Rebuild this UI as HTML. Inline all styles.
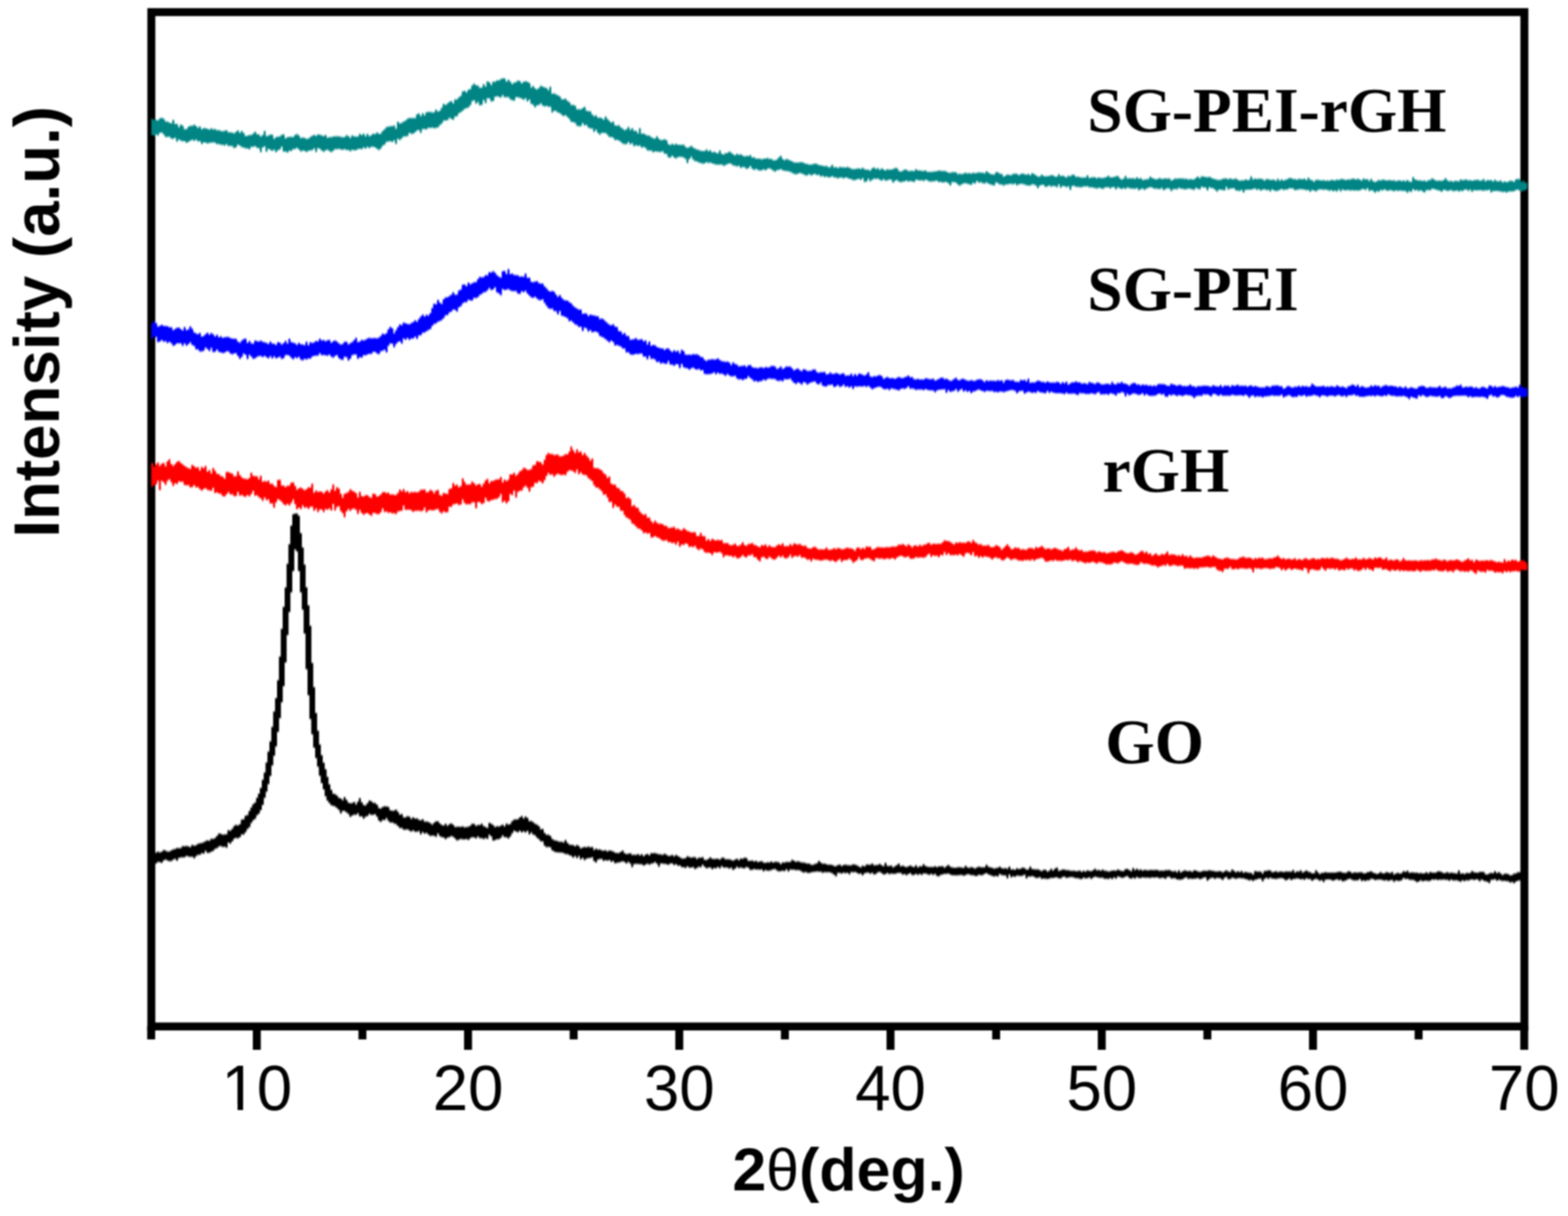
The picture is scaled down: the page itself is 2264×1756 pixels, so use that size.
<!DOCTYPE html>
<html><head><meta charset="utf-8"><style>
html,body{margin:0;padding:0;background:#fff;}
svg{display:block;filter:blur(0.8px);}
</style></head><body>
<svg width="2264" height="1756" viewBox="0 0 2264 1756">
<rect width="2264" height="1756" fill="#fff"/>
<rect x="218.5" y="17.5" width="1982.5" height="1464.8" fill="none" stroke="#000" stroke-width="11.5"/>
<g stroke="#000" stroke-width="11.5">
<line x1="218.3" y1="1482" x2="218.3" y2="1501"/>
<line x1="370.8" y1="1482" x2="370.8" y2="1516"/>
<line x1="523.3" y1="1482" x2="523.3" y2="1501"/>
<line x1="675.8" y1="1482" x2="675.8" y2="1516"/>
<line x1="828.3" y1="1482" x2="828.3" y2="1501"/>
<line x1="980.8" y1="1482" x2="980.8" y2="1516"/>
<line x1="1133.3" y1="1482" x2="1133.3" y2="1501"/>
<line x1="1285.8" y1="1482" x2="1285.8" y2="1516"/>
<line x1="1438.3" y1="1482" x2="1438.3" y2="1501"/>
<line x1="1590.8" y1="1482" x2="1590.8" y2="1516"/>
<line x1="1743.3" y1="1482" x2="1743.3" y2="1501"/>
<line x1="1895.8" y1="1482" x2="1895.8" y2="1516"/>
<line x1="2048.3" y1="1482" x2="2048.3" y2="1501"/>
<line x1="2200.8" y1="1482" x2="2200.8" y2="1516"/>
</g>
<g>
<path fill="#008484" fill-opacity="0.45" d="M218.5 170.4 221.2 170.4 221.2 172.0 224.0 172.0 224.0 172.1 226.8 172.1 226.8 172.7 229.5 172.7 229.5 170.0 232.2 170.0 232.2 168.9 235.0 168.9 235.0 170.4 237.8 170.4 237.8 174.3 240.5 174.3 240.5 174.4 243.2 174.4 243.2 176.1 246.0 176.1 246.0 177.1 248.8 177.1 248.8 172.0 251.5 172.0 251.5 177.8 254.2 177.8 254.2 178.0 257.0 178.0 257.0 182.4 259.8 182.4 259.8 178.8 262.5 178.8 262.5 180.4 265.2 180.4 265.2 185.6 268.0 185.6 268.0 185.2 270.8 185.2 270.8 181.9 273.5 181.9 273.5 180.5 276.2 180.5 276.2 180.8 279.0 180.8 279.0 178.9 281.8 178.9 281.8 181.1 284.5 181.1 284.5 183.4 287.2 183.4 287.2 181.6 290.0 181.6 290.0 185.4 292.8 185.4 292.8 184.0 295.5 184.0 295.5 183.9 298.2 183.9 298.2 184.9 301.0 184.9 301.0 186.1 303.8 186.1 303.8 184.3 306.5 184.3 306.5 185.8 309.2 185.8 309.2 185.2 312.0 185.2 312.0 187.0 314.8 187.0 314.8 186.8 317.5 186.8 317.5 187.9 320.2 187.9 320.2 188.4 323.0 188.4 323.0 187.7 325.8 187.7 325.8 186.9 328.5 186.9 328.5 189.9 331.2 189.9 331.2 190.0 334.0 190.0 334.0 190.5 336.8 190.5 336.8 191.6 339.5 191.6 339.5 189.2 342.2 189.2 342.2 187.2 345.0 187.2 345.0 190.8 347.8 190.8 347.8 188.0 350.5 188.0 350.5 191.0 353.2 191.0 353.2 195.2 356.0 195.2 356.0 194.9 358.8 194.9 358.8 193.7 361.5 193.7 361.5 193.9 364.2 193.9 364.2 191.8 367.0 191.8 367.0 189.3 369.8 189.3 369.8 192.4 372.5 192.4 372.5 193.3 375.2 193.3 375.2 195.9 378.0 195.9 378.0 193.8 380.8 193.8 380.8 187.9 383.5 187.9 383.5 195.4 386.2 195.4 386.2 194.7 389.0 194.7 389.0 193.3 391.8 193.3 391.8 193.6 394.5 193.6 394.5 199.3 397.2 199.3 397.2 197.1 400.0 197.1 400.0 196.2 402.8 196.2 402.8 196.1 405.5 196.1 405.5 193.4 408.2 193.4 408.2 193.0 411.0 193.0 411.0 198.8 413.8 198.8 413.8 197.0 416.5 197.0 416.5 196.4 419.2 196.4 419.2 196.6 422.0 196.6 422.0 196.7 424.8 196.7 424.8 193.8 427.5 193.8 427.5 192.6 430.2 192.6 430.2 194.6 433.0 194.6 433.0 198.2 435.8 198.2 435.8 197.5 438.5 197.5 438.5 198.0 441.2 198.0 441.2 199.5 444.0 199.5 444.0 199.1 446.8 199.1 446.8 196.7 449.5 196.7 449.5 195.1 452.2 195.1 452.2 193.8 455.0 193.8 455.0 195.3 457.8 195.3 457.8 193.1 460.5 193.1 460.5 193.5 463.2 193.5 463.2 194.5 466.0 194.5 466.0 195.5 468.8 195.5 468.8 193.7 471.5 193.7 471.5 197.9 474.2 197.9 474.2 197.0 477.0 197.0 477.0 197.1 479.8 197.1 479.8 196.1 482.5 196.1 482.5 195.7 485.2 195.7 485.2 195.7 488.0 195.7 488.0 195.7 490.8 195.7 490.8 196.5 493.5 196.5 493.5 197.3 496.2 197.3 496.2 196.7 499.0 196.7 499.0 194.3 501.8 194.3 501.8 195.5 504.5 195.5 504.5 198.1 507.2 198.1 507.2 194.5 510.0 194.5 510.0 195.8 512.8 195.8 512.8 196.3 515.5 196.3 515.5 195.9 518.2 195.9 518.2 192.3 521.0 192.3 521.0 194.1 523.8 194.1 523.8 192.0 526.5 192.0 526.5 195.7 529.2 195.7 529.2 192.2 532.0 192.2 532.0 195.6 534.8 195.6 534.8 193.9 537.5 193.9 537.5 192.0 540.2 192.0 540.2 192.4 543.0 192.4 543.0 190.2 545.8 190.2 545.8 192.3 548.5 192.3 548.5 191.8 551.2 191.8 551.2 188.0 554.0 188.0 554.0 185.4 556.8 185.4 556.8 182.6 559.5 182.6 559.5 181.7 562.2 181.7 562.2 181.2 565.0 181.2 565.0 181.0 567.8 181.0 567.8 180.3 570.5 180.3 570.5 184.8 573.2 184.8 573.2 174.8 576.0 174.8 576.0 177.3 578.8 177.3 578.8 176.2 581.5 176.2 581.5 174.5 584.2 174.5 584.2 172.9 587.0 172.9 587.0 170.6 589.8 170.6 589.8 169.2 592.5 169.2 592.5 169.4 595.2 169.4 595.2 169.2 598.0 169.2 598.0 169.4 600.8 169.4 600.8 164.1 603.5 164.1 603.5 162.8 606.2 162.8 606.2 166.4 609.0 166.4 609.0 162.6 611.8 162.6 611.8 165.4 614.5 165.4 614.5 161.0 617.2 161.0 617.2 160.6 620.0 160.6 620.0 160.5 622.8 160.5 622.8 161.5 625.5 161.5 625.5 161.1 628.2 161.1 628.2 157.2 631.0 157.2 631.0 160.0 633.8 160.0 633.8 158.8 636.5 158.8 636.5 154.6 639.2 154.6 639.2 149.1 642.0 149.1 642.0 150.4 644.8 150.4 644.8 148.6 647.5 148.6 647.5 146.0 650.2 146.0 650.2 144.9 653.0 144.9 653.0 148.0 655.8 148.0 655.8 142.5 658.5 142.5 658.5 142.4 661.2 142.4 661.2 139.6 664.0 139.6 664.0 137.2 666.8 137.2 666.8 131.1 669.5 131.1 669.5 129.9 672.2 129.9 672.2 132.3 675.0 132.3 675.0 128.4 677.8 128.4 677.8 127.6 680.5 127.6 680.5 122.3 683.2 122.3 683.2 119.8 686.0 119.8 686.0 122.0 688.8 122.0 688.8 122.5 691.5 122.5 691.5 125.7 694.2 125.7 694.2 125.3 697.0 125.3 697.0 120.5 699.8 120.5 699.8 123.7 702.5 123.7 702.5 116.4 705.2 116.4 705.2 117.7 708.0 117.7 708.0 121.4 710.8 121.4 710.8 116.7 713.5 116.7 713.5 117.0 716.2 117.0 716.2 115.1 719.0 115.1 719.0 115.0 721.8 115.0 721.8 113.3 724.5 113.3 724.5 112.1 727.2 112.1 727.2 112.3 730.0 112.3 730.0 116.7 732.8 116.7 732.8 114.1 735.5 114.1 735.5 116.7 738.2 116.7 738.2 120.3 741.0 120.3 741.0 118.2 743.8 118.2 743.8 117.4 746.5 117.4 746.5 115.2 749.2 115.2 749.2 116.0 752.0 116.0 752.0 119.3 754.8 119.3 754.8 117.0 757.5 117.0 757.5 116.2 760.2 116.2 760.2 117.1 763.0 117.1 763.0 118.7 765.8 118.7 765.8 125.2 768.5 125.2 768.5 123.1 771.2 123.1 771.2 126.4 774.0 126.4 774.0 128.1 776.8 128.1 776.8 125.9 779.5 125.9 779.5 122.7 782.2 122.7 782.2 124.0 785.0 124.0 785.0 125.3 787.8 125.3 787.8 126.1 790.5 126.1 790.5 129.3 793.2 129.3 793.2 124.3 796.0 124.3 796.0 134.2 798.8 134.2 798.8 133.7 801.5 133.7 801.5 135.2 804.2 135.2 804.2 136.6 807.0 136.6 807.0 138.3 809.8 138.3 809.8 142.3 812.5 142.3 812.5 142.3 815.2 142.3 815.2 141.4 818.0 141.4 818.0 144.4 820.8 144.4 820.8 146.4 823.5 146.4 823.5 150.5 826.2 150.5 826.2 150.4 829.0 150.4 829.0 151.5 831.8 151.5 831.8 156.7 834.5 156.7 834.5 156.4 837.2 156.4 837.2 157.1 840.0 157.1 840.0 154.9 842.8 154.9 842.8 153.3 845.5 153.3 845.5 158.7 848.2 158.7 848.2 159.6 851.0 159.6 851.0 159.8 853.8 159.8 853.8 164.3 856.5 164.3 856.5 166.7 859.2 166.7 859.2 165.5 862.0 165.5 862.0 169.0 864.8 169.0 864.8 168.7 867.5 168.7 867.5 169.6 870.2 169.6 870.2 171.8 873.0 171.8 873.0 167.2 875.8 167.2 875.8 170.7 878.5 170.7 878.5 173.6 881.2 173.6 881.2 176.1 884.0 176.1 884.0 174.4 886.8 174.4 886.8 180.0 889.5 180.0 889.5 180.4 892.2 180.4 892.2 179.7 895.0 179.7 895.0 182.8 897.8 182.8 897.8 184.7 900.5 184.7 900.5 187.1 903.2 187.1 903.2 185.5 906.0 185.5 906.0 182.2 908.8 182.2 908.8 186.4 911.5 186.4 911.5 184.1 914.2 184.1 914.2 187.7 917.0 187.7 917.0 188.1 919.8 188.1 919.8 191.5 922.5 191.5 922.5 183.9 925.2 183.9 925.2 192.0 928.0 192.0 928.0 191.8 930.8 191.8 930.8 193.2 933.5 193.2 933.5 194.8 936.2 194.8 936.2 194.7 939.0 194.7 939.0 197.1 941.8 197.1 941.8 198.6 944.5 198.6 944.5 199.1 947.2 199.1 947.2 195.8 950.0 195.8 950.0 199.3 952.8 199.3 952.8 201.3 955.5 201.3 955.5 201.1 958.2 201.1 958.2 200.0 961.0 200.0 961.0 201.4 963.8 201.4 963.8 207.1 966.5 207.1 966.5 208.4 969.2 208.4 969.2 206.4 972.0 206.4 972.0 208.0 974.8 208.0 974.8 206.4 977.5 206.4 977.5 207.9 980.2 207.9 980.2 208.1 983.0 208.1 983.0 208.2 985.8 208.2 985.8 207.7 988.5 207.7 988.5 210.9 991.2 210.9 991.2 212.6 994.0 212.6 994.0 211.3 996.8 211.3 996.8 209.6 999.5 209.6 999.5 212.0 1002.2 212.0 1002.2 213.4 1005.0 213.4 1005.0 214.7 1007.8 214.7 1007.8 215.4 1010.5 215.4 1010.5 216.7 1013.2 216.7 1013.2 216.9 1016.0 216.9 1016.0 217.0 1018.8 217.0 1018.8 214.7 1021.5 214.7 1021.5 217.2 1024.2 217.2 1024.2 216.0 1027.0 216.0 1027.0 218.9 1029.8 218.9 1029.8 218.0 1032.5 218.0 1032.5 219.6 1035.2 219.6 1035.2 220.3 1038.0 220.3 1038.0 216.2 1040.8 216.2 1040.8 220.9 1043.5 220.9 1043.5 222.0 1046.2 222.0 1046.2 220.2 1049.0 220.2 1049.0 219.8 1051.8 219.8 1051.8 217.8 1054.5 217.8 1054.5 219.5 1057.2 219.5 1057.2 221.7 1060.0 221.7 1060.0 223.3 1062.8 223.3 1062.8 221.1 1065.5 221.1 1065.5 222.5 1068.2 222.5 1068.2 221.7 1071.0 221.7 1071.0 223.6 1073.8 223.6 1073.8 225.0 1076.5 225.0 1076.5 224.1 1079.2 224.1 1079.2 224.3 1082.0 224.3 1082.0 223.0 1084.8 223.0 1084.8 226.5 1087.5 226.5 1087.5 226.0 1090.2 226.0 1090.2 228.1 1093.0 228.1 1093.0 228.1 1095.8 228.1 1095.8 227.9 1098.5 227.9 1098.5 229.3 1101.2 229.3 1101.2 228.1 1104.0 228.1 1104.0 227.9 1106.8 227.9 1106.8 227.1 1109.5 227.1 1109.5 228.6 1112.2 228.6 1112.2 228.3 1115.0 228.3 1115.0 230.2 1117.8 230.2 1117.8 230.5 1120.5 230.5 1120.5 229.3 1123.2 229.3 1123.2 226.3 1126.0 226.3 1126.0 224.0 1128.8 224.0 1128.8 228.6 1131.5 228.6 1131.5 230.3 1134.2 230.3 1134.2 228.6 1137.0 228.6 1137.0 229.6 1139.8 229.6 1139.8 230.7 1142.5 230.7 1142.5 232.0 1145.2 232.0 1145.2 233.6 1148.0 233.6 1148.0 233.6 1150.8 233.6 1150.8 233.8 1153.5 233.8 1153.5 233.3 1156.2 233.3 1156.2 233.0 1159.0 233.0 1159.0 233.9 1161.8 233.9 1161.8 235.3 1164.5 235.3 1164.5 235.7 1167.2 235.7 1167.2 236.8 1170.0 236.8 1170.0 236.4 1172.8 236.4 1172.8 236.1 1175.5 236.1 1175.5 234.9 1178.2 234.9 1178.2 235.7 1181.0 235.7 1181.0 237.3 1183.8 237.3 1183.8 237.8 1186.5 237.8 1186.5 238.2 1189.2 238.2 1189.2 238.9 1192.0 238.9 1192.0 238.4 1194.8 238.4 1194.8 240.4 1197.5 240.4 1197.5 240.3 1200.2 240.3 1200.2 237.0 1203.0 237.0 1203.0 240.7 1205.8 240.7 1205.8 240.1 1208.5 240.1 1208.5 241.8 1211.2 241.8 1211.2 240.0 1214.0 240.0 1214.0 240.6 1216.8 240.6 1216.8 240.6 1219.5 240.6 1219.5 241.0 1222.2 241.0 1222.2 239.9 1225.0 239.9 1225.0 241.1 1227.8 241.1 1227.8 242.5 1230.5 242.5 1230.5 243.3 1233.2 243.3 1233.2 242.9 1236.0 242.9 1236.0 242.5 1238.8 242.5 1238.8 242.0 1241.5 242.0 1241.5 243.1 1244.2 243.1 1244.2 241.2 1247.0 241.2 1247.0 243.3 1249.8 243.3 1249.8 243.9 1252.5 243.9 1252.5 243.9 1255.2 243.9 1255.2 245.3 1258.0 245.3 1258.0 242.1 1260.8 242.1 1260.8 240.8 1263.5 240.8 1263.5 242.9 1266.2 242.9 1266.2 241.8 1269.0 241.8 1269.0 244.2 1271.8 244.2 1271.8 242.0 1274.5 242.0 1274.5 243.7 1277.2 243.7 1277.2 244.9 1280.0 244.9 1280.0 243.2 1282.8 243.2 1282.8 244.1 1285.5 244.1 1285.5 243.7 1288.2 243.7 1288.2 243.1 1291.0 243.1 1291.0 241.6 1293.8 241.6 1293.8 241.7 1296.5 241.7 1296.5 245.4 1299.2 245.4 1299.2 246.8 1302.0 246.8 1302.0 245.5 1304.8 245.5 1304.8 243.8 1307.5 243.8 1307.5 243.9 1310.2 243.9 1310.2 246.0 1313.0 246.0 1313.0 245.7 1315.8 245.7 1315.8 245.4 1318.5 245.4 1318.5 246.0 1321.2 246.0 1321.2 243.3 1324.0 243.3 1324.0 245.0 1326.8 245.0 1326.8 244.9 1329.5 244.9 1329.5 245.8 1332.2 245.8 1332.2 245.7 1335.0 245.7 1335.0 244.9 1337.8 244.9 1337.8 247.3 1340.5 247.3 1340.5 247.1 1343.2 247.1 1343.2 247.3 1346.0 247.3 1346.0 246.7 1348.8 246.7 1348.8 246.4 1351.5 246.4 1351.5 245.9 1354.2 245.9 1354.2 245.2 1357.0 245.2 1357.0 245.5 1359.8 245.5 1359.8 245.9 1362.5 245.9 1362.5 245.7 1365.2 245.7 1365.2 246.7 1368.0 246.7 1368.0 248.2 1370.8 248.2 1370.8 248.5 1373.5 248.5 1373.5 247.4 1376.2 247.4 1376.2 247.5 1379.0 247.5 1379.0 247.8 1381.8 247.8 1381.8 250.4 1384.5 250.4 1384.5 249.4 1387.2 249.4 1387.2 250.5 1390.0 250.5 1390.0 249.5 1392.8 249.5 1392.8 248.2 1395.5 248.2 1395.5 249.5 1398.2 249.5 1398.2 248.7 1401.0 248.7 1401.0 249.7 1403.8 249.7 1403.8 248.2 1406.5 248.2 1406.5 249.2 1409.2 249.2 1409.2 248.6 1412.0 248.6 1412.0 247.8 1414.8 247.8 1414.8 248.3 1417.5 248.3 1417.5 248.2 1420.2 248.2 1420.2 249.3 1423.0 249.3 1423.0 246.3 1425.8 246.3 1425.8 248.1 1428.5 248.1 1428.5 249.9 1431.2 249.9 1431.2 250.8 1434.0 250.8 1434.0 251.1 1436.8 251.1 1436.8 247.7 1439.5 247.7 1439.5 247.6 1442.2 247.6 1442.2 249.8 1445.0 249.8 1445.0 250.2 1447.8 250.2 1447.8 253.9 1450.5 253.9 1450.5 252.4 1453.2 252.4 1453.2 251.1 1456.0 251.1 1456.0 251.6 1458.8 251.6 1458.8 251.9 1461.5 251.9 1461.5 250.1 1464.2 250.1 1464.2 249.8 1467.0 249.8 1467.0 249.9 1469.8 249.9 1469.8 252.0 1472.5 252.0 1472.5 250.3 1475.2 250.3 1475.2 249.4 1478.0 249.4 1478.0 250.6 1480.8 250.6 1480.8 251.2 1483.5 251.2 1483.5 250.0 1486.2 250.0 1486.2 252.1 1489.0 252.1 1489.0 249.0 1491.8 249.0 1491.8 250.3 1494.5 250.3 1494.5 252.0 1497.2 252.0 1497.2 254.0 1500.0 254.0 1500.0 253.7 1502.8 253.7 1502.8 251.0 1505.5 251.0 1505.5 253.0 1508.2 253.0 1508.2 253.8 1511.0 253.8 1511.0 253.3 1513.8 253.3 1513.8 252.9 1516.5 252.9 1516.5 251.8 1519.2 251.8 1519.2 252.2 1522.0 252.2 1522.0 254.1 1524.8 254.1 1524.8 253.9 1527.5 253.9 1527.5 250.6 1530.2 250.6 1530.2 253.3 1533.0 253.3 1533.0 252.6 1535.8 252.6 1535.8 253.7 1538.5 253.7 1538.5 255.2 1541.2 255.2 1541.2 252.7 1544.0 252.7 1544.0 253.4 1546.8 253.4 1546.8 251.3 1549.5 251.3 1549.5 251.5 1552.2 251.5 1552.2 254.3 1555.0 254.3 1555.0 254.0 1557.8 254.0 1557.8 254.8 1560.5 254.8 1560.5 255.6 1563.2 255.6 1563.2 255.3 1566.0 255.3 1566.0 255.3 1568.8 255.3 1568.8 251.9 1571.5 251.9 1571.5 256.0 1574.2 256.0 1574.2 255.3 1577.0 255.3 1577.0 254.8 1579.8 254.8 1579.8 255.0 1582.5 255.0 1582.5 256.4 1585.2 256.4 1585.2 255.0 1588.0 255.0 1588.0 256.0 1590.8 256.0 1590.8 255.9 1593.5 255.9 1593.5 255.4 1596.2 255.4 1596.2 254.4 1599.0 254.4 1599.0 252.7 1601.8 252.7 1601.8 255.1 1604.5 255.1 1604.5 254.9 1607.2 254.9 1607.2 254.6 1610.0 254.6 1610.0 253.5 1612.8 253.5 1612.8 253.1 1615.5 253.1 1615.5 256.2 1618.2 256.2 1618.2 258.3 1621.0 258.3 1621.0 256.7 1623.8 256.7 1623.8 253.1 1626.5 253.1 1626.5 256.7 1629.2 256.7 1629.2 256.2 1632.0 256.2 1632.0 256.4 1634.8 256.4 1634.8 256.2 1637.5 256.2 1637.5 257.2 1640.2 257.2 1640.2 255.1 1643.0 255.1 1643.0 257.1 1645.8 257.1 1645.8 256.1 1648.5 256.1 1648.5 258.7 1651.2 258.7 1651.2 258.2 1654.0 258.2 1654.0 257.8 1656.8 257.8 1656.8 257.6 1659.5 257.6 1659.5 254.1 1662.2 254.1 1662.2 256.0 1665.0 256.0 1665.0 256.9 1667.8 256.9 1667.8 258.1 1670.5 258.1 1670.5 257.3 1673.2 257.3 1673.2 256.1 1676.0 256.1 1676.0 257.4 1678.8 257.4 1678.8 256.9 1681.5 256.9 1681.5 256.4 1684.2 256.4 1684.2 256.9 1687.0 256.9 1687.0 256.5 1689.8 256.5 1689.8 259.6 1692.5 259.6 1692.5 258.5 1695.2 258.5 1695.2 256.7 1698.0 256.7 1698.0 257.0 1700.8 257.0 1700.8 256.5 1703.5 256.5 1703.5 256.7 1706.2 256.7 1706.2 256.5 1709.0 256.5 1709.0 257.2 1711.8 257.2 1711.8 257.1 1714.5 257.1 1714.5 258.2 1717.2 258.2 1717.2 257.6 1720.0 257.6 1720.0 258.0 1722.8 258.0 1722.8 258.1 1725.5 258.1 1725.5 255.7 1728.2 255.7 1728.2 254.1 1731.0 254.1 1731.0 256.2 1733.8 256.2 1733.8 253.6 1736.5 253.6 1736.5 254.0 1739.2 254.0 1739.2 254.6 1742.0 254.6 1742.0 255.0 1744.8 255.0 1744.8 254.3 1747.5 254.3 1747.5 255.6 1750.2 255.6 1750.2 257.0 1753.0 257.0 1753.0 257.4 1755.8 257.4 1755.8 258.5 1758.5 258.5 1758.5 258.7 1761.2 258.7 1761.2 258.6 1764.0 258.6 1764.0 257.3 1766.8 257.3 1766.8 256.5 1769.5 256.5 1769.5 256.7 1772.2 256.7 1772.2 257.8 1775.0 257.8 1775.0 256.6 1777.8 256.6 1777.8 257.7 1780.5 257.7 1780.5 257.4 1783.2 257.4 1783.2 256.7 1786.0 256.7 1786.0 258.6 1788.8 258.6 1788.8 260.0 1791.5 260.0 1791.5 259.2 1794.2 259.2 1794.2 259.6 1797.0 259.6 1797.0 257.9 1799.8 257.9 1799.8 259.0 1802.5 259.0 1802.5 258.5 1805.2 258.5 1805.2 253.8 1808.0 253.8 1808.0 258.0 1810.8 258.0 1810.8 256.8 1813.5 256.8 1813.5 257.5 1816.2 257.5 1816.2 257.1 1819.0 257.1 1819.0 257.1 1821.8 257.1 1821.8 257.7 1824.5 257.7 1824.5 259.7 1827.2 259.7 1827.2 257.5 1830.0 257.5 1830.0 257.8 1832.8 257.8 1832.8 258.8 1835.5 258.8 1835.5 258.5 1838.2 258.5 1838.2 258.6 1841.0 258.6 1841.0 259.9 1843.8 259.9 1843.8 256.9 1846.5 256.9 1846.5 260.1 1849.2 260.1 1849.2 257.9 1852.0 257.9 1852.0 259.8 1854.8 259.8 1854.8 258.4 1857.5 258.4 1857.5 257.8 1860.2 257.8 1860.2 256.1 1863.0 256.1 1863.0 256.2 1865.8 256.2 1865.8 257.6 1868.5 257.6 1868.5 257.5 1871.2 257.5 1871.2 258.5 1874.0 258.5 1874.0 257.2 1876.8 257.2 1876.8 257.5 1879.5 257.5 1879.5 257.7 1882.2 257.7 1882.2 256.9 1885.0 256.9 1885.0 259.1 1887.8 259.1 1887.8 255.6 1890.5 255.6 1890.5 258.3 1893.2 258.3 1893.2 259.2 1896.0 259.2 1896.0 261.3 1898.8 261.3 1898.8 258.8 1901.5 258.8 1901.5 258.5 1904.2 258.5 1904.2 259.2 1907.0 259.2 1907.0 259.4 1909.8 259.4 1909.8 258.9 1912.5 258.9 1912.5 260.0 1915.2 260.0 1915.2 259.6 1918.0 259.6 1918.0 260.0 1920.8 260.0 1920.8 258.8 1923.5 258.8 1923.5 258.9 1926.2 258.9 1926.2 259.6 1929.0 259.6 1929.0 258.2 1931.8 258.2 1931.8 259.1 1934.5 259.1 1934.5 257.5 1937.2 257.5 1937.2 257.4 1940.0 257.4 1940.0 258.4 1942.8 258.4 1942.8 258.7 1945.5 258.7 1945.5 258.0 1948.2 258.0 1948.2 258.3 1951.0 258.3 1951.0 256.9 1953.8 256.9 1953.8 257.1 1956.5 257.1 1956.5 258.2 1959.2 258.2 1959.2 257.1 1962.0 257.1 1962.0 258.3 1964.8 258.3 1964.8 259.8 1967.5 259.8 1967.5 256.7 1970.2 256.7 1970.2 258.1 1973.0 258.1 1973.0 257.7 1975.8 257.7 1975.8 260.2 1978.5 260.2 1978.5 257.2 1981.2 257.2 1981.2 260.5 1984.0 260.5 1984.0 261.7 1986.8 261.7 1986.8 260.6 1989.5 260.6 1989.5 258.8 1992.2 258.8 1992.2 259.4 1995.0 259.4 1995.0 258.3 1997.8 258.3 1997.8 258.7 2000.5 258.7 2000.5 259.6 2003.2 259.6 2003.2 259.2 2006.0 259.2 2006.0 258.9 2008.8 258.9 2008.8 259.7 2011.5 259.7 2011.5 259.2 2014.2 259.2 2014.2 260.4 2017.0 260.4 2017.0 259.8 2019.8 259.8 2019.8 259.2 2022.5 259.2 2022.5 260.6 2025.2 260.6 2025.2 259.4 2028.0 259.4 2028.0 260.7 2030.8 260.7 2030.8 258.7 2033.5 258.7 2033.5 261.1 2036.2 261.1 2036.2 261.4 2039.0 261.4 2039.0 254.8 2041.8 254.8 2041.8 258.1 2044.5 258.1 2044.5 258.9 2047.2 258.9 2047.2 259.5 2050.0 259.5 2050.0 259.4 2052.8 259.4 2052.8 260.2 2055.5 260.2 2055.5 259.5 2058.2 259.5 2058.2 261.0 2061.0 261.0 2061.0 259.2 2063.8 259.2 2063.8 258.7 2066.5 258.7 2066.5 256.5 2069.2 256.5 2069.2 258.0 2072.0 258.0 2072.0 259.7 2074.8 259.7 2074.8 260.1 2077.5 260.1 2077.5 259.4 2080.2 259.4 2080.2 260.3 2083.0 260.3 2083.0 259.0 2085.8 259.0 2085.8 256.2 2088.5 256.2 2088.5 259.3 2091.2 259.3 2091.2 260.8 2094.0 260.8 2094.0 259.9 2096.8 259.9 2096.8 261.4 2099.5 261.4 2099.5 260.0 2102.2 260.0 2102.2 260.2 2105.0 260.2 2105.0 260.8 2107.8 260.8 2107.8 257.9 2110.5 257.9 2110.5 259.3 2113.2 259.3 2113.2 258.4 2116.0 258.4 2116.0 258.2 2118.8 258.2 2118.8 259.6 2121.5 259.6 2121.5 258.9 2124.2 258.9 2124.2 259.9 2127.0 259.9 2127.0 259.3 2129.8 259.3 2129.8 258.8 2132.5 258.8 2132.5 258.5 2135.2 258.5 2135.2 259.7 2138.0 259.7 2138.0 259.4 2140.8 259.4 2140.8 257.4 2143.5 257.4 2143.5 260.7 2146.2 260.7 2146.2 259.1 2149.0 259.1 2149.0 259.3 2151.8 259.3 2151.8 259.1 2154.5 259.1 2154.5 261.1 2157.2 261.1 2157.2 258.5 2160.0 258.5 2160.0 260.6 2162.8 260.6 2162.8 260.8 2165.5 260.8 2165.5 259.5 2168.2 259.5 2168.2 262.2 2171.0 262.2 2171.0 261.1 2173.8 261.1 2173.8 262.0 2176.5 262.0 2176.5 261.2 2179.2 261.2 2179.2 259.8 2182.0 259.8 2182.0 260.2 2184.8 260.2 2184.8 261.4 2187.5 261.4 2187.5 257.9 2190.2 257.9 2190.2 257.3 2193.0 257.3 2193.0 257.8 2195.8 257.8 2195.8 261.7 2198.5 261.7 2198.5 259.8 2201.2 259.8 2201.2 262.7 2204.0 262.7 2204.0 262.6 2205.1 262.6 2205.1 274.1 2204.0 274.1 2204.0 275.8 2201.2 275.8 2201.2 276.2 2198.5 276.2 2198.5 277.7 2195.8 277.7 2195.8 276.4 2193.0 276.4 2193.0 275.1 2190.2 275.1 2190.2 275.5 2187.5 275.5 2187.5 277.3 2184.8 277.3 2184.8 277.6 2182.0 277.6 2182.0 277.4 2179.2 277.4 2179.2 277.7 2176.5 277.7 2176.5 279.2 2173.8 279.2 2173.8 277.8 2171.0 277.8 2171.0 278.6 2168.2 278.6 2168.2 277.5 2165.5 277.5 2165.5 277.3 2162.8 277.3 2162.8 276.7 2160.0 276.7 2160.0 276.9 2157.2 276.9 2157.2 276.9 2154.5 276.9 2154.5 279.0 2151.8 279.0 2151.8 275.0 2149.0 275.0 2149.0 276.0 2146.2 276.0 2146.2 275.8 2143.5 275.8 2143.5 276.8 2140.8 276.8 2140.8 276.1 2138.0 276.1 2138.0 275.7 2135.2 275.7 2135.2 276.1 2132.5 276.1 2132.5 276.0 2129.8 276.0 2129.8 275.8 2127.0 275.8 2127.0 278.1 2124.2 278.1 2124.2 275.1 2121.5 275.1 2121.5 276.8 2118.8 276.8 2118.8 274.7 2116.0 274.7 2116.0 275.1 2113.2 275.1 2113.2 276.9 2110.5 276.9 2110.5 276.5 2107.8 276.5 2107.8 277.4 2105.0 277.4 2105.0 276.3 2102.2 276.3 2102.2 276.8 2099.5 276.8 2099.5 277.3 2096.8 277.3 2096.8 275.5 2094.0 275.5 2094.0 276.2 2091.2 276.2 2091.2 277.0 2088.5 277.0 2088.5 275.4 2085.8 275.4 2085.8 275.3 2083.0 275.3 2083.0 278.1 2080.2 278.1 2080.2 276.5 2077.5 276.5 2077.5 275.8 2074.8 275.8 2074.8 275.1 2072.0 275.1 2072.0 274.1 2069.2 274.1 2069.2 273.4 2066.5 273.4 2066.5 275.9 2063.8 275.9 2063.8 275.5 2061.0 275.5 2061.0 275.7 2058.2 275.7 2058.2 279.1 2055.5 279.1 2055.5 277.6 2052.8 277.6 2052.8 275.7 2050.0 275.7 2050.0 277.0 2047.2 277.0 2047.2 275.4 2044.5 275.4 2044.5 276.3 2041.8 276.3 2041.8 274.3 2039.0 274.3 2039.0 278.3 2036.2 278.3 2036.2 276.9 2033.5 276.9 2033.5 279.5 2030.8 279.5 2030.8 277.1 2028.0 277.1 2028.0 276.8 2025.2 276.8 2025.2 276.4 2022.5 276.4 2022.5 276.3 2019.8 276.3 2019.8 276.8 2017.0 276.8 2017.0 276.1 2014.2 276.1 2014.2 277.2 2011.5 277.2 2011.5 276.2 2008.8 276.2 2008.8 275.5 2006.0 275.5 2006.0 276.4 2003.2 276.4 2003.2 276.2 2000.5 276.2 2000.5 274.5 1997.8 274.5 1997.8 276.1 1995.0 276.1 1995.0 275.5 1992.2 275.5 1992.2 277.9 1989.5 277.9 1989.5 276.9 1986.8 276.9 1986.8 279.2 1984.0 279.2 1984.0 276.8 1981.2 276.8 1981.2 275.8 1978.5 275.8 1978.5 276.9 1975.8 276.9 1975.8 272.9 1973.0 272.9 1973.0 275.5 1970.2 275.5 1970.2 274.0 1967.5 274.0 1967.5 274.6 1964.8 274.6 1964.8 275.9 1962.0 275.9 1962.0 276.2 1959.2 276.2 1959.2 276.0 1956.5 276.0 1956.5 276.3 1953.8 276.3 1953.8 275.8 1951.0 275.8 1951.0 276.2 1948.2 276.2 1948.2 275.5 1945.5 275.5 1945.5 275.7 1942.8 275.7 1942.8 275.9 1940.0 275.9 1940.0 274.8 1937.2 274.8 1937.2 277.4 1934.5 277.4 1934.5 274.6 1931.8 274.6 1931.8 277.4 1929.0 277.4 1929.0 276.3 1926.2 276.3 1926.2 277.2 1923.5 277.2 1923.5 275.4 1920.8 275.4 1920.8 276.5 1918.0 276.5 1918.0 275.5 1915.2 275.5 1915.2 274.7 1912.5 274.7 1912.5 275.2 1909.8 275.2 1909.8 274.7 1907.0 274.7 1907.0 274.6 1904.2 274.6 1904.2 275.5 1901.5 275.5 1901.5 277.6 1898.8 277.6 1898.8 276.2 1896.0 276.2 1896.0 275.4 1893.2 275.4 1893.2 278.0 1890.5 278.0 1890.5 275.4 1887.8 275.4 1887.8 275.8 1885.0 275.8 1885.0 274.9 1882.2 274.9 1882.2 274.4 1879.5 274.4 1879.5 274.3 1876.8 274.3 1876.8 274.4 1874.0 274.4 1874.0 275.2 1871.2 275.2 1871.2 275.8 1868.5 275.8 1868.5 273.5 1865.8 273.5 1865.8 273.1 1863.0 273.1 1863.0 273.0 1860.2 273.0 1860.2 274.8 1857.5 274.8 1857.5 274.8 1854.8 274.8 1854.8 275.5 1852.0 275.5 1852.0 274.1 1849.2 274.1 1849.2 275.2 1846.5 275.2 1846.5 276.6 1843.8 276.6 1843.8 277.0 1841.0 277.0 1841.0 275.9 1838.2 275.9 1838.2 274.6 1835.5 274.6 1835.5 277.5 1832.8 277.5 1832.8 275.2 1830.0 275.2 1830.0 275.8 1827.2 275.8 1827.2 274.3 1824.5 274.3 1824.5 274.9 1821.8 274.9 1821.8 276.2 1819.0 276.2 1819.0 274.2 1816.2 274.2 1816.2 275.2 1813.5 275.2 1813.5 273.3 1810.8 273.3 1810.8 273.9 1808.0 273.9 1808.0 275.1 1805.2 275.1 1805.2 275.1 1802.5 275.1 1802.5 275.1 1799.8 275.1 1799.8 275.3 1797.0 275.3 1797.0 279.0 1794.2 279.0 1794.2 275.2 1791.5 275.2 1791.5 276.8 1788.8 276.8 1788.8 276.4 1786.0 276.4 1786.0 276.1 1783.2 276.1 1783.2 273.0 1780.5 273.0 1780.5 273.1 1777.8 273.1 1777.8 273.5 1775.0 273.5 1775.0 274.8 1772.2 274.8 1772.2 271.1 1769.5 271.1 1769.5 276.0 1766.8 276.0 1766.8 275.4 1764.0 275.4 1764.0 275.0 1761.2 275.0 1761.2 274.9 1758.5 274.9 1758.5 277.8 1755.8 277.8 1755.8 274.9 1753.0 274.9 1753.0 273.0 1750.2 273.0 1750.2 272.4 1747.5 272.4 1747.5 271.5 1744.8 271.5 1744.8 275.9 1742.0 275.9 1742.0 272.0 1739.2 272.0 1739.2 271.7 1736.5 271.7 1736.5 270.7 1733.8 270.7 1733.8 274.4 1731.0 274.4 1731.0 273.7 1728.2 273.7 1728.2 272.2 1725.5 272.2 1725.5 275.3 1722.8 275.3 1722.8 274.5 1720.0 274.5 1720.0 273.8 1717.2 273.8 1717.2 273.3 1714.5 273.3 1714.5 274.3 1711.8 274.3 1711.8 274.4 1709.0 274.4 1709.0 273.7 1706.2 273.7 1706.2 273.4 1703.5 273.4 1703.5 272.2 1700.8 272.2 1700.8 274.4 1698.0 274.4 1698.0 274.1 1695.2 274.1 1695.2 274.6 1692.5 274.6 1692.5 277.0 1689.8 277.0 1689.8 273.4 1687.0 273.4 1687.0 272.7 1684.2 272.7 1684.2 274.2 1681.5 274.2 1681.5 275.7 1678.8 275.7 1678.8 272.6 1676.0 272.6 1676.0 274.3 1673.2 274.3 1673.2 273.7 1670.5 273.7 1670.5 273.5 1667.8 273.5 1667.8 273.5 1665.0 273.5 1665.0 272.0 1662.2 272.0 1662.2 271.2 1659.5 271.2 1659.5 272.3 1656.8 272.3 1656.8 273.5 1654.0 273.5 1654.0 275.3 1651.2 275.3 1651.2 273.2 1648.5 273.2 1648.5 274.2 1645.8 274.2 1645.8 275.8 1643.0 275.8 1643.0 272.8 1640.2 272.8 1640.2 273.8 1637.5 273.8 1637.5 273.4 1634.8 273.4 1634.8 273.5 1632.0 273.5 1632.0 272.7 1629.2 272.7 1629.2 271.8 1626.5 271.8 1626.5 273.9 1623.8 273.9 1623.8 272.8 1621.0 272.8 1621.0 274.0 1618.2 274.0 1618.2 273.0 1615.5 273.0 1615.5 271.5 1612.8 271.5 1612.8 274.6 1610.0 274.6 1610.0 271.6 1607.2 271.6 1607.2 271.2 1604.5 271.2 1604.5 273.3 1601.8 273.3 1601.8 271.5 1599.0 271.5 1599.0 271.5 1596.2 271.5 1596.2 272.2 1593.5 272.2 1593.5 274.1 1590.8 274.1 1590.8 272.7 1588.0 272.7 1588.0 272.2 1585.2 272.2 1585.2 273.3 1582.5 273.3 1582.5 272.7 1579.8 272.7 1579.8 272.1 1577.0 272.1 1577.0 271.4 1574.2 271.4 1574.2 271.8 1571.5 271.8 1571.5 270.1 1568.8 270.1 1568.8 270.4 1566.0 270.4 1566.0 270.3 1563.2 270.3 1563.2 271.6 1560.5 271.6 1560.5 271.5 1557.8 271.5 1557.8 271.0 1555.0 271.0 1555.0 270.9 1552.2 270.9 1552.2 269.2 1549.5 269.2 1549.5 269.8 1546.8 269.8 1546.8 275.2 1544.0 275.2 1544.0 270.2 1541.2 270.2 1541.2 271.4 1538.5 271.4 1538.5 270.0 1535.8 270.0 1535.8 269.8 1533.0 269.8 1533.0 271.9 1530.2 271.9 1530.2 267.5 1527.5 267.5 1527.5 271.4 1524.8 271.4 1524.8 270.0 1522.0 270.0 1522.0 269.6 1519.2 269.6 1519.2 270.8 1516.5 270.8 1516.5 268.8 1513.8 268.8 1513.8 270.3 1511.0 270.3 1511.0 271.0 1508.2 271.0 1508.2 268.1 1505.5 268.1 1505.5 267.9 1502.8 267.9 1502.8 269.2 1500.0 269.2 1500.0 272.8 1497.2 272.8 1497.2 269.3 1494.5 269.3 1494.5 267.4 1491.8 267.4 1491.8 267.2 1489.0 267.2 1489.0 269.0 1486.2 269.0 1486.2 268.9 1483.5 268.9 1483.5 268.8 1480.8 268.8 1480.8 267.6 1478.0 267.6 1478.0 266.7 1475.2 266.7 1475.2 266.6 1472.5 266.6 1472.5 267.2 1469.8 267.2 1469.8 268.7 1467.0 268.7 1467.0 265.9 1464.2 265.9 1464.2 267.5 1461.5 267.5 1461.5 266.5 1458.8 266.5 1458.8 266.8 1456.0 266.8 1456.0 267.5 1453.2 267.5 1453.2 267.5 1450.5 267.5 1450.5 269.3 1447.8 269.3 1447.8 267.5 1445.0 267.5 1445.0 267.4 1442.2 267.4 1442.2 265.5 1439.5 265.5 1439.5 264.6 1436.8 264.6 1436.8 268.9 1434.0 268.9 1434.0 268.2 1431.2 268.2 1431.2 267.2 1428.5 267.2 1428.5 266.3 1425.8 266.3 1425.8 264.6 1423.0 264.6 1423.0 266.3 1420.2 266.3 1420.2 265.4 1417.5 265.4 1417.5 264.2 1414.8 264.2 1414.8 264.8 1412.0 264.8 1412.0 262.6 1409.2 262.6 1409.2 266.3 1406.5 266.3 1406.5 265.0 1403.8 265.0 1403.8 268.1 1401.0 268.1 1401.0 267.3 1398.2 267.3 1398.2 266.6 1395.5 266.6 1395.5 265.6 1392.8 265.6 1392.8 266.0 1390.0 266.0 1390.0 267.2 1387.2 267.2 1387.2 269.2 1384.5 269.2 1384.5 267.4 1381.8 267.4 1381.8 265.1 1379.0 265.1 1379.0 264.0 1376.2 264.0 1376.2 264.3 1373.5 264.3 1373.5 269.0 1370.8 269.0 1370.8 265.7 1368.0 265.7 1368.0 264.1 1365.2 264.1 1365.2 264.1 1362.5 264.1 1362.5 264.7 1359.8 264.7 1359.8 263.7 1357.0 263.7 1357.0 264.0 1354.2 264.0 1354.2 262.0 1351.5 262.0 1351.5 262.5 1348.8 262.5 1348.8 262.9 1346.0 262.9 1346.0 263.3 1343.2 263.3 1343.2 263.3 1340.5 263.3 1340.5 261.5 1337.8 261.5 1337.8 260.8 1335.0 260.8 1335.0 262.4 1332.2 262.4 1332.2 261.3 1329.5 261.3 1329.5 262.0 1326.8 262.0 1326.8 261.1 1324.0 261.1 1324.0 260.7 1321.2 260.7 1321.2 264.1 1318.5 264.1 1318.5 262.9 1315.8 262.9 1315.8 262.6 1313.0 262.6 1313.0 263.3 1310.2 263.3 1310.2 261.8 1307.5 261.8 1307.5 263.1 1304.8 263.1 1304.8 263.6 1302.0 263.6 1302.0 264.2 1299.2 264.2 1299.2 263.2 1296.5 263.2 1296.5 260.9 1293.8 260.9 1293.8 262.3 1291.0 262.3 1291.0 264.7 1288.2 264.7 1288.2 260.7 1285.5 260.7 1285.5 260.3 1282.8 260.3 1282.8 261.6 1280.0 261.6 1280.0 261.9 1277.2 261.9 1277.2 259.8 1274.5 259.8 1274.5 262.0 1271.8 262.0 1271.8 260.7 1269.0 260.7 1269.0 259.1 1266.2 259.1 1266.2 259.5 1263.5 259.5 1263.5 259.0 1260.8 259.0 1260.8 260.8 1258.0 260.8 1258.0 262.7 1255.2 262.7 1255.2 259.3 1252.5 259.3 1252.5 263.2 1249.8 263.2 1249.8 263.8 1247.0 263.8 1247.0 258.4 1244.2 258.4 1244.2 260.9 1241.5 260.9 1241.5 259.3 1238.8 259.3 1238.8 260.1 1236.0 260.1 1236.0 261.2 1233.2 261.2 1233.2 261.3 1230.5 261.3 1230.5 259.8 1227.8 259.8 1227.8 259.2 1225.0 259.2 1225.0 257.9 1222.2 257.9 1222.2 257.3 1219.5 257.3 1219.5 258.7 1216.8 258.7 1216.8 257.5 1214.0 257.5 1214.0 257.6 1211.2 257.6 1211.2 258.8 1208.5 258.8 1208.5 257.5 1205.8 257.5 1205.8 257.2 1203.0 257.2 1203.0 255.6 1200.2 255.6 1200.2 256.9 1197.5 256.9 1197.5 257.3 1194.8 257.3 1194.8 255.9 1192.0 255.9 1192.0 256.7 1189.2 256.7 1189.2 255.0 1186.5 255.0 1186.5 256.0 1183.8 256.0 1183.8 253.4 1181.0 253.4 1181.0 253.9 1178.2 253.9 1178.2 252.2 1175.5 252.2 1175.5 253.0 1172.8 253.0 1172.8 254.4 1170.0 254.4 1170.0 252.6 1167.2 252.6 1167.2 254.3 1164.5 254.3 1164.5 254.5 1161.8 254.5 1161.8 252.8 1159.0 252.8 1159.0 251.8 1156.2 251.8 1156.2 250.8 1153.5 250.8 1153.5 252.1 1150.8 252.1 1150.8 252.8 1148.0 252.8 1148.0 252.3 1145.2 252.3 1145.2 250.7 1142.5 250.7 1142.5 249.3 1139.8 249.3 1139.8 248.6 1137.0 248.6 1137.0 247.9 1134.2 247.9 1134.2 247.8 1131.5 247.8 1131.5 247.0 1128.8 247.0 1128.8 245.3 1126.0 245.3 1126.0 246.5 1123.2 246.5 1123.2 246.7 1120.5 246.7 1120.5 248.9 1117.8 248.9 1117.8 247.4 1115.0 247.4 1115.0 245.5 1112.2 245.5 1112.2 244.1 1109.5 244.1 1109.5 245.0 1106.8 245.0 1106.8 246.9 1104.0 246.9 1104.0 245.8 1101.2 245.8 1101.2 246.9 1098.5 246.9 1098.5 247.6 1095.8 247.6 1095.8 246.5 1093.0 246.5 1093.0 245.1 1090.2 245.1 1090.2 246.4 1087.5 246.4 1087.5 244.8 1084.8 244.8 1084.8 241.1 1082.0 241.1 1082.0 244.1 1079.2 244.1 1079.2 245.1 1076.5 245.1 1076.5 242.4 1073.8 242.4 1073.8 242.2 1071.0 242.2 1071.0 243.6 1068.2 243.6 1068.2 240.6 1065.5 240.6 1065.5 241.4 1062.8 241.4 1062.8 240.6 1060.0 240.6 1060.0 240.0 1057.2 240.0 1057.2 237.7 1054.5 237.7 1054.5 237.0 1051.8 237.0 1051.8 238.0 1049.0 238.0 1049.0 239.5 1046.2 239.5 1046.2 240.4 1043.5 240.4 1043.5 238.8 1040.8 238.8 1040.8 238.7 1038.0 238.7 1038.0 239.1 1035.2 239.1 1035.2 238.8 1032.5 238.8 1032.5 238.0 1029.8 238.0 1029.8 237.0 1027.0 237.0 1027.0 235.8 1024.2 235.8 1024.2 236.6 1021.5 236.6 1021.5 235.3 1018.8 235.3 1018.8 237.0 1016.0 237.0 1016.0 237.5 1013.2 237.5 1013.2 236.4 1010.5 236.4 1010.5 235.8 1007.8 235.8 1007.8 234.3 1005.0 234.3 1005.0 233.7 1002.2 233.7 1002.2 231.4 999.5 231.4 999.5 227.6 996.8 227.6 996.8 230.9 994.0 230.9 994.0 236.5 991.2 236.5 991.2 230.7 988.5 230.7 988.5 228.4 985.8 228.4 985.8 227.8 983.0 227.8 983.0 227.5 980.2 227.5 980.2 228.1 977.5 228.1 977.5 230.0 974.8 230.0 974.8 228.6 972.0 228.6 972.0 226.0 969.2 226.0 969.2 228.7 966.5 228.7 966.5 228.2 963.8 228.2 963.8 223.6 961.0 223.6 961.0 223.0 958.2 223.0 958.2 219.6 955.5 219.6 955.5 220.4 952.8 220.4 952.8 220.6 950.0 220.6 950.0 219.9 947.2 219.9 947.2 219.8 944.5 219.8 944.5 220.9 941.8 220.9 941.8 218.6 939.0 218.6 939.0 218.5 936.2 218.5 936.2 218.3 933.5 218.3 933.5 214.7 930.8 214.7 930.8 213.2 928.0 213.2 928.0 214.3 925.2 214.3 925.2 211.3 922.5 211.3 922.5 212.1 919.8 212.1 919.8 210.8 917.0 210.8 917.0 212.2 914.2 212.2 914.2 208.1 911.5 208.1 911.5 209.5 908.8 209.5 908.8 206.3 906.0 206.3 906.0 209.3 903.2 209.3 903.2 209.3 900.5 209.3 900.5 208.5 897.8 208.5 897.8 206.0 895.0 206.0 895.0 204.1 892.2 204.1 892.2 203.1 889.5 203.1 889.5 203.4 886.8 203.4 886.8 199.9 884.0 199.9 884.0 199.0 881.2 199.0 881.2 199.0 878.5 199.0 878.5 195.8 875.8 195.8 875.8 193.2 873.0 193.2 873.0 193.0 870.2 193.0 870.2 193.0 867.5 193.0 867.5 195.4 864.8 195.4 864.8 192.9 862.0 192.9 862.0 188.6 859.2 188.6 859.2 191.4 856.5 191.4 856.5 186.8 853.8 186.8 853.8 186.4 851.0 186.4 851.0 185.2 848.2 185.2 848.2 181.5 845.5 181.5 845.5 182.3 842.8 182.3 842.8 179.0 840.0 179.0 840.0 183.2 837.2 183.2 837.2 183.4 834.5 183.4 834.5 182.4 831.8 182.4 831.8 178.6 829.0 178.6 829.0 177.4 826.2 177.4 826.2 176.9 823.5 176.9 823.5 173.1 820.8 173.1 820.8 170.0 818.0 170.0 818.0 167.4 815.2 167.4 815.2 168.8 812.5 168.8 812.5 167.0 809.8 167.0 809.8 164.6 807.0 164.6 807.0 163.5 804.2 163.5 804.2 161.4 801.5 161.4 801.5 160.9 798.8 160.9 798.8 163.4 796.0 163.4 796.0 155.4 793.2 155.4 793.2 155.2 790.5 155.2 790.5 154.1 787.8 154.1 787.8 154.8 785.0 154.8 785.0 153.5 782.2 153.5 782.2 150.3 779.5 150.3 779.5 152.8 776.8 152.8 776.8 153.3 774.0 153.3 774.0 155.9 771.2 155.9 771.2 152.5 768.5 152.5 768.5 151.0 765.8 151.0 765.8 144.9 763.0 144.9 763.0 147.6 760.2 147.6 760.2 143.1 757.5 143.1 757.5 145.2 754.8 145.2 754.8 143.5 752.0 143.5 752.0 142.4 749.2 142.4 749.2 141.5 746.5 141.5 746.5 141.4 743.8 141.4 743.8 146.6 741.0 146.6 741.0 145.7 738.2 145.7 738.2 144.6 735.5 144.6 735.5 141.2 732.8 141.2 732.8 141.5 730.0 141.5 730.0 141.4 727.2 141.4 727.2 138.5 724.5 138.5 724.5 141.9 721.8 141.9 721.8 141.0 719.0 141.0 719.0 140.0 716.2 140.0 716.2 140.9 713.5 140.9 713.5 147.1 710.8 147.1 710.8 147.4 708.0 147.4 708.0 143.3 705.2 143.3 705.2 143.1 702.5 143.1 702.5 149.9 699.8 149.9 699.8 145.5 697.0 145.5 697.0 152.5 694.2 152.5 694.2 153.3 691.5 153.3 691.5 148.4 688.8 148.4 688.8 150.7 686.0 150.7 686.0 146.1 683.2 146.1 683.2 147.2 680.5 147.2 680.5 152.9 677.8 152.9 677.8 156.3 675.0 156.3 675.0 157.2 672.2 157.2 672.2 158.2 669.5 158.2 669.5 161.0 666.8 161.0 666.8 162.9 664.0 162.9 664.0 164.7 661.2 164.7 661.2 169.1 658.5 169.1 658.5 169.6 655.8 169.6 655.8 174.0 653.0 174.0 653.0 172.8 650.2 172.8 650.2 171.2 647.5 171.2 647.5 174.8 644.8 174.8 644.8 174.9 642.0 174.9 642.0 175.4 639.2 175.4 639.2 179.4 636.5 179.4 636.5 181.8 633.8 181.8 633.8 184.9 631.0 184.9 631.0 185.8 628.2 185.8 628.2 186.2 625.5 186.2 625.5 185.3 622.8 185.3 622.8 185.9 620.0 185.9 620.0 185.4 617.2 185.4 617.2 188.0 614.5 188.0 614.5 187.6 611.8 187.6 611.8 187.4 609.0 187.4 609.0 193.0 606.2 193.0 606.2 189.1 603.5 189.1 603.5 189.5 600.8 189.5 600.8 192.0 598.0 192.0 598.0 194.3 595.2 194.3 595.2 194.3 592.5 194.3 592.5 193.1 589.8 193.1 589.8 197.4 587.0 197.4 587.0 198.2 584.2 198.2 584.2 198.0 581.5 198.0 581.5 200.8 578.8 200.8 578.8 203.3 576.0 203.3 576.0 201.4 573.2 201.4 573.2 208.9 570.5 208.9 570.5 203.8 567.8 203.8 567.8 206.0 565.0 206.0 565.0 205.1 562.2 205.1 562.2 205.6 559.5 205.6 559.5 205.9 556.8 205.9 556.8 209.8 554.0 209.8 554.0 211.6 551.2 211.6 551.2 215.5 548.5 215.5 548.5 217.8 545.8 217.8 545.8 216.1 543.0 216.1 543.0 213.9 540.2 213.9 540.2 213.1 537.5 213.1 537.5 213.1 534.8 213.1 534.8 215.0 532.0 215.0 532.0 213.2 529.2 213.2 529.2 215.7 526.5 215.7 526.5 213.9 523.8 213.9 523.8 216.4 521.0 216.4 521.0 216.1 518.2 216.1 518.2 216.2 515.5 216.2 515.5 218.0 512.8 218.0 512.8 218.1 510.0 218.1 510.0 217.4 507.2 217.4 507.2 219.5 504.5 219.5 504.5 217.8 501.8 217.8 501.8 217.7 499.0 217.7 499.0 216.4 496.2 216.4 496.2 217.6 493.5 217.6 493.5 217.1 490.8 217.1 490.8 216.1 488.0 216.1 488.0 216.4 485.2 216.4 485.2 216.4 482.5 216.4 482.5 218.8 479.8 218.8 479.8 220.7 477.0 220.7 477.0 219.3 474.2 219.3 474.2 217.3 471.5 217.3 471.5 218.3 468.8 218.3 468.8 220.3 466.0 220.3 466.0 218.6 463.2 218.6 463.2 216.1 460.5 216.1 460.5 215.1 457.8 215.1 457.8 220.5 455.0 220.5 455.0 215.6 452.2 215.6 452.2 218.0 449.5 218.0 449.5 218.2 446.8 218.2 446.8 219.1 444.0 219.1 444.0 220.4 441.2 220.4 441.2 219.1 438.5 219.1 438.5 218.5 435.8 218.5 435.8 219.8 433.0 219.8 433.0 217.1 430.2 217.1 430.2 214.6 427.5 214.6 427.5 216.2 424.8 216.2 424.8 216.6 422.0 216.6 422.0 218.9 419.2 218.9 419.2 218.8 416.5 218.8 416.5 221.6 413.8 221.6 413.8 220.1 411.0 220.1 411.0 219.9 408.2 219.9 408.2 213.1 405.5 213.1 405.5 216.8 402.8 216.8 402.8 218.2 400.0 218.2 400.0 220.8 397.2 220.8 397.2 217.2 394.5 217.2 394.5 219.1 391.8 219.1 391.8 217.6 389.0 217.6 389.0 216.0 386.2 216.0 386.2 220.2 383.5 220.2 383.5 212.6 380.8 212.6 380.8 213.9 378.0 213.9 378.0 220.8 375.2 220.8 375.2 215.3 372.5 215.3 372.5 214.6 369.8 214.6 369.8 212.3 367.0 212.3 367.0 212.9 364.2 212.9 364.2 213.2 361.5 213.2 361.5 216.8 358.8 216.8 358.8 215.5 356.0 215.5 356.0 215.2 353.2 215.2 353.2 214.2 350.5 214.2 350.5 213.5 347.8 213.5 347.8 211.6 345.0 211.6 345.0 209.9 342.2 209.9 342.2 213.7 339.5 213.7 339.5 214.9 336.8 214.9 336.8 212.2 334.0 212.2 334.0 211.8 331.2 211.8 331.2 211.9 328.5 211.9 328.5 209.3 325.8 209.3 325.8 211.2 323.0 211.2 323.0 210.3 320.2 210.3 320.2 210.3 317.5 210.3 317.5 208.9 314.8 208.9 314.8 209.3 312.0 209.3 312.0 207.2 309.2 207.2 309.2 206.7 306.5 206.7 306.5 206.9 303.8 206.9 303.8 207.4 301.0 207.4 301.0 208.3 298.2 208.3 298.2 206.9 295.5 206.9 295.5 206.7 292.8 206.7 292.8 209.0 290.0 209.0 290.0 205.0 287.2 205.0 287.2 205.2 284.5 205.2 284.5 202.7 281.8 202.7 281.8 204.5 279.0 204.5 279.0 203.0 276.2 203.0 276.2 204.3 273.5 204.3 273.5 206.1 270.8 206.1 270.8 207.2 268.0 207.2 268.0 205.1 265.2 205.1 265.2 204.9 262.5 204.9 262.5 204.3 259.8 204.3 259.8 202.5 257.0 202.5 257.0 205.4 254.2 205.4 254.2 200.1 251.5 200.1 251.5 201.6 248.8 201.6 248.8 201.3 246.0 201.3 246.0 198.5 243.2 198.5 243.2 198.8 240.5 198.8 240.5 199.0 237.8 199.0 237.8 195.3 235.0 195.3 235.0 192.5 232.2 192.5 232.2 192.9 229.5 192.9 229.5 196.7 226.8 196.7 226.8 195.3 224.0 195.3 224.0 197.0 221.2 197.0 221.2 196.4 218.5 196.4Z"/>
<path fill="#008484" d="M218.5 172.4 221.2 172.4 221.2 174.0 224.0 174.0 224.0 174.1 226.8 174.1 226.8 174.7 229.5 174.7 229.5 172.0 232.2 172.0 232.2 170.9 235.0 170.9 235.0 172.4 237.8 172.4 237.8 176.3 240.5 176.3 240.5 176.4 243.2 176.4 243.2 178.1 246.0 178.1 246.0 179.1 248.8 179.1 248.8 174.0 251.5 174.0 251.5 179.8 254.2 179.8 254.2 180.0 257.0 180.0 257.0 184.4 259.8 184.4 259.8 180.8 262.5 180.8 262.5 182.4 265.2 182.4 265.2 187.6 268.0 187.6 268.0 187.2 270.8 187.2 270.8 183.9 273.5 183.9 273.5 182.5 276.2 182.5 276.2 182.8 279.0 182.8 279.0 180.9 281.8 180.9 281.8 183.1 284.5 183.1 284.5 185.4 287.2 185.4 287.2 183.6 290.0 183.6 290.0 187.4 292.8 187.4 292.8 186.0 295.5 186.0 295.5 185.9 298.2 185.9 298.2 186.9 301.0 186.9 301.0 188.1 303.8 188.1 303.8 186.3 306.5 186.3 306.5 187.8 309.2 187.8 309.2 187.2 312.0 187.2 312.0 189.0 314.8 189.0 314.8 188.8 317.5 188.8 317.5 189.9 320.2 189.9 320.2 190.4 323.0 190.4 323.0 189.7 325.8 189.7 325.8 188.9 328.5 188.9 328.5 191.9 331.2 191.9 331.2 192.0 334.0 192.0 334.0 192.5 336.8 192.5 336.8 193.6 339.5 193.6 339.5 191.2 342.2 191.2 342.2 189.2 345.0 189.2 345.0 192.8 347.8 192.8 347.8 190.0 350.5 190.0 350.5 193.0 353.2 193.0 353.2 197.2 356.0 197.2 356.0 196.9 358.8 196.9 358.8 195.7 361.5 195.7 361.5 195.9 364.2 195.9 364.2 193.8 367.0 193.8 367.0 191.3 369.8 191.3 369.8 194.4 372.5 194.4 372.5 195.3 375.2 195.3 375.2 197.9 378.0 197.9 378.0 195.8 380.8 195.8 380.8 189.9 383.5 189.9 383.5 197.4 386.2 197.4 386.2 196.7 389.0 196.7 389.0 195.3 391.8 195.3 391.8 195.6 394.5 195.6 394.5 201.3 397.2 201.3 397.2 199.1 400.0 199.1 400.0 198.2 402.8 198.2 402.8 198.1 405.5 198.1 405.5 195.4 408.2 195.4 408.2 195.0 411.0 195.0 411.0 200.8 413.8 200.8 413.8 199.0 416.5 199.0 416.5 198.4 419.2 198.4 419.2 198.6 422.0 198.6 422.0 198.7 424.8 198.7 424.8 195.8 427.5 195.8 427.5 194.6 430.2 194.6 430.2 196.6 433.0 196.6 433.0 200.2 435.8 200.2 435.8 199.5 438.5 199.5 438.5 200.0 441.2 200.0 441.2 201.5 444.0 201.5 444.0 201.1 446.8 201.1 446.8 198.7 449.5 198.7 449.5 197.1 452.2 197.1 452.2 195.8 455.0 195.8 455.0 197.3 457.8 197.3 457.8 195.1 460.5 195.1 460.5 195.5 463.2 195.5 463.2 196.5 466.0 196.5 466.0 197.5 468.8 197.5 468.8 195.7 471.5 195.7 471.5 199.9 474.2 199.9 474.2 199.0 477.0 199.0 477.0 199.1 479.8 199.1 479.8 198.1 482.5 198.1 482.5 197.7 485.2 197.7 485.2 197.7 488.0 197.7 488.0 197.7 490.8 197.7 490.8 198.5 493.5 198.5 493.5 199.3 496.2 199.3 496.2 198.7 499.0 198.7 499.0 196.3 501.8 196.3 501.8 197.5 504.5 197.5 504.5 200.1 507.2 200.1 507.2 196.5 510.0 196.5 510.0 197.8 512.8 197.8 512.8 198.3 515.5 198.3 515.5 197.9 518.2 197.9 518.2 194.3 521.0 194.3 521.0 196.1 523.8 196.1 523.8 194.0 526.5 194.0 526.5 197.7 529.2 197.7 529.2 194.2 532.0 194.2 532.0 197.6 534.8 197.6 534.8 195.9 537.5 195.9 537.5 194.0 540.2 194.0 540.2 194.4 543.0 194.4 543.0 192.2 545.8 192.2 545.8 194.3 548.5 194.3 548.5 193.8 551.2 193.8 551.2 190.0 554.0 190.0 554.0 187.4 556.8 187.4 556.8 184.6 559.5 184.6 559.5 183.7 562.2 183.7 562.2 183.2 565.0 183.2 565.0 183.0 567.8 183.0 567.8 182.3 570.5 182.3 570.5 186.8 573.2 186.8 573.2 176.8 576.0 176.8 576.0 179.3 578.8 179.3 578.8 178.2 581.5 178.2 581.5 176.5 584.2 176.5 584.2 174.9 587.0 174.9 587.0 172.6 589.8 172.6 589.8 171.2 592.5 171.2 592.5 171.4 595.2 171.4 595.2 171.2 598.0 171.2 598.0 171.4 600.8 171.4 600.8 166.1 603.5 166.1 603.5 164.8 606.2 164.8 606.2 168.4 609.0 168.4 609.0 164.6 611.8 164.6 611.8 167.4 614.5 167.4 614.5 163.0 617.2 163.0 617.2 162.6 620.0 162.6 620.0 162.5 622.8 162.5 622.8 163.5 625.5 163.5 625.5 163.1 628.2 163.1 628.2 159.2 631.0 159.2 631.0 162.0 633.8 162.0 633.8 160.8 636.5 160.8 636.5 156.6 639.2 156.6 639.2 151.1 642.0 151.1 642.0 152.4 644.8 152.4 644.8 150.6 647.5 150.6 647.5 148.0 650.2 148.0 650.2 146.9 653.0 146.9 653.0 150.0 655.8 150.0 655.8 144.5 658.5 144.5 658.5 144.4 661.2 144.4 661.2 141.6 664.0 141.6 664.0 139.2 666.8 139.2 666.8 133.1 669.5 133.1 669.5 131.9 672.2 131.9 672.2 134.3 675.0 134.3 675.0 130.4 677.8 130.4 677.8 129.6 680.5 129.6 680.5 124.3 683.2 124.3 683.2 121.8 686.0 121.8 686.0 124.0 688.8 124.0 688.8 124.5 691.5 124.5 691.5 127.7 694.2 127.7 694.2 127.3 697.0 127.3 697.0 122.5 699.8 122.5 699.8 125.7 702.5 125.7 702.5 118.4 705.2 118.4 705.2 119.7 708.0 119.7 708.0 123.4 710.8 123.4 710.8 118.7 713.5 118.7 713.5 119.0 716.2 119.0 716.2 117.1 719.0 117.1 719.0 117.0 721.8 117.0 721.8 115.3 724.5 115.3 724.5 114.1 727.2 114.1 727.2 114.3 730.0 114.3 730.0 118.7 732.8 118.7 732.8 116.1 735.5 116.1 735.5 118.7 738.2 118.7 738.2 122.3 741.0 122.3 741.0 120.2 743.8 120.2 743.8 119.4 746.5 119.4 746.5 117.2 749.2 117.2 749.2 118.0 752.0 118.0 752.0 121.3 754.8 121.3 754.8 119.0 757.5 119.0 757.5 118.2 760.2 118.2 760.2 119.1 763.0 119.1 763.0 120.7 765.8 120.7 765.8 127.2 768.5 127.2 768.5 125.1 771.2 125.1 771.2 128.4 774.0 128.4 774.0 130.1 776.8 130.1 776.8 127.9 779.5 127.9 779.5 124.7 782.2 124.7 782.2 126.0 785.0 126.0 785.0 127.3 787.8 127.3 787.8 128.1 790.5 128.1 790.5 131.3 793.2 131.3 793.2 126.3 796.0 126.3 796.0 136.2 798.8 136.2 798.8 135.7 801.5 135.7 801.5 137.2 804.2 137.2 804.2 138.6 807.0 138.6 807.0 140.3 809.8 140.3 809.8 144.3 812.5 144.3 812.5 144.3 815.2 144.3 815.2 143.4 818.0 143.4 818.0 146.4 820.8 146.4 820.8 148.4 823.5 148.4 823.5 152.5 826.2 152.5 826.2 152.4 829.0 152.4 829.0 153.5 831.8 153.5 831.8 158.7 834.5 158.7 834.5 158.4 837.2 158.4 837.2 159.1 840.0 159.1 840.0 156.9 842.8 156.9 842.8 155.3 845.5 155.3 845.5 160.7 848.2 160.7 848.2 161.6 851.0 161.6 851.0 161.8 853.8 161.8 853.8 166.3 856.5 166.3 856.5 168.7 859.2 168.7 859.2 167.5 862.0 167.5 862.0 171.0 864.8 171.0 864.8 170.7 867.5 170.7 867.5 171.6 870.2 171.6 870.2 173.8 873.0 173.8 873.0 169.2 875.8 169.2 875.8 172.7 878.5 172.7 878.5 175.6 881.2 175.6 881.2 178.1 884.0 178.1 884.0 176.4 886.8 176.4 886.8 182.0 889.5 182.0 889.5 182.4 892.2 182.4 892.2 181.7 895.0 181.7 895.0 184.8 897.8 184.8 897.8 186.7 900.5 186.7 900.5 189.1 903.2 189.1 903.2 187.5 906.0 187.5 906.0 184.2 908.8 184.2 908.8 188.4 911.5 188.4 911.5 186.1 914.2 186.1 914.2 189.7 917.0 189.7 917.0 190.1 919.8 190.1 919.8 193.5 922.5 193.5 922.5 185.9 925.2 185.9 925.2 194.0 928.0 194.0 928.0 193.8 930.8 193.8 930.8 195.2 933.5 195.2 933.5 196.8 936.2 196.8 936.2 196.7 939.0 196.7 939.0 199.1 941.8 199.1 941.8 200.6 944.5 200.6 944.5 201.1 947.2 201.1 947.2 197.8 950.0 197.8 950.0 201.3 952.8 201.3 952.8 203.3 955.5 203.3 955.5 203.1 958.2 203.1 958.2 202.0 961.0 202.0 961.0 203.4 963.8 203.4 963.8 209.1 966.5 209.1 966.5 210.4 969.2 210.4 969.2 208.4 972.0 208.4 972.0 210.0 974.8 210.0 974.8 208.4 977.5 208.4 977.5 209.9 980.2 209.9 980.2 210.1 983.0 210.1 983.0 210.2 985.8 210.2 985.8 209.7 988.5 209.7 988.5 212.9 991.2 212.9 991.2 214.6 994.0 214.6 994.0 213.3 996.8 213.3 996.8 211.6 999.5 211.6 999.5 214.0 1002.2 214.0 1002.2 215.4 1005.0 215.4 1005.0 216.7 1007.8 216.7 1007.8 217.4 1010.5 217.4 1010.5 218.7 1013.2 218.7 1013.2 218.9 1016.0 218.9 1016.0 219.0 1018.8 219.0 1018.8 216.7 1021.5 216.7 1021.5 219.2 1024.2 219.2 1024.2 218.0 1027.0 218.0 1027.0 220.9 1029.8 220.9 1029.8 220.0 1032.5 220.0 1032.5 221.6 1035.2 221.6 1035.2 222.3 1038.0 222.3 1038.0 218.2 1040.8 218.2 1040.8 222.9 1043.5 222.9 1043.5 224.0 1046.2 224.0 1046.2 222.2 1049.0 222.2 1049.0 221.8 1051.8 221.8 1051.8 219.8 1054.5 219.8 1054.5 221.5 1057.2 221.5 1057.2 223.7 1060.0 223.7 1060.0 225.3 1062.8 225.3 1062.8 223.1 1065.5 223.1 1065.5 224.5 1068.2 224.5 1068.2 223.7 1071.0 223.7 1071.0 225.6 1073.8 225.6 1073.8 227.0 1076.5 227.0 1076.5 226.1 1079.2 226.1 1079.2 226.3 1082.0 226.3 1082.0 225.0 1084.8 225.0 1084.8 228.5 1087.5 228.5 1087.5 228.0 1090.2 228.0 1090.2 230.1 1093.0 230.1 1093.0 230.1 1095.8 230.1 1095.8 229.9 1098.5 229.9 1098.5 231.3 1101.2 231.3 1101.2 230.1 1104.0 230.1 1104.0 229.9 1106.8 229.9 1106.8 229.1 1109.5 229.1 1109.5 230.6 1112.2 230.6 1112.2 230.3 1115.0 230.3 1115.0 232.2 1117.8 232.2 1117.8 232.5 1120.5 232.5 1120.5 231.3 1123.2 231.3 1123.2 228.3 1126.0 228.3 1126.0 226.0 1128.8 226.0 1128.8 230.6 1131.5 230.6 1131.5 232.3 1134.2 232.3 1134.2 230.6 1137.0 230.6 1137.0 231.6 1139.8 231.6 1139.8 232.7 1142.5 232.7 1142.5 234.0 1145.2 234.0 1145.2 235.6 1148.0 235.6 1148.0 235.6 1150.8 235.6 1150.8 235.8 1153.5 235.8 1153.5 235.3 1156.2 235.3 1156.2 235.0 1159.0 235.0 1159.0 235.9 1161.8 235.9 1161.8 237.3 1164.5 237.3 1164.5 237.7 1167.2 237.7 1167.2 238.8 1170.0 238.8 1170.0 238.4 1172.8 238.4 1172.8 238.1 1175.5 238.1 1175.5 236.9 1178.2 236.9 1178.2 237.7 1181.0 237.7 1181.0 239.3 1183.8 239.3 1183.8 239.8 1186.5 239.8 1186.5 240.2 1189.2 240.2 1189.2 240.9 1192.0 240.9 1192.0 240.4 1194.8 240.4 1194.8 242.4 1197.5 242.4 1197.5 242.3 1200.2 242.3 1200.2 239.0 1203.0 239.0 1203.0 242.7 1205.8 242.7 1205.8 242.1 1208.5 242.1 1208.5 243.8 1211.2 243.8 1211.2 242.0 1214.0 242.0 1214.0 242.6 1216.8 242.6 1216.8 242.6 1219.5 242.6 1219.5 243.0 1222.2 243.0 1222.2 241.9 1225.0 241.9 1225.0 243.1 1227.8 243.1 1227.8 244.5 1230.5 244.5 1230.5 245.3 1233.2 245.3 1233.2 244.9 1236.0 244.9 1236.0 244.5 1238.8 244.5 1238.8 244.0 1241.5 244.0 1241.5 245.1 1244.2 245.1 1244.2 243.2 1247.0 243.2 1247.0 245.3 1249.8 245.3 1249.8 245.9 1252.5 245.9 1252.5 245.9 1255.2 245.9 1255.2 247.3 1258.0 247.3 1258.0 244.1 1260.8 244.1 1260.8 242.8 1263.5 242.8 1263.5 244.9 1266.2 244.9 1266.2 243.8 1269.0 243.8 1269.0 246.2 1271.8 246.2 1271.8 244.0 1274.5 244.0 1274.5 245.7 1277.2 245.7 1277.2 246.9 1280.0 246.9 1280.0 245.2 1282.8 245.2 1282.8 246.1 1285.5 246.1 1285.5 245.7 1288.2 245.7 1288.2 245.1 1291.0 245.1 1291.0 243.6 1293.8 243.6 1293.8 243.7 1296.5 243.7 1296.5 247.4 1299.2 247.4 1299.2 248.8 1302.0 248.8 1302.0 247.5 1304.8 247.5 1304.8 245.8 1307.5 245.8 1307.5 245.9 1310.2 245.9 1310.2 248.0 1313.0 248.0 1313.0 247.7 1315.8 247.7 1315.8 247.4 1318.5 247.4 1318.5 248.0 1321.2 248.0 1321.2 245.3 1324.0 245.3 1324.0 247.0 1326.8 247.0 1326.8 246.9 1329.5 246.9 1329.5 247.8 1332.2 247.8 1332.2 247.7 1335.0 247.7 1335.0 246.9 1337.8 246.9 1337.8 249.3 1340.5 249.3 1340.5 249.1 1343.2 249.1 1343.2 249.3 1346.0 249.3 1346.0 248.7 1348.8 248.7 1348.8 248.4 1351.5 248.4 1351.5 247.9 1354.2 247.9 1354.2 247.2 1357.0 247.2 1357.0 247.5 1359.8 247.5 1359.8 247.9 1362.5 247.9 1362.5 247.7 1365.2 247.7 1365.2 248.7 1368.0 248.7 1368.0 250.2 1370.8 250.2 1370.8 250.5 1373.5 250.5 1373.5 249.4 1376.2 249.4 1376.2 249.5 1379.0 249.5 1379.0 249.8 1381.8 249.8 1381.8 252.4 1384.5 252.4 1384.5 251.4 1387.2 251.4 1387.2 252.5 1390.0 252.5 1390.0 251.5 1392.8 251.5 1392.8 250.2 1395.5 250.2 1395.5 251.5 1398.2 251.5 1398.2 250.7 1401.0 250.7 1401.0 251.7 1403.8 251.7 1403.8 250.2 1406.5 250.2 1406.5 251.2 1409.2 251.2 1409.2 250.6 1412.0 250.6 1412.0 249.8 1414.8 249.8 1414.8 250.3 1417.5 250.3 1417.5 250.2 1420.2 250.2 1420.2 251.3 1423.0 251.3 1423.0 248.3 1425.8 248.3 1425.8 250.1 1428.5 250.1 1428.5 251.9 1431.2 251.9 1431.2 252.8 1434.0 252.8 1434.0 253.1 1436.8 253.1 1436.8 249.7 1439.5 249.7 1439.5 249.6 1442.2 249.6 1442.2 251.8 1445.0 251.8 1445.0 252.2 1447.8 252.2 1447.8 255.9 1450.5 255.9 1450.5 254.4 1453.2 254.4 1453.2 253.1 1456.0 253.1 1456.0 253.6 1458.8 253.6 1458.8 253.9 1461.5 253.9 1461.5 252.1 1464.2 252.1 1464.2 251.8 1467.0 251.8 1467.0 251.9 1469.8 251.9 1469.8 254.0 1472.5 254.0 1472.5 252.3 1475.2 252.3 1475.2 251.4 1478.0 251.4 1478.0 252.6 1480.8 252.6 1480.8 253.2 1483.5 253.2 1483.5 252.0 1486.2 252.0 1486.2 254.1 1489.0 254.1 1489.0 251.0 1491.8 251.0 1491.8 252.3 1494.5 252.3 1494.5 254.0 1497.2 254.0 1497.2 256.0 1500.0 256.0 1500.0 255.7 1502.8 255.7 1502.8 253.0 1505.5 253.0 1505.5 255.0 1508.2 255.0 1508.2 255.8 1511.0 255.8 1511.0 255.3 1513.8 255.3 1513.8 254.9 1516.5 254.9 1516.5 253.8 1519.2 253.8 1519.2 254.2 1522.0 254.2 1522.0 256.1 1524.8 256.1 1524.8 255.9 1527.5 255.9 1527.5 252.6 1530.2 252.6 1530.2 255.3 1533.0 255.3 1533.0 254.6 1535.8 254.6 1535.8 255.7 1538.5 255.7 1538.5 257.2 1541.2 257.2 1541.2 254.7 1544.0 254.7 1544.0 255.4 1546.8 255.4 1546.8 253.3 1549.5 253.3 1549.5 253.5 1552.2 253.5 1552.2 256.3 1555.0 256.3 1555.0 256.0 1557.8 256.0 1557.8 256.8 1560.5 256.8 1560.5 257.6 1563.2 257.6 1563.2 257.3 1566.0 257.3 1566.0 257.3 1568.8 257.3 1568.8 253.9 1571.5 253.9 1571.5 258.0 1574.2 258.0 1574.2 257.3 1577.0 257.3 1577.0 256.8 1579.8 256.8 1579.8 257.0 1582.5 257.0 1582.5 258.4 1585.2 258.4 1585.2 257.0 1588.0 257.0 1588.0 258.0 1590.8 258.0 1590.8 257.9 1593.5 257.9 1593.5 257.4 1596.2 257.4 1596.2 256.4 1599.0 256.4 1599.0 254.7 1601.8 254.7 1601.8 257.1 1604.5 257.1 1604.5 256.9 1607.2 256.9 1607.2 256.6 1610.0 256.6 1610.0 255.5 1612.8 255.5 1612.8 255.1 1615.5 255.1 1615.5 258.2 1618.2 258.2 1618.2 260.3 1621.0 260.3 1621.0 258.7 1623.8 258.7 1623.8 255.1 1626.5 255.1 1626.5 258.7 1629.2 258.7 1629.2 258.2 1632.0 258.2 1632.0 258.4 1634.8 258.4 1634.8 258.2 1637.5 258.2 1637.5 259.2 1640.2 259.2 1640.2 257.1 1643.0 257.1 1643.0 259.1 1645.8 259.1 1645.8 258.1 1648.5 258.1 1648.5 260.7 1651.2 260.7 1651.2 260.2 1654.0 260.2 1654.0 259.8 1656.8 259.8 1656.8 259.6 1659.5 259.6 1659.5 256.1 1662.2 256.1 1662.2 258.0 1665.0 258.0 1665.0 258.9 1667.8 258.9 1667.8 260.1 1670.5 260.1 1670.5 259.3 1673.2 259.3 1673.2 258.1 1676.0 258.1 1676.0 259.4 1678.8 259.4 1678.8 258.9 1681.5 258.9 1681.5 258.4 1684.2 258.4 1684.2 258.9 1687.0 258.9 1687.0 258.5 1689.8 258.5 1689.8 261.6 1692.5 261.6 1692.5 260.5 1695.2 260.5 1695.2 258.7 1698.0 258.7 1698.0 259.0 1700.8 259.0 1700.8 258.5 1703.5 258.5 1703.5 258.7 1706.2 258.7 1706.2 258.5 1709.0 258.5 1709.0 259.2 1711.8 259.2 1711.8 259.1 1714.5 259.1 1714.5 260.2 1717.2 260.2 1717.2 259.6 1720.0 259.6 1720.0 260.0 1722.8 260.0 1722.8 260.1 1725.5 260.1 1725.5 257.7 1728.2 257.7 1728.2 256.1 1731.0 256.1 1731.0 258.2 1733.8 258.2 1733.8 255.6 1736.5 255.6 1736.5 256.0 1739.2 256.0 1739.2 256.6 1742.0 256.6 1742.0 257.0 1744.8 257.0 1744.8 256.3 1747.5 256.3 1747.5 257.6 1750.2 257.6 1750.2 259.0 1753.0 259.0 1753.0 259.4 1755.8 259.4 1755.8 260.5 1758.5 260.5 1758.5 260.7 1761.2 260.7 1761.2 260.6 1764.0 260.6 1764.0 259.3 1766.8 259.3 1766.8 258.5 1769.5 258.5 1769.5 258.7 1772.2 258.7 1772.2 259.8 1775.0 259.8 1775.0 258.6 1777.8 258.6 1777.8 259.7 1780.5 259.7 1780.5 259.4 1783.2 259.4 1783.2 258.7 1786.0 258.7 1786.0 260.6 1788.8 260.6 1788.8 262.0 1791.5 262.0 1791.5 261.2 1794.2 261.2 1794.2 261.6 1797.0 261.6 1797.0 259.9 1799.8 259.9 1799.8 261.0 1802.5 261.0 1802.5 260.5 1805.2 260.5 1805.2 255.8 1808.0 255.8 1808.0 260.0 1810.8 260.0 1810.8 258.8 1813.5 258.8 1813.5 259.5 1816.2 259.5 1816.2 259.1 1819.0 259.1 1819.0 259.1 1821.8 259.1 1821.8 259.7 1824.5 259.7 1824.5 261.7 1827.2 261.7 1827.2 259.5 1830.0 259.5 1830.0 259.8 1832.8 259.8 1832.8 260.8 1835.5 260.8 1835.5 260.5 1838.2 260.5 1838.2 260.6 1841.0 260.6 1841.0 261.9 1843.8 261.9 1843.8 258.9 1846.5 258.9 1846.5 262.1 1849.2 262.1 1849.2 259.9 1852.0 259.9 1852.0 261.8 1854.8 261.8 1854.8 260.4 1857.5 260.4 1857.5 259.8 1860.2 259.8 1860.2 258.1 1863.0 258.1 1863.0 258.2 1865.8 258.2 1865.8 259.6 1868.5 259.6 1868.5 259.5 1871.2 259.5 1871.2 260.5 1874.0 260.5 1874.0 259.2 1876.8 259.2 1876.8 259.5 1879.5 259.5 1879.5 259.7 1882.2 259.7 1882.2 258.9 1885.0 258.9 1885.0 261.1 1887.8 261.1 1887.8 257.6 1890.5 257.6 1890.5 260.3 1893.2 260.3 1893.2 261.2 1896.0 261.2 1896.0 263.3 1898.8 263.3 1898.8 260.8 1901.5 260.8 1901.5 260.5 1904.2 260.5 1904.2 261.2 1907.0 261.2 1907.0 261.4 1909.8 261.4 1909.8 260.9 1912.5 260.9 1912.5 262.0 1915.2 262.0 1915.2 261.6 1918.0 261.6 1918.0 262.0 1920.8 262.0 1920.8 260.8 1923.5 260.8 1923.5 260.9 1926.2 260.9 1926.2 261.6 1929.0 261.6 1929.0 260.2 1931.8 260.2 1931.8 261.1 1934.5 261.1 1934.5 259.5 1937.2 259.5 1937.2 259.4 1940.0 259.4 1940.0 260.4 1942.8 260.4 1942.8 260.7 1945.5 260.7 1945.5 260.0 1948.2 260.0 1948.2 260.3 1951.0 260.3 1951.0 258.9 1953.8 258.9 1953.8 259.1 1956.5 259.1 1956.5 260.2 1959.2 260.2 1959.2 259.1 1962.0 259.1 1962.0 260.3 1964.8 260.3 1964.8 261.8 1967.5 261.8 1967.5 258.7 1970.2 258.7 1970.2 260.1 1973.0 260.1 1973.0 259.7 1975.8 259.7 1975.8 262.2 1978.5 262.2 1978.5 259.2 1981.2 259.2 1981.2 262.5 1984.0 262.5 1984.0 263.7 1986.8 263.7 1986.8 262.6 1989.5 262.6 1989.5 260.8 1992.2 260.8 1992.2 261.4 1995.0 261.4 1995.0 260.3 1997.8 260.3 1997.8 260.7 2000.5 260.7 2000.5 261.6 2003.2 261.6 2003.2 261.2 2006.0 261.2 2006.0 260.9 2008.8 260.9 2008.8 261.7 2011.5 261.7 2011.5 261.2 2014.2 261.2 2014.2 262.4 2017.0 262.4 2017.0 261.8 2019.8 261.8 2019.8 261.2 2022.5 261.2 2022.5 262.6 2025.2 262.6 2025.2 261.4 2028.0 261.4 2028.0 262.7 2030.8 262.7 2030.8 260.7 2033.5 260.7 2033.5 263.1 2036.2 263.1 2036.2 263.4 2039.0 263.4 2039.0 256.8 2041.8 256.8 2041.8 260.1 2044.5 260.1 2044.5 260.9 2047.2 260.9 2047.2 261.5 2050.0 261.5 2050.0 261.4 2052.8 261.4 2052.8 262.2 2055.5 262.2 2055.5 261.5 2058.2 261.5 2058.2 263.0 2061.0 263.0 2061.0 261.2 2063.8 261.2 2063.8 260.7 2066.5 260.7 2066.5 258.5 2069.2 258.5 2069.2 260.0 2072.0 260.0 2072.0 261.7 2074.8 261.7 2074.8 262.1 2077.5 262.1 2077.5 261.4 2080.2 261.4 2080.2 262.3 2083.0 262.3 2083.0 261.0 2085.8 261.0 2085.8 258.2 2088.5 258.2 2088.5 261.3 2091.2 261.3 2091.2 262.8 2094.0 262.8 2094.0 261.9 2096.8 261.9 2096.8 263.4 2099.5 263.4 2099.5 262.0 2102.2 262.0 2102.2 262.2 2105.0 262.2 2105.0 262.8 2107.8 262.8 2107.8 259.9 2110.5 259.9 2110.5 261.3 2113.2 261.3 2113.2 260.4 2116.0 260.4 2116.0 260.2 2118.8 260.2 2118.8 261.6 2121.5 261.6 2121.5 260.9 2124.2 260.9 2124.2 261.9 2127.0 261.9 2127.0 261.3 2129.8 261.3 2129.8 260.8 2132.5 260.8 2132.5 260.5 2135.2 260.5 2135.2 261.7 2138.0 261.7 2138.0 261.4 2140.8 261.4 2140.8 259.4 2143.5 259.4 2143.5 262.7 2146.2 262.7 2146.2 261.1 2149.0 261.1 2149.0 261.3 2151.8 261.3 2151.8 261.1 2154.5 261.1 2154.5 263.1 2157.2 263.1 2157.2 260.5 2160.0 260.5 2160.0 262.6 2162.8 262.6 2162.8 262.8 2165.5 262.8 2165.5 261.5 2168.2 261.5 2168.2 264.2 2171.0 264.2 2171.0 263.1 2173.8 263.1 2173.8 264.0 2176.5 264.0 2176.5 263.2 2179.2 263.2 2179.2 261.8 2182.0 261.8 2182.0 262.2 2184.8 262.2 2184.8 263.4 2187.5 263.4 2187.5 259.9 2190.2 259.9 2190.2 259.3 2193.0 259.3 2193.0 259.8 2195.8 259.8 2195.8 263.7 2198.5 263.7 2198.5 261.8 2201.2 261.8 2201.2 264.7 2204.0 264.7 2204.0 264.6 2205.1 264.6 2205.1 272.1 2204.0 272.1 2204.0 273.8 2201.2 273.8 2201.2 274.2 2198.5 274.2 2198.5 275.7 2195.8 275.7 2195.8 274.4 2193.0 274.4 2193.0 273.1 2190.2 273.1 2190.2 273.5 2187.5 273.5 2187.5 275.3 2184.8 275.3 2184.8 275.6 2182.0 275.6 2182.0 275.4 2179.2 275.4 2179.2 275.7 2176.5 275.7 2176.5 277.2 2173.8 277.2 2173.8 275.8 2171.0 275.8 2171.0 276.6 2168.2 276.6 2168.2 275.5 2165.5 275.5 2165.5 275.3 2162.8 275.3 2162.8 274.7 2160.0 274.7 2160.0 274.9 2157.2 274.9 2157.2 274.9 2154.5 274.9 2154.5 277.0 2151.8 277.0 2151.8 273.0 2149.0 273.0 2149.0 274.0 2146.2 274.0 2146.2 273.8 2143.5 273.8 2143.5 274.8 2140.8 274.8 2140.8 274.1 2138.0 274.1 2138.0 273.7 2135.2 273.7 2135.2 274.1 2132.5 274.1 2132.5 274.0 2129.8 274.0 2129.8 273.8 2127.0 273.8 2127.0 276.1 2124.2 276.1 2124.2 273.1 2121.5 273.1 2121.5 274.8 2118.8 274.8 2118.8 272.7 2116.0 272.7 2116.0 273.1 2113.2 273.1 2113.2 274.9 2110.5 274.9 2110.5 274.5 2107.8 274.5 2107.8 275.4 2105.0 275.4 2105.0 274.3 2102.2 274.3 2102.2 274.8 2099.5 274.8 2099.5 275.3 2096.8 275.3 2096.8 273.5 2094.0 273.5 2094.0 274.2 2091.2 274.2 2091.2 275.0 2088.5 275.0 2088.5 273.4 2085.8 273.4 2085.8 273.3 2083.0 273.3 2083.0 276.1 2080.2 276.1 2080.2 274.5 2077.5 274.5 2077.5 273.8 2074.8 273.8 2074.8 273.1 2072.0 273.1 2072.0 272.1 2069.2 272.1 2069.2 271.4 2066.5 271.4 2066.5 273.9 2063.8 273.9 2063.8 273.5 2061.0 273.5 2061.0 273.7 2058.2 273.7 2058.2 277.1 2055.5 277.1 2055.5 275.6 2052.8 275.6 2052.8 273.7 2050.0 273.7 2050.0 275.0 2047.2 275.0 2047.2 273.4 2044.5 273.4 2044.5 274.3 2041.8 274.3 2041.8 272.3 2039.0 272.3 2039.0 276.3 2036.2 276.3 2036.2 274.9 2033.5 274.9 2033.5 277.5 2030.8 277.5 2030.8 275.1 2028.0 275.1 2028.0 274.8 2025.2 274.8 2025.2 274.4 2022.5 274.4 2022.5 274.3 2019.8 274.3 2019.8 274.8 2017.0 274.8 2017.0 274.1 2014.2 274.1 2014.2 275.2 2011.5 275.2 2011.5 274.2 2008.8 274.2 2008.8 273.5 2006.0 273.5 2006.0 274.4 2003.2 274.4 2003.2 274.2 2000.5 274.2 2000.5 272.5 1997.8 272.5 1997.8 274.1 1995.0 274.1 1995.0 273.5 1992.2 273.5 1992.2 275.9 1989.5 275.9 1989.5 274.9 1986.8 274.9 1986.8 277.2 1984.0 277.2 1984.0 274.8 1981.2 274.8 1981.2 273.8 1978.5 273.8 1978.5 274.9 1975.8 274.9 1975.8 270.9 1973.0 270.9 1973.0 273.5 1970.2 273.5 1970.2 272.0 1967.5 272.0 1967.5 272.6 1964.8 272.6 1964.8 273.9 1962.0 273.9 1962.0 274.2 1959.2 274.2 1959.2 274.0 1956.5 274.0 1956.5 274.3 1953.8 274.3 1953.8 273.8 1951.0 273.8 1951.0 274.2 1948.2 274.2 1948.2 273.5 1945.5 273.5 1945.5 273.7 1942.8 273.7 1942.8 273.9 1940.0 273.9 1940.0 272.8 1937.2 272.8 1937.2 275.4 1934.5 275.4 1934.5 272.6 1931.8 272.6 1931.8 275.4 1929.0 275.4 1929.0 274.3 1926.2 274.3 1926.2 275.2 1923.5 275.2 1923.5 273.4 1920.8 273.4 1920.8 274.5 1918.0 274.5 1918.0 273.5 1915.2 273.5 1915.2 272.7 1912.5 272.7 1912.5 273.2 1909.8 273.2 1909.8 272.7 1907.0 272.7 1907.0 272.6 1904.2 272.6 1904.2 273.5 1901.5 273.5 1901.5 275.6 1898.8 275.6 1898.8 274.2 1896.0 274.2 1896.0 273.4 1893.2 273.4 1893.2 276.0 1890.5 276.0 1890.5 273.4 1887.8 273.4 1887.8 273.8 1885.0 273.8 1885.0 272.9 1882.2 272.9 1882.2 272.4 1879.5 272.4 1879.5 272.3 1876.8 272.3 1876.8 272.4 1874.0 272.4 1874.0 273.2 1871.2 273.2 1871.2 273.8 1868.5 273.8 1868.5 271.5 1865.8 271.5 1865.8 271.1 1863.0 271.1 1863.0 271.0 1860.2 271.0 1860.2 272.8 1857.5 272.8 1857.5 272.8 1854.8 272.8 1854.8 273.5 1852.0 273.5 1852.0 272.1 1849.2 272.1 1849.2 273.2 1846.5 273.2 1846.5 274.6 1843.8 274.6 1843.8 275.0 1841.0 275.0 1841.0 273.9 1838.2 273.9 1838.2 272.6 1835.5 272.6 1835.5 275.5 1832.8 275.5 1832.8 273.2 1830.0 273.2 1830.0 273.8 1827.2 273.8 1827.2 272.3 1824.5 272.3 1824.5 272.9 1821.8 272.9 1821.8 274.2 1819.0 274.2 1819.0 272.2 1816.2 272.2 1816.2 273.2 1813.5 273.2 1813.5 271.3 1810.8 271.3 1810.8 271.9 1808.0 271.9 1808.0 273.1 1805.2 273.1 1805.2 273.1 1802.5 273.1 1802.5 273.1 1799.8 273.1 1799.8 273.3 1797.0 273.3 1797.0 277.0 1794.2 277.0 1794.2 273.2 1791.5 273.2 1791.5 274.8 1788.8 274.8 1788.8 274.4 1786.0 274.4 1786.0 274.1 1783.2 274.1 1783.2 271.0 1780.5 271.0 1780.5 271.1 1777.8 271.1 1777.8 271.5 1775.0 271.5 1775.0 272.8 1772.2 272.8 1772.2 269.1 1769.5 269.1 1769.5 274.0 1766.8 274.0 1766.8 273.4 1764.0 273.4 1764.0 273.0 1761.2 273.0 1761.2 272.9 1758.5 272.9 1758.5 275.8 1755.8 275.8 1755.8 272.9 1753.0 272.9 1753.0 271.0 1750.2 271.0 1750.2 270.4 1747.5 270.4 1747.5 269.5 1744.8 269.5 1744.8 273.9 1742.0 273.9 1742.0 270.0 1739.2 270.0 1739.2 269.7 1736.5 269.7 1736.5 268.7 1733.8 268.7 1733.8 272.4 1731.0 272.4 1731.0 271.7 1728.2 271.7 1728.2 270.2 1725.5 270.2 1725.5 273.3 1722.8 273.3 1722.8 272.5 1720.0 272.5 1720.0 271.8 1717.2 271.8 1717.2 271.3 1714.5 271.3 1714.5 272.3 1711.8 272.3 1711.8 272.4 1709.0 272.4 1709.0 271.7 1706.2 271.7 1706.2 271.4 1703.5 271.4 1703.5 270.2 1700.8 270.2 1700.8 272.4 1698.0 272.4 1698.0 272.1 1695.2 272.1 1695.2 272.6 1692.5 272.6 1692.5 275.0 1689.8 275.0 1689.8 271.4 1687.0 271.4 1687.0 270.7 1684.2 270.7 1684.2 272.2 1681.5 272.2 1681.5 273.7 1678.8 273.7 1678.8 270.6 1676.0 270.6 1676.0 272.3 1673.2 272.3 1673.2 271.7 1670.5 271.7 1670.5 271.5 1667.8 271.5 1667.8 271.5 1665.0 271.5 1665.0 270.0 1662.2 270.0 1662.2 269.2 1659.5 269.2 1659.5 270.3 1656.8 270.3 1656.8 271.5 1654.0 271.5 1654.0 273.3 1651.2 273.3 1651.2 271.2 1648.5 271.2 1648.5 272.2 1645.8 272.2 1645.8 273.8 1643.0 273.8 1643.0 270.8 1640.2 270.8 1640.2 271.8 1637.5 271.8 1637.5 271.4 1634.8 271.4 1634.8 271.5 1632.0 271.5 1632.0 270.7 1629.2 270.7 1629.2 269.8 1626.5 269.8 1626.5 271.9 1623.8 271.9 1623.8 270.8 1621.0 270.8 1621.0 272.0 1618.2 272.0 1618.2 271.0 1615.5 271.0 1615.5 269.5 1612.8 269.5 1612.8 272.6 1610.0 272.6 1610.0 269.6 1607.2 269.6 1607.2 269.2 1604.5 269.2 1604.5 271.3 1601.8 271.3 1601.8 269.5 1599.0 269.5 1599.0 269.5 1596.2 269.5 1596.2 270.2 1593.5 270.2 1593.5 272.1 1590.8 272.1 1590.8 270.7 1588.0 270.7 1588.0 270.2 1585.2 270.2 1585.2 271.3 1582.5 271.3 1582.5 270.7 1579.8 270.7 1579.8 270.1 1577.0 270.1 1577.0 269.4 1574.2 269.4 1574.2 269.8 1571.5 269.8 1571.5 268.1 1568.8 268.1 1568.8 268.4 1566.0 268.4 1566.0 268.3 1563.2 268.3 1563.2 269.6 1560.5 269.6 1560.5 269.5 1557.8 269.5 1557.8 269.0 1555.0 269.0 1555.0 268.9 1552.2 268.9 1552.2 267.2 1549.5 267.2 1549.5 267.8 1546.8 267.8 1546.8 273.2 1544.0 273.2 1544.0 268.2 1541.2 268.2 1541.2 269.4 1538.5 269.4 1538.5 268.0 1535.8 268.0 1535.8 267.8 1533.0 267.8 1533.0 269.9 1530.2 269.9 1530.2 265.5 1527.5 265.5 1527.5 269.4 1524.8 269.4 1524.8 268.0 1522.0 268.0 1522.0 267.6 1519.2 267.6 1519.2 268.8 1516.5 268.8 1516.5 266.8 1513.8 266.8 1513.8 268.3 1511.0 268.3 1511.0 269.0 1508.2 269.0 1508.2 266.1 1505.5 266.1 1505.5 265.9 1502.8 265.9 1502.8 267.2 1500.0 267.2 1500.0 270.8 1497.2 270.8 1497.2 267.3 1494.5 267.3 1494.5 265.4 1491.8 265.4 1491.8 265.2 1489.0 265.2 1489.0 267.0 1486.2 267.0 1486.2 266.9 1483.5 266.9 1483.5 266.8 1480.8 266.8 1480.8 265.6 1478.0 265.6 1478.0 264.7 1475.2 264.7 1475.2 264.6 1472.5 264.6 1472.5 265.2 1469.8 265.2 1469.8 266.7 1467.0 266.7 1467.0 263.9 1464.2 263.9 1464.2 265.5 1461.5 265.5 1461.5 264.5 1458.8 264.5 1458.8 264.8 1456.0 264.8 1456.0 265.5 1453.2 265.5 1453.2 265.5 1450.5 265.5 1450.5 267.3 1447.8 267.3 1447.8 265.5 1445.0 265.5 1445.0 265.4 1442.2 265.4 1442.2 263.5 1439.5 263.5 1439.5 262.6 1436.8 262.6 1436.8 266.9 1434.0 266.9 1434.0 266.2 1431.2 266.2 1431.2 265.2 1428.5 265.2 1428.5 264.3 1425.8 264.3 1425.8 262.6 1423.0 262.6 1423.0 264.3 1420.2 264.3 1420.2 263.4 1417.5 263.4 1417.5 262.2 1414.8 262.2 1414.8 262.8 1412.0 262.8 1412.0 260.6 1409.2 260.6 1409.2 264.3 1406.5 264.3 1406.5 263.0 1403.8 263.0 1403.8 266.1 1401.0 266.1 1401.0 265.3 1398.2 265.3 1398.2 264.6 1395.5 264.6 1395.5 263.6 1392.8 263.6 1392.8 264.0 1390.0 264.0 1390.0 265.2 1387.2 265.2 1387.2 267.2 1384.5 267.2 1384.5 265.4 1381.8 265.4 1381.8 263.1 1379.0 263.1 1379.0 262.0 1376.2 262.0 1376.2 262.3 1373.5 262.3 1373.5 267.0 1370.8 267.0 1370.8 263.7 1368.0 263.7 1368.0 262.1 1365.2 262.1 1365.2 262.1 1362.5 262.1 1362.5 262.7 1359.8 262.7 1359.8 261.7 1357.0 261.7 1357.0 262.0 1354.2 262.0 1354.2 260.0 1351.5 260.0 1351.5 260.5 1348.8 260.5 1348.8 260.9 1346.0 260.9 1346.0 261.3 1343.2 261.3 1343.2 261.3 1340.5 261.3 1340.5 259.5 1337.8 259.5 1337.8 258.8 1335.0 258.8 1335.0 260.4 1332.2 260.4 1332.2 259.3 1329.5 259.3 1329.5 260.0 1326.8 260.0 1326.8 259.1 1324.0 259.1 1324.0 258.7 1321.2 258.7 1321.2 262.1 1318.5 262.1 1318.5 260.9 1315.8 260.9 1315.8 260.6 1313.0 260.6 1313.0 261.3 1310.2 261.3 1310.2 259.8 1307.5 259.8 1307.5 261.1 1304.8 261.1 1304.8 261.6 1302.0 261.6 1302.0 262.2 1299.2 262.2 1299.2 261.2 1296.5 261.2 1296.5 258.9 1293.8 258.9 1293.8 260.3 1291.0 260.3 1291.0 262.7 1288.2 262.7 1288.2 258.7 1285.5 258.7 1285.5 258.3 1282.8 258.3 1282.8 259.6 1280.0 259.6 1280.0 259.9 1277.2 259.9 1277.2 257.8 1274.5 257.8 1274.5 260.0 1271.8 260.0 1271.8 258.7 1269.0 258.7 1269.0 257.1 1266.2 257.1 1266.2 257.5 1263.5 257.5 1263.5 257.0 1260.8 257.0 1260.8 258.8 1258.0 258.8 1258.0 260.7 1255.2 260.7 1255.2 257.3 1252.5 257.3 1252.5 261.2 1249.8 261.2 1249.8 261.8 1247.0 261.8 1247.0 256.4 1244.2 256.4 1244.2 258.9 1241.5 258.9 1241.5 257.3 1238.8 257.3 1238.8 258.1 1236.0 258.1 1236.0 259.2 1233.2 259.2 1233.2 259.3 1230.5 259.3 1230.5 257.8 1227.8 257.8 1227.8 257.2 1225.0 257.2 1225.0 255.9 1222.2 255.9 1222.2 255.3 1219.5 255.3 1219.5 256.7 1216.8 256.7 1216.8 255.5 1214.0 255.5 1214.0 255.6 1211.2 255.6 1211.2 256.8 1208.5 256.8 1208.5 255.5 1205.8 255.5 1205.8 255.2 1203.0 255.2 1203.0 253.6 1200.2 253.6 1200.2 254.9 1197.5 254.9 1197.5 255.3 1194.8 255.3 1194.8 253.9 1192.0 253.9 1192.0 254.7 1189.2 254.7 1189.2 253.0 1186.5 253.0 1186.5 254.0 1183.8 254.0 1183.8 251.4 1181.0 251.4 1181.0 251.9 1178.2 251.9 1178.2 250.2 1175.5 250.2 1175.5 251.0 1172.8 251.0 1172.8 252.4 1170.0 252.4 1170.0 250.6 1167.2 250.6 1167.2 252.3 1164.5 252.3 1164.5 252.5 1161.8 252.5 1161.8 250.8 1159.0 250.8 1159.0 249.8 1156.2 249.8 1156.2 248.8 1153.5 248.8 1153.5 250.1 1150.8 250.1 1150.8 250.8 1148.0 250.8 1148.0 250.3 1145.2 250.3 1145.2 248.7 1142.5 248.7 1142.5 247.3 1139.8 247.3 1139.8 246.6 1137.0 246.6 1137.0 245.9 1134.2 245.9 1134.2 245.8 1131.5 245.8 1131.5 245.0 1128.8 245.0 1128.8 243.3 1126.0 243.3 1126.0 244.5 1123.2 244.5 1123.2 244.7 1120.5 244.7 1120.5 246.9 1117.8 246.9 1117.8 245.4 1115.0 245.4 1115.0 243.5 1112.2 243.5 1112.2 242.1 1109.5 242.1 1109.5 243.0 1106.8 243.0 1106.8 244.9 1104.0 244.9 1104.0 243.8 1101.2 243.8 1101.2 244.9 1098.5 244.9 1098.5 245.6 1095.8 245.6 1095.8 244.5 1093.0 244.5 1093.0 243.1 1090.2 243.1 1090.2 244.4 1087.5 244.4 1087.5 242.8 1084.8 242.8 1084.8 239.1 1082.0 239.1 1082.0 242.1 1079.2 242.1 1079.2 243.1 1076.5 243.1 1076.5 240.4 1073.8 240.4 1073.8 240.2 1071.0 240.2 1071.0 241.6 1068.2 241.6 1068.2 238.6 1065.5 238.6 1065.5 239.4 1062.8 239.4 1062.8 238.6 1060.0 238.6 1060.0 238.0 1057.2 238.0 1057.2 235.7 1054.5 235.7 1054.5 235.0 1051.8 235.0 1051.8 236.0 1049.0 236.0 1049.0 237.5 1046.2 237.5 1046.2 238.4 1043.5 238.4 1043.5 236.8 1040.8 236.8 1040.8 236.7 1038.0 236.7 1038.0 237.1 1035.2 237.1 1035.2 236.8 1032.5 236.8 1032.5 236.0 1029.8 236.0 1029.8 235.0 1027.0 235.0 1027.0 233.8 1024.2 233.8 1024.2 234.6 1021.5 234.6 1021.5 233.3 1018.8 233.3 1018.8 235.0 1016.0 235.0 1016.0 235.5 1013.2 235.5 1013.2 234.4 1010.5 234.4 1010.5 233.8 1007.8 233.8 1007.8 232.3 1005.0 232.3 1005.0 231.7 1002.2 231.7 1002.2 229.4 999.5 229.4 999.5 225.6 996.8 225.6 996.8 228.9 994.0 228.9 994.0 234.5 991.2 234.5 991.2 228.7 988.5 228.7 988.5 226.4 985.8 226.4 985.8 225.8 983.0 225.8 983.0 225.5 980.2 225.5 980.2 226.1 977.5 226.1 977.5 228.0 974.8 228.0 974.8 226.6 972.0 226.6 972.0 224.0 969.2 224.0 969.2 226.7 966.5 226.7 966.5 226.2 963.8 226.2 963.8 221.6 961.0 221.6 961.0 221.0 958.2 221.0 958.2 217.6 955.5 217.6 955.5 218.4 952.8 218.4 952.8 218.6 950.0 218.6 950.0 217.9 947.2 217.9 947.2 217.8 944.5 217.8 944.5 218.9 941.8 218.9 941.8 216.6 939.0 216.6 939.0 216.5 936.2 216.5 936.2 216.3 933.5 216.3 933.5 212.7 930.8 212.7 930.8 211.2 928.0 211.2 928.0 212.3 925.2 212.3 925.2 209.3 922.5 209.3 922.5 210.1 919.8 210.1 919.8 208.8 917.0 208.8 917.0 210.2 914.2 210.2 914.2 206.1 911.5 206.1 911.5 207.5 908.8 207.5 908.8 204.3 906.0 204.3 906.0 207.3 903.2 207.3 903.2 207.3 900.5 207.3 900.5 206.5 897.8 206.5 897.8 204.0 895.0 204.0 895.0 202.1 892.2 202.1 892.2 201.1 889.5 201.1 889.5 201.4 886.8 201.4 886.8 197.9 884.0 197.9 884.0 197.0 881.2 197.0 881.2 197.0 878.5 197.0 878.5 193.8 875.8 193.8 875.8 191.2 873.0 191.2 873.0 191.0 870.2 191.0 870.2 191.0 867.5 191.0 867.5 193.4 864.8 193.4 864.8 190.9 862.0 190.9 862.0 186.6 859.2 186.6 859.2 189.4 856.5 189.4 856.5 184.8 853.8 184.8 853.8 184.4 851.0 184.4 851.0 183.2 848.2 183.2 848.2 179.5 845.5 179.5 845.5 180.3 842.8 180.3 842.8 177.0 840.0 177.0 840.0 181.2 837.2 181.2 837.2 181.4 834.5 181.4 834.5 180.4 831.8 180.4 831.8 176.6 829.0 176.6 829.0 175.4 826.2 175.4 826.2 174.9 823.5 174.9 823.5 171.1 820.8 171.1 820.8 168.0 818.0 168.0 818.0 165.4 815.2 165.4 815.2 166.8 812.5 166.8 812.5 165.0 809.8 165.0 809.8 162.6 807.0 162.6 807.0 161.5 804.2 161.5 804.2 159.4 801.5 159.4 801.5 158.9 798.8 158.9 798.8 161.4 796.0 161.4 796.0 153.4 793.2 153.4 793.2 153.2 790.5 153.2 790.5 152.1 787.8 152.1 787.8 152.8 785.0 152.8 785.0 151.5 782.2 151.5 782.2 148.3 779.5 148.3 779.5 150.8 776.8 150.8 776.8 151.3 774.0 151.3 774.0 153.9 771.2 153.9 771.2 150.5 768.5 150.5 768.5 149.0 765.8 149.0 765.8 142.9 763.0 142.9 763.0 145.6 760.2 145.6 760.2 141.1 757.5 141.1 757.5 143.2 754.8 143.2 754.8 141.5 752.0 141.5 752.0 140.4 749.2 140.4 749.2 139.5 746.5 139.5 746.5 139.4 743.8 139.4 743.8 144.6 741.0 144.6 741.0 143.7 738.2 143.7 738.2 142.6 735.5 142.6 735.5 139.2 732.8 139.2 732.8 139.5 730.0 139.5 730.0 139.4 727.2 139.4 727.2 136.5 724.5 136.5 724.5 139.9 721.8 139.9 721.8 139.0 719.0 139.0 719.0 138.0 716.2 138.0 716.2 138.9 713.5 138.9 713.5 145.1 710.8 145.1 710.8 145.4 708.0 145.4 708.0 141.3 705.2 141.3 705.2 141.1 702.5 141.1 702.5 147.9 699.8 147.9 699.8 143.5 697.0 143.5 697.0 150.5 694.2 150.5 694.2 151.3 691.5 151.3 691.5 146.4 688.8 146.4 688.8 148.7 686.0 148.7 686.0 144.1 683.2 144.1 683.2 145.2 680.5 145.2 680.5 150.9 677.8 150.9 677.8 154.3 675.0 154.3 675.0 155.2 672.2 155.2 672.2 156.2 669.5 156.2 669.5 159.0 666.8 159.0 666.8 160.9 664.0 160.9 664.0 162.7 661.2 162.7 661.2 167.1 658.5 167.1 658.5 167.6 655.8 167.6 655.8 172.0 653.0 172.0 653.0 170.8 650.2 170.8 650.2 169.2 647.5 169.2 647.5 172.8 644.8 172.8 644.8 172.9 642.0 172.9 642.0 173.4 639.2 173.4 639.2 177.4 636.5 177.4 636.5 179.8 633.8 179.8 633.8 182.9 631.0 182.9 631.0 183.8 628.2 183.8 628.2 184.2 625.5 184.2 625.5 183.3 622.8 183.3 622.8 183.9 620.0 183.9 620.0 183.4 617.2 183.4 617.2 186.0 614.5 186.0 614.5 185.6 611.8 185.6 611.8 185.4 609.0 185.4 609.0 191.0 606.2 191.0 606.2 187.1 603.5 187.1 603.5 187.5 600.8 187.5 600.8 190.0 598.0 190.0 598.0 192.3 595.2 192.3 595.2 192.3 592.5 192.3 592.5 191.1 589.8 191.1 589.8 195.4 587.0 195.4 587.0 196.2 584.2 196.2 584.2 196.0 581.5 196.0 581.5 198.8 578.8 198.8 578.8 201.3 576.0 201.3 576.0 199.4 573.2 199.4 573.2 206.9 570.5 206.9 570.5 201.8 567.8 201.8 567.8 204.0 565.0 204.0 565.0 203.1 562.2 203.1 562.2 203.6 559.5 203.6 559.5 203.9 556.8 203.9 556.8 207.8 554.0 207.8 554.0 209.6 551.2 209.6 551.2 213.5 548.5 213.5 548.5 215.8 545.8 215.8 545.8 214.1 543.0 214.1 543.0 211.9 540.2 211.9 540.2 211.1 537.5 211.1 537.5 211.1 534.8 211.1 534.8 213.0 532.0 213.0 532.0 211.2 529.2 211.2 529.2 213.7 526.5 213.7 526.5 211.9 523.8 211.9 523.8 214.4 521.0 214.4 521.0 214.1 518.2 214.1 518.2 214.2 515.5 214.2 515.5 216.0 512.8 216.0 512.8 216.1 510.0 216.1 510.0 215.4 507.2 215.4 507.2 217.5 504.5 217.5 504.5 215.8 501.8 215.8 501.8 215.7 499.0 215.7 499.0 214.4 496.2 214.4 496.2 215.6 493.5 215.6 493.5 215.1 490.8 215.1 490.8 214.1 488.0 214.1 488.0 214.4 485.2 214.4 485.2 214.4 482.5 214.4 482.5 216.8 479.8 216.8 479.8 218.7 477.0 218.7 477.0 217.3 474.2 217.3 474.2 215.3 471.5 215.3 471.5 216.3 468.8 216.3 468.8 218.3 466.0 218.3 466.0 216.6 463.2 216.6 463.2 214.1 460.5 214.1 460.5 213.1 457.8 213.1 457.8 218.5 455.0 218.5 455.0 213.6 452.2 213.6 452.2 216.0 449.5 216.0 449.5 216.2 446.8 216.2 446.8 217.1 444.0 217.1 444.0 218.4 441.2 218.4 441.2 217.1 438.5 217.1 438.5 216.5 435.8 216.5 435.8 217.8 433.0 217.8 433.0 215.1 430.2 215.1 430.2 212.6 427.5 212.6 427.5 214.2 424.8 214.2 424.8 214.6 422.0 214.6 422.0 216.9 419.2 216.9 419.2 216.8 416.5 216.8 416.5 219.6 413.8 219.6 413.8 218.1 411.0 218.1 411.0 217.9 408.2 217.9 408.2 211.1 405.5 211.1 405.5 214.8 402.8 214.8 402.8 216.2 400.0 216.2 400.0 218.8 397.2 218.8 397.2 215.2 394.5 215.2 394.5 217.1 391.8 217.1 391.8 215.6 389.0 215.6 389.0 214.0 386.2 214.0 386.2 218.2 383.5 218.2 383.5 210.6 380.8 210.6 380.8 211.9 378.0 211.9 378.0 218.8 375.2 218.8 375.2 213.3 372.5 213.3 372.5 212.6 369.8 212.6 369.8 210.3 367.0 210.3 367.0 210.9 364.2 210.9 364.2 211.2 361.5 211.2 361.5 214.8 358.8 214.8 358.8 213.5 356.0 213.5 356.0 213.2 353.2 213.2 353.2 212.2 350.5 212.2 350.5 211.5 347.8 211.5 347.8 209.6 345.0 209.6 345.0 207.9 342.2 207.9 342.2 211.7 339.5 211.7 339.5 212.9 336.8 212.9 336.8 210.2 334.0 210.2 334.0 209.8 331.2 209.8 331.2 209.9 328.5 209.9 328.5 207.3 325.8 207.3 325.8 209.2 323.0 209.2 323.0 208.3 320.2 208.3 320.2 208.3 317.5 208.3 317.5 206.9 314.8 206.9 314.8 207.3 312.0 207.3 312.0 205.2 309.2 205.2 309.2 204.7 306.5 204.7 306.5 204.9 303.8 204.9 303.8 205.4 301.0 205.4 301.0 206.3 298.2 206.3 298.2 204.9 295.5 204.9 295.5 204.7 292.8 204.7 292.8 207.0 290.0 207.0 290.0 203.0 287.2 203.0 287.2 203.2 284.5 203.2 284.5 200.7 281.8 200.7 281.8 202.5 279.0 202.5 279.0 201.0 276.2 201.0 276.2 202.3 273.5 202.3 273.5 204.1 270.8 204.1 270.8 205.2 268.0 205.2 268.0 203.1 265.2 203.1 265.2 202.9 262.5 202.9 262.5 202.3 259.8 202.3 259.8 200.5 257.0 200.5 257.0 203.4 254.2 203.4 254.2 198.1 251.5 198.1 251.5 199.6 248.8 199.6 248.8 199.3 246.0 199.3 246.0 196.5 243.2 196.5 243.2 196.8 240.5 196.8 240.5 197.0 237.8 197.0 237.8 193.3 235.0 193.3 235.0 190.5 232.2 190.5 232.2 190.9 229.5 190.9 229.5 194.7 226.8 194.7 226.8 193.3 224.0 193.3 224.0 195.0 221.2 195.0 221.2 194.4 218.5 194.4Z"/>
<path fill="#0000ff" fill-opacity="0.45" d="M218.5 466.1 221.2 466.1 221.2 462.6 224.0 462.6 224.0 465.5 226.8 465.5 226.8 470.5 229.5 470.5 229.5 469.6 232.2 469.6 232.2 467.9 235.0 467.9 235.0 469.6 237.8 469.6 237.8 469.8 240.5 469.8 240.5 470.1 243.2 470.1 243.2 471.6 246.0 471.6 246.0 471.5 248.8 471.5 248.8 475.7 251.5 475.7 251.5 473.9 254.2 473.9 254.2 472.3 257.0 472.3 257.0 472.0 259.8 472.0 259.8 474.3 262.5 474.3 262.5 476.1 265.2 476.1 265.2 471.3 268.0 471.3 268.0 475.5 270.8 475.5 270.8 474.4 273.5 474.4 273.5 470.3 276.2 470.3 276.2 473.8 279.0 473.8 279.0 478.8 281.8 478.8 281.8 480.5 284.5 480.5 284.5 481.5 287.2 481.5 287.2 479.8 290.0 479.8 290.0 484.9 292.8 484.9 292.8 483.9 295.5 483.9 295.5 481.4 298.2 481.4 298.2 479.5 301.0 479.5 301.0 482.3 303.8 482.3 303.8 479.8 306.5 479.8 306.5 481.7 309.2 481.7 309.2 484.7 312.0 484.7 312.0 482.6 314.8 482.6 314.8 486.1 317.5 486.1 317.5 484.5 320.2 484.5 320.2 486.8 323.0 486.8 323.0 486.1 325.8 486.1 325.8 485.6 328.5 485.6 328.5 485.4 331.2 485.4 331.2 487.0 334.0 487.0 334.0 487.9 336.8 487.9 336.8 487.9 339.5 487.9 339.5 488.2 342.2 488.2 342.2 492.3 345.0 492.3 345.0 493.8 347.8 493.8 347.8 490.7 350.5 490.7 350.5 488.4 353.2 488.4 353.2 488.0 356.0 488.0 356.0 494.0 358.8 494.0 358.8 491.2 361.5 491.2 361.5 494.4 364.2 494.4 364.2 495.3 367.0 495.3 367.0 490.8 369.8 490.8 369.8 491.5 372.5 491.5 372.5 492.3 375.2 492.3 375.2 490.8 378.0 490.8 378.0 492.6 380.8 492.6 380.8 493.2 383.5 493.2 383.5 494.3 386.2 494.3 386.2 495.6 389.0 495.6 389.0 492.3 391.8 492.3 391.8 495.0 394.5 495.0 394.5 495.3 397.2 495.3 397.2 497.0 400.0 497.0 400.0 493.1 402.8 493.1 402.8 493.7 405.5 493.7 405.5 496.4 408.2 496.4 408.2 494.2 411.0 494.2 411.0 491.3 413.8 491.3 413.8 494.9 416.5 494.9 416.5 488.0 419.2 488.0 419.2 493.0 422.0 493.0 422.0 493.7 424.8 493.7 424.8 494.7 427.5 494.7 427.5 497.0 430.2 497.0 430.2 494.1 433.0 494.1 433.0 495.9 435.8 495.9 435.8 496.6 438.5 496.6 438.5 497.3 441.2 497.3 441.2 492.5 444.0 492.5 444.0 497.6 446.8 497.6 446.8 492.9 449.5 492.9 449.5 494.2 452.2 494.2 452.2 493.3 455.0 493.3 455.0 491.2 457.8 491.2 457.8 491.9 460.5 491.9 460.5 487.9 463.2 487.9 463.2 490.6 466.0 490.6 466.0 489.9 468.8 489.9 468.8 491.8 471.5 491.8 471.5 490.2 474.2 490.2 474.2 489.8 477.0 489.8 477.0 493.7 479.8 493.7 479.8 491.8 482.5 491.8 482.5 490.5 485.2 490.5 485.2 492.3 488.0 492.3 488.0 494.8 490.8 494.8 490.8 496.5 493.5 496.5 493.5 495.4 496.2 495.4 496.2 492.5 499.0 492.5 499.0 492.5 501.8 492.5 501.8 496.2 504.5 496.2 504.5 494.5 507.2 494.5 507.2 492.7 510.0 492.7 510.0 490.0 512.8 490.0 512.8 486.8 515.5 486.8 515.5 493.0 518.2 493.0 518.2 492.0 521.0 492.0 521.0 489.8 523.8 489.8 523.8 490.6 526.5 490.6 526.5 489.5 529.2 489.5 529.2 487.8 532.0 487.8 532.0 486.7 534.8 486.7 534.8 487.4 537.5 487.4 537.5 487.2 540.2 487.2 540.2 486.9 543.0 486.9 543.0 487.5 545.8 487.5 545.8 486.5 548.5 486.5 548.5 483.9 551.2 483.9 551.2 480.8 554.0 480.8 554.0 481.8 556.8 481.8 556.8 480.1 559.5 480.1 559.5 474.5 562.2 474.5 562.2 470.9 565.0 470.9 565.0 472.9 567.8 472.9 567.8 480.3 570.5 480.3 570.5 475.7 573.2 475.7 573.2 471.2 576.0 471.2 576.0 467.5 578.8 467.5 578.8 468.5 581.5 468.5 581.5 464.8 584.2 464.8 584.2 465.8 587.0 465.8 587.0 466.8 589.8 466.8 589.8 467.3 592.5 467.3 592.5 465.4 595.2 465.4 595.2 464.1 598.0 464.1 598.0 461.6 600.8 461.6 600.8 463.5 603.5 463.5 603.5 459.4 606.2 459.4 606.2 456.0 609.0 456.0 609.0 453.3 611.8 453.3 611.8 456.0 614.5 456.0 614.5 453.4 617.2 453.4 617.2 454.4 620.0 454.4 620.0 451.0 622.8 451.0 622.8 443.8 625.5 443.8 625.5 437.4 628.2 437.4 628.2 438.3 631.0 438.3 631.0 432.1 633.8 432.1 633.8 436.1 636.5 436.1 636.5 437.7 639.2 437.7 639.2 431.1 642.0 431.1 642.0 428.6 644.8 428.6 644.8 428.3 647.5 428.3 647.5 426.6 650.2 426.6 650.2 424.4 653.0 424.4 653.0 420.9 655.8 420.9 655.8 424.5 658.5 424.5 658.5 424.2 661.2 424.2 661.2 418.5 664.0 418.5 664.0 417.0 666.8 417.0 666.8 409.9 669.5 409.9 669.5 409.8 672.2 409.8 672.2 411.9 675.0 411.9 675.0 407.1 677.8 407.1 677.8 409.4 680.5 409.4 680.5 408.0 683.2 408.0 683.2 406.6 686.0 406.6 686.0 406.2 688.8 406.2 688.8 401.9 691.5 401.9 691.5 398.7 694.2 398.7 694.2 399.4 697.0 399.4 697.0 399.1 699.8 399.1 699.8 396.2 702.5 396.2 702.5 396.4 705.2 396.4 705.2 391.9 708.0 391.9 708.0 392.6 710.8 392.6 710.8 390.4 713.5 390.4 713.5 392.8 716.2 392.8 716.2 396.3 719.0 396.3 719.0 398.6 721.8 398.6 721.8 399.8 724.5 399.8 724.5 390.4 727.2 390.4 727.2 390.2 730.0 390.2 730.0 394.6 732.8 394.6 732.8 387.4 735.5 387.4 735.5 394.7 738.2 394.7 738.2 393.9 741.0 393.9 741.0 396.1 743.8 396.1 743.8 396.2 746.5 396.2 746.5 396.6 749.2 396.6 749.2 398.5 752.0 398.5 752.0 397.9 754.8 397.9 754.8 398.7 757.5 398.7 757.5 394.0 760.2 394.0 760.2 400.0 763.0 400.0 763.0 400.0 765.8 400.0 765.8 405.7 768.5 405.7 768.5 406.5 771.2 406.5 771.2 405.4 774.0 405.4 774.0 405.0 776.8 405.0 776.8 407.8 779.5 407.8 779.5 408.5 782.2 408.5 782.2 408.5 785.0 408.5 785.0 412.6 787.8 412.6 787.8 415.3 790.5 415.3 790.5 418.5 793.2 418.5 793.2 420.1 796.0 420.1 796.0 418.9 798.8 418.9 798.8 420.2 801.5 420.2 801.5 424.3 804.2 424.3 804.2 427.4 807.0 427.4 807.0 424.9 809.8 424.9 809.8 429.1 812.5 429.1 812.5 431.7 815.2 431.7 815.2 432.8 818.0 432.8 818.0 432.9 820.8 432.9 820.8 435.3 823.5 435.3 823.5 437.1 826.2 437.1 826.2 440.5 829.0 440.5 829.0 442.7 831.8 442.7 831.8 444.5 834.5 444.5 834.5 446.0 837.2 446.0 837.2 446.0 840.0 446.0 840.0 451.9 842.8 451.9 842.8 451.6 845.5 451.6 845.5 451.8 848.2 451.8 848.2 455.3 851.0 455.3 851.0 453.3 853.8 453.3 853.8 454.0 856.5 454.0 856.5 454.4 859.2 454.4 859.2 455.2 862.0 455.2 862.0 455.8 864.8 455.8 864.8 459.7 867.5 459.7 867.5 458.7 870.2 458.7 870.2 460.2 873.0 460.2 873.0 463.1 875.8 463.1 875.8 465.4 878.5 465.4 878.5 467.7 881.2 467.7 881.2 468.7 884.0 468.7 884.0 467.3 886.8 467.3 886.8 470.5 889.5 470.5 889.5 471.2 892.2 471.2 892.2 477.0 895.0 477.0 895.0 477.4 897.8 477.4 897.8 481.6 900.5 481.6 900.5 479.7 903.2 479.7 903.2 483.7 906.0 483.7 906.0 484.2 908.8 484.2 908.8 489.4 911.5 489.4 911.5 489.2 914.2 489.2 914.2 488.6 917.0 488.6 917.0 487.3 919.8 487.3 919.8 489.7 922.5 489.7 922.5 489.2 925.2 489.2 925.2 488.7 928.0 488.7 928.0 491.7 930.8 491.7 930.8 490.6 933.5 490.6 933.5 496.2 936.2 496.2 936.2 491.9 939.0 491.9 939.0 498.3 941.8 498.3 941.8 497.1 944.5 497.1 944.5 497.5 947.2 497.5 947.2 499.9 950.0 499.9 950.0 501.1 952.8 501.1 952.8 501.9 955.5 501.9 955.5 502.1 958.2 502.1 958.2 504.2 961.0 504.2 961.0 502.3 963.8 502.3 963.8 502.0 966.5 502.0 966.5 505.0 969.2 505.0 969.2 507.2 972.0 507.2 972.0 504.7 974.8 504.7 974.8 506.8 977.5 506.8 977.5 505.2 980.2 505.2 980.2 509.3 983.0 509.3 983.0 504.1 985.8 504.1 985.8 505.9 988.5 505.9 988.5 511.1 991.2 511.1 991.2 511.2 994.0 511.2 994.0 510.9 996.8 510.9 996.8 511.4 999.5 511.4 999.5 510.2 1002.2 510.2 1002.2 510.7 1005.0 510.7 1005.0 510.6 1007.8 510.6 1007.8 512.0 1010.5 512.0 1010.5 514.3 1013.2 514.3 1013.2 515.0 1016.0 515.0 1016.0 518.6 1018.8 518.6 1018.8 520.2 1021.5 520.2 1021.5 518.3 1024.2 518.3 1024.2 518.2 1027.0 518.2 1027.0 517.6 1029.8 517.6 1029.8 518.3 1032.5 518.3 1032.5 517.8 1035.2 517.8 1035.2 516.6 1038.0 516.6 1038.0 518.7 1040.8 518.7 1040.8 520.6 1043.5 520.6 1043.5 520.8 1046.2 520.8 1046.2 521.5 1049.0 521.5 1049.0 520.9 1051.8 520.9 1051.8 522.6 1054.5 522.6 1054.5 526.0 1057.2 526.0 1057.2 522.3 1060.0 522.3 1060.0 524.4 1062.8 524.4 1062.8 525.4 1065.5 525.4 1065.5 528.0 1068.2 528.0 1068.2 527.5 1071.0 527.5 1071.0 527.3 1073.8 527.3 1073.8 526.5 1076.5 526.5 1076.5 529.1 1079.2 529.1 1079.2 526.4 1082.0 526.4 1082.0 526.0 1084.8 526.0 1084.8 529.0 1087.5 529.0 1087.5 529.9 1090.2 529.9 1090.2 530.0 1093.0 530.0 1093.0 530.8 1095.8 530.8 1095.8 529.5 1098.5 529.5 1098.5 529.2 1101.2 529.2 1101.2 530.6 1104.0 530.6 1104.0 529.1 1106.8 529.1 1106.8 529.4 1109.5 529.4 1109.5 529.5 1112.2 529.5 1112.2 527.5 1115.0 527.5 1115.0 527.2 1117.8 527.2 1117.8 528.3 1120.5 528.3 1120.5 531.8 1123.2 531.8 1123.2 530.4 1126.0 530.4 1126.0 528.3 1128.8 528.3 1128.8 531.8 1131.5 531.8 1131.5 530.2 1134.2 530.2 1134.2 527.9 1137.0 527.9 1137.0 528.6 1139.8 528.6 1139.8 528.2 1142.5 528.2 1142.5 531.1 1145.2 531.1 1145.2 533.7 1148.0 533.7 1148.0 532.0 1150.8 532.0 1150.8 531.0 1153.5 531.0 1153.5 533.6 1156.2 533.6 1156.2 534.7 1159.0 534.7 1159.0 532.1 1161.8 532.1 1161.8 532.8 1164.5 532.8 1164.5 534.8 1167.2 534.8 1167.2 534.5 1170.0 534.5 1170.0 534.2 1172.8 534.2 1172.8 532.4 1175.5 532.4 1175.5 532.6 1178.2 532.6 1178.2 536.3 1181.0 536.3 1181.0 537.2 1183.8 537.2 1183.8 536.3 1186.5 536.3 1186.5 536.4 1189.2 536.4 1189.2 536.1 1192.0 536.1 1192.0 539.5 1194.8 539.5 1194.8 538.9 1197.5 538.9 1197.5 536.8 1200.2 536.8 1200.2 538.8 1203.0 538.8 1203.0 538.8 1205.8 538.8 1205.8 537.4 1208.5 537.4 1208.5 538.3 1211.2 538.3 1211.2 539.8 1214.0 539.8 1214.0 538.5 1216.8 538.5 1216.8 538.1 1219.5 538.1 1219.5 541.4 1222.2 541.4 1222.2 541.0 1225.0 541.0 1225.0 541.0 1227.8 541.0 1227.8 538.5 1230.5 538.5 1230.5 542.0 1233.2 542.0 1233.2 539.0 1236.0 539.0 1236.0 541.5 1238.8 541.5 1238.8 538.6 1241.5 538.6 1241.5 538.8 1244.2 538.8 1244.2 540.2 1247.0 540.2 1247.0 541.2 1249.8 541.2 1249.8 539.5 1252.5 539.5 1252.5 536.6 1255.2 536.6 1255.2 542.2 1258.0 542.2 1258.0 543.6 1260.8 543.6 1260.8 542.1 1263.5 542.1 1263.5 542.6 1266.2 542.6 1266.2 541.2 1269.0 541.2 1269.0 540.6 1271.8 540.6 1271.8 542.0 1274.5 542.0 1274.5 546.1 1277.2 546.1 1277.2 544.6 1280.0 544.6 1280.0 543.3 1282.8 543.3 1282.8 545.1 1285.5 545.1 1285.5 544.9 1288.2 544.9 1288.2 545.0 1291.0 545.0 1291.0 546.0 1293.8 546.0 1293.8 544.5 1296.5 544.5 1296.5 543.3 1299.2 543.3 1299.2 544.4 1302.0 544.4 1302.0 545.0 1304.8 545.0 1304.8 543.8 1307.5 543.8 1307.5 542.8 1310.2 542.8 1310.2 541.3 1313.0 541.3 1313.0 543.7 1315.8 543.7 1315.8 543.4 1318.5 543.4 1318.5 546.4 1321.2 546.4 1321.2 546.8 1324.0 546.8 1324.0 545.9 1326.8 545.9 1326.8 546.9 1329.5 546.9 1329.5 546.7 1332.2 546.7 1332.2 547.1 1335.0 547.1 1335.0 545.3 1337.8 545.3 1337.8 545.5 1340.5 545.5 1340.5 546.4 1343.2 546.4 1343.2 546.6 1346.0 546.6 1346.0 545.7 1348.8 545.7 1348.8 548.6 1351.5 548.6 1351.5 547.4 1354.2 547.4 1354.2 545.9 1357.0 545.9 1357.0 544.4 1359.8 544.4 1359.8 544.3 1362.5 544.3 1362.5 546.6 1365.2 546.6 1365.2 545.8 1368.0 545.8 1368.0 547.3 1370.8 547.3 1370.8 549.1 1373.5 549.1 1373.5 548.2 1376.2 548.2 1376.2 546.1 1379.0 546.1 1379.0 544.6 1381.8 544.6 1381.8 547.4 1384.5 547.4 1384.5 547.9 1387.2 547.9 1387.2 546.0 1390.0 546.0 1390.0 545.9 1392.8 545.9 1392.8 547.5 1395.5 547.5 1395.5 548.6 1398.2 548.6 1398.2 548.7 1401.0 548.7 1401.0 547.7 1403.8 547.7 1403.8 548.7 1406.5 548.7 1406.5 549.0 1409.2 549.0 1409.2 547.3 1412.0 547.3 1412.0 546.7 1414.8 546.7 1414.8 546.4 1417.5 546.4 1417.5 548.2 1420.2 548.2 1420.2 550.4 1423.0 550.4 1423.0 548.1 1425.8 548.1 1425.8 549.3 1428.5 549.3 1428.5 548.6 1431.2 548.6 1431.2 548.8 1434.0 548.8 1434.0 548.8 1436.8 548.8 1436.8 549.3 1439.5 549.3 1439.5 547.7 1442.2 547.7 1442.2 548.7 1445.0 548.7 1445.0 548.1 1447.8 548.1 1447.8 551.4 1450.5 551.4 1450.5 548.0 1453.2 548.0 1453.2 547.1 1456.0 547.1 1456.0 547.8 1458.8 547.8 1458.8 548.3 1461.5 548.3 1461.5 547.6 1464.2 547.6 1464.2 550.0 1467.0 550.0 1467.0 550.3 1469.8 550.3 1469.8 550.5 1472.5 550.5 1472.5 547.4 1475.2 547.4 1475.2 548.1 1478.0 548.1 1478.0 547.6 1480.8 547.6 1480.8 549.7 1483.5 549.7 1483.5 545.7 1486.2 545.7 1486.2 551.7 1489.0 551.7 1489.0 551.1 1491.8 551.1 1491.8 551.4 1494.5 551.4 1494.5 550.3 1497.2 550.3 1497.2 548.6 1500.0 548.6 1500.0 549.2 1502.8 549.2 1502.8 550.4 1505.5 550.4 1505.5 550.5 1508.2 550.5 1508.2 551.5 1511.0 551.5 1511.0 549.7 1513.8 549.7 1513.8 551.0 1516.5 551.0 1516.5 551.5 1519.2 551.5 1519.2 551.3 1522.0 551.3 1522.0 551.4 1524.8 551.4 1524.8 550.2 1527.5 550.2 1527.5 551.0 1530.2 551.0 1530.2 553.2 1533.0 553.2 1533.0 550.8 1535.8 550.8 1535.8 552.4 1538.5 552.4 1538.5 550.1 1541.2 550.1 1541.2 554.4 1544.0 554.4 1544.0 552.5 1546.8 552.5 1546.8 551.1 1549.5 551.1 1549.5 550.9 1552.2 550.9 1552.2 549.8 1555.0 549.8 1555.0 551.1 1557.8 551.1 1557.8 550.9 1560.5 550.9 1560.5 553.1 1563.2 553.1 1563.2 552.2 1566.0 552.2 1566.0 552.4 1568.8 552.4 1568.8 553.7 1571.5 553.7 1571.5 550.4 1574.2 550.4 1574.2 551.4 1577.0 551.4 1577.0 552.2 1579.8 552.2 1579.8 553.4 1582.5 553.4 1582.5 551.2 1585.2 551.2 1585.2 551.4 1588.0 551.4 1588.0 553.6 1590.8 553.6 1590.8 554.2 1593.5 554.2 1593.5 553.7 1596.2 553.7 1596.2 552.9 1599.0 552.9 1599.0 553.3 1601.8 553.3 1601.8 554.2 1604.5 554.2 1604.5 550.5 1607.2 550.5 1607.2 553.5 1610.0 553.5 1610.0 554.1 1612.8 554.1 1612.8 551.7 1615.5 551.7 1615.5 552.6 1618.2 552.6 1618.2 550.5 1621.0 550.5 1621.0 552.4 1623.8 552.4 1623.8 552.9 1626.5 552.9 1626.5 554.0 1629.2 554.0 1629.2 556.0 1632.0 556.0 1632.0 553.5 1634.8 553.5 1634.8 552.0 1637.5 552.0 1637.5 552.0 1640.2 552.0 1640.2 554.2 1643.0 554.2 1643.0 554.0 1645.8 554.0 1645.8 555.7 1648.5 555.7 1648.5 553.9 1651.2 553.9 1651.2 554.9 1654.0 554.9 1654.0 554.5 1656.8 554.5 1656.8 556.0 1659.5 556.0 1659.5 555.3 1662.2 555.3 1662.2 556.5 1665.0 556.5 1665.0 555.4 1667.8 555.4 1667.8 556.5 1670.5 556.5 1670.5 554.1 1673.2 554.1 1673.2 553.2 1676.0 553.2 1676.0 553.7 1678.8 553.7 1678.8 553.4 1681.5 553.4 1681.5 554.6 1684.2 554.6 1684.2 556.1 1687.0 556.1 1687.0 556.0 1689.8 556.0 1689.8 553.1 1692.5 553.1 1692.5 553.9 1695.2 553.9 1695.2 554.8 1698.0 554.8 1698.0 555.9 1700.8 555.9 1700.8 554.8 1703.5 554.8 1703.5 554.8 1706.2 554.8 1706.2 556.4 1709.0 556.4 1709.0 556.3 1711.8 556.3 1711.8 556.8 1714.5 556.8 1714.5 555.9 1717.2 555.9 1717.2 554.3 1720.0 554.3 1720.0 556.5 1722.8 556.5 1722.8 556.7 1725.5 556.7 1725.5 558.2 1728.2 558.2 1728.2 556.4 1731.0 556.4 1731.0 556.6 1733.8 556.6 1733.8 556.6 1736.5 556.6 1736.5 555.8 1739.2 555.8 1739.2 556.0 1742.0 556.0 1742.0 556.0 1744.8 556.0 1744.8 556.7 1747.5 556.7 1747.5 557.5 1750.2 557.5 1750.2 555.3 1753.0 555.3 1753.0 556.3 1755.8 556.3 1755.8 557.0 1758.5 557.0 1758.5 557.1 1761.2 557.1 1761.2 555.0 1764.0 555.0 1764.0 558.1 1766.8 558.1 1766.8 555.7 1769.5 555.7 1769.5 556.1 1772.2 556.1 1772.2 555.7 1775.0 555.7 1775.0 557.8 1777.8 557.8 1777.8 554.9 1780.5 554.9 1780.5 556.3 1783.2 556.3 1783.2 555.6 1786.0 555.6 1786.0 554.4 1788.8 554.4 1788.8 556.5 1791.5 556.5 1791.5 555.7 1794.2 555.7 1794.2 556.2 1797.0 556.2 1797.0 555.7 1799.8 555.7 1799.8 557.5 1802.5 557.5 1802.5 555.9 1805.2 555.9 1805.2 555.5 1808.0 555.5 1808.0 557.3 1810.8 557.3 1810.8 556.3 1813.5 556.3 1813.5 557.0 1816.2 557.0 1816.2 558.1 1819.0 558.1 1819.0 558.6 1821.8 558.6 1821.8 558.2 1824.5 558.2 1824.5 558.5 1827.2 558.5 1827.2 556.4 1830.0 556.4 1830.0 556.9 1832.8 556.9 1832.8 558.2 1835.5 558.2 1835.5 555.9 1838.2 555.9 1838.2 555.8 1841.0 555.8 1841.0 555.5 1843.8 555.5 1843.8 555.4 1846.5 555.4 1846.5 556.8 1849.2 556.8 1849.2 556.7 1852.0 556.7 1852.0 560.2 1854.8 560.2 1854.8 559.1 1857.5 559.1 1857.5 556.5 1860.2 556.5 1860.2 556.5 1863.0 556.5 1863.0 558.2 1865.8 558.2 1865.8 558.5 1868.5 558.5 1868.5 557.3 1871.2 557.3 1871.2 557.4 1874.0 557.4 1874.0 555.9 1876.8 555.9 1876.8 557.8 1879.5 557.8 1879.5 555.9 1882.2 555.9 1882.2 557.0 1885.0 557.0 1885.0 556.4 1887.8 556.4 1887.8 557.8 1890.5 557.8 1890.5 557.1 1893.2 557.1 1893.2 552.9 1896.0 552.9 1896.0 554.9 1898.8 554.9 1898.8 557.1 1901.5 557.1 1901.5 557.0 1904.2 557.0 1904.2 557.1 1907.0 557.1 1907.0 556.7 1909.8 556.7 1909.8 556.1 1912.5 556.1 1912.5 557.7 1915.2 557.7 1915.2 557.0 1918.0 557.0 1918.0 557.5 1920.8 557.5 1920.8 556.6 1923.5 556.6 1923.5 557.2 1926.2 557.2 1926.2 557.8 1929.0 557.8 1929.0 555.6 1931.8 555.6 1931.8 556.7 1934.5 556.7 1934.5 557.9 1937.2 557.9 1937.2 557.0 1940.0 557.0 1940.0 558.2 1942.8 558.2 1942.8 559.4 1945.5 559.4 1945.5 556.8 1948.2 556.8 1948.2 556.1 1951.0 556.1 1951.0 554.3 1953.8 554.3 1953.8 555.0 1956.5 555.0 1956.5 556.9 1959.2 556.9 1959.2 554.5 1962.0 554.5 1962.0 558.3 1964.8 558.3 1964.8 556.5 1967.5 556.5 1967.5 557.3 1970.2 557.3 1970.2 558.8 1973.0 558.8 1973.0 558.5 1975.8 558.5 1975.8 557.7 1978.5 557.7 1978.5 555.6 1981.2 555.6 1981.2 557.0 1984.0 557.0 1984.0 555.2 1986.8 555.2 1986.8 556.3 1989.5 556.3 1989.5 556.1 1992.2 556.1 1992.2 558.5 1995.0 558.5 1995.0 556.7 1997.8 556.7 1997.8 555.4 2000.5 555.4 2000.5 555.1 2003.2 555.1 2003.2 556.4 2006.0 556.4 2006.0 555.9 2008.8 555.9 2008.8 556.0 2011.5 556.0 2011.5 556.8 2014.2 556.8 2014.2 556.9 2017.0 556.9 2017.0 558.4 2019.8 558.4 2019.8 557.0 2022.5 557.0 2022.5 558.2 2025.2 558.2 2025.2 559.2 2028.0 559.2 2028.0 557.0 2030.8 557.0 2030.8 559.7 2033.5 559.7 2033.5 559.6 2036.2 559.6 2036.2 557.9 2039.0 557.9 2039.0 559.1 2041.8 559.1 2041.8 560.1 2044.5 560.1 2044.5 559.9 2047.2 559.9 2047.2 557.2 2050.0 557.2 2050.0 556.5 2052.8 556.5 2052.8 556.1 2055.5 556.1 2055.5 556.9 2058.2 556.9 2058.2 558.9 2061.0 558.9 2061.0 558.7 2063.8 558.7 2063.8 557.5 2066.5 557.5 2066.5 558.6 2069.2 558.6 2069.2 558.3 2072.0 558.3 2072.0 558.7 2074.8 558.7 2074.8 558.0 2077.5 558.0 2077.5 555.9 2080.2 555.9 2080.2 558.9 2083.0 558.9 2083.0 558.3 2085.8 558.3 2085.8 557.2 2088.5 557.2 2088.5 559.8 2091.2 559.8 2091.2 559.5 2094.0 559.5 2094.0 559.7 2096.8 559.7 2096.8 558.6 2099.5 558.6 2099.5 557.6 2102.2 557.6 2102.2 555.7 2105.0 555.7 2105.0 555.9 2107.8 555.9 2107.8 554.4 2110.5 554.4 2110.5 558.4 2113.2 558.4 2113.2 558.0 2116.0 558.0 2116.0 557.2 2118.8 557.2 2118.8 558.1 2121.5 558.1 2121.5 556.9 2124.2 556.9 2124.2 557.4 2127.0 557.4 2127.0 559.2 2129.8 559.2 2129.8 558.0 2132.5 558.0 2132.5 559.6 2135.2 559.6 2135.2 559.8 2138.0 559.8 2138.0 557.7 2140.8 557.7 2140.8 557.4 2143.5 557.4 2143.5 559.1 2146.2 559.1 2146.2 559.8 2149.0 559.8 2149.0 555.8 2151.8 555.8 2151.8 556.0 2154.5 556.0 2154.5 558.3 2157.2 558.3 2157.2 556.6 2160.0 556.6 2160.0 558.2 2162.8 558.2 2162.8 557.6 2165.5 557.6 2165.5 557.2 2168.2 557.2 2168.2 556.3 2171.0 556.3 2171.0 557.1 2173.8 557.1 2173.8 557.9 2176.5 557.9 2176.5 558.3 2179.2 558.3 2179.2 559.5 2182.0 559.5 2182.0 558.4 2184.8 558.4 2184.8 558.3 2187.5 558.3 2187.5 557.2 2190.2 557.2 2190.2 558.4 2193.0 558.4 2193.0 554.5 2195.8 554.5 2195.8 557.4 2198.5 557.4 2198.5 559.2 2201.2 559.2 2201.2 559.8 2204.0 559.8 2204.0 558.6 2205.1 558.6 2205.1 573.7 2204.0 573.7 2204.0 573.9 2201.2 573.9 2201.2 574.8 2198.5 574.8 2198.5 574.6 2195.8 574.6 2195.8 573.0 2193.0 573.0 2193.0 574.4 2190.2 574.4 2190.2 572.7 2187.5 572.7 2187.5 575.1 2184.8 575.1 2184.8 575.4 2182.0 575.4 2182.0 575.3 2179.2 575.3 2179.2 574.4 2176.5 574.4 2176.5 574.0 2173.8 574.0 2173.8 572.1 2171.0 572.1 2171.0 571.3 2168.2 571.3 2168.2 572.1 2165.5 572.1 2165.5 574.4 2162.8 574.4 2162.8 575.0 2160.0 575.0 2160.0 573.2 2157.2 573.2 2157.2 573.8 2154.5 573.8 2154.5 571.0 2151.8 571.0 2151.8 572.4 2149.0 572.4 2149.0 576.9 2146.2 576.9 2146.2 575.2 2143.5 575.2 2143.5 574.3 2140.8 574.3 2140.8 574.0 2138.0 574.0 2138.0 574.4 2135.2 574.4 2135.2 574.2 2132.5 574.2 2132.5 574.1 2129.8 574.1 2129.8 574.4 2127.0 574.4 2127.0 574.7 2124.2 574.7 2124.2 573.3 2121.5 573.3 2121.5 574.8 2118.8 574.8 2118.8 572.8 2116.0 572.8 2116.0 572.2 2113.2 572.2 2113.2 572.4 2110.5 572.4 2110.5 572.5 2107.8 572.5 2107.8 572.8 2105.0 572.8 2105.0 572.5 2102.2 572.5 2102.2 572.7 2099.5 572.7 2099.5 573.2 2096.8 573.2 2096.8 575.1 2094.0 575.1 2094.0 576.0 2091.2 576.0 2091.2 574.3 2088.5 574.3 2088.5 572.9 2085.8 572.9 2085.8 575.8 2083.0 575.8 2083.0 576.0 2080.2 576.0 2080.2 573.0 2077.5 573.0 2077.5 573.7 2074.8 573.7 2074.8 574.0 2072.0 574.0 2072.0 573.5 2069.2 573.5 2069.2 573.2 2066.5 573.2 2066.5 572.4 2063.8 572.4 2063.8 573.9 2061.0 573.9 2061.0 574.6 2058.2 574.6 2058.2 572.8 2055.5 572.8 2055.5 571.5 2052.8 571.5 2052.8 573.5 2050.0 573.5 2050.0 571.9 2047.2 571.9 2047.2 576.8 2044.5 576.8 2044.5 576.1 2041.8 576.1 2041.8 574.9 2039.0 574.9 2039.0 573.9 2036.2 573.9 2036.2 577.5 2033.5 577.5 2033.5 575.0 2030.8 575.0 2030.8 573.8 2028.0 573.8 2028.0 572.8 2025.2 572.8 2025.2 573.6 2022.5 573.6 2022.5 573.3 2019.8 573.3 2019.8 573.6 2017.0 573.6 2017.0 573.5 2014.2 573.5 2014.2 572.6 2011.5 572.6 2011.5 572.7 2008.8 572.7 2008.8 572.0 2006.0 572.0 2006.0 570.6 2003.2 570.6 2003.2 573.1 2000.5 573.1 2000.5 572.0 1997.8 572.0 1997.8 573.2 1995.0 573.2 1995.0 573.3 1992.2 573.3 1992.2 572.4 1989.5 572.4 1989.5 571.9 1986.8 571.9 1986.8 573.4 1984.0 573.4 1984.0 572.3 1981.2 572.3 1981.2 572.9 1978.5 572.9 1978.5 572.6 1975.8 572.6 1975.8 573.1 1973.0 573.1 1973.0 573.5 1970.2 573.5 1970.2 574.2 1967.5 574.2 1967.5 574.1 1964.8 574.1 1964.8 574.0 1962.0 574.0 1962.0 572.4 1959.2 572.4 1959.2 572.5 1956.5 572.5 1956.5 570.5 1953.8 570.5 1953.8 571.7 1951.0 571.7 1951.0 572.0 1948.2 572.0 1948.2 572.1 1945.5 572.1 1945.5 574.6 1942.8 574.6 1942.8 572.2 1940.0 572.2 1940.0 573.4 1937.2 573.4 1937.2 572.9 1934.5 572.9 1934.5 571.2 1931.8 571.2 1931.8 572.3 1929.0 572.3 1929.0 573.5 1926.2 573.5 1926.2 572.4 1923.5 572.4 1923.5 572.3 1920.8 572.3 1920.8 572.4 1918.0 572.4 1918.0 573.8 1915.2 573.8 1915.2 572.8 1912.5 572.8 1912.5 572.0 1909.8 572.0 1909.8 572.3 1907.0 572.3 1907.0 574.7 1904.2 574.7 1904.2 572.7 1901.5 572.7 1901.5 572.2 1898.8 572.2 1898.8 571.3 1896.0 571.3 1896.0 572.3 1893.2 572.3 1893.2 572.9 1890.5 572.9 1890.5 572.8 1887.8 572.8 1887.8 574.1 1885.0 574.1 1885.0 571.4 1882.2 571.4 1882.2 572.6 1879.5 572.6 1879.5 573.0 1876.8 573.0 1876.8 571.7 1874.0 571.7 1874.0 574.3 1871.2 574.3 1871.2 573.9 1868.5 573.9 1868.5 574.7 1865.8 574.7 1865.8 573.5 1863.0 573.5 1863.0 571.5 1860.2 571.5 1860.2 572.5 1857.5 572.5 1857.5 573.5 1854.8 573.5 1854.8 574.9 1852.0 574.9 1852.0 571.0 1849.2 571.0 1849.2 572.6 1846.5 572.6 1846.5 572.7 1843.8 572.7 1843.8 572.6 1841.0 572.6 1841.0 572.8 1838.2 572.8 1838.2 571.8 1835.5 571.8 1835.5 572.7 1832.8 572.7 1832.8 572.9 1830.0 572.9 1830.0 573.4 1827.2 573.4 1827.2 573.4 1824.5 573.4 1824.5 575.0 1821.8 575.0 1821.8 573.6 1819.0 573.6 1819.0 573.8 1816.2 573.8 1816.2 573.3 1813.5 573.3 1813.5 574.5 1810.8 574.5 1810.8 572.1 1808.0 572.1 1808.0 572.7 1805.2 572.7 1805.2 575.6 1802.5 575.6 1802.5 572.5 1799.8 572.5 1799.8 570.9 1797.0 570.9 1797.0 572.7 1794.2 572.7 1794.2 572.0 1791.5 572.0 1791.5 571.8 1788.8 571.8 1788.8 572.0 1786.0 572.0 1786.0 572.2 1783.2 572.2 1783.2 571.7 1780.5 571.7 1780.5 570.9 1777.8 570.9 1777.8 572.5 1775.0 572.5 1775.0 572.6 1772.2 572.6 1772.2 572.6 1769.5 572.6 1769.5 572.6 1766.8 572.6 1766.8 572.6 1764.0 572.6 1764.0 570.7 1761.2 570.7 1761.2 572.8 1758.5 572.8 1758.5 571.7 1755.8 571.7 1755.8 570.0 1753.0 570.0 1753.0 570.0 1750.2 570.0 1750.2 573.4 1747.5 573.4 1747.5 571.9 1744.8 571.9 1744.8 570.6 1742.0 570.6 1742.0 571.0 1739.2 571.0 1739.2 570.3 1736.5 570.3 1736.5 572.7 1733.8 572.7 1733.8 572.6 1731.0 572.6 1731.0 572.5 1728.2 572.5 1728.2 573.5 1725.5 573.5 1725.5 576.1 1722.8 576.1 1722.8 573.2 1720.0 573.2 1720.0 572.0 1717.2 572.0 1717.2 572.1 1714.5 572.1 1714.5 571.0 1711.8 571.0 1711.8 571.8 1709.0 571.8 1709.0 573.1 1706.2 573.1 1706.2 572.3 1703.5 572.3 1703.5 571.6 1700.8 571.6 1700.8 572.9 1698.0 572.9 1698.0 571.6 1695.2 571.6 1695.2 570.7 1692.5 570.7 1692.5 572.3 1689.8 572.3 1689.8 571.1 1687.0 571.1 1687.0 573.9 1684.2 573.9 1684.2 573.7 1681.5 573.7 1681.5 570.1 1678.8 570.1 1678.8 571.0 1676.0 571.0 1676.0 569.4 1673.2 569.4 1673.2 570.0 1670.5 570.0 1670.5 572.0 1667.8 572.0 1667.8 572.5 1665.0 572.5 1665.0 572.8 1662.2 572.8 1662.2 572.7 1659.5 572.7 1659.5 571.9 1656.8 571.9 1656.8 569.9 1654.0 569.9 1654.0 572.2 1651.2 572.2 1651.2 568.9 1648.5 568.9 1648.5 570.6 1645.8 570.6 1645.8 571.5 1643.0 571.5 1643.0 570.4 1640.2 570.4 1640.2 569.6 1637.5 569.6 1637.5 569.3 1634.8 569.3 1634.8 570.8 1632.0 570.8 1632.0 572.1 1629.2 572.1 1629.2 569.5 1626.5 569.5 1626.5 573.5 1623.8 573.5 1623.8 568.2 1621.0 568.2 1621.0 567.3 1618.2 567.3 1618.2 569.1 1615.5 569.1 1615.5 568.7 1612.8 568.7 1612.8 572.2 1610.0 572.2 1610.0 570.4 1607.2 570.4 1607.2 569.5 1604.5 569.5 1604.5 569.0 1601.8 569.0 1601.8 571.2 1599.0 571.2 1599.0 570.0 1596.2 570.0 1596.2 570.4 1593.5 570.4 1593.5 570.5 1590.8 570.5 1590.8 570.7 1588.0 570.7 1588.0 567.3 1585.2 567.3 1585.2 568.5 1582.5 568.5 1582.5 570.5 1579.8 570.5 1579.8 569.6 1577.0 569.6 1577.0 569.0 1574.2 569.0 1574.2 569.9 1571.5 569.9 1571.5 570.0 1568.8 570.0 1568.8 570.0 1566.0 570.0 1566.0 569.1 1563.2 569.1 1563.2 569.2 1560.5 569.2 1560.5 568.4 1557.8 568.4 1557.8 571.4 1555.0 571.4 1555.0 570.4 1552.2 570.4 1552.2 569.2 1549.5 569.2 1549.5 569.5 1546.8 569.5 1546.8 569.8 1544.0 569.8 1544.0 569.8 1541.2 569.8 1541.2 568.1 1538.5 568.1 1538.5 570.3 1535.8 570.3 1535.8 569.4 1533.0 569.4 1533.0 569.1 1530.2 569.1 1530.2 568.8 1527.5 568.8 1527.5 569.1 1524.8 569.1 1524.8 568.7 1522.0 568.7 1522.0 568.1 1519.2 568.1 1519.2 566.7 1516.5 566.7 1516.5 568.6 1513.8 568.6 1513.8 565.7 1511.0 565.7 1511.0 569.1 1508.2 569.1 1508.2 568.6 1505.5 568.6 1505.5 568.1 1502.8 568.1 1502.8 567.4 1500.0 567.4 1500.0 565.7 1497.2 565.7 1497.2 568.4 1494.5 568.4 1494.5 567.8 1491.8 567.8 1491.8 568.5 1489.0 568.5 1489.0 567.4 1486.2 567.4 1486.2 566.6 1483.5 566.6 1483.5 568.1 1480.8 568.1 1480.8 569.4 1478.0 569.4 1478.0 565.6 1475.2 565.6 1475.2 565.4 1472.5 565.4 1472.5 566.6 1469.8 566.6 1469.8 568.9 1467.0 568.9 1467.0 565.6 1464.2 565.6 1464.2 564.6 1461.5 564.6 1461.5 564.3 1458.8 564.3 1458.8 565.1 1456.0 565.1 1456.0 565.7 1453.2 565.7 1453.2 566.4 1450.5 566.4 1450.5 567.4 1447.8 567.4 1447.8 566.6 1445.0 566.6 1445.0 566.6 1442.2 566.6 1442.2 567.7 1439.5 567.7 1439.5 566.8 1436.8 566.8 1436.8 567.3 1434.0 567.3 1434.0 565.5 1431.2 565.5 1431.2 566.0 1428.5 566.0 1428.5 565.6 1425.8 565.6 1425.8 565.6 1423.0 565.6 1423.0 566.9 1420.2 566.9 1420.2 565.7 1417.5 565.7 1417.5 565.0 1414.8 565.0 1414.8 563.5 1412.0 563.5 1412.0 564.5 1409.2 564.5 1409.2 565.9 1406.5 565.9 1406.5 566.5 1403.8 566.5 1403.8 568.7 1401.0 568.7 1401.0 565.8 1398.2 565.8 1398.2 566.9 1395.5 566.9 1395.5 564.8 1392.8 564.8 1392.8 566.6 1390.0 566.6 1390.0 562.8 1387.2 562.8 1387.2 564.4 1384.5 564.4 1384.5 566.8 1381.8 566.8 1381.8 562.9 1379.0 562.9 1379.0 565.4 1376.2 565.4 1376.2 566.3 1373.5 566.3 1373.5 567.1 1370.8 567.1 1370.8 564.6 1368.0 564.6 1368.0 568.2 1365.2 568.2 1365.2 563.3 1362.5 563.3 1362.5 563.4 1359.8 563.4 1359.8 563.8 1357.0 563.8 1357.0 564.1 1354.2 564.1 1354.2 565.0 1351.5 565.0 1351.5 567.5 1348.8 567.5 1348.8 565.0 1346.0 565.0 1346.0 564.7 1343.2 564.7 1343.2 564.7 1340.5 564.7 1340.5 563.9 1337.8 563.9 1337.8 563.1 1335.0 563.1 1335.0 564.4 1332.2 564.4 1332.2 563.6 1329.5 563.6 1329.5 563.7 1326.8 563.7 1326.8 563.5 1324.0 563.5 1324.0 564.2 1321.2 564.2 1321.2 562.7 1318.5 562.7 1318.5 561.9 1315.8 561.9 1315.8 562.5 1313.0 562.5 1313.0 559.1 1310.2 559.1 1310.2 561.6 1307.5 561.6 1307.5 562.7 1304.8 562.7 1304.8 562.0 1302.0 562.0 1302.0 562.7 1299.2 562.7 1299.2 564.9 1296.5 564.9 1296.5 564.0 1293.8 564.0 1293.8 563.3 1291.0 563.3 1291.0 562.4 1288.2 562.4 1288.2 561.9 1285.5 561.9 1285.5 564.6 1282.8 564.6 1282.8 562.6 1280.0 562.6 1280.0 563.3 1277.2 563.3 1277.2 563.1 1274.5 563.1 1274.5 560.7 1271.8 560.7 1271.8 559.4 1269.0 559.4 1269.0 559.7 1266.2 559.7 1266.2 560.8 1263.5 560.8 1263.5 561.8 1260.8 561.8 1260.8 563.2 1258.0 563.2 1258.0 560.7 1255.2 560.7 1255.2 558.3 1252.5 558.3 1252.5 560.0 1249.8 560.0 1249.8 558.6 1247.0 558.6 1247.0 559.3 1244.2 559.3 1244.2 559.2 1241.5 559.2 1241.5 559.0 1238.8 559.0 1238.8 559.4 1236.0 559.4 1236.0 559.0 1233.2 559.0 1233.2 562.7 1230.5 562.7 1230.5 558.9 1227.8 558.9 1227.8 560.8 1225.0 560.8 1225.0 558.9 1222.2 558.9 1222.2 559.8 1219.5 559.8 1219.5 556.5 1216.8 556.5 1216.8 558.9 1214.0 558.9 1214.0 559.8 1211.2 559.8 1211.2 557.1 1208.5 557.1 1208.5 559.0 1205.8 559.0 1205.8 560.1 1203.0 560.1 1203.0 556.4 1200.2 556.4 1200.2 557.1 1197.5 557.1 1197.5 557.1 1194.8 557.1 1194.8 558.9 1192.0 558.9 1192.0 559.3 1189.2 559.3 1189.2 558.0 1186.5 558.0 1186.5 553.4 1183.8 553.4 1183.8 556.2 1181.0 556.2 1181.0 555.3 1178.2 555.3 1178.2 552.1 1175.5 552.1 1175.5 552.5 1172.8 552.5 1172.8 553.3 1170.0 553.3 1170.0 554.4 1167.2 554.4 1167.2 556.6 1164.5 556.6 1164.5 553.7 1161.8 553.7 1161.8 553.1 1159.0 553.1 1159.0 556.6 1156.2 556.6 1156.2 554.3 1153.5 554.3 1153.5 553.3 1150.8 553.3 1150.8 555.4 1148.0 555.4 1148.0 554.0 1145.2 554.0 1145.2 551.3 1142.5 551.3 1142.5 547.7 1139.8 547.7 1139.8 548.8 1137.0 548.8 1137.0 549.1 1134.2 549.1 1134.2 548.4 1131.5 548.4 1131.5 551.8 1128.8 551.8 1128.8 550.5 1126.0 550.5 1126.0 551.2 1123.2 551.2 1123.2 550.7 1120.5 550.7 1120.5 548.4 1117.8 548.4 1117.8 548.2 1115.0 548.2 1115.0 548.2 1112.2 548.2 1112.2 547.6 1109.5 547.6 1109.5 548.5 1106.8 548.5 1106.8 550.5 1104.0 550.5 1104.0 549.3 1101.2 549.3 1101.2 551.3 1098.5 551.3 1098.5 551.7 1095.8 551.7 1095.8 552.4 1093.0 552.4 1093.0 551.3 1090.2 551.3 1090.2 551.7 1087.5 551.7 1087.5 549.1 1084.8 549.1 1084.8 546.9 1082.0 546.9 1082.0 544.4 1079.2 544.4 1079.2 547.9 1076.5 547.9 1076.5 548.6 1073.8 548.6 1073.8 550.0 1071.0 550.0 1071.0 548.4 1068.2 548.4 1068.2 549.3 1065.5 549.3 1065.5 547.5 1062.8 547.5 1062.8 543.8 1060.0 543.8 1060.0 544.6 1057.2 544.6 1057.2 544.8 1054.5 544.8 1054.5 543.2 1051.8 543.2 1051.8 541.3 1049.0 541.3 1049.0 543.8 1046.2 543.8 1046.2 542.0 1043.5 542.0 1043.5 540.6 1040.8 540.6 1040.8 540.9 1038.0 540.9 1038.0 539.3 1035.2 539.3 1035.2 541.5 1032.5 541.5 1032.5 538.8 1029.8 538.8 1029.8 540.2 1027.0 540.2 1027.0 541.2 1024.2 541.2 1024.2 541.4 1021.5 541.4 1021.5 541.5 1018.8 541.5 1018.8 540.9 1016.0 540.9 1016.0 535.7 1013.2 535.7 1013.2 536.1 1010.5 536.1 1010.5 533.7 1007.8 533.7 1007.8 535.0 1005.0 535.0 1005.0 534.0 1002.2 534.0 1002.2 531.7 999.5 531.7 999.5 533.0 996.8 533.0 996.8 534.9 994.0 534.9 994.0 533.0 991.2 533.0 991.2 532.6 988.5 532.6 988.5 531.6 985.8 531.6 985.8 526.7 983.0 526.7 983.0 532.4 980.2 532.4 980.2 527.3 977.5 527.3 977.5 527.0 974.8 527.0 974.8 529.2 972.0 529.2 972.0 527.7 969.2 527.7 969.2 527.5 966.5 527.5 966.5 522.5 963.8 522.5 963.8 526.4 961.0 526.4 961.0 526.2 958.2 526.2 958.2 525.0 955.5 525.0 955.5 526.2 952.8 526.2 952.8 523.2 950.0 523.2 950.0 524.0 947.2 524.0 947.2 520.6 944.5 520.6 944.5 518.9 941.8 518.9 941.8 519.5 939.0 519.5 939.0 515.1 936.2 515.1 936.2 520.1 933.5 520.1 933.5 515.9 930.8 515.9 930.8 516.0 928.0 516.0 928.0 511.8 925.2 511.8 925.2 511.8 922.5 511.8 922.5 512.4 919.8 512.4 919.8 512.1 917.0 512.1 917.0 513.0 914.2 513.0 914.2 513.4 911.5 513.4 911.5 512.8 908.8 512.8 908.8 509.8 906.0 509.8 906.0 509.9 903.2 509.9 903.2 504.5 900.5 504.5 900.5 504.2 897.8 504.2 897.8 501.5 895.0 501.5 895.0 500.5 892.2 500.5 892.2 499.2 889.5 499.2 889.5 499.9 886.8 499.9 886.8 494.9 884.0 494.9 884.0 492.9 881.2 492.9 881.2 495.6 878.5 495.6 878.5 493.2 875.8 493.2 875.8 490.9 873.0 490.9 873.0 488.8 870.2 488.8 870.2 487.6 867.5 487.6 867.5 486.2 864.8 486.2 864.8 481.4 862.0 481.4 862.0 479.9 859.2 479.9 859.2 480.1 856.5 480.1 856.5 481.0 853.8 481.0 853.8 477.7 851.0 477.7 851.0 479.8 848.2 479.8 848.2 475.4 845.5 475.4 845.5 473.9 842.8 473.9 842.8 478.9 840.0 478.9 840.0 472.9 837.2 472.9 837.2 473.2 834.5 473.2 834.5 470.4 831.8 470.4 831.8 469.6 829.0 469.6 829.0 466.8 826.2 466.8 826.2 464.3 823.5 464.3 823.5 464.9 820.8 464.9 820.8 460.8 818.0 460.8 818.0 459.1 815.2 459.1 815.2 457.8 812.5 457.8 812.5 456.9 809.8 456.9 809.8 450.3 807.0 450.3 807.0 455.0 804.2 455.0 804.2 450.4 801.5 450.4 801.5 450.2 798.8 450.2 798.8 446.7 796.0 446.7 796.0 447.3 793.2 447.3 793.2 446.0 790.5 446.0 790.5 442.4 787.8 442.4 787.8 438.4 785.0 438.4 785.0 433.5 782.2 433.5 782.2 434.4 779.5 434.4 779.5 434.6 776.8 434.6 776.8 432.3 774.0 432.3 774.0 429.8 771.2 429.8 771.2 431.2 768.5 431.2 768.5 430.6 765.8 430.6 765.8 428.0 763.0 428.0 763.0 424.9 760.2 424.9 760.2 421.1 757.5 421.1 757.5 422.9 754.8 422.9 754.8 421.7 752.0 421.7 752.0 425.5 749.2 425.5 749.2 424.9 746.5 424.9 746.5 421.5 743.8 421.5 743.8 421.4 741.0 421.4 741.0 421.5 738.2 421.5 738.2 420.6 735.5 420.6 735.5 418.4 732.8 418.4 732.8 419.5 730.0 419.5 730.0 420.1 727.2 420.1 727.2 418.4 724.5 418.4 724.5 427.4 721.8 427.4 721.8 424.7 719.0 424.7 719.0 423.2 716.2 423.2 716.2 415.9 713.5 415.9 713.5 418.9 710.8 418.9 710.8 419.9 708.0 419.9 708.0 417.0 705.2 417.0 705.2 420.3 702.5 420.3 702.5 422.7 699.8 422.7 699.8 423.3 697.0 423.3 697.0 425.6 694.2 425.6 694.2 427.1 691.5 427.1 691.5 430.2 688.8 430.2 688.8 431.4 686.0 431.4 686.0 431.3 683.2 431.3 683.2 435.0 680.5 435.0 680.5 434.9 677.8 434.9 677.8 433.9 675.0 433.9 675.0 437.4 672.2 437.4 672.2 437.4 669.5 437.4 669.5 439.3 666.8 439.3 666.8 443.2 664.0 443.2 664.0 445.1 661.2 445.1 661.2 451.1 658.5 451.1 658.5 448.4 655.8 448.4 655.8 448.2 653.0 448.2 653.0 451.0 650.2 451.0 650.2 452.4 647.5 452.4 647.5 455.9 644.8 455.9 644.8 456.4 642.0 456.4 642.0 460.4 639.2 460.4 639.2 463.2 636.5 463.2 636.5 464.7 633.8 464.7 633.8 465.7 631.0 465.7 631.0 467.9 628.2 467.9 628.2 468.9 625.5 468.9 625.5 471.7 622.8 471.7 622.8 476.2 620.0 476.2 620.0 477.7 617.2 477.7 617.2 479.5 614.5 479.5 614.5 481.3 611.8 481.3 611.8 481.7 609.0 481.7 609.0 485.3 606.2 485.3 606.2 485.6 603.5 485.6 603.5 490.5 600.8 490.5 600.8 487.2 598.0 487.2 598.0 490.0 595.2 490.0 595.2 490.1 592.5 490.1 592.5 492.1 589.8 492.1 589.8 489.3 587.0 489.3 587.0 491.8 584.2 491.8 584.2 490.0 581.5 490.0 581.5 497.3 578.8 497.3 578.8 494.0 576.0 494.0 576.0 494.9 573.2 494.9 573.2 497.9 570.5 497.9 570.5 502.4 567.8 502.4 567.8 497.6 565.0 497.6 565.0 497.1 562.2 497.1 562.2 500.6 559.5 500.6 559.5 510.0 556.8 510.0 556.8 506.2 554.0 506.2 554.0 507.5 551.2 507.5 551.2 508.5 548.5 508.5 548.5 512.5 545.8 512.5 545.8 511.5 543.0 511.5 543.0 509.2 540.2 509.2 540.2 509.3 537.5 509.3 537.5 512.3 534.8 512.3 534.8 511.9 532.0 511.9 532.0 512.9 529.2 512.9 529.2 514.3 526.5 514.3 526.5 514.0 523.8 514.0 523.8 517.5 521.0 517.5 521.0 516.9 518.2 516.9 518.2 519.2 515.5 519.2 515.5 513.2 512.8 513.2 512.8 513.0 510.0 513.0 510.0 514.0 507.2 514.0 507.2 518.9 504.5 518.9 504.5 521.7 501.8 521.7 501.8 517.1 499.0 517.1 499.0 516.3 496.2 516.3 496.2 520.7 493.5 520.7 493.5 520.3 490.8 520.3 490.8 518.2 488.0 518.2 488.0 514.0 485.2 514.0 485.2 515.0 482.5 515.0 482.5 517.8 479.8 517.8 479.8 516.0 477.0 516.0 477.0 513.3 474.2 513.3 474.2 514.8 471.5 514.8 471.5 514.2 468.8 514.2 468.8 513.7 466.0 513.7 466.0 514.1 463.2 514.1 463.2 511.3 460.5 511.3 460.5 514.5 457.8 514.5 457.8 514.8 455.0 514.8 455.0 515.0 452.2 515.0 452.2 516.1 449.5 516.1 449.5 518.9 446.8 518.9 446.8 518.7 444.0 518.7 444.0 520.3 441.2 520.3 441.2 519.3 438.5 519.3 438.5 521.4 435.8 521.4 435.8 520.5 433.0 520.5 433.0 516.5 430.2 516.5 430.2 518.5 427.5 518.5 427.5 517.1 424.8 517.1 424.8 520.0 422.0 520.0 422.0 517.8 419.2 517.8 419.2 514.7 416.5 514.7 416.5 513.8 413.8 513.8 413.8 514.1 411.0 514.1 411.0 518.2 408.2 518.2 408.2 519.4 405.5 519.4 405.5 516.2 402.8 516.2 402.8 517.4 400.0 517.4 400.0 518.6 397.2 518.6 397.2 515.7 394.5 515.7 394.5 518.7 391.8 518.7 391.8 515.4 389.0 515.4 389.0 518.4 386.2 518.4 386.2 517.0 383.5 517.0 383.5 514.9 380.8 514.9 380.8 516.8 378.0 516.8 378.0 515.2 375.2 515.2 375.2 515.3 372.5 515.3 372.5 516.6 369.8 516.6 369.8 518.4 367.0 518.4 367.0 519.2 364.2 519.2 364.2 516.0 361.5 516.0 361.5 513.4 358.8 513.4 358.8 519.6 356.0 519.6 356.0 513.6 353.2 513.6 353.2 511.7 350.5 511.7 350.5 516.4 347.8 516.4 347.8 519.2 345.0 519.2 345.0 515.3 342.2 515.3 342.2 511.2 339.5 511.2 339.5 511.4 336.8 511.4 336.8 512.8 334.0 512.8 334.0 511.4 331.2 511.4 331.2 508.6 328.5 508.6 328.5 508.6 325.8 508.6 325.8 510.2 323.0 510.2 323.0 511.1 320.2 511.1 320.2 510.0 317.5 510.0 317.5 509.2 314.8 509.2 314.8 506.0 312.0 506.0 312.0 509.1 309.2 509.1 309.2 509.4 306.5 509.4 306.5 503.6 303.8 503.6 303.8 508.0 301.0 508.0 301.0 505.3 298.2 505.3 298.2 502.9 295.5 502.9 295.5 507.6 292.8 507.6 292.8 508.8 290.0 508.8 290.0 508.5 287.2 508.5 287.2 505.8 284.5 505.8 284.5 505.6 281.8 505.6 281.8 500.7 279.0 500.7 279.0 499.3 276.2 499.3 276.2 495.6 273.5 495.6 273.5 498.0 270.8 498.0 270.8 500.3 268.0 500.3 268.0 497.0 265.2 497.0 265.2 500.6 262.5 500.6 262.5 497.1 259.8 497.1 259.8 496.8 257.0 496.8 257.0 497.0 254.2 497.0 254.2 499.2 251.5 499.2 251.5 500.4 248.8 500.4 248.8 496.8 246.0 496.8 246.0 494.7 243.2 494.7 243.2 496.5 240.5 496.5 240.5 493.8 237.8 493.8 237.8 494.4 235.0 494.4 235.0 492.2 232.2 492.2 232.2 494.3 229.5 494.3 229.5 495.3 226.8 495.3 226.8 487.8 224.0 487.8 224.0 486.8 221.2 486.8 221.2 490.6 218.5 490.6Z"/>
<path fill="#0000ff" d="M218.5 468.1 221.2 468.1 221.2 464.6 224.0 464.6 224.0 467.5 226.8 467.5 226.8 472.5 229.5 472.5 229.5 471.6 232.2 471.6 232.2 469.9 235.0 469.9 235.0 471.6 237.8 471.6 237.8 471.8 240.5 471.8 240.5 472.1 243.2 472.1 243.2 473.6 246.0 473.6 246.0 473.5 248.8 473.5 248.8 477.7 251.5 477.7 251.5 475.9 254.2 475.9 254.2 474.3 257.0 474.3 257.0 474.0 259.8 474.0 259.8 476.3 262.5 476.3 262.5 478.1 265.2 478.1 265.2 473.3 268.0 473.3 268.0 477.5 270.8 477.5 270.8 476.4 273.5 476.4 273.5 472.3 276.2 472.3 276.2 475.8 279.0 475.8 279.0 480.8 281.8 480.8 281.8 482.5 284.5 482.5 284.5 483.5 287.2 483.5 287.2 481.8 290.0 481.8 290.0 486.9 292.8 486.9 292.8 485.9 295.5 485.9 295.5 483.4 298.2 483.4 298.2 481.5 301.0 481.5 301.0 484.3 303.8 484.3 303.8 481.8 306.5 481.8 306.5 483.7 309.2 483.7 309.2 486.7 312.0 486.7 312.0 484.6 314.8 484.6 314.8 488.1 317.5 488.1 317.5 486.5 320.2 486.5 320.2 488.8 323.0 488.8 323.0 488.1 325.8 488.1 325.8 487.6 328.5 487.6 328.5 487.4 331.2 487.4 331.2 489.0 334.0 489.0 334.0 489.9 336.8 489.9 336.8 489.9 339.5 489.9 339.5 490.2 342.2 490.2 342.2 494.3 345.0 494.3 345.0 495.8 347.8 495.8 347.8 492.7 350.5 492.7 350.5 490.4 353.2 490.4 353.2 490.0 356.0 490.0 356.0 496.0 358.8 496.0 358.8 493.2 361.5 493.2 361.5 496.4 364.2 496.4 364.2 497.3 367.0 497.3 367.0 492.8 369.8 492.8 369.8 493.5 372.5 493.5 372.5 494.3 375.2 494.3 375.2 492.8 378.0 492.8 378.0 494.6 380.8 494.6 380.8 495.2 383.5 495.2 383.5 496.3 386.2 496.3 386.2 497.6 389.0 497.6 389.0 494.3 391.8 494.3 391.8 497.0 394.5 497.0 394.5 497.3 397.2 497.3 397.2 499.0 400.0 499.0 400.0 495.1 402.8 495.1 402.8 495.7 405.5 495.7 405.5 498.4 408.2 498.4 408.2 496.2 411.0 496.2 411.0 493.3 413.8 493.3 413.8 496.9 416.5 496.9 416.5 490.0 419.2 490.0 419.2 495.0 422.0 495.0 422.0 495.7 424.8 495.7 424.8 496.7 427.5 496.7 427.5 499.0 430.2 499.0 430.2 496.1 433.0 496.1 433.0 497.9 435.8 497.9 435.8 498.6 438.5 498.6 438.5 499.3 441.2 499.3 441.2 494.5 444.0 494.5 444.0 499.6 446.8 499.6 446.8 494.9 449.5 494.9 449.5 496.2 452.2 496.2 452.2 495.3 455.0 495.3 455.0 493.2 457.8 493.2 457.8 493.9 460.5 493.9 460.5 489.9 463.2 489.9 463.2 492.6 466.0 492.6 466.0 491.9 468.8 491.9 468.8 493.8 471.5 493.8 471.5 492.2 474.2 492.2 474.2 491.8 477.0 491.8 477.0 495.7 479.8 495.7 479.8 493.8 482.5 493.8 482.5 492.5 485.2 492.5 485.2 494.3 488.0 494.3 488.0 496.8 490.8 496.8 490.8 498.5 493.5 498.5 493.5 497.4 496.2 497.4 496.2 494.5 499.0 494.5 499.0 494.5 501.8 494.5 501.8 498.2 504.5 498.2 504.5 496.5 507.2 496.5 507.2 494.7 510.0 494.7 510.0 492.0 512.8 492.0 512.8 488.8 515.5 488.8 515.5 495.0 518.2 495.0 518.2 494.0 521.0 494.0 521.0 491.8 523.8 491.8 523.8 492.6 526.5 492.6 526.5 491.5 529.2 491.5 529.2 489.8 532.0 489.8 532.0 488.7 534.8 488.7 534.8 489.4 537.5 489.4 537.5 489.2 540.2 489.2 540.2 488.9 543.0 488.9 543.0 489.5 545.8 489.5 545.8 488.5 548.5 488.5 548.5 485.9 551.2 485.9 551.2 482.8 554.0 482.8 554.0 483.8 556.8 483.8 556.8 482.1 559.5 482.1 559.5 476.5 562.2 476.5 562.2 472.9 565.0 472.9 565.0 474.9 567.8 474.9 567.8 482.3 570.5 482.3 570.5 477.7 573.2 477.7 573.2 473.2 576.0 473.2 576.0 469.5 578.8 469.5 578.8 470.5 581.5 470.5 581.5 466.8 584.2 466.8 584.2 467.8 587.0 467.8 587.0 468.8 589.8 468.8 589.8 469.3 592.5 469.3 592.5 467.4 595.2 467.4 595.2 466.1 598.0 466.1 598.0 463.6 600.8 463.6 600.8 465.5 603.5 465.5 603.5 461.4 606.2 461.4 606.2 458.0 609.0 458.0 609.0 455.3 611.8 455.3 611.8 458.0 614.5 458.0 614.5 455.4 617.2 455.4 617.2 456.4 620.0 456.4 620.0 453.0 622.8 453.0 622.8 445.8 625.5 445.8 625.5 439.4 628.2 439.4 628.2 440.3 631.0 440.3 631.0 434.1 633.8 434.1 633.8 438.1 636.5 438.1 636.5 439.7 639.2 439.7 639.2 433.1 642.0 433.1 642.0 430.6 644.8 430.6 644.8 430.3 647.5 430.3 647.5 428.6 650.2 428.6 650.2 426.4 653.0 426.4 653.0 422.9 655.8 422.9 655.8 426.5 658.5 426.5 658.5 426.2 661.2 426.2 661.2 420.5 664.0 420.5 664.0 419.0 666.8 419.0 666.8 411.9 669.5 411.9 669.5 411.8 672.2 411.8 672.2 413.9 675.0 413.9 675.0 409.1 677.8 409.1 677.8 411.4 680.5 411.4 680.5 410.0 683.2 410.0 683.2 408.6 686.0 408.6 686.0 408.2 688.8 408.2 688.8 403.9 691.5 403.9 691.5 400.7 694.2 400.7 694.2 401.4 697.0 401.4 697.0 401.1 699.8 401.1 699.8 398.2 702.5 398.2 702.5 398.4 705.2 398.4 705.2 393.9 708.0 393.9 708.0 394.6 710.8 394.6 710.8 392.4 713.5 392.4 713.5 394.8 716.2 394.8 716.2 398.3 719.0 398.3 719.0 400.6 721.8 400.6 721.8 401.8 724.5 401.8 724.5 392.4 727.2 392.4 727.2 392.2 730.0 392.2 730.0 396.6 732.8 396.6 732.8 389.4 735.5 389.4 735.5 396.7 738.2 396.7 738.2 395.9 741.0 395.9 741.0 398.1 743.8 398.1 743.8 398.2 746.5 398.2 746.5 398.6 749.2 398.6 749.2 400.5 752.0 400.5 752.0 399.9 754.8 399.9 754.8 400.7 757.5 400.7 757.5 396.0 760.2 396.0 760.2 402.0 763.0 402.0 763.0 402.0 765.8 402.0 765.8 407.7 768.5 407.7 768.5 408.5 771.2 408.5 771.2 407.4 774.0 407.4 774.0 407.0 776.8 407.0 776.8 409.8 779.5 409.8 779.5 410.5 782.2 410.5 782.2 410.5 785.0 410.5 785.0 414.6 787.8 414.6 787.8 417.3 790.5 417.3 790.5 420.5 793.2 420.5 793.2 422.1 796.0 422.1 796.0 420.9 798.8 420.9 798.8 422.2 801.5 422.2 801.5 426.3 804.2 426.3 804.2 429.4 807.0 429.4 807.0 426.9 809.8 426.9 809.8 431.1 812.5 431.1 812.5 433.7 815.2 433.7 815.2 434.8 818.0 434.8 818.0 434.9 820.8 434.9 820.8 437.3 823.5 437.3 823.5 439.1 826.2 439.1 826.2 442.5 829.0 442.5 829.0 444.7 831.8 444.7 831.8 446.5 834.5 446.5 834.5 448.0 837.2 448.0 837.2 448.0 840.0 448.0 840.0 453.9 842.8 453.9 842.8 453.6 845.5 453.6 845.5 453.8 848.2 453.8 848.2 457.3 851.0 457.3 851.0 455.3 853.8 455.3 853.8 456.0 856.5 456.0 856.5 456.4 859.2 456.4 859.2 457.2 862.0 457.2 862.0 457.8 864.8 457.8 864.8 461.7 867.5 461.7 867.5 460.7 870.2 460.7 870.2 462.2 873.0 462.2 873.0 465.1 875.8 465.1 875.8 467.4 878.5 467.4 878.5 469.7 881.2 469.7 881.2 470.7 884.0 470.7 884.0 469.3 886.8 469.3 886.8 472.5 889.5 472.5 889.5 473.2 892.2 473.2 892.2 479.0 895.0 479.0 895.0 479.4 897.8 479.4 897.8 483.6 900.5 483.6 900.5 481.7 903.2 481.7 903.2 485.7 906.0 485.7 906.0 486.2 908.8 486.2 908.8 491.4 911.5 491.4 911.5 491.2 914.2 491.2 914.2 490.6 917.0 490.6 917.0 489.3 919.8 489.3 919.8 491.7 922.5 491.7 922.5 491.2 925.2 491.2 925.2 490.7 928.0 490.7 928.0 493.7 930.8 493.7 930.8 492.6 933.5 492.6 933.5 498.2 936.2 498.2 936.2 493.9 939.0 493.9 939.0 500.3 941.8 500.3 941.8 499.1 944.5 499.1 944.5 499.5 947.2 499.5 947.2 501.9 950.0 501.9 950.0 503.1 952.8 503.1 952.8 503.9 955.5 503.9 955.5 504.1 958.2 504.1 958.2 506.2 961.0 506.2 961.0 504.3 963.8 504.3 963.8 504.0 966.5 504.0 966.5 507.0 969.2 507.0 969.2 509.2 972.0 509.2 972.0 506.7 974.8 506.7 974.8 508.8 977.5 508.8 977.5 507.2 980.2 507.2 980.2 511.3 983.0 511.3 983.0 506.1 985.8 506.1 985.8 507.9 988.5 507.9 988.5 513.1 991.2 513.1 991.2 513.2 994.0 513.2 994.0 512.9 996.8 512.9 996.8 513.4 999.5 513.4 999.5 512.2 1002.2 512.2 1002.2 512.7 1005.0 512.7 1005.0 512.6 1007.8 512.6 1007.8 514.0 1010.5 514.0 1010.5 516.3 1013.2 516.3 1013.2 517.0 1016.0 517.0 1016.0 520.6 1018.8 520.6 1018.8 522.2 1021.5 522.2 1021.5 520.3 1024.2 520.3 1024.2 520.2 1027.0 520.2 1027.0 519.6 1029.8 519.6 1029.8 520.3 1032.5 520.3 1032.5 519.8 1035.2 519.8 1035.2 518.6 1038.0 518.6 1038.0 520.7 1040.8 520.7 1040.8 522.6 1043.5 522.6 1043.5 522.8 1046.2 522.8 1046.2 523.5 1049.0 523.5 1049.0 522.9 1051.8 522.9 1051.8 524.6 1054.5 524.6 1054.5 528.0 1057.2 528.0 1057.2 524.3 1060.0 524.3 1060.0 526.4 1062.8 526.4 1062.8 527.4 1065.5 527.4 1065.5 530.0 1068.2 530.0 1068.2 529.5 1071.0 529.5 1071.0 529.3 1073.8 529.3 1073.8 528.5 1076.5 528.5 1076.5 531.1 1079.2 531.1 1079.2 528.4 1082.0 528.4 1082.0 528.0 1084.8 528.0 1084.8 531.0 1087.5 531.0 1087.5 531.9 1090.2 531.9 1090.2 532.0 1093.0 532.0 1093.0 532.8 1095.8 532.8 1095.8 531.5 1098.5 531.5 1098.5 531.2 1101.2 531.2 1101.2 532.6 1104.0 532.6 1104.0 531.1 1106.8 531.1 1106.8 531.4 1109.5 531.4 1109.5 531.5 1112.2 531.5 1112.2 529.5 1115.0 529.5 1115.0 529.2 1117.8 529.2 1117.8 530.3 1120.5 530.3 1120.5 533.8 1123.2 533.8 1123.2 532.4 1126.0 532.4 1126.0 530.3 1128.8 530.3 1128.8 533.8 1131.5 533.8 1131.5 532.2 1134.2 532.2 1134.2 529.9 1137.0 529.9 1137.0 530.6 1139.8 530.6 1139.8 530.2 1142.5 530.2 1142.5 533.1 1145.2 533.1 1145.2 535.7 1148.0 535.7 1148.0 534.0 1150.8 534.0 1150.8 533.0 1153.5 533.0 1153.5 535.6 1156.2 535.6 1156.2 536.7 1159.0 536.7 1159.0 534.1 1161.8 534.1 1161.8 534.8 1164.5 534.8 1164.5 536.8 1167.2 536.8 1167.2 536.5 1170.0 536.5 1170.0 536.2 1172.8 536.2 1172.8 534.4 1175.5 534.4 1175.5 534.6 1178.2 534.6 1178.2 538.3 1181.0 538.3 1181.0 539.2 1183.8 539.2 1183.8 538.3 1186.5 538.3 1186.5 538.4 1189.2 538.4 1189.2 538.1 1192.0 538.1 1192.0 541.5 1194.8 541.5 1194.8 540.9 1197.5 540.9 1197.5 538.8 1200.2 538.8 1200.2 540.8 1203.0 540.8 1203.0 540.8 1205.8 540.8 1205.8 539.4 1208.5 539.4 1208.5 540.3 1211.2 540.3 1211.2 541.8 1214.0 541.8 1214.0 540.5 1216.8 540.5 1216.8 540.1 1219.5 540.1 1219.5 543.4 1222.2 543.4 1222.2 543.0 1225.0 543.0 1225.0 543.0 1227.8 543.0 1227.8 540.5 1230.5 540.5 1230.5 544.0 1233.2 544.0 1233.2 541.0 1236.0 541.0 1236.0 543.5 1238.8 543.5 1238.8 540.6 1241.5 540.6 1241.5 540.8 1244.2 540.8 1244.2 542.2 1247.0 542.2 1247.0 543.2 1249.8 543.2 1249.8 541.5 1252.5 541.5 1252.5 538.6 1255.2 538.6 1255.2 544.2 1258.0 544.2 1258.0 545.6 1260.8 545.6 1260.8 544.1 1263.5 544.1 1263.5 544.6 1266.2 544.6 1266.2 543.2 1269.0 543.2 1269.0 542.6 1271.8 542.6 1271.8 544.0 1274.5 544.0 1274.5 548.1 1277.2 548.1 1277.2 546.6 1280.0 546.6 1280.0 545.3 1282.8 545.3 1282.8 547.1 1285.5 547.1 1285.5 546.9 1288.2 546.9 1288.2 547.0 1291.0 547.0 1291.0 548.0 1293.8 548.0 1293.8 546.5 1296.5 546.5 1296.5 545.3 1299.2 545.3 1299.2 546.4 1302.0 546.4 1302.0 547.0 1304.8 547.0 1304.8 545.8 1307.5 545.8 1307.5 544.8 1310.2 544.8 1310.2 543.3 1313.0 543.3 1313.0 545.7 1315.8 545.7 1315.8 545.4 1318.5 545.4 1318.5 548.4 1321.2 548.4 1321.2 548.8 1324.0 548.8 1324.0 547.9 1326.8 547.9 1326.8 548.9 1329.5 548.9 1329.5 548.7 1332.2 548.7 1332.2 549.1 1335.0 549.1 1335.0 547.3 1337.8 547.3 1337.8 547.5 1340.5 547.5 1340.5 548.4 1343.2 548.4 1343.2 548.6 1346.0 548.6 1346.0 547.7 1348.8 547.7 1348.8 550.6 1351.5 550.6 1351.5 549.4 1354.2 549.4 1354.2 547.9 1357.0 547.9 1357.0 546.4 1359.8 546.4 1359.8 546.3 1362.5 546.3 1362.5 548.6 1365.2 548.6 1365.2 547.8 1368.0 547.8 1368.0 549.3 1370.8 549.3 1370.8 551.1 1373.5 551.1 1373.5 550.2 1376.2 550.2 1376.2 548.1 1379.0 548.1 1379.0 546.6 1381.8 546.6 1381.8 549.4 1384.5 549.4 1384.5 549.9 1387.2 549.9 1387.2 548.0 1390.0 548.0 1390.0 547.9 1392.8 547.9 1392.8 549.5 1395.5 549.5 1395.5 550.6 1398.2 550.6 1398.2 550.7 1401.0 550.7 1401.0 549.7 1403.8 549.7 1403.8 550.7 1406.5 550.7 1406.5 551.0 1409.2 551.0 1409.2 549.3 1412.0 549.3 1412.0 548.7 1414.8 548.7 1414.8 548.4 1417.5 548.4 1417.5 550.2 1420.2 550.2 1420.2 552.4 1423.0 552.4 1423.0 550.1 1425.8 550.1 1425.8 551.3 1428.5 551.3 1428.5 550.6 1431.2 550.6 1431.2 550.8 1434.0 550.8 1434.0 550.8 1436.8 550.8 1436.8 551.3 1439.5 551.3 1439.5 549.7 1442.2 549.7 1442.2 550.7 1445.0 550.7 1445.0 550.1 1447.8 550.1 1447.8 553.4 1450.5 553.4 1450.5 550.0 1453.2 550.0 1453.2 549.1 1456.0 549.1 1456.0 549.8 1458.8 549.8 1458.8 550.3 1461.5 550.3 1461.5 549.6 1464.2 549.6 1464.2 552.0 1467.0 552.0 1467.0 552.3 1469.8 552.3 1469.8 552.5 1472.5 552.5 1472.5 549.4 1475.2 549.4 1475.2 550.1 1478.0 550.1 1478.0 549.6 1480.8 549.6 1480.8 551.7 1483.5 551.7 1483.5 547.7 1486.2 547.7 1486.2 553.7 1489.0 553.7 1489.0 553.1 1491.8 553.1 1491.8 553.4 1494.5 553.4 1494.5 552.3 1497.2 552.3 1497.2 550.6 1500.0 550.6 1500.0 551.2 1502.8 551.2 1502.8 552.4 1505.5 552.4 1505.5 552.5 1508.2 552.5 1508.2 553.5 1511.0 553.5 1511.0 551.7 1513.8 551.7 1513.8 553.0 1516.5 553.0 1516.5 553.5 1519.2 553.5 1519.2 553.3 1522.0 553.3 1522.0 553.4 1524.8 553.4 1524.8 552.2 1527.5 552.2 1527.5 553.0 1530.2 553.0 1530.2 555.2 1533.0 555.2 1533.0 552.8 1535.8 552.8 1535.8 554.4 1538.5 554.4 1538.5 552.1 1541.2 552.1 1541.2 556.4 1544.0 556.4 1544.0 554.5 1546.8 554.5 1546.8 553.1 1549.5 553.1 1549.5 552.9 1552.2 552.9 1552.2 551.8 1555.0 551.8 1555.0 553.1 1557.8 553.1 1557.8 552.9 1560.5 552.9 1560.5 555.1 1563.2 555.1 1563.2 554.2 1566.0 554.2 1566.0 554.4 1568.8 554.4 1568.8 555.7 1571.5 555.7 1571.5 552.4 1574.2 552.4 1574.2 553.4 1577.0 553.4 1577.0 554.2 1579.8 554.2 1579.8 555.4 1582.5 555.4 1582.5 553.2 1585.2 553.2 1585.2 553.4 1588.0 553.4 1588.0 555.6 1590.8 555.6 1590.8 556.2 1593.5 556.2 1593.5 555.7 1596.2 555.7 1596.2 554.9 1599.0 554.9 1599.0 555.3 1601.8 555.3 1601.8 556.2 1604.5 556.2 1604.5 552.5 1607.2 552.5 1607.2 555.5 1610.0 555.5 1610.0 556.1 1612.8 556.1 1612.8 553.7 1615.5 553.7 1615.5 554.6 1618.2 554.6 1618.2 552.5 1621.0 552.5 1621.0 554.4 1623.8 554.4 1623.8 554.9 1626.5 554.9 1626.5 556.0 1629.2 556.0 1629.2 558.0 1632.0 558.0 1632.0 555.5 1634.8 555.5 1634.8 554.0 1637.5 554.0 1637.5 554.0 1640.2 554.0 1640.2 556.2 1643.0 556.2 1643.0 556.0 1645.8 556.0 1645.8 557.7 1648.5 557.7 1648.5 555.9 1651.2 555.9 1651.2 556.9 1654.0 556.9 1654.0 556.5 1656.8 556.5 1656.8 558.0 1659.5 558.0 1659.5 557.3 1662.2 557.3 1662.2 558.5 1665.0 558.5 1665.0 557.4 1667.8 557.4 1667.8 558.5 1670.5 558.5 1670.5 556.1 1673.2 556.1 1673.2 555.2 1676.0 555.2 1676.0 555.7 1678.8 555.7 1678.8 555.4 1681.5 555.4 1681.5 556.6 1684.2 556.6 1684.2 558.1 1687.0 558.1 1687.0 558.0 1689.8 558.0 1689.8 555.1 1692.5 555.1 1692.5 555.9 1695.2 555.9 1695.2 556.8 1698.0 556.8 1698.0 557.9 1700.8 557.9 1700.8 556.8 1703.5 556.8 1703.5 556.8 1706.2 556.8 1706.2 558.4 1709.0 558.4 1709.0 558.3 1711.8 558.3 1711.8 558.8 1714.5 558.8 1714.5 557.9 1717.2 557.9 1717.2 556.3 1720.0 556.3 1720.0 558.5 1722.8 558.5 1722.8 558.7 1725.5 558.7 1725.5 560.2 1728.2 560.2 1728.2 558.4 1731.0 558.4 1731.0 558.6 1733.8 558.6 1733.8 558.6 1736.5 558.6 1736.5 557.8 1739.2 557.8 1739.2 558.0 1742.0 558.0 1742.0 558.0 1744.8 558.0 1744.8 558.7 1747.5 558.7 1747.5 559.5 1750.2 559.5 1750.2 557.3 1753.0 557.3 1753.0 558.3 1755.8 558.3 1755.8 559.0 1758.5 559.0 1758.5 559.1 1761.2 559.1 1761.2 557.0 1764.0 557.0 1764.0 560.1 1766.8 560.1 1766.8 557.7 1769.5 557.7 1769.5 558.1 1772.2 558.1 1772.2 557.7 1775.0 557.7 1775.0 559.8 1777.8 559.8 1777.8 556.9 1780.5 556.9 1780.5 558.3 1783.2 558.3 1783.2 557.6 1786.0 557.6 1786.0 556.4 1788.8 556.4 1788.8 558.5 1791.5 558.5 1791.5 557.7 1794.2 557.7 1794.2 558.2 1797.0 558.2 1797.0 557.7 1799.8 557.7 1799.8 559.5 1802.5 559.5 1802.5 557.9 1805.2 557.9 1805.2 557.5 1808.0 557.5 1808.0 559.3 1810.8 559.3 1810.8 558.3 1813.5 558.3 1813.5 559.0 1816.2 559.0 1816.2 560.1 1819.0 560.1 1819.0 560.6 1821.8 560.6 1821.8 560.2 1824.5 560.2 1824.5 560.5 1827.2 560.5 1827.2 558.4 1830.0 558.4 1830.0 558.9 1832.8 558.9 1832.8 560.2 1835.5 560.2 1835.5 557.9 1838.2 557.9 1838.2 557.8 1841.0 557.8 1841.0 557.5 1843.8 557.5 1843.8 557.4 1846.5 557.4 1846.5 558.8 1849.2 558.8 1849.2 558.7 1852.0 558.7 1852.0 562.2 1854.8 562.2 1854.8 561.1 1857.5 561.1 1857.5 558.5 1860.2 558.5 1860.2 558.5 1863.0 558.5 1863.0 560.2 1865.8 560.2 1865.8 560.5 1868.5 560.5 1868.5 559.3 1871.2 559.3 1871.2 559.4 1874.0 559.4 1874.0 557.9 1876.8 557.9 1876.8 559.8 1879.5 559.8 1879.5 557.9 1882.2 557.9 1882.2 559.0 1885.0 559.0 1885.0 558.4 1887.8 558.4 1887.8 559.8 1890.5 559.8 1890.5 559.1 1893.2 559.1 1893.2 554.9 1896.0 554.9 1896.0 556.9 1898.8 556.9 1898.8 559.1 1901.5 559.1 1901.5 559.0 1904.2 559.0 1904.2 559.1 1907.0 559.1 1907.0 558.7 1909.8 558.7 1909.8 558.1 1912.5 558.1 1912.5 559.7 1915.2 559.7 1915.2 559.0 1918.0 559.0 1918.0 559.5 1920.8 559.5 1920.8 558.6 1923.5 558.6 1923.5 559.2 1926.2 559.2 1926.2 559.8 1929.0 559.8 1929.0 557.6 1931.8 557.6 1931.8 558.7 1934.5 558.7 1934.5 559.9 1937.2 559.9 1937.2 559.0 1940.0 559.0 1940.0 560.2 1942.8 560.2 1942.8 561.4 1945.5 561.4 1945.5 558.8 1948.2 558.8 1948.2 558.1 1951.0 558.1 1951.0 556.3 1953.8 556.3 1953.8 557.0 1956.5 557.0 1956.5 558.9 1959.2 558.9 1959.2 556.5 1962.0 556.5 1962.0 560.3 1964.8 560.3 1964.8 558.5 1967.5 558.5 1967.5 559.3 1970.2 559.3 1970.2 560.8 1973.0 560.8 1973.0 560.5 1975.8 560.5 1975.8 559.7 1978.5 559.7 1978.5 557.6 1981.2 557.6 1981.2 559.0 1984.0 559.0 1984.0 557.2 1986.8 557.2 1986.8 558.3 1989.5 558.3 1989.5 558.1 1992.2 558.1 1992.2 560.5 1995.0 560.5 1995.0 558.7 1997.8 558.7 1997.8 557.4 2000.5 557.4 2000.5 557.1 2003.2 557.1 2003.2 558.4 2006.0 558.4 2006.0 557.9 2008.8 557.9 2008.8 558.0 2011.5 558.0 2011.5 558.8 2014.2 558.8 2014.2 558.9 2017.0 558.9 2017.0 560.4 2019.8 560.4 2019.8 559.0 2022.5 559.0 2022.5 560.2 2025.2 560.2 2025.2 561.2 2028.0 561.2 2028.0 559.0 2030.8 559.0 2030.8 561.7 2033.5 561.7 2033.5 561.6 2036.2 561.6 2036.2 559.9 2039.0 559.9 2039.0 561.1 2041.8 561.1 2041.8 562.1 2044.5 562.1 2044.5 561.9 2047.2 561.9 2047.2 559.2 2050.0 559.2 2050.0 558.5 2052.8 558.5 2052.8 558.1 2055.5 558.1 2055.5 558.9 2058.2 558.9 2058.2 560.9 2061.0 560.9 2061.0 560.7 2063.8 560.7 2063.8 559.5 2066.5 559.5 2066.5 560.6 2069.2 560.6 2069.2 560.3 2072.0 560.3 2072.0 560.7 2074.8 560.7 2074.8 560.0 2077.5 560.0 2077.5 557.9 2080.2 557.9 2080.2 560.9 2083.0 560.9 2083.0 560.3 2085.8 560.3 2085.8 559.2 2088.5 559.2 2088.5 561.8 2091.2 561.8 2091.2 561.5 2094.0 561.5 2094.0 561.7 2096.8 561.7 2096.8 560.6 2099.5 560.6 2099.5 559.6 2102.2 559.6 2102.2 557.7 2105.0 557.7 2105.0 557.9 2107.8 557.9 2107.8 556.4 2110.5 556.4 2110.5 560.4 2113.2 560.4 2113.2 560.0 2116.0 560.0 2116.0 559.2 2118.8 559.2 2118.8 560.1 2121.5 560.1 2121.5 558.9 2124.2 558.9 2124.2 559.4 2127.0 559.4 2127.0 561.2 2129.8 561.2 2129.8 560.0 2132.5 560.0 2132.5 561.6 2135.2 561.6 2135.2 561.8 2138.0 561.8 2138.0 559.7 2140.8 559.7 2140.8 559.4 2143.5 559.4 2143.5 561.1 2146.2 561.1 2146.2 561.8 2149.0 561.8 2149.0 557.8 2151.8 557.8 2151.8 558.0 2154.5 558.0 2154.5 560.3 2157.2 560.3 2157.2 558.6 2160.0 558.6 2160.0 560.2 2162.8 560.2 2162.8 559.6 2165.5 559.6 2165.5 559.2 2168.2 559.2 2168.2 558.3 2171.0 558.3 2171.0 559.1 2173.8 559.1 2173.8 559.9 2176.5 559.9 2176.5 560.3 2179.2 560.3 2179.2 561.5 2182.0 561.5 2182.0 560.4 2184.8 560.4 2184.8 560.3 2187.5 560.3 2187.5 559.2 2190.2 559.2 2190.2 560.4 2193.0 560.4 2193.0 556.5 2195.8 556.5 2195.8 559.4 2198.5 559.4 2198.5 561.2 2201.2 561.2 2201.2 561.8 2204.0 561.8 2204.0 560.6 2205.1 560.6 2205.1 571.7 2204.0 571.7 2204.0 571.9 2201.2 571.9 2201.2 572.8 2198.5 572.8 2198.5 572.6 2195.8 572.6 2195.8 571.0 2193.0 571.0 2193.0 572.4 2190.2 572.4 2190.2 570.7 2187.5 570.7 2187.5 573.1 2184.8 573.1 2184.8 573.4 2182.0 573.4 2182.0 573.3 2179.2 573.3 2179.2 572.4 2176.5 572.4 2176.5 572.0 2173.8 572.0 2173.8 570.1 2171.0 570.1 2171.0 569.3 2168.2 569.3 2168.2 570.1 2165.5 570.1 2165.5 572.4 2162.8 572.4 2162.8 573.0 2160.0 573.0 2160.0 571.2 2157.2 571.2 2157.2 571.8 2154.5 571.8 2154.5 569.0 2151.8 569.0 2151.8 570.4 2149.0 570.4 2149.0 574.9 2146.2 574.9 2146.2 573.2 2143.5 573.2 2143.5 572.3 2140.8 572.3 2140.8 572.0 2138.0 572.0 2138.0 572.4 2135.2 572.4 2135.2 572.2 2132.5 572.2 2132.5 572.1 2129.8 572.1 2129.8 572.4 2127.0 572.4 2127.0 572.7 2124.2 572.7 2124.2 571.3 2121.5 571.3 2121.5 572.8 2118.8 572.8 2118.8 570.8 2116.0 570.8 2116.0 570.2 2113.2 570.2 2113.2 570.4 2110.5 570.4 2110.5 570.5 2107.8 570.5 2107.8 570.8 2105.0 570.8 2105.0 570.5 2102.2 570.5 2102.2 570.7 2099.5 570.7 2099.5 571.2 2096.8 571.2 2096.8 573.1 2094.0 573.1 2094.0 574.0 2091.2 574.0 2091.2 572.3 2088.5 572.3 2088.5 570.9 2085.8 570.9 2085.8 573.8 2083.0 573.8 2083.0 574.0 2080.2 574.0 2080.2 571.0 2077.5 571.0 2077.5 571.7 2074.8 571.7 2074.8 572.0 2072.0 572.0 2072.0 571.5 2069.2 571.5 2069.2 571.2 2066.5 571.2 2066.5 570.4 2063.8 570.4 2063.8 571.9 2061.0 571.9 2061.0 572.6 2058.2 572.6 2058.2 570.8 2055.5 570.8 2055.5 569.5 2052.8 569.5 2052.8 571.5 2050.0 571.5 2050.0 569.9 2047.2 569.9 2047.2 574.8 2044.5 574.8 2044.5 574.1 2041.8 574.1 2041.8 572.9 2039.0 572.9 2039.0 571.9 2036.2 571.9 2036.2 575.5 2033.5 575.5 2033.5 573.0 2030.8 573.0 2030.8 571.8 2028.0 571.8 2028.0 570.8 2025.2 570.8 2025.2 571.6 2022.5 571.6 2022.5 571.3 2019.8 571.3 2019.8 571.6 2017.0 571.6 2017.0 571.5 2014.2 571.5 2014.2 570.6 2011.5 570.6 2011.5 570.7 2008.8 570.7 2008.8 570.0 2006.0 570.0 2006.0 568.6 2003.2 568.6 2003.2 571.1 2000.5 571.1 2000.5 570.0 1997.8 570.0 1997.8 571.2 1995.0 571.2 1995.0 571.3 1992.2 571.3 1992.2 570.4 1989.5 570.4 1989.5 569.9 1986.8 569.9 1986.8 571.4 1984.0 571.4 1984.0 570.3 1981.2 570.3 1981.2 570.9 1978.5 570.9 1978.5 570.6 1975.8 570.6 1975.8 571.1 1973.0 571.1 1973.0 571.5 1970.2 571.5 1970.2 572.2 1967.5 572.2 1967.5 572.1 1964.8 572.1 1964.8 572.0 1962.0 572.0 1962.0 570.4 1959.2 570.4 1959.2 570.5 1956.5 570.5 1956.5 568.5 1953.8 568.5 1953.8 569.7 1951.0 569.7 1951.0 570.0 1948.2 570.0 1948.2 570.1 1945.5 570.1 1945.5 572.6 1942.8 572.6 1942.8 570.2 1940.0 570.2 1940.0 571.4 1937.2 571.4 1937.2 570.9 1934.5 570.9 1934.5 569.2 1931.8 569.2 1931.8 570.3 1929.0 570.3 1929.0 571.5 1926.2 571.5 1926.2 570.4 1923.5 570.4 1923.5 570.3 1920.8 570.3 1920.8 570.4 1918.0 570.4 1918.0 571.8 1915.2 571.8 1915.2 570.8 1912.5 570.8 1912.5 570.0 1909.8 570.0 1909.8 570.3 1907.0 570.3 1907.0 572.7 1904.2 572.7 1904.2 570.7 1901.5 570.7 1901.5 570.2 1898.8 570.2 1898.8 569.3 1896.0 569.3 1896.0 570.3 1893.2 570.3 1893.2 570.9 1890.5 570.9 1890.5 570.8 1887.8 570.8 1887.8 572.1 1885.0 572.1 1885.0 569.4 1882.2 569.4 1882.2 570.6 1879.5 570.6 1879.5 571.0 1876.8 571.0 1876.8 569.7 1874.0 569.7 1874.0 572.3 1871.2 572.3 1871.2 571.9 1868.5 571.9 1868.5 572.7 1865.8 572.7 1865.8 571.5 1863.0 571.5 1863.0 569.5 1860.2 569.5 1860.2 570.5 1857.5 570.5 1857.5 571.5 1854.8 571.5 1854.8 572.9 1852.0 572.9 1852.0 569.0 1849.2 569.0 1849.2 570.6 1846.5 570.6 1846.5 570.7 1843.8 570.7 1843.8 570.6 1841.0 570.6 1841.0 570.8 1838.2 570.8 1838.2 569.8 1835.5 569.8 1835.5 570.7 1832.8 570.7 1832.8 570.9 1830.0 570.9 1830.0 571.4 1827.2 571.4 1827.2 571.4 1824.5 571.4 1824.5 573.0 1821.8 573.0 1821.8 571.6 1819.0 571.6 1819.0 571.8 1816.2 571.8 1816.2 571.3 1813.5 571.3 1813.5 572.5 1810.8 572.5 1810.8 570.1 1808.0 570.1 1808.0 570.7 1805.2 570.7 1805.2 573.6 1802.5 573.6 1802.5 570.5 1799.8 570.5 1799.8 568.9 1797.0 568.9 1797.0 570.7 1794.2 570.7 1794.2 570.0 1791.5 570.0 1791.5 569.8 1788.8 569.8 1788.8 570.0 1786.0 570.0 1786.0 570.2 1783.2 570.2 1783.2 569.7 1780.5 569.7 1780.5 568.9 1777.8 568.9 1777.8 570.5 1775.0 570.5 1775.0 570.6 1772.2 570.6 1772.2 570.6 1769.5 570.6 1769.5 570.6 1766.8 570.6 1766.8 570.6 1764.0 570.6 1764.0 568.7 1761.2 568.7 1761.2 570.8 1758.5 570.8 1758.5 569.7 1755.8 569.7 1755.8 568.0 1753.0 568.0 1753.0 568.0 1750.2 568.0 1750.2 571.4 1747.5 571.4 1747.5 569.9 1744.8 569.9 1744.8 568.6 1742.0 568.6 1742.0 569.0 1739.2 569.0 1739.2 568.3 1736.5 568.3 1736.5 570.7 1733.8 570.7 1733.8 570.6 1731.0 570.6 1731.0 570.5 1728.2 570.5 1728.2 571.5 1725.5 571.5 1725.5 574.1 1722.8 574.1 1722.8 571.2 1720.0 571.2 1720.0 570.0 1717.2 570.0 1717.2 570.1 1714.5 570.1 1714.5 569.0 1711.8 569.0 1711.8 569.8 1709.0 569.8 1709.0 571.1 1706.2 571.1 1706.2 570.3 1703.5 570.3 1703.5 569.6 1700.8 569.6 1700.8 570.9 1698.0 570.9 1698.0 569.6 1695.2 569.6 1695.2 568.7 1692.5 568.7 1692.5 570.3 1689.8 570.3 1689.8 569.1 1687.0 569.1 1687.0 571.9 1684.2 571.9 1684.2 571.7 1681.5 571.7 1681.5 568.1 1678.8 568.1 1678.8 569.0 1676.0 569.0 1676.0 567.4 1673.2 567.4 1673.2 568.0 1670.5 568.0 1670.5 570.0 1667.8 570.0 1667.8 570.5 1665.0 570.5 1665.0 570.8 1662.2 570.8 1662.2 570.7 1659.5 570.7 1659.5 569.9 1656.8 569.9 1656.8 567.9 1654.0 567.9 1654.0 570.2 1651.2 570.2 1651.2 566.9 1648.5 566.9 1648.5 568.6 1645.8 568.6 1645.8 569.5 1643.0 569.5 1643.0 568.4 1640.2 568.4 1640.2 567.6 1637.5 567.6 1637.5 567.3 1634.8 567.3 1634.8 568.8 1632.0 568.8 1632.0 570.1 1629.2 570.1 1629.2 567.5 1626.5 567.5 1626.5 571.5 1623.8 571.5 1623.8 566.2 1621.0 566.2 1621.0 565.3 1618.2 565.3 1618.2 567.1 1615.5 567.1 1615.5 566.7 1612.8 566.7 1612.8 570.2 1610.0 570.2 1610.0 568.4 1607.2 568.4 1607.2 567.5 1604.5 567.5 1604.5 567.0 1601.8 567.0 1601.8 569.2 1599.0 569.2 1599.0 568.0 1596.2 568.0 1596.2 568.4 1593.5 568.4 1593.5 568.5 1590.8 568.5 1590.8 568.7 1588.0 568.7 1588.0 565.3 1585.2 565.3 1585.2 566.5 1582.5 566.5 1582.5 568.5 1579.8 568.5 1579.8 567.6 1577.0 567.6 1577.0 567.0 1574.2 567.0 1574.2 567.9 1571.5 567.9 1571.5 568.0 1568.8 568.0 1568.8 568.0 1566.0 568.0 1566.0 567.1 1563.2 567.1 1563.2 567.2 1560.5 567.2 1560.5 566.4 1557.8 566.4 1557.8 569.4 1555.0 569.4 1555.0 568.4 1552.2 568.4 1552.2 567.2 1549.5 567.2 1549.5 567.5 1546.8 567.5 1546.8 567.8 1544.0 567.8 1544.0 567.8 1541.2 567.8 1541.2 566.1 1538.5 566.1 1538.5 568.3 1535.8 568.3 1535.8 567.4 1533.0 567.4 1533.0 567.1 1530.2 567.1 1530.2 566.8 1527.5 566.8 1527.5 567.1 1524.8 567.1 1524.8 566.7 1522.0 566.7 1522.0 566.1 1519.2 566.1 1519.2 564.7 1516.5 564.7 1516.5 566.6 1513.8 566.6 1513.8 563.7 1511.0 563.7 1511.0 567.1 1508.2 567.1 1508.2 566.6 1505.5 566.6 1505.5 566.1 1502.8 566.1 1502.8 565.4 1500.0 565.4 1500.0 563.7 1497.2 563.7 1497.2 566.4 1494.5 566.4 1494.5 565.8 1491.8 565.8 1491.8 566.5 1489.0 566.5 1489.0 565.4 1486.2 565.4 1486.2 564.6 1483.5 564.6 1483.5 566.1 1480.8 566.1 1480.8 567.4 1478.0 567.4 1478.0 563.6 1475.2 563.6 1475.2 563.4 1472.5 563.4 1472.5 564.6 1469.8 564.6 1469.8 566.9 1467.0 566.9 1467.0 563.6 1464.2 563.6 1464.2 562.6 1461.5 562.6 1461.5 562.3 1458.8 562.3 1458.8 563.1 1456.0 563.1 1456.0 563.7 1453.2 563.7 1453.2 564.4 1450.5 564.4 1450.5 565.4 1447.8 565.4 1447.8 564.6 1445.0 564.6 1445.0 564.6 1442.2 564.6 1442.2 565.7 1439.5 565.7 1439.5 564.8 1436.8 564.8 1436.8 565.3 1434.0 565.3 1434.0 563.5 1431.2 563.5 1431.2 564.0 1428.5 564.0 1428.5 563.6 1425.8 563.6 1425.8 563.6 1423.0 563.6 1423.0 564.9 1420.2 564.9 1420.2 563.7 1417.5 563.7 1417.5 563.0 1414.8 563.0 1414.8 561.5 1412.0 561.5 1412.0 562.5 1409.2 562.5 1409.2 563.9 1406.5 563.9 1406.5 564.5 1403.8 564.5 1403.8 566.7 1401.0 566.7 1401.0 563.8 1398.2 563.8 1398.2 564.9 1395.5 564.9 1395.5 562.8 1392.8 562.8 1392.8 564.6 1390.0 564.6 1390.0 560.8 1387.2 560.8 1387.2 562.4 1384.5 562.4 1384.5 564.8 1381.8 564.8 1381.8 560.9 1379.0 560.9 1379.0 563.4 1376.2 563.4 1376.2 564.3 1373.5 564.3 1373.5 565.1 1370.8 565.1 1370.8 562.6 1368.0 562.6 1368.0 566.2 1365.2 566.2 1365.2 561.3 1362.5 561.3 1362.5 561.4 1359.8 561.4 1359.8 561.8 1357.0 561.8 1357.0 562.1 1354.2 562.1 1354.2 563.0 1351.5 563.0 1351.5 565.5 1348.8 565.5 1348.8 563.0 1346.0 563.0 1346.0 562.7 1343.2 562.7 1343.2 562.7 1340.5 562.7 1340.5 561.9 1337.8 561.9 1337.8 561.1 1335.0 561.1 1335.0 562.4 1332.2 562.4 1332.2 561.6 1329.5 561.6 1329.5 561.7 1326.8 561.7 1326.8 561.5 1324.0 561.5 1324.0 562.2 1321.2 562.2 1321.2 560.7 1318.5 560.7 1318.5 559.9 1315.8 559.9 1315.8 560.5 1313.0 560.5 1313.0 557.1 1310.2 557.1 1310.2 559.6 1307.5 559.6 1307.5 560.7 1304.8 560.7 1304.8 560.0 1302.0 560.0 1302.0 560.7 1299.2 560.7 1299.2 562.9 1296.5 562.9 1296.5 562.0 1293.8 562.0 1293.8 561.3 1291.0 561.3 1291.0 560.4 1288.2 560.4 1288.2 559.9 1285.5 559.9 1285.5 562.6 1282.8 562.6 1282.8 560.6 1280.0 560.6 1280.0 561.3 1277.2 561.3 1277.2 561.1 1274.5 561.1 1274.5 558.7 1271.8 558.7 1271.8 557.4 1269.0 557.4 1269.0 557.7 1266.2 557.7 1266.2 558.8 1263.5 558.8 1263.5 559.8 1260.8 559.8 1260.8 561.2 1258.0 561.2 1258.0 558.7 1255.2 558.7 1255.2 556.3 1252.5 556.3 1252.5 558.0 1249.8 558.0 1249.8 556.6 1247.0 556.6 1247.0 557.3 1244.2 557.3 1244.2 557.2 1241.5 557.2 1241.5 557.0 1238.8 557.0 1238.8 557.4 1236.0 557.4 1236.0 557.0 1233.2 557.0 1233.2 560.7 1230.5 560.7 1230.5 556.9 1227.8 556.9 1227.8 558.8 1225.0 558.8 1225.0 556.9 1222.2 556.9 1222.2 557.8 1219.5 557.8 1219.5 554.5 1216.8 554.5 1216.8 556.9 1214.0 556.9 1214.0 557.8 1211.2 557.8 1211.2 555.1 1208.5 555.1 1208.5 557.0 1205.8 557.0 1205.8 558.1 1203.0 558.1 1203.0 554.4 1200.2 554.4 1200.2 555.1 1197.5 555.1 1197.5 555.1 1194.8 555.1 1194.8 556.9 1192.0 556.9 1192.0 557.3 1189.2 557.3 1189.2 556.0 1186.5 556.0 1186.5 551.4 1183.8 551.4 1183.8 554.2 1181.0 554.2 1181.0 553.3 1178.2 553.3 1178.2 550.1 1175.5 550.1 1175.5 550.5 1172.8 550.5 1172.8 551.3 1170.0 551.3 1170.0 552.4 1167.2 552.4 1167.2 554.6 1164.5 554.6 1164.5 551.7 1161.8 551.7 1161.8 551.1 1159.0 551.1 1159.0 554.6 1156.2 554.6 1156.2 552.3 1153.5 552.3 1153.5 551.3 1150.8 551.3 1150.8 553.4 1148.0 553.4 1148.0 552.0 1145.2 552.0 1145.2 549.3 1142.5 549.3 1142.5 545.7 1139.8 545.7 1139.8 546.8 1137.0 546.8 1137.0 547.1 1134.2 547.1 1134.2 546.4 1131.5 546.4 1131.5 549.8 1128.8 549.8 1128.8 548.5 1126.0 548.5 1126.0 549.2 1123.2 549.2 1123.2 548.7 1120.5 548.7 1120.5 546.4 1117.8 546.4 1117.8 546.2 1115.0 546.2 1115.0 546.2 1112.2 546.2 1112.2 545.6 1109.5 545.6 1109.5 546.5 1106.8 546.5 1106.8 548.5 1104.0 548.5 1104.0 547.3 1101.2 547.3 1101.2 549.3 1098.5 549.3 1098.5 549.7 1095.8 549.7 1095.8 550.4 1093.0 550.4 1093.0 549.3 1090.2 549.3 1090.2 549.7 1087.5 549.7 1087.5 547.1 1084.8 547.1 1084.8 544.9 1082.0 544.9 1082.0 542.4 1079.2 542.4 1079.2 545.9 1076.5 545.9 1076.5 546.6 1073.8 546.6 1073.8 548.0 1071.0 548.0 1071.0 546.4 1068.2 546.4 1068.2 547.3 1065.5 547.3 1065.5 545.5 1062.8 545.5 1062.8 541.8 1060.0 541.8 1060.0 542.6 1057.2 542.6 1057.2 542.8 1054.5 542.8 1054.5 541.2 1051.8 541.2 1051.8 539.3 1049.0 539.3 1049.0 541.8 1046.2 541.8 1046.2 540.0 1043.5 540.0 1043.5 538.6 1040.8 538.6 1040.8 538.9 1038.0 538.9 1038.0 537.3 1035.2 537.3 1035.2 539.5 1032.5 539.5 1032.5 536.8 1029.8 536.8 1029.8 538.2 1027.0 538.2 1027.0 539.2 1024.2 539.2 1024.2 539.4 1021.5 539.4 1021.5 539.5 1018.8 539.5 1018.8 538.9 1016.0 538.9 1016.0 533.7 1013.2 533.7 1013.2 534.1 1010.5 534.1 1010.5 531.7 1007.8 531.7 1007.8 533.0 1005.0 533.0 1005.0 532.0 1002.2 532.0 1002.2 529.7 999.5 529.7 999.5 531.0 996.8 531.0 996.8 532.9 994.0 532.9 994.0 531.0 991.2 531.0 991.2 530.6 988.5 530.6 988.5 529.6 985.8 529.6 985.8 524.7 983.0 524.7 983.0 530.4 980.2 530.4 980.2 525.3 977.5 525.3 977.5 525.0 974.8 525.0 974.8 527.2 972.0 527.2 972.0 525.7 969.2 525.7 969.2 525.5 966.5 525.5 966.5 520.5 963.8 520.5 963.8 524.4 961.0 524.4 961.0 524.2 958.2 524.2 958.2 523.0 955.5 523.0 955.5 524.2 952.8 524.2 952.8 521.2 950.0 521.2 950.0 522.0 947.2 522.0 947.2 518.6 944.5 518.6 944.5 516.9 941.8 516.9 941.8 517.5 939.0 517.5 939.0 513.1 936.2 513.1 936.2 518.1 933.5 518.1 933.5 513.9 930.8 513.9 930.8 514.0 928.0 514.0 928.0 509.8 925.2 509.8 925.2 509.8 922.5 509.8 922.5 510.4 919.8 510.4 919.8 510.1 917.0 510.1 917.0 511.0 914.2 511.0 914.2 511.4 911.5 511.4 911.5 510.8 908.8 510.8 908.8 507.8 906.0 507.8 906.0 507.9 903.2 507.9 903.2 502.5 900.5 502.5 900.5 502.2 897.8 502.2 897.8 499.5 895.0 499.5 895.0 498.5 892.2 498.5 892.2 497.2 889.5 497.2 889.5 497.9 886.8 497.9 886.8 492.9 884.0 492.9 884.0 490.9 881.2 490.9 881.2 493.6 878.5 493.6 878.5 491.2 875.8 491.2 875.8 488.9 873.0 488.9 873.0 486.8 870.2 486.8 870.2 485.6 867.5 485.6 867.5 484.2 864.8 484.2 864.8 479.4 862.0 479.4 862.0 477.9 859.2 477.9 859.2 478.1 856.5 478.1 856.5 479.0 853.8 479.0 853.8 475.7 851.0 475.7 851.0 477.8 848.2 477.8 848.2 473.4 845.5 473.4 845.5 471.9 842.8 471.9 842.8 476.9 840.0 476.9 840.0 470.9 837.2 470.9 837.2 471.2 834.5 471.2 834.5 468.4 831.8 468.4 831.8 467.6 829.0 467.6 829.0 464.8 826.2 464.8 826.2 462.3 823.5 462.3 823.5 462.9 820.8 462.9 820.8 458.8 818.0 458.8 818.0 457.1 815.2 457.1 815.2 455.8 812.5 455.8 812.5 454.9 809.8 454.9 809.8 448.3 807.0 448.3 807.0 453.0 804.2 453.0 804.2 448.4 801.5 448.4 801.5 448.2 798.8 448.2 798.8 444.7 796.0 444.7 796.0 445.3 793.2 445.3 793.2 444.0 790.5 444.0 790.5 440.4 787.8 440.4 787.8 436.4 785.0 436.4 785.0 431.5 782.2 431.5 782.2 432.4 779.5 432.4 779.5 432.6 776.8 432.6 776.8 430.3 774.0 430.3 774.0 427.8 771.2 427.8 771.2 429.2 768.5 429.2 768.5 428.6 765.8 428.6 765.8 426.0 763.0 426.0 763.0 422.9 760.2 422.9 760.2 419.1 757.5 419.1 757.5 420.9 754.8 420.9 754.8 419.7 752.0 419.7 752.0 423.5 749.2 423.5 749.2 422.9 746.5 422.9 746.5 419.5 743.8 419.5 743.8 419.4 741.0 419.4 741.0 419.5 738.2 419.5 738.2 418.6 735.5 418.6 735.5 416.4 732.8 416.4 732.8 417.5 730.0 417.5 730.0 418.1 727.2 418.1 727.2 416.4 724.5 416.4 724.5 425.4 721.8 425.4 721.8 422.7 719.0 422.7 719.0 421.2 716.2 421.2 716.2 413.9 713.5 413.9 713.5 416.9 710.8 416.9 710.8 417.9 708.0 417.9 708.0 415.0 705.2 415.0 705.2 418.3 702.5 418.3 702.5 420.7 699.8 420.7 699.8 421.3 697.0 421.3 697.0 423.6 694.2 423.6 694.2 425.1 691.5 425.1 691.5 428.2 688.8 428.2 688.8 429.4 686.0 429.4 686.0 429.3 683.2 429.3 683.2 433.0 680.5 433.0 680.5 432.9 677.8 432.9 677.8 431.9 675.0 431.9 675.0 435.4 672.2 435.4 672.2 435.4 669.5 435.4 669.5 437.3 666.8 437.3 666.8 441.2 664.0 441.2 664.0 443.1 661.2 443.1 661.2 449.1 658.5 449.1 658.5 446.4 655.8 446.4 655.8 446.2 653.0 446.2 653.0 449.0 650.2 449.0 650.2 450.4 647.5 450.4 647.5 453.9 644.8 453.9 644.8 454.4 642.0 454.4 642.0 458.4 639.2 458.4 639.2 461.2 636.5 461.2 636.5 462.7 633.8 462.7 633.8 463.7 631.0 463.7 631.0 465.9 628.2 465.9 628.2 466.9 625.5 466.9 625.5 469.7 622.8 469.7 622.8 474.2 620.0 474.2 620.0 475.7 617.2 475.7 617.2 477.5 614.5 477.5 614.5 479.3 611.8 479.3 611.8 479.7 609.0 479.7 609.0 483.3 606.2 483.3 606.2 483.6 603.5 483.6 603.5 488.5 600.8 488.5 600.8 485.2 598.0 485.2 598.0 488.0 595.2 488.0 595.2 488.1 592.5 488.1 592.5 490.1 589.8 490.1 589.8 487.3 587.0 487.3 587.0 489.8 584.2 489.8 584.2 488.0 581.5 488.0 581.5 495.3 578.8 495.3 578.8 492.0 576.0 492.0 576.0 492.9 573.2 492.9 573.2 495.9 570.5 495.9 570.5 500.4 567.8 500.4 567.8 495.6 565.0 495.6 565.0 495.1 562.2 495.1 562.2 498.6 559.5 498.6 559.5 508.0 556.8 508.0 556.8 504.2 554.0 504.2 554.0 505.5 551.2 505.5 551.2 506.5 548.5 506.5 548.5 510.5 545.8 510.5 545.8 509.5 543.0 509.5 543.0 507.2 540.2 507.2 540.2 507.3 537.5 507.3 537.5 510.3 534.8 510.3 534.8 509.9 532.0 509.9 532.0 510.9 529.2 510.9 529.2 512.3 526.5 512.3 526.5 512.0 523.8 512.0 523.8 515.5 521.0 515.5 521.0 514.9 518.2 514.9 518.2 517.2 515.5 517.2 515.5 511.2 512.8 511.2 512.8 511.0 510.0 511.0 510.0 512.0 507.2 512.0 507.2 516.9 504.5 516.9 504.5 519.7 501.8 519.7 501.8 515.1 499.0 515.1 499.0 514.3 496.2 514.3 496.2 518.7 493.5 518.7 493.5 518.3 490.8 518.3 490.8 516.2 488.0 516.2 488.0 512.0 485.2 512.0 485.2 513.0 482.5 513.0 482.5 515.8 479.8 515.8 479.8 514.0 477.0 514.0 477.0 511.3 474.2 511.3 474.2 512.8 471.5 512.8 471.5 512.2 468.8 512.2 468.8 511.7 466.0 511.7 466.0 512.1 463.2 512.1 463.2 509.3 460.5 509.3 460.5 512.5 457.8 512.5 457.8 512.8 455.0 512.8 455.0 513.0 452.2 513.0 452.2 514.1 449.5 514.1 449.5 516.9 446.8 516.9 446.8 516.7 444.0 516.7 444.0 518.3 441.2 518.3 441.2 517.3 438.5 517.3 438.5 519.4 435.8 519.4 435.8 518.5 433.0 518.5 433.0 514.5 430.2 514.5 430.2 516.5 427.5 516.5 427.5 515.1 424.8 515.1 424.8 518.0 422.0 518.0 422.0 515.8 419.2 515.8 419.2 512.7 416.5 512.7 416.5 511.8 413.8 511.8 413.8 512.1 411.0 512.1 411.0 516.2 408.2 516.2 408.2 517.4 405.5 517.4 405.5 514.2 402.8 514.2 402.8 515.4 400.0 515.4 400.0 516.6 397.2 516.6 397.2 513.7 394.5 513.7 394.5 516.7 391.8 516.7 391.8 513.4 389.0 513.4 389.0 516.4 386.2 516.4 386.2 515.0 383.5 515.0 383.5 512.9 380.8 512.9 380.8 514.8 378.0 514.8 378.0 513.2 375.2 513.2 375.2 513.3 372.5 513.3 372.5 514.6 369.8 514.6 369.8 516.4 367.0 516.4 367.0 517.2 364.2 517.2 364.2 514.0 361.5 514.0 361.5 511.4 358.8 511.4 358.8 517.6 356.0 517.6 356.0 511.6 353.2 511.6 353.2 509.7 350.5 509.7 350.5 514.4 347.8 514.4 347.8 517.2 345.0 517.2 345.0 513.3 342.2 513.3 342.2 509.2 339.5 509.2 339.5 509.4 336.8 509.4 336.8 510.8 334.0 510.8 334.0 509.4 331.2 509.4 331.2 506.6 328.5 506.6 328.5 506.6 325.8 506.6 325.8 508.2 323.0 508.2 323.0 509.1 320.2 509.1 320.2 508.0 317.5 508.0 317.5 507.2 314.8 507.2 314.8 504.0 312.0 504.0 312.0 507.1 309.2 507.1 309.2 507.4 306.5 507.4 306.5 501.6 303.8 501.6 303.8 506.0 301.0 506.0 301.0 503.3 298.2 503.3 298.2 500.9 295.5 500.9 295.5 505.6 292.8 505.6 292.8 506.8 290.0 506.8 290.0 506.5 287.2 506.5 287.2 503.8 284.5 503.8 284.5 503.6 281.8 503.6 281.8 498.7 279.0 498.7 279.0 497.3 276.2 497.3 276.2 493.6 273.5 493.6 273.5 496.0 270.8 496.0 270.8 498.3 268.0 498.3 268.0 495.0 265.2 495.0 265.2 498.6 262.5 498.6 262.5 495.1 259.8 495.1 259.8 494.8 257.0 494.8 257.0 495.0 254.2 495.0 254.2 497.2 251.5 497.2 251.5 498.4 248.8 498.4 248.8 494.8 246.0 494.8 246.0 492.7 243.2 492.7 243.2 494.5 240.5 494.5 240.5 491.8 237.8 491.8 237.8 492.4 235.0 492.4 235.0 490.2 232.2 490.2 232.2 492.3 229.5 492.3 229.5 493.3 226.8 493.3 226.8 485.8 224.0 485.8 224.0 484.8 221.2 484.8 221.2 488.6 218.5 488.6Z"/>
<path fill="#ff0000" fill-opacity="0.45" d="M218.5 667.3 221.2 667.3 221.2 672.8 224.0 672.8 224.0 669.4 226.8 669.4 226.8 666.7 229.5 666.7 229.5 671.6 232.2 671.6 232.2 668.5 235.0 668.5 235.0 667.5 237.8 667.5 237.8 672.2 240.5 672.2 240.5 665.1 243.2 665.1 243.2 662.3 246.0 662.3 246.0 668.9 248.8 668.9 248.8 671.8 251.5 671.8 251.5 668.9 254.2 668.9 254.2 665.7 257.0 665.7 257.0 664.7 259.8 664.7 259.8 667.5 262.5 667.5 262.5 669.5 265.2 669.5 265.2 671.8 268.0 671.8 268.0 673.6 270.8 673.6 270.8 674.9 273.5 674.9 273.5 675.9 276.2 675.9 276.2 670.2 279.0 670.2 279.0 672.2 281.8 672.2 281.8 674.6 284.5 674.6 284.5 673.5 287.2 673.5 287.2 678.2 290.0 678.2 290.0 673.2 292.8 673.2 292.8 675.0 295.5 675.0 295.5 671.7 298.2 671.7 298.2 679.9 301.0 679.9 301.0 677.8 303.8 677.8 303.8 682.4 306.5 682.4 306.5 674.7 309.2 674.7 309.2 678.7 312.0 678.7 312.0 682.9 314.8 682.9 314.8 683.8 317.5 683.8 317.5 686.3 320.2 686.3 320.2 687.3 323.0 687.3 323.0 690.0 325.8 690.0 325.8 680.5 328.5 680.5 328.5 680.5 331.2 680.5 331.2 681.9 334.0 681.9 334.0 683.1 336.8 683.1 336.8 686.8 339.5 686.8 339.5 686.5 342.2 686.5 342.2 679.7 345.0 679.7 345.0 685.0 347.8 685.0 347.8 688.3 350.5 688.3 350.5 690.0 353.2 690.0 353.2 690.2 356.0 690.2 356.0 690.9 358.8 690.9 358.8 689.0 361.5 689.0 361.5 681.5 364.2 681.5 364.2 686.1 367.0 686.1 367.0 686.6 369.8 686.6 369.8 686.8 372.5 686.8 372.5 691.0 375.2 691.0 375.2 685.9 378.0 685.9 378.0 694.6 380.8 694.6 380.8 693.4 383.5 693.4 383.5 694.6 386.2 694.6 386.2 692.9 389.0 692.9 389.0 697.5 391.8 697.5 391.8 697.5 394.5 697.5 394.5 700.6 397.2 700.6 397.2 702.2 400.0 702.2 400.0 692.1 402.8 692.1 402.8 691.8 405.5 691.8 405.5 699.7 408.2 699.7 408.2 700.3 411.0 700.3 411.0 702.2 413.8 702.2 413.8 700.3 416.5 700.3 416.5 700.3 419.2 700.3 419.2 696.1 422.0 696.1 422.0 695.4 424.8 695.4 424.8 700.6 427.5 700.6 427.5 705.9 430.2 705.9 430.2 704.1 433.0 704.1 433.0 703.0 435.8 703.0 435.8 704.8 438.5 704.8 438.5 706.8 441.2 706.8 441.2 705.2 444.0 705.2 444.0 702.8 446.8 702.8 446.8 702.9 449.5 702.9 449.5 697.3 452.2 697.3 452.2 710.2 455.0 710.2 455.0 707.2 457.8 707.2 457.8 709.2 460.5 709.2 460.5 708.4 463.2 708.4 463.2 709.1 466.0 709.1 466.0 711.4 468.8 711.4 468.8 708.4 471.5 708.4 471.5 706.8 474.2 706.8 474.2 710.1 477.0 710.1 477.0 705.6 479.8 705.6 479.8 698.6 482.5 698.6 482.5 707.5 485.2 707.5 485.2 702.6 488.0 702.6 488.0 704.4 490.8 704.4 490.8 712.1 493.5 712.1 493.5 717.4 496.2 717.4 496.2 712.0 499.0 712.0 499.0 710.7 501.8 710.7 501.8 709.2 504.5 709.2 504.5 705.4 507.2 705.4 507.2 707.5 510.0 707.5 510.0 709.1 512.8 709.1 512.8 710.9 515.5 710.9 515.5 717.2 518.2 717.2 518.2 709.3 521.0 709.3 521.0 715.2 523.8 715.2 523.8 716.1 526.5 716.1 526.5 714.0 529.2 714.0 529.2 713.9 532.0 713.9 532.0 716.5 534.8 716.5 534.8 717.7 537.5 717.7 537.5 711.7 540.2 711.7 540.2 712.4 543.0 712.4 543.0 716.1 545.8 716.1 545.8 715.1 548.5 715.1 548.5 713.0 551.2 713.0 551.2 709.7 554.0 709.7 554.0 709.6 556.8 709.6 556.8 710.9 559.5 710.9 559.5 710.3 562.2 710.3 562.2 713.3 565.0 713.3 565.0 712.8 567.8 712.8 567.8 713.4 570.5 713.4 570.5 713.7 573.2 713.7 573.2 710.8 576.0 710.8 576.0 706.0 578.8 706.0 578.8 708.5 581.5 708.5 581.5 705.3 584.2 705.3 584.2 709.4 587.0 709.4 587.0 708.3 589.8 708.3 589.8 711.2 592.5 711.2 592.5 709.3 595.2 709.3 595.2 709.8 598.0 709.8 598.0 709.2 600.8 709.2 600.8 710.1 603.5 710.1 603.5 709.1 606.2 709.1 606.2 706.3 609.0 706.3 609.0 706.1 611.8 706.1 611.8 705.8 614.5 705.8 614.5 710.1 617.2 710.1 617.2 709.2 620.0 709.2 620.0 706.2 622.8 706.2 622.8 707.7 625.5 707.7 625.5 711.3 628.2 711.3 628.2 707.5 631.0 707.5 631.0 706.4 633.8 706.4 633.8 713.6 636.5 713.6 636.5 714.8 639.2 714.8 639.2 710.8 642.0 710.8 642.0 711.6 644.8 711.6 644.8 712.3 647.5 712.3 647.5 705.2 650.2 705.2 650.2 704.0 653.0 704.0 653.0 696.4 655.8 696.4 655.8 700.2 658.5 700.2 658.5 698.7 661.2 698.7 661.2 702.4 664.0 702.4 664.0 700.8 666.8 700.8 666.8 689.7 669.5 689.7 669.5 694.7 672.2 694.7 672.2 698.8 675.0 698.8 675.0 698.4 677.8 698.4 677.8 698.5 680.5 698.5 680.5 694.3 683.2 694.3 683.2 696.7 686.0 696.7 686.0 699.7 688.8 699.7 688.8 698.3 691.5 698.3 691.5 697.7 694.2 697.7 694.2 701.6 697.0 701.6 697.0 697.3 699.8 697.3 699.8 692.7 702.5 692.7 702.5 690.5 705.2 690.5 705.2 696.7 708.0 696.7 708.0 693.5 710.8 693.5 710.8 693.5 713.5 693.5 713.5 692.1 716.2 692.1 716.2 691.3 719.0 691.3 719.0 691.2 721.8 691.2 721.8 687.7 724.5 687.7 724.5 695.4 727.2 695.4 727.2 691.5 730.0 691.5 730.0 693.5 732.8 693.5 732.8 691.5 735.5 691.5 735.5 684.1 738.2 684.1 738.2 684.0 741.0 684.0 741.0 681.7 743.8 681.7 743.8 686.1 746.5 686.1 746.5 683.2 749.2 683.2 749.2 679.5 752.0 679.5 752.0 678.1 754.8 678.1 754.8 674.4 757.5 674.4 757.5 675.3 760.2 675.3 760.2 677.6 763.0 677.6 763.0 677.5 765.8 677.5 765.8 675.9 768.5 675.9 768.5 671.1 771.2 671.1 771.2 670.3 774.0 670.3 774.0 665.1 776.8 665.1 776.8 665.7 779.5 665.7 779.5 666.6 782.2 666.6 782.2 669.8 785.0 669.8 785.0 662.7 787.8 662.7 787.8 656.0 790.5 656.0 790.5 653.0 793.2 653.0 793.2 654.5 796.0 654.5 796.0 654.4 798.8 654.4 798.8 656.2 801.5 656.2 801.5 655.6 804.2 655.6 804.2 655.5 807.0 655.5 807.0 657.9 809.8 657.9 809.8 657.8 812.5 657.8 812.5 656.7 815.2 656.7 815.2 654.7 818.0 654.7 818.0 655.1 820.8 655.1 820.8 650.9 823.5 650.9 823.5 643.7 826.2 643.7 826.2 649.1 829.0 649.1 829.0 653.0 831.8 653.0 831.8 647.7 834.5 647.7 834.5 652.1 837.2 652.1 837.2 651.0 840.0 651.0 840.0 656.1 842.8 656.1 842.8 653.0 845.5 653.0 845.5 656.7 848.2 656.7 848.2 659.7 851.0 659.7 851.0 664.3 853.8 664.3 853.8 661.1 856.5 661.1 856.5 674.5 859.2 674.5 859.2 674.9 862.0 674.9 862.0 675.0 864.8 675.0 864.8 676.7 867.5 676.7 867.5 678.2 870.2 678.2 870.2 682.0 873.0 682.0 873.0 684.2 875.8 684.2 875.8 689.0 878.5 689.0 878.5 687.0 881.2 687.0 881.2 697.3 884.0 697.3 884.0 698.8 886.8 698.8 886.8 698.8 889.5 698.8 889.5 703.1 892.2 703.1 892.2 704.3 895.0 704.3 895.0 707.4 897.8 707.4 897.8 708.6 900.5 708.6 900.5 711.7 903.2 711.7 903.2 717.9 906.0 717.9 906.0 716.9 908.8 716.9 908.8 719.4 911.5 719.4 911.5 729.8 914.2 729.8 914.2 728.3 917.0 728.3 917.0 731.4 919.8 731.4 919.8 732.4 922.5 732.4 922.5 737.6 925.2 737.6 925.2 740.5 928.0 740.5 928.0 742.4 930.8 742.4 930.8 741.3 933.5 741.3 933.5 746.2 936.2 746.2 936.2 746.6 939.0 746.6 939.0 751.5 941.8 751.5 941.8 754.2 944.5 754.2 944.5 750.8 947.2 750.8 947.2 753.8 950.0 753.8 950.0 755.4 952.8 755.4 952.8 755.0 955.5 755.0 955.5 755.9 958.2 755.9 958.2 757.9 961.0 757.9 961.0 758.5 963.8 758.5 963.8 761.4 966.5 761.4 966.5 761.0 969.2 761.0 969.2 760.8 972.0 760.8 972.0 759.8 974.8 759.8 974.8 763.2 977.5 763.2 977.5 761.9 980.2 761.9 980.2 764.1 983.0 764.1 983.0 764.7 985.8 764.7 985.8 761.7 988.5 761.7 988.5 763.6 991.2 763.6 991.2 765.7 994.0 765.7 994.0 766.4 996.8 766.4 996.8 767.7 999.5 767.7 999.5 767.4 1002.2 767.4 1002.2 767.5 1005.0 767.5 1005.0 772.8 1007.8 772.8 1007.8 773.1 1010.5 773.1 1010.5 768.6 1013.2 768.6 1013.2 773.0 1016.0 773.0 1016.0 773.2 1018.8 773.2 1018.8 779.6 1021.5 779.6 1021.5 777.3 1024.2 777.3 1024.2 779.9 1027.0 779.9 1027.0 777.1 1029.8 777.1 1029.8 778.5 1032.5 778.5 1032.5 779.6 1035.2 779.6 1035.2 778.5 1038.0 778.5 1038.0 779.3 1040.8 779.3 1040.8 778.7 1043.5 778.7 1043.5 783.3 1046.2 783.3 1046.2 783.3 1049.0 783.3 1049.0 783.0 1051.8 783.0 1051.8 785.5 1054.5 785.5 1054.5 786.6 1057.2 786.6 1057.2 785.4 1060.0 785.4 1060.0 784.1 1062.8 784.1 1062.8 787.1 1065.5 787.1 1065.5 787.3 1068.2 787.3 1068.2 785.6 1071.0 785.6 1071.0 781.9 1073.8 781.9 1073.8 786.0 1076.5 786.0 1076.5 786.9 1079.2 786.9 1079.2 784.6 1082.0 784.6 1082.0 784.3 1084.8 784.3 1084.8 782.9 1087.5 782.9 1087.5 785.7 1090.2 785.7 1090.2 786.3 1093.0 786.3 1093.0 788.1 1095.8 788.1 1095.8 789.2 1098.5 789.2 1098.5 786.1 1101.2 786.1 1101.2 786.7 1104.0 786.7 1104.0 785.3 1106.8 785.3 1106.8 788.8 1109.5 788.8 1109.5 786.2 1112.2 786.2 1112.2 788.3 1115.0 788.3 1115.0 789.1 1117.8 789.1 1117.8 789.0 1120.5 789.0 1120.5 786.6 1123.2 786.6 1123.2 785.0 1126.0 785.0 1126.0 786.2 1128.8 786.2 1128.8 783.4 1131.5 783.4 1131.5 787.8 1134.2 787.8 1134.2 787.5 1137.0 787.5 1137.0 787.4 1139.8 787.4 1139.8 784.4 1142.5 784.4 1142.5 787.1 1145.2 787.1 1145.2 783.5 1148.0 783.5 1148.0 784.4 1150.8 784.4 1150.8 785.6 1153.5 785.6 1153.5 784.2 1156.2 784.2 1156.2 786.4 1159.0 786.4 1159.0 787.3 1161.8 787.3 1161.8 786.7 1164.5 786.7 1164.5 790.1 1167.2 790.1 1167.2 791.1 1170.0 791.1 1170.0 791.1 1172.8 791.1 1172.8 789.0 1175.5 789.0 1175.5 788.6 1178.2 788.6 1178.2 790.8 1181.0 790.8 1181.0 792.6 1183.8 792.6 1183.8 792.0 1186.5 792.0 1186.5 792.4 1189.2 792.4 1189.2 791.9 1192.0 791.9 1192.0 789.8 1194.8 789.8 1194.8 792.8 1197.5 792.8 1197.5 792.7 1200.2 792.7 1200.2 792.1 1203.0 792.1 1203.0 790.6 1205.8 790.6 1205.8 791.9 1208.5 791.9 1208.5 790.3 1211.2 790.3 1211.2 790.7 1214.0 790.7 1214.0 792.2 1216.8 792.2 1216.8 792.1 1219.5 792.1 1219.5 790.8 1222.2 790.8 1222.2 789.7 1225.0 789.7 1225.0 790.8 1227.8 790.8 1227.8 790.7 1230.5 790.7 1230.5 792.1 1233.2 792.1 1233.2 794.2 1236.0 794.2 1236.0 789.9 1238.8 789.9 1238.8 789.6 1241.5 789.6 1241.5 792.1 1244.2 792.1 1244.2 790.0 1247.0 790.0 1247.0 791.5 1249.8 791.5 1249.8 788.0 1252.5 788.0 1252.5 788.8 1255.2 788.8 1255.2 788.4 1258.0 788.4 1258.0 792.5 1260.8 792.5 1260.8 792.1 1263.5 792.1 1263.5 790.2 1266.2 790.2 1266.2 788.8 1269.0 788.8 1269.0 789.6 1271.8 789.6 1271.8 789.3 1274.5 789.3 1274.5 789.8 1277.2 789.8 1277.2 789.3 1280.0 789.3 1280.0 788.9 1282.8 788.9 1282.8 789.3 1285.5 789.3 1285.5 788.4 1288.2 788.4 1288.2 788.0 1291.0 788.0 1291.0 788.5 1293.8 788.5 1293.8 787.5 1296.5 787.5 1296.5 785.3 1299.2 785.3 1299.2 785.8 1302.0 785.8 1302.0 784.6 1304.8 784.6 1304.8 786.0 1307.5 786.0 1307.5 787.7 1310.2 787.7 1310.2 785.0 1313.0 785.0 1313.0 786.8 1315.8 786.8 1315.8 789.5 1318.5 789.5 1318.5 786.8 1321.2 786.8 1321.2 786.4 1324.0 786.4 1324.0 788.0 1326.8 788.0 1326.8 785.6 1329.5 785.6 1329.5 787.4 1332.2 787.4 1332.2 785.8 1335.0 785.8 1335.0 785.3 1337.8 785.3 1337.8 783.6 1340.5 783.6 1340.5 782.8 1343.2 782.8 1343.2 785.8 1346.0 785.8 1346.0 784.1 1348.8 784.1 1348.8 784.2 1351.5 784.2 1351.5 784.4 1354.2 784.4 1354.2 783.9 1357.0 783.9 1357.0 784.2 1359.8 784.2 1359.8 782.0 1362.5 782.0 1362.5 779.2 1365.2 779.2 1365.2 780.0 1368.0 780.0 1368.0 780.3 1370.8 780.3 1370.8 781.6 1373.5 781.6 1373.5 783.4 1376.2 783.4 1376.2 785.2 1379.0 785.2 1379.0 782.2 1381.8 782.2 1381.8 783.0 1384.5 783.0 1384.5 781.8 1387.2 781.8 1387.2 782.7 1390.0 782.7 1390.0 782.6 1392.8 782.6 1392.8 782.9 1395.5 782.9 1395.5 781.1 1398.2 781.1 1398.2 780.8 1401.0 780.8 1401.0 782.7 1403.8 782.7 1403.8 778.8 1406.5 778.8 1406.5 781.8 1409.2 781.8 1409.2 783.6 1412.0 783.6 1412.0 785.4 1414.8 785.4 1414.8 784.5 1417.5 784.5 1417.5 786.8 1420.2 786.8 1420.2 786.8 1423.0 786.8 1423.0 786.7 1425.8 786.7 1425.8 785.7 1428.5 785.7 1428.5 788.5 1431.2 788.5 1431.2 789.3 1434.0 789.3 1434.0 788.4 1436.8 788.4 1436.8 786.3 1439.5 786.3 1439.5 787.1 1442.2 787.1 1442.2 789.0 1445.0 789.0 1445.0 792.8 1447.8 792.8 1447.8 790.2 1450.5 790.2 1450.5 787.4 1453.2 787.4 1453.2 785.0 1456.0 785.0 1456.0 788.2 1458.8 788.2 1458.8 792.0 1461.5 792.0 1461.5 791.7 1464.2 791.7 1464.2 789.5 1467.0 789.5 1467.0 790.2 1469.8 790.2 1469.8 790.3 1472.5 790.3 1472.5 792.7 1475.2 792.7 1475.2 792.0 1478.0 792.0 1478.0 792.6 1480.8 792.6 1480.8 792.9 1483.5 792.9 1483.5 790.6 1486.2 790.6 1486.2 790.3 1489.0 790.3 1489.0 790.5 1491.8 790.5 1491.8 792.0 1494.5 792.0 1494.5 788.7 1497.2 788.7 1497.2 790.2 1500.0 790.2 1500.0 788.9 1502.8 788.9 1502.8 787.2 1505.5 787.2 1505.5 789.5 1508.2 789.5 1508.2 791.9 1511.0 791.9 1511.0 791.1 1513.8 791.1 1513.8 790.7 1516.5 790.7 1516.5 792.4 1519.2 792.4 1519.2 790.9 1522.0 790.9 1522.0 789.9 1524.8 789.9 1524.8 791.2 1527.5 791.2 1527.5 792.4 1530.2 792.4 1530.2 793.2 1533.0 793.2 1533.0 794.5 1535.8 794.5 1535.8 792.0 1538.5 792.0 1538.5 791.1 1541.2 791.1 1541.2 788.7 1544.0 788.7 1544.0 793.4 1546.8 793.4 1546.8 792.6 1549.5 792.6 1549.5 792.2 1552.2 792.2 1552.2 789.4 1555.0 789.4 1555.0 792.6 1557.8 792.6 1557.8 793.7 1560.5 793.7 1560.5 793.1 1563.2 793.1 1563.2 795.7 1566.0 795.7 1566.0 795.4 1568.8 795.4 1568.8 795.4 1571.5 795.4 1571.5 794.6 1574.2 794.6 1574.2 793.9 1577.0 793.9 1577.0 793.7 1579.8 793.7 1579.8 794.6 1582.5 794.6 1582.5 796.9 1585.2 796.9 1585.2 794.9 1588.0 794.9 1588.0 795.9 1590.8 795.9 1590.8 796.8 1593.5 796.8 1593.5 796.1 1596.2 796.1 1596.2 798.0 1599.0 798.0 1599.0 797.3 1601.8 797.3 1601.8 796.5 1604.5 796.5 1604.5 795.7 1607.2 795.7 1607.2 795.8 1610.0 795.8 1610.0 796.9 1612.8 796.9 1612.8 795.2 1615.5 795.2 1615.5 794.2 1618.2 794.2 1618.2 793.5 1621.0 793.5 1621.0 795.1 1623.8 795.1 1623.8 796.9 1626.5 796.9 1626.5 797.7 1629.2 797.7 1629.2 797.4 1632.0 797.4 1632.0 796.2 1634.8 796.2 1634.8 797.5 1637.5 797.5 1637.5 799.7 1640.2 799.7 1640.2 799.2 1643.0 799.2 1643.0 797.5 1645.8 797.5 1645.8 794.9 1648.5 794.9 1648.5 794.4 1651.2 794.4 1651.2 797.4 1654.0 797.4 1654.0 795.4 1656.8 795.4 1656.8 799.1 1659.5 799.1 1659.5 798.1 1662.2 798.1 1662.2 801.4 1665.0 801.4 1665.0 799.7 1667.8 799.7 1667.8 797.9 1670.5 797.9 1670.5 800.7 1673.2 800.7 1673.2 800.9 1676.0 800.9 1676.0 798.8 1678.8 798.8 1678.8 799.7 1681.5 799.7 1681.5 798.6 1684.2 798.6 1684.2 795.5 1687.0 795.5 1687.0 800.3 1689.8 800.3 1689.8 799.6 1692.5 799.6 1692.5 799.4 1695.2 799.4 1695.2 800.0 1698.0 800.0 1698.0 801.5 1700.8 801.5 1700.8 800.5 1703.5 800.5 1703.5 802.0 1706.2 802.0 1706.2 799.3 1709.0 799.3 1709.0 802.0 1711.8 802.0 1711.8 801.5 1714.5 801.5 1714.5 803.7 1717.2 803.7 1717.2 801.1 1720.0 801.1 1720.0 803.5 1722.8 803.5 1722.8 804.9 1725.5 804.9 1725.5 804.1 1728.2 804.1 1728.2 803.9 1731.0 803.9 1731.0 804.1 1733.8 804.1 1733.8 804.3 1736.5 804.3 1736.5 802.9 1739.2 802.9 1739.2 802.2 1742.0 802.2 1742.0 801.3 1744.8 801.3 1744.8 801.8 1747.5 801.8 1747.5 803.8 1750.2 803.8 1750.2 800.9 1753.0 800.9 1753.0 802.8 1755.8 802.8 1755.8 804.4 1758.5 804.4 1758.5 805.5 1761.2 805.5 1761.2 805.9 1764.0 805.9 1764.0 806.7 1766.8 806.7 1766.8 805.1 1769.5 805.1 1769.5 804.2 1772.2 804.2 1772.2 804.6 1775.0 804.6 1775.0 806.1 1777.8 806.1 1777.8 806.2 1780.5 806.2 1780.5 806.3 1783.2 806.3 1783.2 807.0 1786.0 807.0 1786.0 806.3 1788.8 806.3 1788.8 804.2 1791.5 804.2 1791.5 803.4 1794.2 803.4 1794.2 802.8 1797.0 802.8 1797.0 804.6 1799.8 804.6 1799.8 804.5 1802.5 804.5 1802.5 804.0 1805.2 804.0 1805.2 804.9 1808.0 804.9 1808.0 807.1 1810.8 807.1 1810.8 804.8 1813.5 804.8 1813.5 805.7 1816.2 805.7 1816.2 804.6 1819.0 804.6 1819.0 804.7 1821.8 804.7 1821.8 804.2 1824.5 804.2 1824.5 806.6 1827.2 806.6 1827.2 806.2 1830.0 806.2 1830.0 805.6 1832.8 805.6 1832.8 805.1 1835.5 805.1 1835.5 805.4 1838.2 805.4 1838.2 803.9 1841.0 803.9 1841.0 803.3 1843.8 803.3 1843.8 801.3 1846.5 801.3 1846.5 804.3 1849.2 804.3 1849.2 805.9 1852.0 805.9 1852.0 804.8 1854.8 804.8 1854.8 806.8 1857.5 806.8 1857.5 806.1 1860.2 806.1 1860.2 805.4 1863.0 805.4 1863.0 807.0 1865.8 807.0 1865.8 806.5 1868.5 806.5 1868.5 805.0 1871.2 805.0 1871.2 807.8 1874.0 807.8 1874.0 806.0 1876.8 806.0 1876.8 806.9 1879.5 806.9 1879.5 807.6 1882.2 807.6 1882.2 805.3 1885.0 805.3 1885.0 805.3 1887.8 805.3 1887.8 807.3 1890.5 807.3 1890.5 806.5 1893.2 806.5 1893.2 805.2 1896.0 805.2 1896.0 805.1 1898.8 805.1 1898.8 806.9 1901.5 806.9 1901.5 806.0 1904.2 806.0 1904.2 806.6 1907.0 806.6 1907.0 804.7 1909.8 804.7 1909.8 804.9 1912.5 804.9 1912.5 805.4 1915.2 805.4 1915.2 804.5 1918.0 804.5 1918.0 805.7 1920.8 805.7 1920.8 804.2 1923.5 804.2 1923.5 804.8 1926.2 804.8 1926.2 805.8 1929.0 805.8 1929.0 805.7 1931.8 805.7 1931.8 806.4 1934.5 806.4 1934.5 808.2 1937.2 808.2 1937.2 807.3 1940.0 807.3 1940.0 806.1 1942.8 806.1 1942.8 804.2 1945.5 804.2 1945.5 805.9 1948.2 805.9 1948.2 807.0 1951.0 807.0 1951.0 806.0 1953.8 806.0 1953.8 806.0 1956.5 806.0 1956.5 804.0 1959.2 804.0 1959.2 806.7 1962.0 806.7 1962.0 806.4 1964.8 806.4 1964.8 806.7 1967.5 806.7 1967.5 804.5 1970.2 804.5 1970.2 806.6 1973.0 806.6 1973.0 806.2 1975.8 806.2 1975.8 804.6 1978.5 804.6 1978.5 805.7 1981.2 805.7 1981.2 806.8 1984.0 806.8 1984.0 804.0 1986.8 804.0 1986.8 805.2 1989.5 805.2 1989.5 804.0 1992.2 804.0 1992.2 804.0 1995.0 804.0 1995.0 806.4 1997.8 806.4 1997.8 806.4 2000.5 806.4 2000.5 804.0 2003.2 804.0 2003.2 808.2 2006.0 808.2 2006.0 807.1 2008.8 807.1 2008.8 807.4 2011.5 807.4 2011.5 808.5 2014.2 808.5 2014.2 806.8 2017.0 806.8 2017.0 807.0 2019.8 807.0 2019.8 809.5 2022.5 809.5 2022.5 808.3 2025.2 808.3 2025.2 804.8 2028.0 804.8 2028.0 808.0 2030.8 808.0 2030.8 808.6 2033.5 808.6 2033.5 808.0 2036.2 808.0 2036.2 808.5 2039.0 808.5 2039.0 808.4 2041.8 808.4 2041.8 808.1 2044.5 808.1 2044.5 808.6 2047.2 808.6 2047.2 809.3 2050.0 809.3 2050.0 807.8 2052.8 807.8 2052.8 808.5 2055.5 808.5 2055.5 808.0 2058.2 808.0 2058.2 808.1 2061.0 808.1 2061.0 807.7 2063.8 807.7 2063.8 808.2 2066.5 808.2 2066.5 806.7 2069.2 806.7 2069.2 806.7 2072.0 806.7 2072.0 805.6 2074.8 805.6 2074.8 807.2 2077.5 807.2 2077.5 807.6 2080.2 807.6 2080.2 808.8 2083.0 808.8 2083.0 807.3 2085.8 807.3 2085.8 807.5 2088.5 807.5 2088.5 809.7 2091.2 809.7 2091.2 808.0 2094.0 808.0 2094.0 807.8 2096.8 807.8 2096.8 808.2 2099.5 808.2 2099.5 807.7 2102.2 807.7 2102.2 806.8 2105.0 806.8 2105.0 807.7 2107.8 807.7 2107.8 809.2 2110.5 809.2 2110.5 810.2 2113.2 810.2 2113.2 808.4 2116.0 808.4 2116.0 807.0 2118.8 807.0 2118.8 805.2 2121.5 805.2 2121.5 808.3 2124.2 808.3 2124.2 807.5 2127.0 807.5 2127.0 810.8 2129.8 810.8 2129.8 807.0 2132.5 807.0 2132.5 808.0 2135.2 808.0 2135.2 809.3 2138.0 809.3 2138.0 808.3 2140.8 808.3 2140.8 808.8 2143.5 808.8 2143.5 808.2 2146.2 808.2 2146.2 808.0 2149.0 808.0 2149.0 808.7 2151.8 808.7 2151.8 807.4 2154.5 807.4 2154.5 808.8 2157.2 808.8 2157.2 809.8 2160.0 809.8 2160.0 810.8 2162.8 810.8 2162.8 810.1 2165.5 810.1 2165.5 810.7 2168.2 810.7 2168.2 811.3 2171.0 811.3 2171.0 806.6 2173.8 806.6 2173.8 810.5 2176.5 810.5 2176.5 808.5 2179.2 808.5 2179.2 809.3 2182.0 809.3 2182.0 807.1 2184.8 807.1 2184.8 808.1 2187.5 808.1 2187.5 807.6 2190.2 807.6 2190.2 809.9 2193.0 809.9 2193.0 809.0 2195.8 809.0 2195.8 808.1 2198.5 808.1 2198.5 808.3 2201.2 808.3 2201.2 810.0 2204.0 810.0 2204.0 813.2 2205.1 813.2 2205.1 824.4 2204.0 824.4 2204.0 824.4 2201.2 824.4 2201.2 824.4 2198.5 824.4 2198.5 823.5 2195.8 823.5 2195.8 826.6 2193.0 826.6 2193.0 826.5 2190.2 826.5 2190.2 825.6 2187.5 825.6 2187.5 825.9 2184.8 825.9 2184.8 826.2 2182.0 826.2 2182.0 827.3 2179.2 827.3 2179.2 825.8 2176.5 825.8 2176.5 827.6 2173.8 827.6 2173.8 825.7 2171.0 825.7 2171.0 829.0 2168.2 829.0 2168.2 827.3 2165.5 827.3 2165.5 827.4 2162.8 827.4 2162.8 827.2 2160.0 827.2 2160.0 827.9 2157.2 827.9 2157.2 825.8 2154.5 825.8 2154.5 824.9 2151.8 824.9 2151.8 825.5 2149.0 825.5 2149.0 824.2 2146.2 824.2 2146.2 828.1 2143.5 828.1 2143.5 826.4 2140.8 826.4 2140.8 827.0 2138.0 827.0 2138.0 826.3 2135.2 826.3 2135.2 825.0 2132.5 825.0 2132.5 829.7 2129.8 829.7 2129.8 828.1 2127.0 828.1 2127.0 825.3 2124.2 825.3 2124.2 824.8 2121.5 824.8 2121.5 827.1 2118.8 827.1 2118.8 826.2 2116.0 826.2 2116.0 826.7 2113.2 826.7 2113.2 825.5 2110.5 825.5 2110.5 826.5 2107.8 826.5 2107.8 825.1 2105.0 825.1 2105.0 823.6 2102.2 823.6 2102.2 824.5 2099.5 824.5 2099.5 827.4 2096.8 827.4 2096.8 825.6 2094.0 825.6 2094.0 825.9 2091.2 825.9 2091.2 826.7 2088.5 826.7 2088.5 824.0 2085.8 824.0 2085.8 825.9 2083.0 825.9 2083.0 826.0 2080.2 826.0 2080.2 826.1 2077.5 826.1 2077.5 825.0 2074.8 825.0 2074.8 823.3 2072.0 823.3 2072.0 824.8 2069.2 824.8 2069.2 824.5 2066.5 824.5 2066.5 825.4 2063.8 825.4 2063.8 825.2 2061.0 825.2 2061.0 825.7 2058.2 825.7 2058.2 825.3 2055.5 825.3 2055.5 824.7 2052.8 824.7 2052.8 826.7 2050.0 826.7 2050.0 825.6 2047.2 825.6 2047.2 823.8 2044.5 823.8 2044.5 825.9 2041.8 825.9 2041.8 825.9 2039.0 825.9 2039.0 825.6 2036.2 825.6 2036.2 825.8 2033.5 825.8 2033.5 825.8 2030.8 825.8 2030.8 824.9 2028.0 824.9 2028.0 825.8 2025.2 825.8 2025.2 824.5 2022.5 824.5 2022.5 826.0 2019.8 826.0 2019.8 823.5 2017.0 823.5 2017.0 824.9 2014.2 824.9 2014.2 824.9 2011.5 824.9 2011.5 823.6 2008.8 823.6 2008.8 826.0 2006.0 826.0 2006.0 825.1 2003.2 825.1 2003.2 823.0 2000.5 823.0 2000.5 823.2 1997.8 823.2 1997.8 823.8 1995.0 823.8 1995.0 820.7 1992.2 820.7 1992.2 821.6 1989.5 821.6 1989.5 820.9 1986.8 820.9 1986.8 821.0 1984.0 821.0 1984.0 825.4 1981.2 825.4 1981.2 823.7 1978.5 823.7 1978.5 823.3 1975.8 823.3 1975.8 821.3 1973.0 821.3 1973.0 824.0 1970.2 824.0 1970.2 821.2 1967.5 821.2 1967.5 823.8 1964.8 823.8 1964.8 825.3 1962.0 825.3 1962.0 825.4 1959.2 825.4 1959.2 823.4 1956.5 823.4 1956.5 824.7 1953.8 824.7 1953.8 822.0 1951.0 822.0 1951.0 821.9 1948.2 821.9 1948.2 823.7 1945.5 823.7 1945.5 822.1 1942.8 822.1 1942.8 824.7 1940.0 824.7 1940.0 823.7 1937.2 823.7 1937.2 823.9 1934.5 823.9 1934.5 824.9 1931.8 824.9 1931.8 821.8 1929.0 821.8 1929.0 823.5 1926.2 823.5 1926.2 822.1 1923.5 822.1 1923.5 822.6 1920.8 822.6 1920.8 822.3 1918.0 822.3 1918.0 821.9 1915.2 821.9 1915.2 825.3 1912.5 825.3 1912.5 823.0 1909.8 823.0 1909.8 820.0 1907.0 820.0 1907.0 824.0 1904.2 824.0 1904.2 824.7 1901.5 824.7 1901.5 824.4 1898.8 824.4 1898.8 823.7 1896.0 823.7 1896.0 823.0 1893.2 823.0 1893.2 823.9 1890.5 823.9 1890.5 828.7 1887.8 828.7 1887.8 822.6 1885.0 822.6 1885.0 821.1 1882.2 821.1 1882.2 825.0 1879.5 825.0 1879.5 823.9 1876.8 823.9 1876.8 823.6 1874.0 823.6 1874.0 823.0 1871.2 823.0 1871.2 821.9 1868.5 821.9 1868.5 822.9 1865.8 822.9 1865.8 823.9 1863.0 823.9 1863.0 821.5 1860.2 821.5 1860.2 823.1 1857.5 823.1 1857.5 824.9 1854.8 824.9 1854.8 822.2 1852.0 822.2 1852.0 824.4 1849.2 824.4 1849.2 821.4 1846.5 821.4 1846.5 820.3 1843.8 820.3 1843.8 820.0 1841.0 820.0 1841.0 822.3 1838.2 822.3 1838.2 822.0 1835.5 822.0 1835.5 823.0 1832.8 823.0 1832.8 822.1 1830.0 822.1 1830.0 821.4 1827.2 821.4 1827.2 821.5 1824.5 821.5 1824.5 822.3 1821.8 822.3 1821.8 823.1 1819.0 823.1 1819.0 821.8 1816.2 821.8 1816.2 822.2 1813.5 822.2 1813.5 821.3 1810.8 821.3 1810.8 827.5 1808.0 827.5 1808.0 822.8 1805.2 822.8 1805.2 821.6 1802.5 821.6 1802.5 822.5 1799.8 822.5 1799.8 822.4 1797.0 822.4 1797.0 822.1 1794.2 822.1 1794.2 821.6 1791.5 821.6 1791.5 822.0 1788.8 822.0 1788.8 823.2 1786.0 823.2 1786.0 822.0 1783.2 822.0 1783.2 823.2 1780.5 823.2 1780.5 823.1 1777.8 823.1 1777.8 819.7 1775.0 819.7 1775.0 822.5 1772.2 822.5 1772.2 822.6 1769.5 822.6 1769.5 822.5 1766.8 822.5 1766.8 826.9 1764.0 826.9 1764.0 825.6 1761.2 825.6 1761.2 825.2 1758.5 825.2 1758.5 823.4 1755.8 823.4 1755.8 819.8 1753.0 819.8 1753.0 819.8 1750.2 819.8 1750.2 820.4 1747.5 820.4 1747.5 820.8 1744.8 820.8 1744.8 819.7 1742.0 819.7 1742.0 819.9 1739.2 819.9 1739.2 820.6 1736.5 820.6 1736.5 820.4 1733.8 820.4 1733.8 820.6 1731.0 820.6 1731.0 822.6 1728.2 822.6 1728.2 821.7 1725.5 821.7 1725.5 822.6 1722.8 822.6 1722.8 821.6 1720.0 821.6 1720.0 821.9 1717.2 821.9 1717.2 821.6 1714.5 821.6 1714.5 821.4 1711.8 821.4 1711.8 822.2 1709.0 822.2 1709.0 817.9 1706.2 817.9 1706.2 817.7 1703.5 817.7 1703.5 818.5 1700.8 818.5 1700.8 818.3 1698.0 818.3 1698.0 817.3 1695.2 817.3 1695.2 816.7 1692.5 816.7 1692.5 818.2 1689.8 818.2 1689.8 818.2 1687.0 818.2 1687.0 815.6 1684.2 815.6 1684.2 818.2 1681.5 818.2 1681.5 817.0 1678.8 817.0 1678.8 818.2 1676.0 818.2 1676.0 819.1 1673.2 819.1 1673.2 820.5 1670.5 820.5 1670.5 818.2 1667.8 818.2 1667.8 817.6 1665.0 817.6 1665.0 817.9 1662.2 817.9 1662.2 816.4 1659.5 816.4 1659.5 815.8 1656.8 815.8 1656.8 815.0 1654.0 815.0 1654.0 815.5 1651.2 815.5 1651.2 814.6 1648.5 814.6 1648.5 813.1 1645.8 813.1 1645.8 816.4 1643.0 816.4 1643.0 817.1 1640.2 817.1 1640.2 816.6 1637.5 816.6 1637.5 815.4 1634.8 815.4 1634.8 815.0 1632.0 815.0 1632.0 815.3 1629.2 815.3 1629.2 815.4 1626.5 815.4 1626.5 814.6 1623.8 814.6 1623.8 812.9 1621.0 812.9 1621.0 811.5 1618.2 811.5 1618.2 813.1 1615.5 813.1 1615.5 814.7 1612.8 814.7 1612.8 813.9 1610.0 813.9 1610.0 813.4 1607.2 813.4 1607.2 815.6 1604.5 815.6 1604.5 816.2 1601.8 816.2 1601.8 815.9 1599.0 815.9 1599.0 816.3 1596.2 816.3 1596.2 814.9 1593.5 814.9 1593.5 813.8 1590.8 813.8 1590.8 813.2 1588.0 813.2 1588.0 812.8 1585.2 812.8 1585.2 815.0 1582.5 815.0 1582.5 813.7 1579.8 813.7 1579.8 812.3 1577.0 812.3 1577.0 812.9 1574.2 812.9 1574.2 813.9 1571.5 813.9 1571.5 813.2 1568.8 813.2 1568.8 814.4 1566.0 814.4 1566.0 813.6 1563.2 813.6 1563.2 812.3 1560.5 812.3 1560.5 811.2 1557.8 811.2 1557.8 813.1 1555.0 813.1 1555.0 810.7 1552.2 810.7 1552.2 810.2 1549.5 810.2 1549.5 811.5 1546.8 811.5 1546.8 809.0 1544.0 809.0 1544.0 810.2 1541.2 810.2 1541.2 809.7 1538.5 809.7 1538.5 810.0 1535.8 810.0 1535.8 810.9 1533.0 810.9 1533.0 811.3 1530.2 811.3 1530.2 810.7 1527.5 810.7 1527.5 810.9 1524.8 810.9 1524.8 809.5 1522.0 809.5 1522.0 811.2 1519.2 811.2 1519.2 810.3 1516.5 810.3 1516.5 811.2 1513.8 811.2 1513.8 812.3 1511.0 812.3 1511.0 812.1 1508.2 812.1 1508.2 808.2 1505.5 808.2 1505.5 806.5 1502.8 806.5 1502.8 807.5 1500.0 807.5 1500.0 808.1 1497.2 808.1 1497.2 809.1 1494.5 809.1 1494.5 811.0 1491.8 811.0 1491.8 808.4 1489.0 808.4 1489.0 810.8 1486.2 810.8 1486.2 809.5 1483.5 809.5 1483.5 810.3 1480.8 810.3 1480.8 809.8 1478.0 809.8 1478.0 811.2 1475.2 811.2 1475.2 810.5 1472.5 810.5 1472.5 810.7 1469.8 810.7 1469.8 809.2 1467.0 809.2 1467.0 808.0 1464.2 808.0 1464.2 808.5 1461.5 808.5 1461.5 810.0 1458.8 810.0 1458.8 807.8 1456.0 807.8 1456.0 806.0 1453.2 806.0 1453.2 808.1 1450.5 808.1 1450.5 810.2 1447.8 810.2 1447.8 810.0 1445.0 810.0 1445.0 807.2 1442.2 807.2 1442.2 807.4 1439.5 807.4 1439.5 805.8 1436.8 805.8 1436.8 806.8 1434.0 806.8 1434.0 809.0 1431.2 809.0 1431.2 806.7 1428.5 806.7 1428.5 805.5 1425.8 805.5 1425.8 805.1 1423.0 805.1 1423.0 804.4 1420.2 804.4 1420.2 806.3 1417.5 806.3 1417.5 804.2 1414.8 804.2 1414.8 806.5 1412.0 806.5 1412.0 803.5 1409.2 803.5 1409.2 804.4 1406.5 804.4 1406.5 798.4 1403.8 798.4 1403.8 803.1 1401.0 803.1 1401.0 800.5 1398.2 800.5 1398.2 799.2 1395.5 799.2 1395.5 800.4 1392.8 800.4 1392.8 805.0 1390.0 805.0 1390.0 803.0 1387.2 803.0 1387.2 801.1 1384.5 801.1 1384.5 802.9 1381.8 802.9 1381.8 802.3 1379.0 802.3 1379.0 802.8 1376.2 802.8 1376.2 802.8 1373.5 802.8 1373.5 802.7 1370.8 802.7 1370.8 800.1 1368.0 800.1 1368.0 802.4 1365.2 802.4 1365.2 798.3 1362.5 798.3 1362.5 802.9 1359.8 802.9 1359.8 802.4 1357.0 802.4 1357.0 805.7 1354.2 805.7 1354.2 803.6 1351.5 803.6 1351.5 804.0 1348.8 804.0 1348.8 803.1 1346.0 803.1 1346.0 805.2 1343.2 805.2 1343.2 800.7 1340.5 800.7 1340.5 802.4 1337.8 802.4 1337.8 805.5 1335.0 805.5 1335.0 806.4 1332.2 806.4 1332.2 806.1 1329.5 806.1 1329.5 806.1 1326.8 806.1 1326.8 806.5 1324.0 806.5 1324.0 805.6 1321.2 805.6 1321.2 807.6 1318.5 807.6 1318.5 808.1 1315.8 808.1 1315.8 807.8 1313.0 807.8 1313.0 804.6 1310.2 804.6 1310.2 805.6 1307.5 805.6 1307.5 806.0 1304.8 806.0 1304.8 804.4 1302.0 804.4 1302.0 803.5 1299.2 803.5 1299.2 804.7 1296.5 804.7 1296.5 806.1 1293.8 806.1 1293.8 808.9 1291.0 808.9 1291.0 807.0 1288.2 807.0 1288.2 807.6 1285.5 807.6 1285.5 808.5 1282.8 808.5 1282.8 807.3 1280.0 807.3 1280.0 808.3 1277.2 808.3 1277.2 808.7 1274.5 808.7 1274.5 807.2 1271.8 807.2 1271.8 808.3 1269.0 808.3 1269.0 807.3 1266.2 807.3 1266.2 807.1 1263.5 807.1 1263.5 811.4 1260.8 811.4 1260.8 810.2 1258.0 810.2 1258.0 808.6 1255.2 808.6 1255.2 806.9 1252.5 806.9 1252.5 807.6 1249.8 807.6 1249.8 807.9 1247.0 807.9 1247.0 810.0 1244.2 810.0 1244.2 809.6 1241.5 809.6 1241.5 805.4 1238.8 805.4 1238.8 810.0 1236.0 810.0 1236.0 811.9 1233.2 811.9 1233.2 813.7 1230.5 813.7 1230.5 809.7 1227.8 809.7 1227.8 807.8 1225.0 807.8 1225.0 809.4 1222.2 809.4 1222.2 810.1 1219.5 810.1 1219.5 810.0 1216.8 810.0 1216.8 812.4 1214.0 812.4 1214.0 808.3 1211.2 808.3 1211.2 810.0 1208.5 810.0 1208.5 812.7 1205.8 812.7 1205.8 811.6 1203.0 811.6 1203.0 809.9 1200.2 809.9 1200.2 811.5 1197.5 811.5 1197.5 810.1 1194.8 810.1 1194.8 809.3 1192.0 809.3 1192.0 809.3 1189.2 809.3 1189.2 810.3 1186.5 810.3 1186.5 810.7 1183.8 810.7 1183.8 810.1 1181.0 810.1 1181.0 809.6 1178.2 809.6 1178.2 809.3 1175.5 809.3 1175.5 808.1 1172.8 808.1 1172.8 811.8 1170.0 811.8 1170.0 808.8 1167.2 808.8 1167.2 809.6 1164.5 809.6 1164.5 807.2 1161.8 807.2 1161.8 806.1 1159.0 806.1 1159.0 806.4 1156.2 806.4 1156.2 802.8 1153.5 802.8 1153.5 805.1 1150.8 805.1 1150.8 804.0 1148.0 804.0 1148.0 804.2 1145.2 804.2 1145.2 806.7 1142.5 806.7 1142.5 802.2 1139.8 802.2 1139.8 805.8 1137.0 805.8 1137.0 807.4 1134.2 807.4 1134.2 807.1 1131.5 807.1 1131.5 803.8 1128.8 803.8 1128.8 806.0 1126.0 806.0 1126.0 803.7 1123.2 803.7 1123.2 806.4 1120.5 806.4 1120.5 808.9 1117.8 808.9 1117.8 809.1 1115.0 809.1 1115.0 807.0 1112.2 807.0 1112.2 804.9 1109.5 804.9 1109.5 808.5 1106.8 808.5 1106.8 807.4 1104.0 807.4 1104.0 805.1 1101.2 805.1 1101.2 806.1 1098.5 806.1 1098.5 811.8 1095.8 811.8 1095.8 809.6 1093.0 809.6 1093.0 805.9 1090.2 805.9 1090.2 805.4 1087.5 805.4 1087.5 801.4 1084.8 801.4 1084.8 803.2 1082.0 803.2 1082.0 802.9 1079.2 802.9 1079.2 806.1 1076.5 806.1 1076.5 805.3 1073.8 805.3 1073.8 802.7 1071.0 802.7 1071.0 805.6 1068.2 805.6 1068.2 807.2 1065.5 807.2 1065.5 807.3 1062.8 807.3 1062.8 804.3 1060.0 804.3 1060.0 805.8 1057.2 805.8 1057.2 803.8 1054.5 803.8 1054.5 803.9 1051.8 803.9 1051.8 802.9 1049.0 802.9 1049.0 803.0 1046.2 803.0 1046.2 805.8 1043.5 805.8 1043.5 800.3 1040.8 800.3 1040.8 798.0 1038.0 798.0 1038.0 799.0 1035.2 799.0 1035.2 799.1 1032.5 799.1 1032.5 798.4 1029.8 798.4 1029.8 802.5 1027.0 802.5 1027.0 799.9 1024.2 799.9 1024.2 798.9 1021.5 798.9 1021.5 799.5 1018.8 799.5 1018.8 798.3 1016.0 798.3 1016.0 794.6 1013.2 794.6 1013.2 793.2 1010.5 793.2 1010.5 795.5 1007.8 795.5 1007.8 793.4 1005.0 793.4 1005.0 789.6 1002.2 789.6 1002.2 791.2 999.5 791.2 999.5 790.3 996.8 790.3 996.8 791.1 994.0 791.1 994.0 786.7 991.2 786.7 991.2 785.7 988.5 785.7 988.5 788.0 985.8 788.0 985.8 787.6 983.0 787.6 983.0 790.5 980.2 790.5 980.2 783.5 977.5 783.5 977.5 787.8 974.8 787.8 974.8 784.7 972.0 784.7 972.0 785.5 969.2 785.5 969.2 783.9 966.5 783.9 966.5 784.0 963.8 784.0 963.8 781.0 961.0 781.0 961.0 781.7 958.2 781.7 958.2 782.0 955.5 782.0 955.5 780.0 952.8 780.0 952.8 778.0 950.0 778.0 950.0 776.9 947.2 776.9 947.2 775.1 944.5 775.1 944.5 777.1 941.8 777.1 941.8 777.3 939.0 777.3 939.0 771.0 936.2 771.0 936.2 771.8 933.5 771.8 933.5 770.1 930.8 770.1 930.8 771.0 928.0 771.0 928.0 767.1 925.2 767.1 925.2 764.7 922.5 764.7 922.5 764.2 919.8 764.2 919.8 761.4 917.0 761.4 917.0 758.4 914.2 758.4 914.2 757.1 911.5 757.1 911.5 752.0 908.8 752.0 908.8 749.8 906.0 749.8 906.0 748.4 903.2 748.4 903.2 744.9 900.5 744.9 900.5 739.1 897.8 739.1 897.8 738.6 895.0 738.6 895.0 733.2 892.2 733.2 892.2 732.8 889.5 732.8 889.5 729.7 886.8 729.7 886.8 734.6 884.0 734.6 884.0 725.8 881.2 725.8 881.2 725.9 878.5 725.9 878.5 719.7 875.8 719.7 875.8 714.9 873.0 714.9 873.0 715.6 870.2 715.6 870.2 710.5 867.5 710.5 867.5 707.8 864.8 707.8 864.8 705.4 862.0 705.4 862.0 705.1 859.2 705.1 859.2 701.7 856.5 701.7 856.5 696.1 853.8 696.1 853.8 693.7 851.0 693.7 851.0 691.6 848.2 691.6 848.2 687.8 845.5 687.8 845.5 686.9 842.8 686.9 842.8 686.3 840.0 686.3 840.0 683.2 837.2 683.2 837.2 685.9 834.5 685.9 834.5 679.2 831.8 679.2 831.8 683.9 829.0 683.9 829.0 681.8 826.2 681.8 826.2 680.5 823.5 680.5 823.5 680.3 820.8 680.3 820.8 682.6 818.0 682.6 818.0 687.3 815.2 687.3 815.2 686.6 812.5 686.6 812.5 687.2 809.8 687.2 809.8 686.5 807.0 686.5 807.0 685.2 804.2 685.2 804.2 686.7 801.5 686.7 801.5 689.5 798.8 689.5 798.8 686.3 796.0 686.3 796.0 686.8 793.2 686.8 793.2 684.3 790.5 684.3 790.5 688.6 787.8 688.6 787.8 694.4 785.0 694.4 785.0 699.1 782.2 699.1 782.2 696.6 779.5 696.6 779.5 695.4 776.8 695.4 776.8 698.7 774.0 698.7 774.0 698.6 771.2 698.6 771.2 703.9 768.5 703.9 768.5 704.7 765.8 704.7 765.8 711.1 763.0 711.1 763.0 705.6 760.2 705.6 760.2 702.6 757.5 702.6 757.5 704.9 754.8 704.9 754.8 709.4 752.0 709.4 752.0 709.9 749.2 709.9 749.2 711.4 746.5 711.4 746.5 719.6 743.8 719.6 743.8 709.7 741.0 709.7 741.0 716.1 738.2 716.1 738.2 714.5 735.5 714.5 735.5 724.9 732.8 724.9 732.8 728.1 730.0 728.1 730.0 724.5 727.2 724.5 727.2 726.5 724.5 726.5 724.5 714.4 721.8 714.4 721.8 719.2 719.0 719.2 719.0 721.6 716.2 721.6 716.2 721.8 713.5 721.8 713.5 722.8 710.8 722.8 710.8 723.2 708.0 723.2 708.0 725.3 705.2 725.3 705.2 724.5 702.5 724.5 702.5 720.0 699.8 720.0 699.8 727.7 697.0 727.7 697.0 729.0 694.2 729.0 694.2 726.1 691.5 726.1 691.5 726.3 688.8 726.3 688.8 734.9 686.0 734.9 686.0 726.4 683.2 726.4 683.2 726.3 680.5 726.3 680.5 729.2 677.8 729.2 677.8 729.1 675.0 729.1 675.0 729.6 672.2 729.6 672.2 727.6 669.5 727.6 669.5 722.4 666.8 722.4 666.8 729.4 664.0 729.4 664.0 730.5 661.2 730.5 661.2 728.1 658.5 728.1 658.5 728.9 655.8 728.9 655.8 729.6 653.0 729.6 653.0 732.9 650.2 732.9 650.2 732.9 647.5 732.9 647.5 740.8 644.8 740.8 644.8 740.9 642.0 740.9 642.0 739.5 639.2 739.5 639.2 742.4 636.5 742.4 636.5 740.4 633.8 740.4 633.8 736.3 631.0 736.3 631.0 736.4 628.2 736.4 628.2 738.0 625.5 738.0 625.5 738.1 622.8 738.1 622.8 737.5 620.0 737.5 620.0 738.2 617.2 738.2 617.2 740.9 614.5 740.9 614.5 734.3 611.8 734.3 611.8 738.5 609.0 738.5 609.0 739.4 606.2 739.4 606.2 738.6 603.5 738.6 603.5 738.8 600.8 738.8 600.8 738.8 598.0 738.8 598.0 740.2 595.2 740.2 595.2 737.9 592.5 737.9 592.5 737.1 589.8 737.1 589.8 737.2 587.0 737.2 587.0 737.2 584.2 737.2 584.2 731.2 581.5 731.2 581.5 738.6 578.8 738.6 578.8 738.9 576.0 738.9 576.0 739.7 573.2 739.7 573.2 743.4 570.5 743.4 570.5 742.2 567.8 742.2 567.8 742.5 565.0 742.5 565.0 740.9 562.2 740.9 562.2 741.8 559.5 741.8 559.5 739.8 556.8 739.8 556.8 740.4 554.0 740.4 554.0 735.6 551.2 735.6 551.2 740.7 548.5 740.7 548.5 743.4 545.8 743.4 545.8 743.6 543.0 743.6 543.0 742.1 540.2 742.1 540.2 741.7 537.5 741.7 537.5 745.9 534.8 745.9 534.8 743.9 532.0 743.9 532.0 742.1 529.2 742.1 529.2 742.5 526.5 742.5 526.5 744.6 523.8 744.6 523.8 742.0 521.0 742.0 521.0 737.8 518.2 737.8 518.2 743.2 515.5 743.2 515.5 737.4 512.8 737.4 512.8 735.5 510.0 735.5 510.0 736.0 507.2 736.0 507.2 739.0 504.5 739.0 504.5 736.2 501.8 736.2 501.8 739.4 499.0 739.4 499.0 748.0 496.2 748.0 496.2 742.3 493.5 742.3 493.5 739.1 490.8 739.1 490.8 732.2 488.0 732.2 488.0 733.2 485.2 733.2 485.2 738.2 482.5 738.2 482.5 728.9 479.8 728.9 479.8 738.2 477.0 738.2 477.0 735.3 474.2 735.3 474.2 737.3 471.5 737.3 471.5 736.2 468.8 736.2 468.8 740.6 466.0 740.6 466.0 736.9 463.2 736.9 463.2 736.8 460.5 736.8 460.5 740.4 457.8 740.4 457.8 735.5 455.0 735.5 455.0 738.5 452.2 738.5 452.2 732.7 449.5 732.7 449.5 732.9 446.8 732.9 446.8 736.1 444.0 736.1 444.0 733.4 441.2 733.4 441.2 734.6 438.5 734.6 438.5 730.9 435.8 730.9 435.8 736.2 433.0 736.2 433.0 734.1 430.2 734.1 430.2 736.5 427.5 736.5 427.5 729.3 424.8 729.3 424.8 722.4 422.0 722.4 422.0 727.3 419.2 727.3 419.2 731.1 416.5 731.1 416.5 728.8 413.8 728.8 413.8 730.7 411.0 730.7 411.0 729.3 408.2 729.3 408.2 725.8 405.5 725.8 405.5 723.6 402.8 723.6 402.8 722.0 400.0 722.0 400.0 726.6 397.2 726.6 397.2 734.3 394.5 734.3 394.5 728.3 391.8 728.3 391.8 728.0 389.0 728.0 389.0 722.6 386.2 722.6 386.2 723.3 383.5 723.3 383.5 719.5 380.8 719.5 380.8 724.2 378.0 724.2 378.0 720.9 375.2 720.9 375.2 718.9 372.5 718.9 372.5 716.3 369.8 716.3 369.8 717.0 367.0 717.0 367.0 710.0 364.2 710.0 364.2 714.4 361.5 714.4 361.5 718.1 358.8 718.1 358.8 715.9 356.0 715.9 356.0 718.4 353.2 718.4 353.2 717.8 350.5 717.8 350.5 715.8 347.8 715.8 347.8 716.9 345.0 716.9 345.0 711.8 342.2 711.8 342.2 717.6 339.5 717.6 339.5 717.5 336.8 717.5 336.8 715.0 334.0 715.0 334.0 714.9 331.2 714.9 331.2 711.7 328.5 711.7 328.5 715.0 325.8 715.0 325.8 717.9 323.0 717.9 323.0 717.5 320.2 717.5 320.2 714.3 317.5 714.3 317.5 713.7 314.8 713.7 314.8 712.3 312.0 712.3 312.0 713.0 309.2 713.0 309.2 705.4 306.5 705.4 306.5 709.7 303.8 709.7 303.8 709.3 301.0 709.3 301.0 708.6 298.2 708.6 298.2 705.9 295.5 705.9 295.5 707.3 292.8 707.3 292.8 709.6 290.0 709.6 290.0 707.6 287.2 707.6 287.2 704.4 284.5 704.4 284.5 705.0 281.8 705.0 281.8 701.7 279.0 701.7 279.0 704.4 276.2 704.4 276.2 705.0 273.5 705.0 273.5 701.5 270.8 701.5 270.8 701.9 268.0 701.9 268.0 701.5 265.2 701.5 265.2 696.7 262.5 696.7 262.5 697.1 259.8 697.1 259.8 696.3 257.0 696.3 257.0 700.1 254.2 700.1 254.2 699.1 251.5 699.1 251.5 702.7 248.8 702.7 248.8 697.5 246.0 697.5 246.0 693.2 243.2 693.2 243.2 695.5 240.5 695.5 240.5 701.3 237.8 701.3 237.8 697.6 235.0 697.6 235.0 695.5 232.2 695.5 232.2 708.9 229.5 708.9 229.5 695.5 226.8 695.5 226.8 700.4 224.0 700.4 224.0 701.2 221.2 701.2 221.2 703.9 218.5 703.9Z"/>
<path fill="#ff0000" d="M218.5 669.3 221.2 669.3 221.2 674.8 224.0 674.8 224.0 671.4 226.8 671.4 226.8 668.7 229.5 668.7 229.5 673.6 232.2 673.6 232.2 670.5 235.0 670.5 235.0 669.5 237.8 669.5 237.8 674.2 240.5 674.2 240.5 667.1 243.2 667.1 243.2 664.3 246.0 664.3 246.0 670.9 248.8 670.9 248.8 673.8 251.5 673.8 251.5 670.9 254.2 670.9 254.2 667.7 257.0 667.7 257.0 666.7 259.8 666.7 259.8 669.5 262.5 669.5 262.5 671.5 265.2 671.5 265.2 673.8 268.0 673.8 268.0 675.6 270.8 675.6 270.8 676.9 273.5 676.9 273.5 677.9 276.2 677.9 276.2 672.2 279.0 672.2 279.0 674.2 281.8 674.2 281.8 676.6 284.5 676.6 284.5 675.5 287.2 675.5 287.2 680.2 290.0 680.2 290.0 675.2 292.8 675.2 292.8 677.0 295.5 677.0 295.5 673.7 298.2 673.7 298.2 681.9 301.0 681.9 301.0 679.8 303.8 679.8 303.8 684.4 306.5 684.4 306.5 676.7 309.2 676.7 309.2 680.7 312.0 680.7 312.0 684.9 314.8 684.9 314.8 685.8 317.5 685.8 317.5 688.3 320.2 688.3 320.2 689.3 323.0 689.3 323.0 692.0 325.8 692.0 325.8 682.5 328.5 682.5 328.5 682.5 331.2 682.5 331.2 683.9 334.0 683.9 334.0 685.1 336.8 685.1 336.8 688.8 339.5 688.8 339.5 688.5 342.2 688.5 342.2 681.7 345.0 681.7 345.0 687.0 347.8 687.0 347.8 690.3 350.5 690.3 350.5 692.0 353.2 692.0 353.2 692.2 356.0 692.2 356.0 692.9 358.8 692.9 358.8 691.0 361.5 691.0 361.5 683.5 364.2 683.5 364.2 688.1 367.0 688.1 367.0 688.6 369.8 688.6 369.8 688.8 372.5 688.8 372.5 693.0 375.2 693.0 375.2 687.9 378.0 687.9 378.0 696.6 380.8 696.6 380.8 695.4 383.5 695.4 383.5 696.6 386.2 696.6 386.2 694.9 389.0 694.9 389.0 699.5 391.8 699.5 391.8 699.5 394.5 699.5 394.5 702.6 397.2 702.6 397.2 704.2 400.0 704.2 400.0 694.1 402.8 694.1 402.8 693.8 405.5 693.8 405.5 701.7 408.2 701.7 408.2 702.3 411.0 702.3 411.0 704.2 413.8 704.2 413.8 702.3 416.5 702.3 416.5 702.3 419.2 702.3 419.2 698.1 422.0 698.1 422.0 697.4 424.8 697.4 424.8 702.6 427.5 702.6 427.5 707.9 430.2 707.9 430.2 706.1 433.0 706.1 433.0 705.0 435.8 705.0 435.8 706.8 438.5 706.8 438.5 708.8 441.2 708.8 441.2 707.2 444.0 707.2 444.0 704.8 446.8 704.8 446.8 704.9 449.5 704.9 449.5 699.3 452.2 699.3 452.2 712.2 455.0 712.2 455.0 709.2 457.8 709.2 457.8 711.2 460.5 711.2 460.5 710.4 463.2 710.4 463.2 711.1 466.0 711.1 466.0 713.4 468.8 713.4 468.8 710.4 471.5 710.4 471.5 708.8 474.2 708.8 474.2 712.1 477.0 712.1 477.0 707.6 479.8 707.6 479.8 700.6 482.5 700.6 482.5 709.5 485.2 709.5 485.2 704.6 488.0 704.6 488.0 706.4 490.8 706.4 490.8 714.1 493.5 714.1 493.5 719.4 496.2 719.4 496.2 714.0 499.0 714.0 499.0 712.7 501.8 712.7 501.8 711.2 504.5 711.2 504.5 707.4 507.2 707.4 507.2 709.5 510.0 709.5 510.0 711.1 512.8 711.1 512.8 712.9 515.5 712.9 515.5 719.2 518.2 719.2 518.2 711.3 521.0 711.3 521.0 717.2 523.8 717.2 523.8 718.1 526.5 718.1 526.5 716.0 529.2 716.0 529.2 715.9 532.0 715.9 532.0 718.5 534.8 718.5 534.8 719.7 537.5 719.7 537.5 713.7 540.2 713.7 540.2 714.4 543.0 714.4 543.0 718.1 545.8 718.1 545.8 717.1 548.5 717.1 548.5 715.0 551.2 715.0 551.2 711.7 554.0 711.7 554.0 711.6 556.8 711.6 556.8 712.9 559.5 712.9 559.5 712.3 562.2 712.3 562.2 715.3 565.0 715.3 565.0 714.8 567.8 714.8 567.8 715.4 570.5 715.4 570.5 715.7 573.2 715.7 573.2 712.8 576.0 712.8 576.0 708.0 578.8 708.0 578.8 710.5 581.5 710.5 581.5 707.3 584.2 707.3 584.2 711.4 587.0 711.4 587.0 710.3 589.8 710.3 589.8 713.2 592.5 713.2 592.5 711.3 595.2 711.3 595.2 711.8 598.0 711.8 598.0 711.2 600.8 711.2 600.8 712.1 603.5 712.1 603.5 711.1 606.2 711.1 606.2 708.3 609.0 708.3 609.0 708.1 611.8 708.1 611.8 707.8 614.5 707.8 614.5 712.1 617.2 712.1 617.2 711.2 620.0 711.2 620.0 708.2 622.8 708.2 622.8 709.7 625.5 709.7 625.5 713.3 628.2 713.3 628.2 709.5 631.0 709.5 631.0 708.4 633.8 708.4 633.8 715.6 636.5 715.6 636.5 716.8 639.2 716.8 639.2 712.8 642.0 712.8 642.0 713.6 644.8 713.6 644.8 714.3 647.5 714.3 647.5 707.2 650.2 707.2 650.2 706.0 653.0 706.0 653.0 698.4 655.8 698.4 655.8 702.2 658.5 702.2 658.5 700.7 661.2 700.7 661.2 704.4 664.0 704.4 664.0 702.8 666.8 702.8 666.8 691.7 669.5 691.7 669.5 696.7 672.2 696.7 672.2 700.8 675.0 700.8 675.0 700.4 677.8 700.4 677.8 700.5 680.5 700.5 680.5 696.3 683.2 696.3 683.2 698.7 686.0 698.7 686.0 701.7 688.8 701.7 688.8 700.3 691.5 700.3 691.5 699.7 694.2 699.7 694.2 703.6 697.0 703.6 697.0 699.3 699.8 699.3 699.8 694.7 702.5 694.7 702.5 692.5 705.2 692.5 705.2 698.7 708.0 698.7 708.0 695.5 710.8 695.5 710.8 695.5 713.5 695.5 713.5 694.1 716.2 694.1 716.2 693.3 719.0 693.3 719.0 693.2 721.8 693.2 721.8 689.7 724.5 689.7 724.5 697.4 727.2 697.4 727.2 693.5 730.0 693.5 730.0 695.5 732.8 695.5 732.8 693.5 735.5 693.5 735.5 686.1 738.2 686.1 738.2 686.0 741.0 686.0 741.0 683.7 743.8 683.7 743.8 688.1 746.5 688.1 746.5 685.2 749.2 685.2 749.2 681.5 752.0 681.5 752.0 680.1 754.8 680.1 754.8 676.4 757.5 676.4 757.5 677.3 760.2 677.3 760.2 679.6 763.0 679.6 763.0 679.5 765.8 679.5 765.8 677.9 768.5 677.9 768.5 673.1 771.2 673.1 771.2 672.3 774.0 672.3 774.0 667.1 776.8 667.1 776.8 667.7 779.5 667.7 779.5 668.6 782.2 668.6 782.2 671.8 785.0 671.8 785.0 664.7 787.8 664.7 787.8 658.0 790.5 658.0 790.5 655.0 793.2 655.0 793.2 656.5 796.0 656.5 796.0 656.4 798.8 656.4 798.8 658.2 801.5 658.2 801.5 657.6 804.2 657.6 804.2 657.5 807.0 657.5 807.0 659.9 809.8 659.9 809.8 659.8 812.5 659.8 812.5 658.7 815.2 658.7 815.2 656.7 818.0 656.7 818.0 657.1 820.8 657.1 820.8 652.9 823.5 652.9 823.5 645.7 826.2 645.7 826.2 651.1 829.0 651.1 829.0 655.0 831.8 655.0 831.8 649.7 834.5 649.7 834.5 654.1 837.2 654.1 837.2 653.0 840.0 653.0 840.0 658.1 842.8 658.1 842.8 655.0 845.5 655.0 845.5 658.7 848.2 658.7 848.2 661.7 851.0 661.7 851.0 666.3 853.8 666.3 853.8 663.1 856.5 663.1 856.5 676.5 859.2 676.5 859.2 676.9 862.0 676.9 862.0 677.0 864.8 677.0 864.8 678.7 867.5 678.7 867.5 680.2 870.2 680.2 870.2 684.0 873.0 684.0 873.0 686.2 875.8 686.2 875.8 691.0 878.5 691.0 878.5 689.0 881.2 689.0 881.2 699.3 884.0 699.3 884.0 700.8 886.8 700.8 886.8 700.8 889.5 700.8 889.5 705.1 892.2 705.1 892.2 706.3 895.0 706.3 895.0 709.4 897.8 709.4 897.8 710.6 900.5 710.6 900.5 713.7 903.2 713.7 903.2 719.9 906.0 719.9 906.0 718.9 908.8 718.9 908.8 721.4 911.5 721.4 911.5 731.8 914.2 731.8 914.2 730.3 917.0 730.3 917.0 733.4 919.8 733.4 919.8 734.4 922.5 734.4 922.5 739.6 925.2 739.6 925.2 742.5 928.0 742.5 928.0 744.4 930.8 744.4 930.8 743.3 933.5 743.3 933.5 748.2 936.2 748.2 936.2 748.6 939.0 748.6 939.0 753.5 941.8 753.5 941.8 756.2 944.5 756.2 944.5 752.8 947.2 752.8 947.2 755.8 950.0 755.8 950.0 757.4 952.8 757.4 952.8 757.0 955.5 757.0 955.5 757.9 958.2 757.9 958.2 759.9 961.0 759.9 961.0 760.5 963.8 760.5 963.8 763.4 966.5 763.4 966.5 763.0 969.2 763.0 969.2 762.8 972.0 762.8 972.0 761.8 974.8 761.8 974.8 765.2 977.5 765.2 977.5 763.9 980.2 763.9 980.2 766.1 983.0 766.1 983.0 766.7 985.8 766.7 985.8 763.7 988.5 763.7 988.5 765.6 991.2 765.6 991.2 767.7 994.0 767.7 994.0 768.4 996.8 768.4 996.8 769.7 999.5 769.7 999.5 769.4 1002.2 769.4 1002.2 769.5 1005.0 769.5 1005.0 774.8 1007.8 774.8 1007.8 775.1 1010.5 775.1 1010.5 770.6 1013.2 770.6 1013.2 775.0 1016.0 775.0 1016.0 775.2 1018.8 775.2 1018.8 781.6 1021.5 781.6 1021.5 779.3 1024.2 779.3 1024.2 781.9 1027.0 781.9 1027.0 779.1 1029.8 779.1 1029.8 780.5 1032.5 780.5 1032.5 781.6 1035.2 781.6 1035.2 780.5 1038.0 780.5 1038.0 781.3 1040.8 781.3 1040.8 780.7 1043.5 780.7 1043.5 785.3 1046.2 785.3 1046.2 785.3 1049.0 785.3 1049.0 785.0 1051.8 785.0 1051.8 787.5 1054.5 787.5 1054.5 788.6 1057.2 788.6 1057.2 787.4 1060.0 787.4 1060.0 786.1 1062.8 786.1 1062.8 789.1 1065.5 789.1 1065.5 789.3 1068.2 789.3 1068.2 787.6 1071.0 787.6 1071.0 783.9 1073.8 783.9 1073.8 788.0 1076.5 788.0 1076.5 788.9 1079.2 788.9 1079.2 786.6 1082.0 786.6 1082.0 786.3 1084.8 786.3 1084.8 784.9 1087.5 784.9 1087.5 787.7 1090.2 787.7 1090.2 788.3 1093.0 788.3 1093.0 790.1 1095.8 790.1 1095.8 791.2 1098.5 791.2 1098.5 788.1 1101.2 788.1 1101.2 788.7 1104.0 788.7 1104.0 787.3 1106.8 787.3 1106.8 790.8 1109.5 790.8 1109.5 788.2 1112.2 788.2 1112.2 790.3 1115.0 790.3 1115.0 791.1 1117.8 791.1 1117.8 791.0 1120.5 791.0 1120.5 788.6 1123.2 788.6 1123.2 787.0 1126.0 787.0 1126.0 788.2 1128.8 788.2 1128.8 785.4 1131.5 785.4 1131.5 789.8 1134.2 789.8 1134.2 789.5 1137.0 789.5 1137.0 789.4 1139.8 789.4 1139.8 786.4 1142.5 786.4 1142.5 789.1 1145.2 789.1 1145.2 785.5 1148.0 785.5 1148.0 786.4 1150.8 786.4 1150.8 787.6 1153.5 787.6 1153.5 786.2 1156.2 786.2 1156.2 788.4 1159.0 788.4 1159.0 789.3 1161.8 789.3 1161.8 788.7 1164.5 788.7 1164.5 792.1 1167.2 792.1 1167.2 793.1 1170.0 793.1 1170.0 793.1 1172.8 793.1 1172.8 791.0 1175.5 791.0 1175.5 790.6 1178.2 790.6 1178.2 792.8 1181.0 792.8 1181.0 794.6 1183.8 794.6 1183.8 794.0 1186.5 794.0 1186.5 794.4 1189.2 794.4 1189.2 793.9 1192.0 793.9 1192.0 791.8 1194.8 791.8 1194.8 794.8 1197.5 794.8 1197.5 794.7 1200.2 794.7 1200.2 794.1 1203.0 794.1 1203.0 792.6 1205.8 792.6 1205.8 793.9 1208.5 793.9 1208.5 792.3 1211.2 792.3 1211.2 792.7 1214.0 792.7 1214.0 794.2 1216.8 794.2 1216.8 794.1 1219.5 794.1 1219.5 792.8 1222.2 792.8 1222.2 791.7 1225.0 791.7 1225.0 792.8 1227.8 792.8 1227.8 792.7 1230.5 792.7 1230.5 794.1 1233.2 794.1 1233.2 796.2 1236.0 796.2 1236.0 791.9 1238.8 791.9 1238.8 791.6 1241.5 791.6 1241.5 794.1 1244.2 794.1 1244.2 792.0 1247.0 792.0 1247.0 793.5 1249.8 793.5 1249.8 790.0 1252.5 790.0 1252.5 790.8 1255.2 790.8 1255.2 790.4 1258.0 790.4 1258.0 794.5 1260.8 794.5 1260.8 794.1 1263.5 794.1 1263.5 792.2 1266.2 792.2 1266.2 790.8 1269.0 790.8 1269.0 791.6 1271.8 791.6 1271.8 791.3 1274.5 791.3 1274.5 791.8 1277.2 791.8 1277.2 791.3 1280.0 791.3 1280.0 790.9 1282.8 790.9 1282.8 791.3 1285.5 791.3 1285.5 790.4 1288.2 790.4 1288.2 790.0 1291.0 790.0 1291.0 790.5 1293.8 790.5 1293.8 789.5 1296.5 789.5 1296.5 787.3 1299.2 787.3 1299.2 787.8 1302.0 787.8 1302.0 786.6 1304.8 786.6 1304.8 788.0 1307.5 788.0 1307.5 789.7 1310.2 789.7 1310.2 787.0 1313.0 787.0 1313.0 788.8 1315.8 788.8 1315.8 791.5 1318.5 791.5 1318.5 788.8 1321.2 788.8 1321.2 788.4 1324.0 788.4 1324.0 790.0 1326.8 790.0 1326.8 787.6 1329.5 787.6 1329.5 789.4 1332.2 789.4 1332.2 787.8 1335.0 787.8 1335.0 787.3 1337.8 787.3 1337.8 785.6 1340.5 785.6 1340.5 784.8 1343.2 784.8 1343.2 787.8 1346.0 787.8 1346.0 786.1 1348.8 786.1 1348.8 786.2 1351.5 786.2 1351.5 786.4 1354.2 786.4 1354.2 785.9 1357.0 785.9 1357.0 786.2 1359.8 786.2 1359.8 784.0 1362.5 784.0 1362.5 781.2 1365.2 781.2 1365.2 782.0 1368.0 782.0 1368.0 782.3 1370.8 782.3 1370.8 783.6 1373.5 783.6 1373.5 785.4 1376.2 785.4 1376.2 787.2 1379.0 787.2 1379.0 784.2 1381.8 784.2 1381.8 785.0 1384.5 785.0 1384.5 783.8 1387.2 783.8 1387.2 784.7 1390.0 784.7 1390.0 784.6 1392.8 784.6 1392.8 784.9 1395.5 784.9 1395.5 783.1 1398.2 783.1 1398.2 782.8 1401.0 782.8 1401.0 784.7 1403.8 784.7 1403.8 780.8 1406.5 780.8 1406.5 783.8 1409.2 783.8 1409.2 785.6 1412.0 785.6 1412.0 787.4 1414.8 787.4 1414.8 786.5 1417.5 786.5 1417.5 788.8 1420.2 788.8 1420.2 788.8 1423.0 788.8 1423.0 788.7 1425.8 788.7 1425.8 787.7 1428.5 787.7 1428.5 790.5 1431.2 790.5 1431.2 791.3 1434.0 791.3 1434.0 790.4 1436.8 790.4 1436.8 788.3 1439.5 788.3 1439.5 789.1 1442.2 789.1 1442.2 791.0 1445.0 791.0 1445.0 794.8 1447.8 794.8 1447.8 792.2 1450.5 792.2 1450.5 789.4 1453.2 789.4 1453.2 787.0 1456.0 787.0 1456.0 790.2 1458.8 790.2 1458.8 794.0 1461.5 794.0 1461.5 793.7 1464.2 793.7 1464.2 791.5 1467.0 791.5 1467.0 792.2 1469.8 792.2 1469.8 792.3 1472.5 792.3 1472.5 794.7 1475.2 794.7 1475.2 794.0 1478.0 794.0 1478.0 794.6 1480.8 794.6 1480.8 794.9 1483.5 794.9 1483.5 792.6 1486.2 792.6 1486.2 792.3 1489.0 792.3 1489.0 792.5 1491.8 792.5 1491.8 794.0 1494.5 794.0 1494.5 790.7 1497.2 790.7 1497.2 792.2 1500.0 792.2 1500.0 790.9 1502.8 790.9 1502.8 789.2 1505.5 789.2 1505.5 791.5 1508.2 791.5 1508.2 793.9 1511.0 793.9 1511.0 793.1 1513.8 793.1 1513.8 792.7 1516.5 792.7 1516.5 794.4 1519.2 794.4 1519.2 792.9 1522.0 792.9 1522.0 791.9 1524.8 791.9 1524.8 793.2 1527.5 793.2 1527.5 794.4 1530.2 794.4 1530.2 795.2 1533.0 795.2 1533.0 796.5 1535.8 796.5 1535.8 794.0 1538.5 794.0 1538.5 793.1 1541.2 793.1 1541.2 790.7 1544.0 790.7 1544.0 795.4 1546.8 795.4 1546.8 794.6 1549.5 794.6 1549.5 794.2 1552.2 794.2 1552.2 791.4 1555.0 791.4 1555.0 794.6 1557.8 794.6 1557.8 795.7 1560.5 795.7 1560.5 795.1 1563.2 795.1 1563.2 797.7 1566.0 797.7 1566.0 797.4 1568.8 797.4 1568.8 797.4 1571.5 797.4 1571.5 796.6 1574.2 796.6 1574.2 795.9 1577.0 795.9 1577.0 795.7 1579.8 795.7 1579.8 796.6 1582.5 796.6 1582.5 798.9 1585.2 798.9 1585.2 796.9 1588.0 796.9 1588.0 797.9 1590.8 797.9 1590.8 798.8 1593.5 798.8 1593.5 798.1 1596.2 798.1 1596.2 800.0 1599.0 800.0 1599.0 799.3 1601.8 799.3 1601.8 798.5 1604.5 798.5 1604.5 797.7 1607.2 797.7 1607.2 797.8 1610.0 797.8 1610.0 798.9 1612.8 798.9 1612.8 797.2 1615.5 797.2 1615.5 796.2 1618.2 796.2 1618.2 795.5 1621.0 795.5 1621.0 797.1 1623.8 797.1 1623.8 798.9 1626.5 798.9 1626.5 799.7 1629.2 799.7 1629.2 799.4 1632.0 799.4 1632.0 798.2 1634.8 798.2 1634.8 799.5 1637.5 799.5 1637.5 801.7 1640.2 801.7 1640.2 801.2 1643.0 801.2 1643.0 799.5 1645.8 799.5 1645.8 796.9 1648.5 796.9 1648.5 796.4 1651.2 796.4 1651.2 799.4 1654.0 799.4 1654.0 797.4 1656.8 797.4 1656.8 801.1 1659.5 801.1 1659.5 800.1 1662.2 800.1 1662.2 803.4 1665.0 803.4 1665.0 801.7 1667.8 801.7 1667.8 799.9 1670.5 799.9 1670.5 802.7 1673.2 802.7 1673.2 802.9 1676.0 802.9 1676.0 800.8 1678.8 800.8 1678.8 801.7 1681.5 801.7 1681.5 800.6 1684.2 800.6 1684.2 797.5 1687.0 797.5 1687.0 802.3 1689.8 802.3 1689.8 801.6 1692.5 801.6 1692.5 801.4 1695.2 801.4 1695.2 802.0 1698.0 802.0 1698.0 803.5 1700.8 803.5 1700.8 802.5 1703.5 802.5 1703.5 804.0 1706.2 804.0 1706.2 801.3 1709.0 801.3 1709.0 804.0 1711.8 804.0 1711.8 803.5 1714.5 803.5 1714.5 805.7 1717.2 805.7 1717.2 803.1 1720.0 803.1 1720.0 805.5 1722.8 805.5 1722.8 806.9 1725.5 806.9 1725.5 806.1 1728.2 806.1 1728.2 805.9 1731.0 805.9 1731.0 806.1 1733.8 806.1 1733.8 806.3 1736.5 806.3 1736.5 804.9 1739.2 804.9 1739.2 804.2 1742.0 804.2 1742.0 803.3 1744.8 803.3 1744.8 803.8 1747.5 803.8 1747.5 805.8 1750.2 805.8 1750.2 802.9 1753.0 802.9 1753.0 804.8 1755.8 804.8 1755.8 806.4 1758.5 806.4 1758.5 807.5 1761.2 807.5 1761.2 807.9 1764.0 807.9 1764.0 808.7 1766.8 808.7 1766.8 807.1 1769.5 807.1 1769.5 806.2 1772.2 806.2 1772.2 806.6 1775.0 806.6 1775.0 808.1 1777.8 808.1 1777.8 808.2 1780.5 808.2 1780.5 808.3 1783.2 808.3 1783.2 809.0 1786.0 809.0 1786.0 808.3 1788.8 808.3 1788.8 806.2 1791.5 806.2 1791.5 805.4 1794.2 805.4 1794.2 804.8 1797.0 804.8 1797.0 806.6 1799.8 806.6 1799.8 806.5 1802.5 806.5 1802.5 806.0 1805.2 806.0 1805.2 806.9 1808.0 806.9 1808.0 809.1 1810.8 809.1 1810.8 806.8 1813.5 806.8 1813.5 807.7 1816.2 807.7 1816.2 806.6 1819.0 806.6 1819.0 806.7 1821.8 806.7 1821.8 806.2 1824.5 806.2 1824.5 808.6 1827.2 808.6 1827.2 808.2 1830.0 808.2 1830.0 807.6 1832.8 807.6 1832.8 807.1 1835.5 807.1 1835.5 807.4 1838.2 807.4 1838.2 805.9 1841.0 805.9 1841.0 805.3 1843.8 805.3 1843.8 803.3 1846.5 803.3 1846.5 806.3 1849.2 806.3 1849.2 807.9 1852.0 807.9 1852.0 806.8 1854.8 806.8 1854.8 808.8 1857.5 808.8 1857.5 808.1 1860.2 808.1 1860.2 807.4 1863.0 807.4 1863.0 809.0 1865.8 809.0 1865.8 808.5 1868.5 808.5 1868.5 807.0 1871.2 807.0 1871.2 809.8 1874.0 809.8 1874.0 808.0 1876.8 808.0 1876.8 808.9 1879.5 808.9 1879.5 809.6 1882.2 809.6 1882.2 807.3 1885.0 807.3 1885.0 807.3 1887.8 807.3 1887.8 809.3 1890.5 809.3 1890.5 808.5 1893.2 808.5 1893.2 807.2 1896.0 807.2 1896.0 807.1 1898.8 807.1 1898.8 808.9 1901.5 808.9 1901.5 808.0 1904.2 808.0 1904.2 808.6 1907.0 808.6 1907.0 806.7 1909.8 806.7 1909.8 806.9 1912.5 806.9 1912.5 807.4 1915.2 807.4 1915.2 806.5 1918.0 806.5 1918.0 807.7 1920.8 807.7 1920.8 806.2 1923.5 806.2 1923.5 806.8 1926.2 806.8 1926.2 807.8 1929.0 807.8 1929.0 807.7 1931.8 807.7 1931.8 808.4 1934.5 808.4 1934.5 810.2 1937.2 810.2 1937.2 809.3 1940.0 809.3 1940.0 808.1 1942.8 808.1 1942.8 806.2 1945.5 806.2 1945.5 807.9 1948.2 807.9 1948.2 809.0 1951.0 809.0 1951.0 808.0 1953.8 808.0 1953.8 808.0 1956.5 808.0 1956.5 806.0 1959.2 806.0 1959.2 808.7 1962.0 808.7 1962.0 808.4 1964.8 808.4 1964.8 808.7 1967.5 808.7 1967.5 806.5 1970.2 806.5 1970.2 808.6 1973.0 808.6 1973.0 808.2 1975.8 808.2 1975.8 806.6 1978.5 806.6 1978.5 807.7 1981.2 807.7 1981.2 808.8 1984.0 808.8 1984.0 806.0 1986.8 806.0 1986.8 807.2 1989.5 807.2 1989.5 806.0 1992.2 806.0 1992.2 806.0 1995.0 806.0 1995.0 808.4 1997.8 808.4 1997.8 808.4 2000.5 808.4 2000.5 806.0 2003.2 806.0 2003.2 810.2 2006.0 810.2 2006.0 809.1 2008.8 809.1 2008.8 809.4 2011.5 809.4 2011.5 810.5 2014.2 810.5 2014.2 808.8 2017.0 808.8 2017.0 809.0 2019.8 809.0 2019.8 811.5 2022.5 811.5 2022.5 810.3 2025.2 810.3 2025.2 806.8 2028.0 806.8 2028.0 810.0 2030.8 810.0 2030.8 810.6 2033.5 810.6 2033.5 810.0 2036.2 810.0 2036.2 810.5 2039.0 810.5 2039.0 810.4 2041.8 810.4 2041.8 810.1 2044.5 810.1 2044.5 810.6 2047.2 810.6 2047.2 811.3 2050.0 811.3 2050.0 809.8 2052.8 809.8 2052.8 810.5 2055.5 810.5 2055.5 810.0 2058.2 810.0 2058.2 810.1 2061.0 810.1 2061.0 809.7 2063.8 809.7 2063.8 810.2 2066.5 810.2 2066.5 808.7 2069.2 808.7 2069.2 808.7 2072.0 808.7 2072.0 807.6 2074.8 807.6 2074.8 809.2 2077.5 809.2 2077.5 809.6 2080.2 809.6 2080.2 810.8 2083.0 810.8 2083.0 809.3 2085.8 809.3 2085.8 809.5 2088.5 809.5 2088.5 811.7 2091.2 811.7 2091.2 810.0 2094.0 810.0 2094.0 809.8 2096.8 809.8 2096.8 810.2 2099.5 810.2 2099.5 809.7 2102.2 809.7 2102.2 808.8 2105.0 808.8 2105.0 809.7 2107.8 809.7 2107.8 811.2 2110.5 811.2 2110.5 812.2 2113.2 812.2 2113.2 810.4 2116.0 810.4 2116.0 809.0 2118.8 809.0 2118.8 807.2 2121.5 807.2 2121.5 810.3 2124.2 810.3 2124.2 809.5 2127.0 809.5 2127.0 812.8 2129.8 812.8 2129.8 809.0 2132.5 809.0 2132.5 810.0 2135.2 810.0 2135.2 811.3 2138.0 811.3 2138.0 810.3 2140.8 810.3 2140.8 810.8 2143.5 810.8 2143.5 810.2 2146.2 810.2 2146.2 810.0 2149.0 810.0 2149.0 810.7 2151.8 810.7 2151.8 809.4 2154.5 809.4 2154.5 810.8 2157.2 810.8 2157.2 811.8 2160.0 811.8 2160.0 812.8 2162.8 812.8 2162.8 812.1 2165.5 812.1 2165.5 812.7 2168.2 812.7 2168.2 813.3 2171.0 813.3 2171.0 808.6 2173.8 808.6 2173.8 812.5 2176.5 812.5 2176.5 810.5 2179.2 810.5 2179.2 811.3 2182.0 811.3 2182.0 809.1 2184.8 809.1 2184.8 810.1 2187.5 810.1 2187.5 809.6 2190.2 809.6 2190.2 811.9 2193.0 811.9 2193.0 811.0 2195.8 811.0 2195.8 810.1 2198.5 810.1 2198.5 810.3 2201.2 810.3 2201.2 812.0 2204.0 812.0 2204.0 815.2 2205.1 815.2 2205.1 822.4 2204.0 822.4 2204.0 822.4 2201.2 822.4 2201.2 822.4 2198.5 822.4 2198.5 821.5 2195.8 821.5 2195.8 824.6 2193.0 824.6 2193.0 824.5 2190.2 824.5 2190.2 823.6 2187.5 823.6 2187.5 823.9 2184.8 823.9 2184.8 824.2 2182.0 824.2 2182.0 825.3 2179.2 825.3 2179.2 823.8 2176.5 823.8 2176.5 825.6 2173.8 825.6 2173.8 823.7 2171.0 823.7 2171.0 827.0 2168.2 827.0 2168.2 825.3 2165.5 825.3 2165.5 825.4 2162.8 825.4 2162.8 825.2 2160.0 825.2 2160.0 825.9 2157.2 825.9 2157.2 823.8 2154.5 823.8 2154.5 822.9 2151.8 822.9 2151.8 823.5 2149.0 823.5 2149.0 822.2 2146.2 822.2 2146.2 826.1 2143.5 826.1 2143.5 824.4 2140.8 824.4 2140.8 825.0 2138.0 825.0 2138.0 824.3 2135.2 824.3 2135.2 823.0 2132.5 823.0 2132.5 827.7 2129.8 827.7 2129.8 826.1 2127.0 826.1 2127.0 823.3 2124.2 823.3 2124.2 822.8 2121.5 822.8 2121.5 825.1 2118.8 825.1 2118.8 824.2 2116.0 824.2 2116.0 824.7 2113.2 824.7 2113.2 823.5 2110.5 823.5 2110.5 824.5 2107.8 824.5 2107.8 823.1 2105.0 823.1 2105.0 821.6 2102.2 821.6 2102.2 822.5 2099.5 822.5 2099.5 825.4 2096.8 825.4 2096.8 823.6 2094.0 823.6 2094.0 823.9 2091.2 823.9 2091.2 824.7 2088.5 824.7 2088.5 822.0 2085.8 822.0 2085.8 823.9 2083.0 823.9 2083.0 824.0 2080.2 824.0 2080.2 824.1 2077.5 824.1 2077.5 823.0 2074.8 823.0 2074.8 821.3 2072.0 821.3 2072.0 822.8 2069.2 822.8 2069.2 822.5 2066.5 822.5 2066.5 823.4 2063.8 823.4 2063.8 823.2 2061.0 823.2 2061.0 823.7 2058.2 823.7 2058.2 823.3 2055.5 823.3 2055.5 822.7 2052.8 822.7 2052.8 824.7 2050.0 824.7 2050.0 823.6 2047.2 823.6 2047.2 821.8 2044.5 821.8 2044.5 823.9 2041.8 823.9 2041.8 823.9 2039.0 823.9 2039.0 823.6 2036.2 823.6 2036.2 823.8 2033.5 823.8 2033.5 823.8 2030.8 823.8 2030.8 822.9 2028.0 822.9 2028.0 823.8 2025.2 823.8 2025.2 822.5 2022.5 822.5 2022.5 824.0 2019.8 824.0 2019.8 821.5 2017.0 821.5 2017.0 822.9 2014.2 822.9 2014.2 822.9 2011.5 822.9 2011.5 821.6 2008.8 821.6 2008.8 824.0 2006.0 824.0 2006.0 823.1 2003.2 823.1 2003.2 821.0 2000.5 821.0 2000.5 821.2 1997.8 821.2 1997.8 821.8 1995.0 821.8 1995.0 818.7 1992.2 818.7 1992.2 819.6 1989.5 819.6 1989.5 818.9 1986.8 818.9 1986.8 819.0 1984.0 819.0 1984.0 823.4 1981.2 823.4 1981.2 821.7 1978.5 821.7 1978.5 821.3 1975.8 821.3 1975.8 819.3 1973.0 819.3 1973.0 822.0 1970.2 822.0 1970.2 819.2 1967.5 819.2 1967.5 821.8 1964.8 821.8 1964.8 823.3 1962.0 823.3 1962.0 823.4 1959.2 823.4 1959.2 821.4 1956.5 821.4 1956.5 822.7 1953.8 822.7 1953.8 820.0 1951.0 820.0 1951.0 819.9 1948.2 819.9 1948.2 821.7 1945.5 821.7 1945.5 820.1 1942.8 820.1 1942.8 822.7 1940.0 822.7 1940.0 821.7 1937.2 821.7 1937.2 821.9 1934.5 821.9 1934.5 822.9 1931.8 822.9 1931.8 819.8 1929.0 819.8 1929.0 821.5 1926.2 821.5 1926.2 820.1 1923.5 820.1 1923.5 820.6 1920.8 820.6 1920.8 820.3 1918.0 820.3 1918.0 819.9 1915.2 819.9 1915.2 823.3 1912.5 823.3 1912.5 821.0 1909.8 821.0 1909.8 818.0 1907.0 818.0 1907.0 822.0 1904.2 822.0 1904.2 822.7 1901.5 822.7 1901.5 822.4 1898.8 822.4 1898.8 821.7 1896.0 821.7 1896.0 821.0 1893.2 821.0 1893.2 821.9 1890.5 821.9 1890.5 826.7 1887.8 826.7 1887.8 820.6 1885.0 820.6 1885.0 819.1 1882.2 819.1 1882.2 823.0 1879.5 823.0 1879.5 821.9 1876.8 821.9 1876.8 821.6 1874.0 821.6 1874.0 821.0 1871.2 821.0 1871.2 819.9 1868.5 819.9 1868.5 820.9 1865.8 820.9 1865.8 821.9 1863.0 821.9 1863.0 819.5 1860.2 819.5 1860.2 821.1 1857.5 821.1 1857.5 822.9 1854.8 822.9 1854.8 820.2 1852.0 820.2 1852.0 822.4 1849.2 822.4 1849.2 819.4 1846.5 819.4 1846.5 818.3 1843.8 818.3 1843.8 818.0 1841.0 818.0 1841.0 820.3 1838.2 820.3 1838.2 820.0 1835.5 820.0 1835.5 821.0 1832.8 821.0 1832.8 820.1 1830.0 820.1 1830.0 819.4 1827.2 819.4 1827.2 819.5 1824.5 819.5 1824.5 820.3 1821.8 820.3 1821.8 821.1 1819.0 821.1 1819.0 819.8 1816.2 819.8 1816.2 820.2 1813.5 820.2 1813.5 819.3 1810.8 819.3 1810.8 825.5 1808.0 825.5 1808.0 820.8 1805.2 820.8 1805.2 819.6 1802.5 819.6 1802.5 820.5 1799.8 820.5 1799.8 820.4 1797.0 820.4 1797.0 820.1 1794.2 820.1 1794.2 819.6 1791.5 819.6 1791.5 820.0 1788.8 820.0 1788.8 821.2 1786.0 821.2 1786.0 820.0 1783.2 820.0 1783.2 821.2 1780.5 821.2 1780.5 821.1 1777.8 821.1 1777.8 817.7 1775.0 817.7 1775.0 820.5 1772.2 820.5 1772.2 820.6 1769.5 820.6 1769.5 820.5 1766.8 820.5 1766.8 824.9 1764.0 824.9 1764.0 823.6 1761.2 823.6 1761.2 823.2 1758.5 823.2 1758.5 821.4 1755.8 821.4 1755.8 817.8 1753.0 817.8 1753.0 817.8 1750.2 817.8 1750.2 818.4 1747.5 818.4 1747.5 818.8 1744.8 818.8 1744.8 817.7 1742.0 817.7 1742.0 817.9 1739.2 817.9 1739.2 818.6 1736.5 818.6 1736.5 818.4 1733.8 818.4 1733.8 818.6 1731.0 818.6 1731.0 820.6 1728.2 820.6 1728.2 819.7 1725.5 819.7 1725.5 820.6 1722.8 820.6 1722.8 819.6 1720.0 819.6 1720.0 819.9 1717.2 819.9 1717.2 819.6 1714.5 819.6 1714.5 819.4 1711.8 819.4 1711.8 820.2 1709.0 820.2 1709.0 815.9 1706.2 815.9 1706.2 815.7 1703.5 815.7 1703.5 816.5 1700.8 816.5 1700.8 816.3 1698.0 816.3 1698.0 815.3 1695.2 815.3 1695.2 814.7 1692.5 814.7 1692.5 816.2 1689.8 816.2 1689.8 816.2 1687.0 816.2 1687.0 813.6 1684.2 813.6 1684.2 816.2 1681.5 816.2 1681.5 815.0 1678.8 815.0 1678.8 816.2 1676.0 816.2 1676.0 817.1 1673.2 817.1 1673.2 818.5 1670.5 818.5 1670.5 816.2 1667.8 816.2 1667.8 815.6 1665.0 815.6 1665.0 815.9 1662.2 815.9 1662.2 814.4 1659.5 814.4 1659.5 813.8 1656.8 813.8 1656.8 813.0 1654.0 813.0 1654.0 813.5 1651.2 813.5 1651.2 812.6 1648.5 812.6 1648.5 811.1 1645.8 811.1 1645.8 814.4 1643.0 814.4 1643.0 815.1 1640.2 815.1 1640.2 814.6 1637.5 814.6 1637.5 813.4 1634.8 813.4 1634.8 813.0 1632.0 813.0 1632.0 813.3 1629.2 813.3 1629.2 813.4 1626.5 813.4 1626.5 812.6 1623.8 812.6 1623.8 810.9 1621.0 810.9 1621.0 809.5 1618.2 809.5 1618.2 811.1 1615.5 811.1 1615.5 812.7 1612.8 812.7 1612.8 811.9 1610.0 811.9 1610.0 811.4 1607.2 811.4 1607.2 813.6 1604.5 813.6 1604.5 814.2 1601.8 814.2 1601.8 813.9 1599.0 813.9 1599.0 814.3 1596.2 814.3 1596.2 812.9 1593.5 812.9 1593.5 811.8 1590.8 811.8 1590.8 811.2 1588.0 811.2 1588.0 810.8 1585.2 810.8 1585.2 813.0 1582.5 813.0 1582.5 811.7 1579.8 811.7 1579.8 810.3 1577.0 810.3 1577.0 810.9 1574.2 810.9 1574.2 811.9 1571.5 811.9 1571.5 811.2 1568.8 811.2 1568.8 812.4 1566.0 812.4 1566.0 811.6 1563.2 811.6 1563.2 810.3 1560.5 810.3 1560.5 809.2 1557.8 809.2 1557.8 811.1 1555.0 811.1 1555.0 808.7 1552.2 808.7 1552.2 808.2 1549.5 808.2 1549.5 809.5 1546.8 809.5 1546.8 807.0 1544.0 807.0 1544.0 808.2 1541.2 808.2 1541.2 807.7 1538.5 807.7 1538.5 808.0 1535.8 808.0 1535.8 808.9 1533.0 808.9 1533.0 809.3 1530.2 809.3 1530.2 808.7 1527.5 808.7 1527.5 808.9 1524.8 808.9 1524.8 807.5 1522.0 807.5 1522.0 809.2 1519.2 809.2 1519.2 808.3 1516.5 808.3 1516.5 809.2 1513.8 809.2 1513.8 810.3 1511.0 810.3 1511.0 810.1 1508.2 810.1 1508.2 806.2 1505.5 806.2 1505.5 804.5 1502.8 804.5 1502.8 805.5 1500.0 805.5 1500.0 806.1 1497.2 806.1 1497.2 807.1 1494.5 807.1 1494.5 809.0 1491.8 809.0 1491.8 806.4 1489.0 806.4 1489.0 808.8 1486.2 808.8 1486.2 807.5 1483.5 807.5 1483.5 808.3 1480.8 808.3 1480.8 807.8 1478.0 807.8 1478.0 809.2 1475.2 809.2 1475.2 808.5 1472.5 808.5 1472.5 808.7 1469.8 808.7 1469.8 807.2 1467.0 807.2 1467.0 806.0 1464.2 806.0 1464.2 806.5 1461.5 806.5 1461.5 808.0 1458.8 808.0 1458.8 805.8 1456.0 805.8 1456.0 804.0 1453.2 804.0 1453.2 806.1 1450.5 806.1 1450.5 808.2 1447.8 808.2 1447.8 808.0 1445.0 808.0 1445.0 805.2 1442.2 805.2 1442.2 805.4 1439.5 805.4 1439.5 803.8 1436.8 803.8 1436.8 804.8 1434.0 804.8 1434.0 807.0 1431.2 807.0 1431.2 804.7 1428.5 804.7 1428.5 803.5 1425.8 803.5 1425.8 803.1 1423.0 803.1 1423.0 802.4 1420.2 802.4 1420.2 804.3 1417.5 804.3 1417.5 802.2 1414.8 802.2 1414.8 804.5 1412.0 804.5 1412.0 801.5 1409.2 801.5 1409.2 802.4 1406.5 802.4 1406.5 796.4 1403.8 796.4 1403.8 801.1 1401.0 801.1 1401.0 798.5 1398.2 798.5 1398.2 797.2 1395.5 797.2 1395.5 798.4 1392.8 798.4 1392.8 803.0 1390.0 803.0 1390.0 801.0 1387.2 801.0 1387.2 799.1 1384.5 799.1 1384.5 800.9 1381.8 800.9 1381.8 800.3 1379.0 800.3 1379.0 800.8 1376.2 800.8 1376.2 800.8 1373.5 800.8 1373.5 800.7 1370.8 800.7 1370.8 798.1 1368.0 798.1 1368.0 800.4 1365.2 800.4 1365.2 796.3 1362.5 796.3 1362.5 800.9 1359.8 800.9 1359.8 800.4 1357.0 800.4 1357.0 803.7 1354.2 803.7 1354.2 801.6 1351.5 801.6 1351.5 802.0 1348.8 802.0 1348.8 801.1 1346.0 801.1 1346.0 803.2 1343.2 803.2 1343.2 798.7 1340.5 798.7 1340.5 800.4 1337.8 800.4 1337.8 803.5 1335.0 803.5 1335.0 804.4 1332.2 804.4 1332.2 804.1 1329.5 804.1 1329.5 804.1 1326.8 804.1 1326.8 804.5 1324.0 804.5 1324.0 803.6 1321.2 803.6 1321.2 805.6 1318.5 805.6 1318.5 806.1 1315.8 806.1 1315.8 805.8 1313.0 805.8 1313.0 802.6 1310.2 802.6 1310.2 803.6 1307.5 803.6 1307.5 804.0 1304.8 804.0 1304.8 802.4 1302.0 802.4 1302.0 801.5 1299.2 801.5 1299.2 802.7 1296.5 802.7 1296.5 804.1 1293.8 804.1 1293.8 806.9 1291.0 806.9 1291.0 805.0 1288.2 805.0 1288.2 805.6 1285.5 805.6 1285.5 806.5 1282.8 806.5 1282.8 805.3 1280.0 805.3 1280.0 806.3 1277.2 806.3 1277.2 806.7 1274.5 806.7 1274.5 805.2 1271.8 805.2 1271.8 806.3 1269.0 806.3 1269.0 805.3 1266.2 805.3 1266.2 805.1 1263.5 805.1 1263.5 809.4 1260.8 809.4 1260.8 808.2 1258.0 808.2 1258.0 806.6 1255.2 806.6 1255.2 804.9 1252.5 804.9 1252.5 805.6 1249.8 805.6 1249.8 805.9 1247.0 805.9 1247.0 808.0 1244.2 808.0 1244.2 807.6 1241.5 807.6 1241.5 803.4 1238.8 803.4 1238.8 808.0 1236.0 808.0 1236.0 809.9 1233.2 809.9 1233.2 811.7 1230.5 811.7 1230.5 807.7 1227.8 807.7 1227.8 805.8 1225.0 805.8 1225.0 807.4 1222.2 807.4 1222.2 808.1 1219.5 808.1 1219.5 808.0 1216.8 808.0 1216.8 810.4 1214.0 810.4 1214.0 806.3 1211.2 806.3 1211.2 808.0 1208.5 808.0 1208.5 810.7 1205.8 810.7 1205.8 809.6 1203.0 809.6 1203.0 807.9 1200.2 807.9 1200.2 809.5 1197.5 809.5 1197.5 808.1 1194.8 808.1 1194.8 807.3 1192.0 807.3 1192.0 807.3 1189.2 807.3 1189.2 808.3 1186.5 808.3 1186.5 808.7 1183.8 808.7 1183.8 808.1 1181.0 808.1 1181.0 807.6 1178.2 807.6 1178.2 807.3 1175.5 807.3 1175.5 806.1 1172.8 806.1 1172.8 809.8 1170.0 809.8 1170.0 806.8 1167.2 806.8 1167.2 807.6 1164.5 807.6 1164.5 805.2 1161.8 805.2 1161.8 804.1 1159.0 804.1 1159.0 804.4 1156.2 804.4 1156.2 800.8 1153.5 800.8 1153.5 803.1 1150.8 803.1 1150.8 802.0 1148.0 802.0 1148.0 802.2 1145.2 802.2 1145.2 804.7 1142.5 804.7 1142.5 800.2 1139.8 800.2 1139.8 803.8 1137.0 803.8 1137.0 805.4 1134.2 805.4 1134.2 805.1 1131.5 805.1 1131.5 801.8 1128.8 801.8 1128.8 804.0 1126.0 804.0 1126.0 801.7 1123.2 801.7 1123.2 804.4 1120.5 804.4 1120.5 806.9 1117.8 806.9 1117.8 807.1 1115.0 807.1 1115.0 805.0 1112.2 805.0 1112.2 802.9 1109.5 802.9 1109.5 806.5 1106.8 806.5 1106.8 805.4 1104.0 805.4 1104.0 803.1 1101.2 803.1 1101.2 804.1 1098.5 804.1 1098.5 809.8 1095.8 809.8 1095.8 807.6 1093.0 807.6 1093.0 803.9 1090.2 803.9 1090.2 803.4 1087.5 803.4 1087.5 799.4 1084.8 799.4 1084.8 801.2 1082.0 801.2 1082.0 800.9 1079.2 800.9 1079.2 804.1 1076.5 804.1 1076.5 803.3 1073.8 803.3 1073.8 800.7 1071.0 800.7 1071.0 803.6 1068.2 803.6 1068.2 805.2 1065.5 805.2 1065.5 805.3 1062.8 805.3 1062.8 802.3 1060.0 802.3 1060.0 803.8 1057.2 803.8 1057.2 801.8 1054.5 801.8 1054.5 801.9 1051.8 801.9 1051.8 800.9 1049.0 800.9 1049.0 801.0 1046.2 801.0 1046.2 803.8 1043.5 803.8 1043.5 798.3 1040.8 798.3 1040.8 796.0 1038.0 796.0 1038.0 797.0 1035.2 797.0 1035.2 797.1 1032.5 797.1 1032.5 796.4 1029.8 796.4 1029.8 800.5 1027.0 800.5 1027.0 797.9 1024.2 797.9 1024.2 796.9 1021.5 796.9 1021.5 797.5 1018.8 797.5 1018.8 796.3 1016.0 796.3 1016.0 792.6 1013.2 792.6 1013.2 791.2 1010.5 791.2 1010.5 793.5 1007.8 793.5 1007.8 791.4 1005.0 791.4 1005.0 787.6 1002.2 787.6 1002.2 789.2 999.5 789.2 999.5 788.3 996.8 788.3 996.8 789.1 994.0 789.1 994.0 784.7 991.2 784.7 991.2 783.7 988.5 783.7 988.5 786.0 985.8 786.0 985.8 785.6 983.0 785.6 983.0 788.5 980.2 788.5 980.2 781.5 977.5 781.5 977.5 785.8 974.8 785.8 974.8 782.7 972.0 782.7 972.0 783.5 969.2 783.5 969.2 781.9 966.5 781.9 966.5 782.0 963.8 782.0 963.8 779.0 961.0 779.0 961.0 779.7 958.2 779.7 958.2 780.0 955.5 780.0 955.5 778.0 952.8 778.0 952.8 776.0 950.0 776.0 950.0 774.9 947.2 774.9 947.2 773.1 944.5 773.1 944.5 775.1 941.8 775.1 941.8 775.3 939.0 775.3 939.0 769.0 936.2 769.0 936.2 769.8 933.5 769.8 933.5 768.1 930.8 768.1 930.8 769.0 928.0 769.0 928.0 765.1 925.2 765.1 925.2 762.7 922.5 762.7 922.5 762.2 919.8 762.2 919.8 759.4 917.0 759.4 917.0 756.4 914.2 756.4 914.2 755.1 911.5 755.1 911.5 750.0 908.8 750.0 908.8 747.8 906.0 747.8 906.0 746.4 903.2 746.4 903.2 742.9 900.5 742.9 900.5 737.1 897.8 737.1 897.8 736.6 895.0 736.6 895.0 731.2 892.2 731.2 892.2 730.8 889.5 730.8 889.5 727.7 886.8 727.7 886.8 732.6 884.0 732.6 884.0 723.8 881.2 723.8 881.2 723.9 878.5 723.9 878.5 717.7 875.8 717.7 875.8 712.9 873.0 712.9 873.0 713.6 870.2 713.6 870.2 708.5 867.5 708.5 867.5 705.8 864.8 705.8 864.8 703.4 862.0 703.4 862.0 703.1 859.2 703.1 859.2 699.7 856.5 699.7 856.5 694.1 853.8 694.1 853.8 691.7 851.0 691.7 851.0 689.6 848.2 689.6 848.2 685.8 845.5 685.8 845.5 684.9 842.8 684.9 842.8 684.3 840.0 684.3 840.0 681.2 837.2 681.2 837.2 683.9 834.5 683.9 834.5 677.2 831.8 677.2 831.8 681.9 829.0 681.9 829.0 679.8 826.2 679.8 826.2 678.5 823.5 678.5 823.5 678.3 820.8 678.3 820.8 680.6 818.0 680.6 818.0 685.3 815.2 685.3 815.2 684.6 812.5 684.6 812.5 685.2 809.8 685.2 809.8 684.5 807.0 684.5 807.0 683.2 804.2 683.2 804.2 684.7 801.5 684.7 801.5 687.5 798.8 687.5 798.8 684.3 796.0 684.3 796.0 684.8 793.2 684.8 793.2 682.3 790.5 682.3 790.5 686.6 787.8 686.6 787.8 692.4 785.0 692.4 785.0 697.1 782.2 697.1 782.2 694.6 779.5 694.6 779.5 693.4 776.8 693.4 776.8 696.7 774.0 696.7 774.0 696.6 771.2 696.6 771.2 701.9 768.5 701.9 768.5 702.7 765.8 702.7 765.8 709.1 763.0 709.1 763.0 703.6 760.2 703.6 760.2 700.6 757.5 700.6 757.5 702.9 754.8 702.9 754.8 707.4 752.0 707.4 752.0 707.9 749.2 707.9 749.2 709.4 746.5 709.4 746.5 717.6 743.8 717.6 743.8 707.7 741.0 707.7 741.0 714.1 738.2 714.1 738.2 712.5 735.5 712.5 735.5 722.9 732.8 722.9 732.8 726.1 730.0 726.1 730.0 722.5 727.2 722.5 727.2 724.5 724.5 724.5 724.5 712.4 721.8 712.4 721.8 717.2 719.0 717.2 719.0 719.6 716.2 719.6 716.2 719.8 713.5 719.8 713.5 720.8 710.8 720.8 710.8 721.2 708.0 721.2 708.0 723.3 705.2 723.3 705.2 722.5 702.5 722.5 702.5 718.0 699.8 718.0 699.8 725.7 697.0 725.7 697.0 727.0 694.2 727.0 694.2 724.1 691.5 724.1 691.5 724.3 688.8 724.3 688.8 732.9 686.0 732.9 686.0 724.4 683.2 724.4 683.2 724.3 680.5 724.3 680.5 727.2 677.8 727.2 677.8 727.1 675.0 727.1 675.0 727.6 672.2 727.6 672.2 725.6 669.5 725.6 669.5 720.4 666.8 720.4 666.8 727.4 664.0 727.4 664.0 728.5 661.2 728.5 661.2 726.1 658.5 726.1 658.5 726.9 655.8 726.9 655.8 727.6 653.0 727.6 653.0 730.9 650.2 730.9 650.2 730.9 647.5 730.9 647.5 738.8 644.8 738.8 644.8 738.9 642.0 738.9 642.0 737.5 639.2 737.5 639.2 740.4 636.5 740.4 636.5 738.4 633.8 738.4 633.8 734.3 631.0 734.3 631.0 734.4 628.2 734.4 628.2 736.0 625.5 736.0 625.5 736.1 622.8 736.1 622.8 735.5 620.0 735.5 620.0 736.2 617.2 736.2 617.2 738.9 614.5 738.9 614.5 732.3 611.8 732.3 611.8 736.5 609.0 736.5 609.0 737.4 606.2 737.4 606.2 736.6 603.5 736.6 603.5 736.8 600.8 736.8 600.8 736.8 598.0 736.8 598.0 738.2 595.2 738.2 595.2 735.9 592.5 735.9 592.5 735.1 589.8 735.1 589.8 735.2 587.0 735.2 587.0 735.2 584.2 735.2 584.2 729.2 581.5 729.2 581.5 736.6 578.8 736.6 578.8 736.9 576.0 736.9 576.0 737.7 573.2 737.7 573.2 741.4 570.5 741.4 570.5 740.2 567.8 740.2 567.8 740.5 565.0 740.5 565.0 738.9 562.2 738.9 562.2 739.8 559.5 739.8 559.5 737.8 556.8 737.8 556.8 738.4 554.0 738.4 554.0 733.6 551.2 733.6 551.2 738.7 548.5 738.7 548.5 741.4 545.8 741.4 545.8 741.6 543.0 741.6 543.0 740.1 540.2 740.1 540.2 739.7 537.5 739.7 537.5 743.9 534.8 743.9 534.8 741.9 532.0 741.9 532.0 740.1 529.2 740.1 529.2 740.5 526.5 740.5 526.5 742.6 523.8 742.6 523.8 740.0 521.0 740.0 521.0 735.8 518.2 735.8 518.2 741.2 515.5 741.2 515.5 735.4 512.8 735.4 512.8 733.5 510.0 733.5 510.0 734.0 507.2 734.0 507.2 737.0 504.5 737.0 504.5 734.2 501.8 734.2 501.8 737.4 499.0 737.4 499.0 746.0 496.2 746.0 496.2 740.3 493.5 740.3 493.5 737.1 490.8 737.1 490.8 730.2 488.0 730.2 488.0 731.2 485.2 731.2 485.2 736.2 482.5 736.2 482.5 726.9 479.8 726.9 479.8 736.2 477.0 736.2 477.0 733.3 474.2 733.3 474.2 735.3 471.5 735.3 471.5 734.2 468.8 734.2 468.8 738.6 466.0 738.6 466.0 734.9 463.2 734.9 463.2 734.8 460.5 734.8 460.5 738.4 457.8 738.4 457.8 733.5 455.0 733.5 455.0 736.5 452.2 736.5 452.2 730.7 449.5 730.7 449.5 730.9 446.8 730.9 446.8 734.1 444.0 734.1 444.0 731.4 441.2 731.4 441.2 732.6 438.5 732.6 438.5 728.9 435.8 728.9 435.8 734.2 433.0 734.2 433.0 732.1 430.2 732.1 430.2 734.5 427.5 734.5 427.5 727.3 424.8 727.3 424.8 720.4 422.0 720.4 422.0 725.3 419.2 725.3 419.2 729.1 416.5 729.1 416.5 726.8 413.8 726.8 413.8 728.7 411.0 728.7 411.0 727.3 408.2 727.3 408.2 723.8 405.5 723.8 405.5 721.6 402.8 721.6 402.8 720.0 400.0 720.0 400.0 724.6 397.2 724.6 397.2 732.3 394.5 732.3 394.5 726.3 391.8 726.3 391.8 726.0 389.0 726.0 389.0 720.6 386.2 720.6 386.2 721.3 383.5 721.3 383.5 717.5 380.8 717.5 380.8 722.2 378.0 722.2 378.0 718.9 375.2 718.9 375.2 716.9 372.5 716.9 372.5 714.3 369.8 714.3 369.8 715.0 367.0 715.0 367.0 708.0 364.2 708.0 364.2 712.4 361.5 712.4 361.5 716.1 358.8 716.1 358.8 713.9 356.0 713.9 356.0 716.4 353.2 716.4 353.2 715.8 350.5 715.8 350.5 713.8 347.8 713.8 347.8 714.9 345.0 714.9 345.0 709.8 342.2 709.8 342.2 715.6 339.5 715.6 339.5 715.5 336.8 715.5 336.8 713.0 334.0 713.0 334.0 712.9 331.2 712.9 331.2 709.7 328.5 709.7 328.5 713.0 325.8 713.0 325.8 715.9 323.0 715.9 323.0 715.5 320.2 715.5 320.2 712.3 317.5 712.3 317.5 711.7 314.8 711.7 314.8 710.3 312.0 710.3 312.0 711.0 309.2 711.0 309.2 703.4 306.5 703.4 306.5 707.7 303.8 707.7 303.8 707.3 301.0 707.3 301.0 706.6 298.2 706.6 298.2 703.9 295.5 703.9 295.5 705.3 292.8 705.3 292.8 707.6 290.0 707.6 290.0 705.6 287.2 705.6 287.2 702.4 284.5 702.4 284.5 703.0 281.8 703.0 281.8 699.7 279.0 699.7 279.0 702.4 276.2 702.4 276.2 703.0 273.5 703.0 273.5 699.5 270.8 699.5 270.8 699.9 268.0 699.9 268.0 699.5 265.2 699.5 265.2 694.7 262.5 694.7 262.5 695.1 259.8 695.1 259.8 694.3 257.0 694.3 257.0 698.1 254.2 698.1 254.2 697.1 251.5 697.1 251.5 700.7 248.8 700.7 248.8 695.5 246.0 695.5 246.0 691.2 243.2 691.2 243.2 693.5 240.5 693.5 240.5 699.3 237.8 699.3 237.8 695.6 235.0 695.6 235.0 693.5 232.2 693.5 232.2 706.9 229.5 706.9 229.5 693.5 226.8 693.5 226.8 698.4 224.0 698.4 224.0 699.2 221.2 699.2 221.2 701.9 218.5 701.9Z"/>
<path fill="#000000" fill-opacity="0.45" d="M218.5 1226.8 221.2 1226.8 221.2 1228.8 224.0 1228.8 224.0 1230.3 226.8 1230.3 226.8 1228.5 229.5 1228.5 229.5 1230.0 232.2 1230.0 232.2 1228.8 235.0 1228.8 235.0 1226.4 237.8 1226.4 237.8 1227.3 240.5 1227.3 240.5 1228.7 243.2 1228.7 243.2 1228.6 246.0 1228.6 246.0 1227.1 248.8 1227.1 248.8 1225.4 251.5 1225.4 251.5 1225.1 254.2 1225.1 254.2 1223.6 257.0 1223.6 257.0 1223.8 259.8 1223.8 259.8 1223.4 262.5 1223.4 262.5 1220.8 265.2 1220.8 265.2 1221.0 268.0 1221.0 268.0 1220.6 270.8 1220.6 270.8 1221.2 273.5 1221.2 273.5 1222.3 276.2 1222.3 276.2 1218.9 279.0 1218.9 279.0 1220.2 281.8 1220.2 281.8 1219.5 284.5 1219.5 284.5 1217.4 287.2 1217.4 287.2 1216.7 290.0 1216.7 290.0 1216.3 292.8 1216.3 292.8 1215.3 295.5 1215.3 295.5 1213.6 298.2 1213.6 298.2 1212.4 301.0 1212.4 301.0 1213.1 303.8 1213.1 303.8 1209.9 306.5 1209.9 306.5 1210.6 309.2 1210.6 309.2 1208.9 312.0 1208.9 312.0 1205.9 314.8 1205.9 314.8 1202.6 317.5 1202.6 317.5 1203.1 320.2 1203.1 320.2 1204.3 323.0 1204.3 323.0 1204.0 325.8 1204.0 325.8 1203.4 328.5 1203.4 328.5 1197.7 331.2 1197.7 331.2 1198.5 334.0 1198.5 334.0 1195.8 336.8 1195.8 336.8 1191.8 339.5 1191.8 339.5 1190.0 342.2 1190.0 342.2 1191.1 345.0 1191.1 345.0 1189.1 347.8 1189.1 347.8 1182.6 350.5 1182.6 350.5 1182.1 353.2 1182.1 353.2 1177.0 356.0 1177.0 356.0 1175.8 358.8 1175.8 358.8 1170.1 361.5 1170.1 361.5 1165.0 364.2 1165.0 364.2 1160.3 367.0 1160.3 367.0 1157.8 369.8 1157.8 369.8 1151.1 372.5 1151.1 372.5 1145.0 375.2 1145.0 375.2 1136.8 378.0 1136.8 378.0 1125.0 380.8 1125.0 380.8 1114.5 383.5 1114.5 383.5 1100.0 386.2 1100.0 386.2 1084.2 389.0 1084.2 389.0 1069.6 391.8 1069.6 391.8 1048.5 394.5 1048.5 394.5 1026.2 397.2 1026.2 397.2 1007.0 400.0 1007.0 400.0 981.3 402.8 981.3 402.8 947.1 405.5 947.1 405.5 907.1 408.2 907.1 408.2 875.3 411.0 875.3 411.0 847.2 413.8 847.2 413.8 812.9 416.5 812.9 416.5 784.8 419.2 784.8 419.2 757.9 422.0 757.9 422.0 741.6 424.8 741.6 424.8 740.6 427.5 740.6 427.5 740.6 430.2 740.6 430.2 743.7 433.0 743.7 433.0 768.7 435.8 768.7 435.8 789.4 438.5 789.4 438.5 814.3 441.2 814.3 441.2 847.1 444.0 847.1 444.0 873.0 446.8 873.0 446.8 902.6 449.5 902.6 449.5 956.3 452.2 956.3 452.2 991.2 455.0 991.2 455.0 1028.6 457.8 1028.6 457.8 1053.9 460.5 1053.9 460.5 1074.0 463.2 1074.0 463.2 1089.6 466.0 1089.6 466.0 1100.2 468.8 1100.2 468.8 1109.7 471.5 1109.7 471.5 1120.8 474.2 1120.8 474.2 1131.4 477.0 1131.4 477.0 1139.6 479.8 1139.6 479.8 1145.0 482.5 1145.0 482.5 1145.7 485.2 1145.7 485.2 1147.7 488.0 1147.7 488.0 1151.1 490.8 1151.1 490.8 1152.1 493.5 1152.1 493.5 1154.5 496.2 1154.5 496.2 1149.9 499.0 1149.9 499.0 1153.9 501.8 1153.9 501.8 1157.9 504.5 1157.9 504.5 1159.1 507.2 1159.1 507.2 1158.4 510.0 1158.4 510.0 1157.0 512.8 1157.0 512.8 1160.5 515.5 1160.5 515.5 1156.5 518.2 1156.5 518.2 1151.5 521.0 1151.5 521.0 1157.5 523.8 1157.5 523.8 1161.4 526.5 1161.4 526.5 1162.0 529.2 1162.0 529.2 1158.7 532.0 1158.7 532.0 1155.1 534.8 1155.1 534.8 1156.0 537.5 1156.0 537.5 1158.2 540.2 1158.2 540.2 1158.6 543.0 1158.6 543.0 1161.1 545.8 1161.1 545.8 1165.8 548.5 1165.8 548.5 1166.4 551.2 1166.4 551.2 1164.3 554.0 1164.3 554.0 1163.2 556.8 1163.2 556.8 1163.4 559.5 1163.4 559.5 1164.3 562.2 1164.3 562.2 1168.9 565.0 1168.9 565.0 1169.8 567.8 1169.8 567.8 1169.5 570.5 1169.5 570.5 1168.0 573.2 1168.0 573.2 1171.2 576.0 1171.2 576.0 1175.3 578.8 1175.3 578.8 1174.6 581.5 1174.6 581.5 1179.2 584.2 1179.2 584.2 1179.3 587.0 1179.3 587.0 1177.6 589.8 1177.6 589.8 1178.2 592.5 1178.2 592.5 1181.6 595.2 1181.6 595.2 1179.2 598.0 1179.2 598.0 1181.0 600.8 1181.0 600.8 1180.8 603.5 1180.8 603.5 1182.8 606.2 1182.8 606.2 1183.4 609.0 1183.4 609.0 1182.1 611.8 1182.1 611.8 1185.4 614.5 1185.4 614.5 1185.3 617.2 1185.3 617.2 1186.1 620.0 1186.1 620.0 1187.6 622.8 1187.6 622.8 1189.7 625.5 1189.7 625.5 1187.0 628.2 1187.0 628.2 1185.0 631.0 1185.0 631.0 1185.1 633.8 1185.1 633.8 1187.9 636.5 1187.9 636.5 1190.3 639.2 1190.3 639.2 1190.9 642.0 1190.9 642.0 1188.5 644.8 1188.5 644.8 1191.6 647.5 1191.6 647.5 1189.2 650.2 1189.2 650.2 1187.9 653.0 1187.9 653.0 1190.0 655.8 1190.0 655.8 1193.3 658.5 1193.3 658.5 1192.7 661.2 1192.7 661.2 1192.7 664.0 1192.7 664.0 1192.9 666.8 1192.9 666.8 1192.3 669.5 1192.3 669.5 1193.7 672.2 1193.7 672.2 1193.2 675.0 1193.2 675.0 1192.8 677.8 1192.8 677.8 1191.3 680.5 1191.3 680.5 1188.5 683.2 1188.5 683.2 1188.8 686.0 1188.8 686.0 1191.6 688.8 1191.6 688.8 1190.2 691.5 1190.2 691.5 1190.3 694.2 1190.3 694.2 1188.5 697.0 1188.5 697.0 1191.8 699.8 1191.8 699.8 1193.2 702.5 1193.2 702.5 1194.4 705.2 1194.4 705.2 1187.3 708.0 1187.3 708.0 1188.4 710.8 1188.4 710.8 1190.5 713.5 1190.5 713.5 1193.3 716.2 1193.3 716.2 1191.9 719.0 1191.9 719.0 1192.5 721.8 1192.5 721.8 1191.2 724.5 1191.2 724.5 1189.8 727.2 1189.8 727.2 1192.2 730.0 1192.2 730.0 1188.2 732.8 1188.2 732.8 1189.7 735.5 1189.7 735.5 1188.8 738.2 1188.8 738.2 1184.8 741.0 1184.8 741.0 1182.4 743.8 1182.4 743.8 1182.3 746.5 1182.3 746.5 1182.0 749.2 1182.0 749.2 1179.2 752.0 1179.2 752.0 1177.4 754.8 1177.4 754.8 1181.1 757.5 1181.1 757.5 1177.9 760.2 1177.9 760.2 1179.9 763.0 1179.9 763.0 1184.8 765.8 1184.8 765.8 1184.6 768.5 1184.6 768.5 1186.2 771.2 1186.2 771.2 1188.6 774.0 1188.6 774.0 1189.7 776.8 1189.7 776.8 1191.9 779.5 1191.9 779.5 1196.6 782.2 1196.6 782.2 1195.9 785.0 1195.9 785.0 1201.8 787.8 1201.8 787.8 1204.5 790.5 1204.5 790.5 1204.3 793.2 1204.3 793.2 1205.9 796.0 1205.9 796.0 1210.3 798.8 1210.3 798.8 1212.2 801.5 1212.2 801.5 1212.7 804.2 1212.7 804.2 1213.8 807.0 1213.8 807.0 1214.5 809.8 1214.5 809.8 1214.5 812.5 1214.5 812.5 1215.4 815.2 1215.4 815.2 1212.0 818.0 1212.0 818.0 1215.9 820.8 1215.9 820.8 1218.7 823.5 1218.7 823.5 1219.1 826.2 1219.1 826.2 1219.3 829.0 1219.3 829.0 1221.0 831.8 1221.0 831.8 1218.9 834.5 1218.9 834.5 1220.7 837.2 1220.7 837.2 1224.1 840.0 1224.1 840.0 1222.7 842.8 1222.7 842.8 1222.1 845.5 1222.1 845.5 1222.4 848.2 1222.4 848.2 1221.6 851.0 1221.6 851.0 1222.5 853.8 1222.5 853.8 1221.9 856.5 1221.9 856.5 1226.3 859.2 1226.3 859.2 1224.5 862.0 1224.5 862.0 1225.8 864.8 1225.8 864.8 1225.4 867.5 1225.4 867.5 1227.0 870.2 1227.0 870.2 1227.2 873.0 1227.2 873.0 1226.7 875.8 1226.7 875.8 1228.6 878.5 1228.6 878.5 1227.0 881.2 1227.0 881.2 1227.4 884.0 1227.4 884.0 1228.5 886.8 1228.5 886.8 1230.3 889.5 1230.3 889.5 1230.7 892.2 1230.7 892.2 1230.7 895.0 1230.7 895.0 1229.1 897.8 1229.1 897.8 1227.3 900.5 1227.3 900.5 1230.9 903.2 1230.9 903.2 1232.2 906.0 1232.2 906.0 1231.7 908.8 1231.7 908.8 1231.1 911.5 1231.1 911.5 1233.6 914.2 1233.6 914.2 1233.3 917.0 1233.3 917.0 1233.6 919.8 1233.6 919.8 1232.3 922.5 1232.3 922.5 1234.2 925.2 1234.2 925.2 1232.6 928.0 1232.6 928.0 1235.2 930.8 1235.2 930.8 1232.9 933.5 1232.9 933.5 1232.0 936.2 1232.0 936.2 1234.1 939.0 1234.1 939.0 1230.9 941.8 1230.9 941.8 1230.9 944.5 1230.9 944.5 1230.8 947.2 1230.8 947.2 1231.8 950.0 1231.8 950.0 1232.5 952.8 1232.5 952.8 1232.7 955.5 1232.7 955.5 1233.6 958.2 1233.6 958.2 1231.7 961.0 1231.7 961.0 1233.2 963.8 1233.2 963.8 1235.1 966.5 1235.1 966.5 1234.7 969.2 1234.7 969.2 1233.6 972.0 1233.6 972.0 1235.6 974.8 1235.6 974.8 1233.5 977.5 1233.5 977.5 1235.1 980.2 1235.1 980.2 1236.7 983.0 1236.7 983.0 1238.4 985.8 1238.4 985.8 1238.7 988.5 1238.7 988.5 1237.9 991.2 1237.9 991.2 1235.5 994.0 1235.5 994.0 1236.5 996.8 1236.5 996.8 1237.4 999.5 1237.4 999.5 1236.8 1002.2 1236.8 1002.2 1236.7 1005.0 1236.7 1005.0 1239.2 1007.8 1239.2 1007.8 1237.6 1010.5 1237.6 1010.5 1237.6 1013.2 1237.6 1013.2 1236.7 1016.0 1236.7 1016.0 1240.5 1018.8 1240.5 1018.8 1240.8 1021.5 1240.8 1021.5 1239.3 1024.2 1239.3 1024.2 1236.9 1027.0 1236.9 1027.0 1238.9 1029.8 1238.9 1029.8 1239.5 1032.5 1239.5 1032.5 1238.9 1035.2 1238.9 1035.2 1239.0 1038.0 1239.0 1038.0 1240.2 1040.8 1240.2 1040.8 1237.7 1043.5 1237.7 1043.5 1237.5 1046.2 1237.5 1046.2 1239.8 1049.0 1239.8 1049.0 1239.7 1051.8 1239.7 1051.8 1239.7 1054.5 1239.7 1054.5 1240.8 1057.2 1240.8 1057.2 1241.8 1060.0 1241.8 1060.0 1240.3 1062.8 1240.3 1062.8 1239.1 1065.5 1239.1 1065.5 1241.2 1068.2 1241.2 1068.2 1238.8 1071.0 1238.8 1071.0 1239.1 1073.8 1239.1 1073.8 1237.5 1076.5 1237.5 1076.5 1238.0 1079.2 1238.0 1079.2 1241.9 1082.0 1241.9 1082.0 1242.1 1084.8 1242.1 1084.8 1241.5 1087.5 1241.5 1087.5 1243.1 1090.2 1243.1 1090.2 1242.1 1093.0 1242.1 1093.0 1243.8 1095.8 1243.8 1095.8 1243.1 1098.5 1243.1 1098.5 1242.6 1101.2 1242.6 1101.2 1244.5 1104.0 1244.5 1104.0 1245.0 1106.8 1245.0 1106.8 1243.9 1109.5 1243.9 1109.5 1244.4 1112.2 1244.4 1112.2 1243.0 1115.0 1243.0 1115.0 1244.4 1117.8 1244.4 1117.8 1243.5 1120.5 1243.5 1120.5 1243.6 1123.2 1243.6 1123.2 1244.3 1126.0 1244.3 1126.0 1246.7 1128.8 1246.7 1128.8 1244.2 1131.5 1244.2 1131.5 1244.5 1134.2 1244.5 1134.2 1243.4 1137.0 1243.4 1137.0 1243.7 1139.8 1243.7 1139.8 1243.5 1142.5 1243.5 1142.5 1240.4 1145.2 1240.4 1145.2 1242.0 1148.0 1242.0 1148.0 1243.4 1150.8 1243.4 1150.8 1242.6 1153.5 1242.6 1153.5 1243.4 1156.2 1243.4 1156.2 1244.4 1159.0 1244.4 1159.0 1244.6 1161.8 1244.6 1161.8 1245.2 1164.5 1245.2 1164.5 1246.1 1167.2 1246.1 1167.2 1246.0 1170.0 1246.0 1170.0 1247.7 1172.8 1247.7 1172.8 1247.8 1175.5 1247.8 1175.5 1246.4 1178.2 1246.4 1178.2 1245.6 1181.0 1245.6 1181.0 1242.2 1183.8 1242.2 1183.8 1244.6 1186.5 1244.6 1186.5 1246.2 1189.2 1246.2 1189.2 1246.0 1192.0 1246.0 1192.0 1246.9 1194.8 1246.9 1194.8 1247.7 1197.5 1247.7 1197.5 1247.4 1200.2 1247.4 1200.2 1247.9 1203.0 1247.9 1203.0 1249.5 1205.8 1249.5 1205.8 1249.8 1208.5 1249.8 1208.5 1247.9 1211.2 1247.9 1211.2 1247.4 1214.0 1247.4 1214.0 1249.4 1216.8 1249.4 1216.8 1248.1 1219.5 1248.1 1219.5 1247.4 1222.2 1247.4 1222.2 1248.3 1225.0 1248.3 1225.0 1248.5 1227.8 1248.5 1227.8 1248.5 1230.5 1248.5 1230.5 1247.1 1233.2 1247.1 1233.2 1247.6 1236.0 1247.6 1236.0 1248.6 1238.8 1248.6 1238.8 1250.2 1241.5 1250.2 1241.5 1251.4 1244.2 1251.4 1244.2 1248.9 1247.0 1248.9 1247.0 1250.0 1249.8 1250.0 1249.8 1247.5 1252.5 1247.5 1252.5 1247.4 1255.2 1247.4 1255.2 1247.8 1258.0 1247.8 1258.0 1246.0 1260.8 1246.0 1260.8 1248.4 1263.5 1248.4 1263.5 1248.2 1266.2 1248.2 1266.2 1247.8 1269.0 1247.8 1269.0 1246.5 1271.8 1246.5 1271.8 1248.4 1274.5 1248.4 1274.5 1249.7 1277.2 1249.7 1277.2 1245.0 1280.0 1245.0 1280.0 1249.2 1282.8 1249.2 1282.8 1249.4 1285.5 1249.4 1285.5 1248.8 1288.2 1248.8 1288.2 1251.5 1291.0 1251.5 1291.0 1249.8 1293.8 1249.8 1293.8 1248.1 1296.5 1248.1 1296.5 1246.0 1299.2 1246.0 1299.2 1250.1 1302.0 1250.1 1302.0 1248.9 1304.8 1248.9 1304.8 1250.3 1307.5 1250.3 1307.5 1251.3 1310.2 1251.3 1310.2 1250.0 1313.0 1250.0 1313.0 1248.8 1315.8 1248.8 1315.8 1250.2 1318.5 1250.2 1318.5 1251.1 1321.2 1251.1 1321.2 1248.6 1324.0 1248.6 1324.0 1251.4 1326.8 1251.4 1326.8 1249.7 1329.5 1249.7 1329.5 1250.1 1332.2 1250.1 1332.2 1247.0 1335.0 1247.0 1335.0 1249.4 1337.8 1249.4 1337.8 1250.5 1340.5 1250.5 1340.5 1251.0 1343.2 1251.0 1343.2 1250.7 1346.0 1250.7 1346.0 1250.9 1348.8 1250.9 1348.8 1249.8 1351.5 1249.8 1351.5 1251.2 1354.2 1251.2 1354.2 1250.1 1357.0 1250.1 1357.0 1249.9 1359.8 1249.9 1359.8 1249.8 1362.5 1249.8 1362.5 1252.0 1365.2 1252.0 1365.2 1249.7 1368.0 1249.7 1368.0 1248.1 1370.8 1248.1 1370.8 1250.4 1373.5 1250.4 1373.5 1251.4 1376.2 1251.4 1376.2 1252.0 1379.0 1252.0 1379.0 1252.0 1381.8 1252.0 1381.8 1251.2 1384.5 1251.2 1384.5 1251.2 1387.2 1251.2 1387.2 1251.7 1390.0 1251.7 1390.0 1252.2 1392.8 1252.2 1392.8 1249.2 1395.5 1249.2 1395.5 1251.4 1398.2 1251.4 1398.2 1252.3 1401.0 1252.3 1401.0 1250.9 1403.8 1250.9 1403.8 1251.8 1406.5 1251.8 1406.5 1253.2 1409.2 1253.2 1409.2 1251.6 1412.0 1251.6 1412.0 1250.4 1414.8 1250.4 1414.8 1251.3 1417.5 1251.3 1417.5 1251.4 1420.2 1251.4 1420.2 1251.3 1423.0 1251.3 1423.0 1247.7 1425.8 1247.7 1425.8 1250.5 1428.5 1250.5 1428.5 1251.5 1431.2 1251.5 1431.2 1252.0 1434.0 1252.0 1434.0 1253.2 1436.8 1253.2 1436.8 1252.5 1439.5 1252.5 1439.5 1251.9 1442.2 1251.9 1442.2 1250.4 1445.0 1250.4 1445.0 1252.6 1447.8 1252.6 1447.8 1253.3 1450.5 1253.3 1450.5 1252.4 1453.2 1252.4 1453.2 1253.6 1456.0 1253.6 1456.0 1250.6 1458.8 1250.6 1458.8 1254.6 1461.5 1254.6 1461.5 1254.3 1464.2 1254.3 1464.2 1255.1 1467.0 1255.1 1467.0 1252.8 1469.8 1252.8 1469.8 1254.1 1472.5 1254.1 1472.5 1253.3 1475.2 1253.3 1475.2 1251.8 1478.0 1251.8 1478.0 1252.4 1480.8 1252.4 1480.8 1254.8 1483.5 1254.8 1483.5 1254.2 1486.2 1254.2 1486.2 1250.6 1489.0 1250.6 1489.0 1253.7 1491.8 1253.7 1491.8 1254.2 1494.5 1254.2 1494.5 1254.5 1497.2 1254.5 1497.2 1254.2 1500.0 1254.2 1500.0 1255.5 1502.8 1255.5 1502.8 1257.0 1505.5 1257.0 1505.5 1254.9 1508.2 1254.9 1508.2 1255.1 1511.0 1255.1 1511.0 1257.4 1513.8 1257.4 1513.8 1256.3 1516.5 1256.3 1516.5 1253.6 1519.2 1253.6 1519.2 1256.0 1522.0 1256.0 1522.0 1253.3 1524.8 1253.3 1524.8 1251.8 1527.5 1251.8 1527.5 1256.5 1530.2 1256.5 1530.2 1255.7 1533.0 1255.7 1533.0 1254.4 1535.8 1254.4 1535.8 1254.7 1538.5 1254.7 1538.5 1255.6 1541.2 1255.6 1541.2 1255.4 1544.0 1255.4 1544.0 1256.3 1546.8 1256.3 1546.8 1256.6 1549.5 1256.6 1549.5 1256.3 1552.2 1256.3 1552.2 1256.9 1555.0 1256.9 1555.0 1256.8 1557.8 1256.8 1557.8 1256.0 1560.5 1256.0 1560.5 1257.9 1563.2 1257.9 1563.2 1256.5 1566.0 1256.5 1566.0 1257.4 1568.8 1257.4 1568.8 1255.7 1571.5 1255.7 1571.5 1256.4 1574.2 1256.4 1574.2 1257.0 1577.0 1257.0 1577.0 1255.6 1579.8 1255.6 1579.8 1253.5 1582.5 1253.5 1582.5 1255.8 1585.2 1255.8 1585.2 1255.2 1588.0 1255.2 1588.0 1256.3 1590.8 1256.3 1590.8 1254.8 1593.5 1254.8 1593.5 1256.3 1596.2 1256.3 1596.2 1256.5 1599.0 1256.5 1599.0 1257.4 1601.8 1257.4 1601.8 1256.9 1604.5 1256.9 1604.5 1256.1 1607.2 1256.1 1607.2 1256.0 1610.0 1256.0 1610.0 1256.3 1612.8 1256.3 1612.8 1254.5 1615.5 1254.5 1615.5 1255.8 1618.2 1255.8 1618.2 1256.8 1621.0 1256.8 1621.0 1256.8 1623.8 1256.8 1623.8 1254.1 1626.5 1254.1 1626.5 1253.8 1629.2 1253.8 1629.2 1255.6 1632.0 1255.6 1632.0 1257.1 1634.8 1257.1 1634.8 1252.6 1637.5 1252.6 1637.5 1255.6 1640.2 1255.6 1640.2 1253.5 1643.0 1253.5 1643.0 1255.4 1645.8 1255.4 1645.8 1254.4 1648.5 1254.4 1648.5 1256.2 1651.2 1256.2 1651.2 1254.9 1654.0 1254.9 1654.0 1255.5 1656.8 1255.5 1656.8 1255.7 1659.5 1255.7 1659.5 1255.3 1662.2 1255.3 1662.2 1255.2 1665.0 1255.2 1665.0 1255.5 1667.8 1255.5 1667.8 1255.1 1670.5 1255.1 1670.5 1255.6 1673.2 1255.6 1673.2 1256.5 1676.0 1256.5 1676.0 1256.1 1678.8 1256.1 1678.8 1256.5 1681.5 1256.5 1681.5 1255.5 1684.2 1255.5 1684.2 1255.4 1687.0 1255.4 1687.0 1255.2 1689.8 1255.2 1689.8 1256.5 1692.5 1256.5 1692.5 1257.6 1695.2 1257.6 1695.2 1256.5 1698.0 1256.5 1698.0 1258.5 1700.8 1258.5 1700.8 1255.8 1703.5 1255.8 1703.5 1258.7 1706.2 1258.7 1706.2 1257.2 1709.0 1257.2 1709.0 1255.8 1711.8 1255.8 1711.8 1256.4 1714.5 1256.4 1714.5 1257.1 1717.2 1257.1 1717.2 1256.6 1720.0 1256.6 1720.0 1257.9 1722.8 1257.9 1722.8 1255.7 1725.5 1255.7 1725.5 1256.0 1728.2 1256.0 1728.2 1257.2 1731.0 1257.2 1731.0 1257.9 1733.8 1257.9 1733.8 1257.2 1736.5 1257.2 1736.5 1256.2 1739.2 1256.2 1739.2 1256.5 1742.0 1256.5 1742.0 1256.5 1744.8 1256.5 1744.8 1255.4 1747.5 1255.4 1747.5 1256.2 1750.2 1256.2 1750.2 1256.4 1753.0 1256.4 1753.0 1257.2 1755.8 1257.2 1755.8 1257.6 1758.5 1257.6 1758.5 1256.9 1761.2 1256.9 1761.2 1257.0 1764.0 1257.0 1764.0 1258.7 1766.8 1258.7 1766.8 1257.2 1769.5 1257.2 1769.5 1255.8 1772.2 1255.8 1772.2 1257.4 1775.0 1257.4 1775.0 1258.0 1777.8 1258.0 1777.8 1254.5 1780.5 1254.5 1780.5 1256.6 1783.2 1256.6 1783.2 1258.5 1786.0 1258.5 1786.0 1256.9 1788.8 1256.9 1788.8 1258.2 1791.5 1258.2 1791.5 1256.7 1794.2 1256.7 1794.2 1259.2 1797.0 1259.2 1797.0 1258.0 1799.8 1258.0 1799.8 1258.8 1802.5 1258.8 1802.5 1259.2 1805.2 1259.2 1805.2 1259.4 1808.0 1259.4 1808.0 1261.7 1810.8 1261.7 1810.8 1256.8 1813.5 1256.8 1813.5 1257.5 1816.2 1257.5 1816.2 1257.6 1819.0 1257.6 1819.0 1257.8 1821.8 1257.8 1821.8 1260.6 1824.5 1260.6 1824.5 1256.8 1827.2 1256.8 1827.2 1256.6 1830.0 1256.6 1830.0 1255.8 1832.8 1255.8 1832.8 1256.1 1835.5 1256.1 1835.5 1258.4 1838.2 1258.4 1838.2 1258.1 1841.0 1258.1 1841.0 1257.1 1843.8 1257.1 1843.8 1258.6 1846.5 1258.6 1846.5 1257.6 1849.2 1257.6 1849.2 1257.4 1852.0 1257.4 1852.0 1258.2 1854.8 1258.2 1854.8 1257.6 1857.5 1257.6 1857.5 1257.6 1860.2 1257.6 1860.2 1257.4 1863.0 1257.4 1863.0 1257.8 1865.8 1257.8 1865.8 1255.3 1868.5 1255.3 1868.5 1259.0 1871.2 1259.0 1871.2 1257.2 1874.0 1257.2 1874.0 1257.6 1876.8 1257.6 1876.8 1255.8 1879.5 1255.8 1879.5 1259.1 1882.2 1259.1 1882.2 1257.5 1885.0 1257.5 1885.0 1256.0 1887.8 1256.0 1887.8 1257.8 1890.5 1257.8 1890.5 1258.6 1893.2 1258.6 1893.2 1260.0 1896.0 1260.0 1896.0 1259.9 1898.8 1259.9 1898.8 1255.8 1901.5 1255.8 1901.5 1258.6 1904.2 1258.6 1904.2 1261.0 1907.0 1261.0 1907.0 1259.4 1909.8 1259.4 1909.8 1259.2 1912.5 1259.2 1912.5 1258.3 1915.2 1258.3 1915.2 1259.0 1918.0 1259.0 1918.0 1259.1 1920.8 1259.1 1920.8 1258.9 1923.5 1258.9 1923.5 1258.9 1926.2 1258.9 1926.2 1259.0 1929.0 1259.0 1929.0 1258.5 1931.8 1258.5 1931.8 1257.7 1934.5 1257.7 1934.5 1257.8 1937.2 1257.8 1937.2 1259.1 1940.0 1259.1 1940.0 1259.6 1942.8 1259.6 1942.8 1259.3 1945.5 1259.3 1945.5 1257.1 1948.2 1257.1 1948.2 1257.7 1951.0 1257.7 1951.0 1259.7 1953.8 1259.7 1953.8 1258.7 1956.5 1258.7 1956.5 1258.8 1959.2 1258.8 1959.2 1258.9 1962.0 1258.9 1962.0 1258.4 1964.8 1258.4 1964.8 1258.4 1967.5 1258.4 1967.5 1259.9 1970.2 1259.9 1970.2 1260.1 1973.0 1260.1 1973.0 1258.6 1975.8 1258.6 1975.8 1258.1 1978.5 1258.1 1978.5 1257.0 1981.2 1257.0 1981.2 1259.0 1984.0 1259.0 1984.0 1260.0 1986.8 1260.0 1986.8 1260.9 1989.5 1260.9 1989.5 1260.0 1992.2 1260.0 1992.2 1258.3 1995.0 1258.3 1995.0 1260.0 1997.8 1260.0 1997.8 1259.9 2000.5 1259.9 2000.5 1258.2 2003.2 1258.2 2003.2 1258.9 2006.0 1258.9 2006.0 1259.8 2008.8 1259.8 2008.8 1257.9 2011.5 1257.9 2011.5 1261.7 2014.2 1261.7 2014.2 1260.2 2017.0 1260.2 2017.0 1259.2 2019.8 1259.2 2019.8 1260.5 2022.5 1260.5 2022.5 1259.8 2025.2 1259.8 2025.2 1257.1 2028.0 1257.1 2028.0 1258.1 2030.8 1258.1 2030.8 1256.2 2033.5 1256.2 2033.5 1259.2 2036.2 1259.2 2036.2 1258.8 2039.0 1258.8 2039.0 1258.8 2041.8 1258.8 2041.8 1259.3 2044.5 1259.3 2044.5 1259.1 2047.2 1259.1 2047.2 1259.9 2050.0 1259.9 2050.0 1259.4 2052.8 1259.4 2052.8 1260.3 2055.5 1260.3 2055.5 1260.1 2058.2 1260.1 2058.2 1258.4 2061.0 1258.4 2061.0 1260.3 2063.8 1260.3 2063.8 1258.0 2066.5 1258.0 2066.5 1258.9 2069.2 1258.9 2069.2 1259.3 2072.0 1259.3 2072.0 1259.0 2074.8 1259.0 2074.8 1257.2 2077.5 1257.2 2077.5 1257.2 2080.2 1257.2 2080.2 1258.3 2083.0 1258.3 2083.0 1259.8 2085.8 1259.8 2085.8 1259.5 2088.5 1259.5 2088.5 1258.2 2091.2 1258.2 2091.2 1259.7 2094.0 1259.7 2094.0 1259.1 2096.8 1259.1 2096.8 1259.4 2099.5 1259.4 2099.5 1260.0 2102.2 1260.0 2102.2 1260.3 2105.0 1260.3 2105.0 1255.9 2107.8 1255.9 2107.8 1260.5 2110.5 1260.5 2110.5 1259.9 2113.2 1259.9 2113.2 1260.9 2116.0 1260.9 2116.0 1259.4 2118.8 1259.4 2118.8 1259.7 2121.5 1259.7 2121.5 1259.4 2124.2 1259.4 2124.2 1256.7 2127.0 1256.7 2127.0 1258.6 2129.8 1258.6 2129.8 1259.1 2132.5 1259.1 2132.5 1259.3 2135.2 1259.3 2135.2 1258.1 2138.0 1258.1 2138.0 1258.1 2140.8 1258.1 2140.8 1258.1 2143.5 1258.1 2143.5 1261.2 2146.2 1261.2 2146.2 1261.7 2149.0 1261.7 2149.0 1260.2 2151.8 1260.2 2151.8 1259.3 2154.5 1259.3 2154.5 1259.9 2157.2 1259.9 2157.2 1257.0 2160.0 1257.0 2160.0 1259.7 2162.8 1259.7 2162.8 1258.2 2165.5 1258.2 2165.5 1260.2 2168.2 1260.2 2168.2 1262.4 2171.0 1262.4 2171.0 1260.8 2173.8 1260.8 2173.8 1260.5 2176.5 1260.5 2176.5 1261.3 2179.2 1261.3 2179.2 1262.9 2182.0 1262.9 2182.0 1262.5 2184.8 1262.5 2184.8 1260.6 2187.5 1260.6 2187.5 1260.3 2190.2 1260.3 2190.2 1258.6 2193.0 1258.6 2193.0 1258.6 2195.8 1258.6 2195.8 1258.7 2198.5 1258.7 2198.5 1259.0 2201.2 1259.0 2201.2 1260.6 2203.7 1260.6 2203.7 1271.7 2201.2 1271.7 2201.2 1271.6 2198.5 1271.6 2198.5 1272.0 2195.8 1272.0 2195.8 1272.5 2193.0 1272.5 2193.0 1273.0 2190.2 1273.0 2190.2 1274.2 2187.5 1274.2 2187.5 1276.4 2184.8 1276.4 2184.8 1274.7 2182.0 1274.7 2182.0 1275.6 2179.2 1275.6 2179.2 1273.7 2176.5 1273.7 2176.5 1273.5 2173.8 1273.5 2173.8 1273.1 2171.0 1273.1 2171.0 1273.3 2168.2 1273.3 2168.2 1272.4 2165.5 1272.4 2165.5 1271.5 2162.8 1271.5 2162.8 1272.9 2160.0 1272.9 2160.0 1270.8 2157.2 1270.8 2157.2 1271.4 2154.5 1271.4 2154.5 1271.7 2151.8 1271.7 2151.8 1276.3 2149.0 1276.3 2149.0 1274.5 2146.2 1274.5 2146.2 1273.7 2143.5 1273.7 2143.5 1272.7 2140.8 1272.7 2140.8 1271.3 2138.0 1271.3 2138.0 1273.8 2135.2 1273.8 2135.2 1271.3 2132.5 1271.3 2132.5 1271.1 2129.8 1271.1 2129.8 1272.0 2127.0 1272.0 2127.0 1271.0 2124.2 1271.0 2124.2 1271.6 2121.5 1271.6 2121.5 1272.8 2118.8 1272.8 2118.8 1272.3 2116.0 1272.3 2116.0 1273.4 2113.2 1273.4 2113.2 1272.2 2110.5 1272.2 2110.5 1274.3 2107.8 1274.3 2107.8 1273.6 2105.0 1273.6 2105.0 1272.2 2102.2 1272.2 2102.2 1272.5 2099.5 1272.5 2099.5 1272.5 2096.8 1272.5 2096.8 1271.3 2094.0 1271.3 2094.0 1273.1 2091.2 1273.1 2091.2 1271.4 2088.5 1271.4 2088.5 1271.8 2085.8 1271.8 2085.8 1271.1 2083.0 1271.1 2083.0 1271.7 2080.2 1271.7 2080.2 1271.3 2077.5 1271.3 2077.5 1272.0 2074.8 1272.0 2074.8 1271.1 2072.0 1271.1 2072.0 1271.6 2069.2 1271.6 2069.2 1271.1 2066.5 1271.1 2066.5 1272.9 2063.8 1272.9 2063.8 1273.5 2061.0 1273.5 2061.0 1272.7 2058.2 1272.7 2058.2 1273.0 2055.5 1273.0 2055.5 1273.7 2052.8 1273.7 2052.8 1272.2 2050.0 1272.2 2050.0 1274.1 2047.2 1274.1 2047.2 1275.1 2044.5 1275.1 2044.5 1272.9 2041.8 1272.9 2041.8 1271.7 2039.0 1271.7 2039.0 1271.7 2036.2 1271.7 2036.2 1271.6 2033.5 1271.6 2033.5 1270.1 2030.8 1270.1 2030.8 1270.6 2028.0 1270.6 2028.0 1269.1 2025.2 1269.1 2025.2 1272.1 2022.5 1272.1 2022.5 1273.3 2019.8 1273.3 2019.8 1273.1 2017.0 1273.1 2017.0 1272.4 2014.2 1272.4 2014.2 1274.6 2011.5 1274.6 2011.5 1271.8 2008.8 1271.8 2008.8 1272.3 2006.0 1272.3 2006.0 1273.2 2003.2 1273.2 2003.2 1272.1 2000.5 1272.1 2000.5 1272.8 1997.8 1272.8 1997.8 1272.1 1995.0 1272.1 1995.0 1271.3 1992.2 1271.3 1992.2 1271.3 1989.5 1271.3 1989.5 1271.4 1986.8 1271.4 1986.8 1272.0 1984.0 1272.0 1984.0 1270.4 1981.2 1270.4 1981.2 1270.1 1978.5 1270.1 1978.5 1272.2 1975.8 1272.2 1975.8 1272.2 1973.0 1272.2 1973.0 1273.2 1970.2 1273.2 1970.2 1272.4 1967.5 1272.4 1967.5 1273.3 1964.8 1273.3 1964.8 1270.3 1962.0 1270.3 1962.0 1272.3 1959.2 1272.3 1959.2 1272.6 1956.5 1272.6 1956.5 1272.6 1953.8 1272.6 1953.8 1271.8 1951.0 1271.8 1951.0 1270.0 1948.2 1270.0 1948.2 1270.6 1945.5 1270.6 1945.5 1272.1 1942.8 1272.1 1942.8 1273.2 1940.0 1273.2 1940.0 1273.8 1937.2 1273.8 1937.2 1271.6 1934.5 1271.6 1934.5 1272.3 1931.8 1272.3 1931.8 1270.7 1929.0 1270.7 1929.0 1271.7 1926.2 1271.7 1926.2 1272.9 1923.5 1272.9 1923.5 1271.8 1920.8 1271.8 1920.8 1270.9 1918.0 1270.9 1918.0 1270.9 1915.2 1270.9 1915.2 1271.4 1912.5 1271.4 1912.5 1274.8 1909.8 1274.8 1909.8 1272.1 1907.0 1272.1 1907.0 1273.0 1904.2 1273.0 1904.2 1271.3 1901.5 1271.3 1901.5 1270.0 1898.8 1270.0 1898.8 1271.3 1896.0 1271.3 1896.0 1273.1 1893.2 1273.1 1893.2 1270.5 1890.5 1270.5 1890.5 1270.5 1887.8 1270.5 1887.8 1269.5 1885.0 1269.5 1885.0 1271.5 1882.2 1271.5 1882.2 1270.4 1879.5 1270.4 1879.5 1271.0 1876.8 1271.0 1876.8 1269.9 1874.0 1269.9 1874.0 1269.6 1871.2 1269.6 1871.2 1270.2 1868.5 1270.2 1868.5 1270.5 1865.8 1270.5 1865.8 1272.1 1863.0 1272.1 1863.0 1269.7 1860.2 1269.7 1860.2 1271.4 1857.5 1271.4 1857.5 1272.3 1854.8 1272.3 1854.8 1270.1 1852.0 1270.1 1852.0 1269.1 1849.2 1269.1 1849.2 1269.2 1846.5 1269.2 1846.5 1269.8 1843.8 1269.8 1843.8 1270.6 1841.0 1270.6 1841.0 1270.0 1838.2 1270.0 1838.2 1269.8 1835.5 1269.8 1835.5 1268.5 1832.8 1268.5 1832.8 1270.2 1830.0 1270.2 1830.0 1268.8 1827.2 1268.8 1827.2 1270.2 1824.5 1270.2 1824.5 1273.7 1821.8 1273.7 1821.8 1270.1 1819.0 1270.1 1819.0 1269.7 1816.2 1269.7 1816.2 1271.1 1813.5 1271.1 1813.5 1271.6 1810.8 1271.6 1810.8 1273.3 1808.0 1273.3 1808.0 1271.8 1805.2 1271.8 1805.2 1272.4 1802.5 1272.4 1802.5 1271.3 1799.8 1271.3 1799.8 1270.4 1797.0 1270.4 1797.0 1269.4 1794.2 1269.4 1794.2 1269.5 1791.5 1269.5 1791.5 1269.0 1788.8 1269.0 1788.8 1269.2 1786.0 1269.2 1786.0 1270.2 1783.2 1270.2 1783.2 1269.2 1780.5 1269.2 1780.5 1268.6 1777.8 1268.6 1777.8 1270.4 1775.0 1270.4 1775.0 1270.7 1772.2 1270.7 1772.2 1267.6 1769.5 1267.6 1769.5 1268.7 1766.8 1268.7 1766.8 1271.8 1764.0 1271.8 1764.0 1269.8 1761.2 1269.8 1761.2 1269.1 1758.5 1269.1 1758.5 1268.7 1755.8 1268.7 1755.8 1270.3 1753.0 1270.3 1753.0 1268.7 1750.2 1268.7 1750.2 1268.8 1747.5 1268.8 1747.5 1270.5 1744.8 1270.5 1744.8 1272.8 1742.0 1272.8 1742.0 1268.0 1739.2 1268.0 1739.2 1268.6 1736.5 1268.6 1736.5 1269.9 1733.8 1269.9 1733.8 1270.7 1731.0 1270.7 1731.0 1268.9 1728.2 1268.9 1728.2 1269.7 1725.5 1269.7 1725.5 1270.0 1722.8 1270.0 1722.8 1270.2 1720.0 1270.2 1720.0 1269.8 1717.2 1269.8 1717.2 1270.4 1714.5 1270.4 1714.5 1268.0 1711.8 1268.0 1711.8 1268.9 1709.0 1268.9 1709.0 1270.7 1706.2 1270.7 1706.2 1271.4 1703.5 1271.4 1703.5 1271.2 1700.8 1271.2 1700.8 1271.0 1698.0 1271.0 1698.0 1269.2 1695.2 1269.2 1695.2 1269.4 1692.5 1269.4 1692.5 1269.8 1689.8 1269.8 1689.8 1267.3 1687.0 1267.3 1687.0 1267.4 1684.2 1267.4 1684.2 1270.3 1681.5 1270.3 1681.5 1268.7 1678.8 1268.7 1678.8 1268.7 1676.0 1268.7 1676.0 1269.4 1673.2 1269.4 1673.2 1268.3 1670.5 1268.3 1670.5 1268.0 1667.8 1268.0 1667.8 1268.5 1665.0 1268.5 1665.0 1267.9 1662.2 1267.9 1662.2 1269.0 1659.5 1269.0 1659.5 1268.6 1656.8 1268.6 1656.8 1268.4 1654.0 1268.4 1654.0 1268.6 1651.2 1268.6 1651.2 1268.0 1648.5 1268.0 1648.5 1269.0 1645.8 1269.0 1645.8 1268.9 1643.0 1268.9 1643.0 1267.5 1640.2 1267.5 1640.2 1269.7 1637.5 1269.7 1637.5 1268.4 1634.8 1268.4 1634.8 1269.9 1632.0 1269.9 1632.0 1269.1 1629.2 1269.1 1629.2 1266.3 1626.5 1266.3 1626.5 1266.9 1623.8 1266.9 1623.8 1268.4 1621.0 1268.4 1621.0 1268.7 1618.2 1268.7 1618.2 1267.5 1615.5 1267.5 1615.5 1266.7 1612.8 1266.7 1612.8 1269.7 1610.0 1269.7 1610.0 1268.3 1607.2 1268.3 1607.2 1270.4 1604.5 1270.4 1604.5 1268.9 1601.8 1268.9 1601.8 1270.4 1599.0 1270.4 1599.0 1269.9 1596.2 1269.9 1596.2 1270.2 1593.5 1270.2 1593.5 1268.6 1590.8 1268.6 1590.8 1268.8 1588.0 1268.8 1588.0 1268.5 1585.2 1268.5 1585.2 1267.8 1582.5 1267.8 1582.5 1266.9 1579.8 1266.9 1579.8 1268.4 1577.0 1268.4 1577.0 1270.2 1574.2 1270.2 1574.2 1268.1 1571.5 1268.1 1571.5 1269.2 1568.8 1269.2 1568.8 1269.5 1566.0 1269.5 1566.0 1268.6 1563.2 1268.6 1563.2 1270.4 1560.5 1270.4 1560.5 1270.3 1557.8 1270.3 1557.8 1269.2 1555.0 1269.2 1555.0 1269.2 1552.2 1269.2 1552.2 1268.6 1549.5 1268.6 1549.5 1267.6 1546.8 1267.6 1546.8 1267.8 1544.0 1267.8 1544.0 1268.2 1541.2 1268.2 1541.2 1269.0 1538.5 1269.0 1538.5 1267.0 1535.8 1267.0 1535.8 1267.6 1533.0 1267.6 1533.0 1269.4 1530.2 1269.4 1530.2 1269.4 1527.5 1269.4 1527.5 1267.9 1524.8 1267.9 1524.8 1268.3 1522.0 1268.3 1522.0 1269.0 1519.2 1269.0 1519.2 1268.7 1516.5 1268.7 1516.5 1269.8 1513.8 1269.8 1513.8 1270.4 1511.0 1270.4 1511.0 1269.9 1508.2 1269.9 1508.2 1269.8 1505.5 1269.8 1505.5 1270.2 1502.8 1270.2 1502.8 1267.8 1500.0 1267.8 1500.0 1268.7 1497.2 1268.7 1497.2 1268.9 1494.5 1268.9 1494.5 1267.2 1491.8 1267.2 1491.8 1266.3 1489.0 1266.3 1489.0 1267.0 1486.2 1267.0 1486.2 1266.8 1483.5 1266.8 1483.5 1269.4 1480.8 1269.4 1480.8 1264.2 1478.0 1264.2 1478.0 1265.4 1475.2 1265.4 1475.2 1266.3 1472.5 1266.3 1472.5 1265.8 1469.8 1265.8 1469.8 1265.6 1467.0 1265.6 1467.0 1267.3 1464.2 1267.3 1464.2 1266.5 1461.5 1266.5 1461.5 1267.9 1458.8 1267.9 1458.8 1263.9 1456.0 1263.9 1456.0 1269.3 1453.2 1269.3 1453.2 1265.3 1450.5 1265.3 1450.5 1265.2 1447.8 1265.2 1447.8 1264.7 1445.0 1264.7 1445.0 1263.2 1442.2 1263.2 1442.2 1266.8 1439.5 1266.8 1439.5 1265.9 1436.8 1265.9 1436.8 1266.8 1434.0 1266.8 1434.0 1266.0 1431.2 1266.0 1431.2 1264.7 1428.5 1264.7 1428.5 1263.8 1425.8 1263.8 1425.8 1261.9 1423.0 1261.9 1423.0 1263.1 1420.2 1263.1 1420.2 1264.7 1417.5 1264.7 1417.5 1265.0 1414.8 1265.0 1414.8 1264.2 1412.0 1264.2 1412.0 1266.0 1409.2 1266.0 1409.2 1266.1 1406.5 1266.1 1406.5 1264.8 1403.8 1264.8 1403.8 1264.9 1401.0 1264.9 1401.0 1263.7 1398.2 1263.7 1398.2 1263.4 1395.5 1263.4 1395.5 1264.8 1392.8 1264.8 1392.8 1265.8 1390.0 1265.8 1390.0 1264.6 1387.2 1264.6 1387.2 1264.8 1384.5 1264.8 1384.5 1264.9 1381.8 1264.9 1381.8 1265.3 1379.0 1265.3 1379.0 1265.0 1376.2 1265.0 1376.2 1265.0 1373.5 1265.0 1373.5 1264.0 1370.8 1264.0 1370.8 1262.5 1368.0 1262.5 1368.0 1263.1 1365.2 1263.1 1365.2 1263.1 1362.5 1263.1 1362.5 1263.7 1359.8 1263.7 1359.8 1264.5 1357.0 1264.5 1357.0 1266.6 1354.2 1266.6 1354.2 1266.1 1351.5 1266.1 1351.5 1263.1 1348.8 1263.1 1348.8 1264.5 1346.0 1264.5 1346.0 1263.1 1343.2 1263.1 1343.2 1264.5 1340.5 1264.5 1340.5 1263.6 1337.8 1263.6 1337.8 1262.6 1335.0 1262.6 1335.0 1262.4 1332.2 1262.4 1332.2 1264.6 1329.5 1264.6 1329.5 1263.0 1326.8 1263.0 1326.8 1264.6 1324.0 1264.6 1324.0 1263.0 1321.2 1263.0 1321.2 1264.4 1318.5 1264.4 1318.5 1264.7 1315.8 1264.7 1315.8 1261.9 1313.0 1261.9 1313.0 1263.2 1310.2 1263.2 1310.2 1264.9 1307.5 1264.9 1307.5 1263.2 1304.8 1263.2 1304.8 1264.0 1302.0 1264.0 1302.0 1261.8 1299.2 1261.8 1299.2 1261.5 1296.5 1261.5 1296.5 1262.0 1293.8 1262.0 1293.8 1263.0 1291.0 1263.0 1291.0 1263.1 1288.2 1263.1 1288.2 1262.6 1285.5 1262.6 1285.5 1263.6 1282.8 1263.6 1282.8 1261.7 1280.0 1261.7 1280.0 1263.3 1277.2 1263.3 1277.2 1263.9 1274.5 1263.9 1274.5 1262.1 1271.8 1262.1 1271.8 1260.3 1269.0 1260.3 1269.0 1260.7 1266.2 1260.7 1266.2 1262.9 1263.5 1262.9 1263.5 1264.1 1260.8 1264.1 1260.8 1261.6 1258.0 1261.6 1258.0 1262.7 1255.2 1262.7 1255.2 1261.3 1252.5 1261.3 1252.5 1261.3 1249.8 1261.3 1249.8 1262.2 1247.0 1262.2 1247.0 1264.9 1244.2 1264.9 1244.2 1262.5 1241.5 1262.5 1241.5 1262.9 1238.8 1262.9 1238.8 1261.4 1236.0 1261.4 1236.0 1260.2 1233.2 1260.2 1233.2 1260.8 1230.5 1260.8 1230.5 1260.2 1227.8 1260.2 1227.8 1263.5 1225.0 1263.5 1225.0 1261.4 1222.2 1261.4 1222.2 1261.9 1219.5 1261.9 1219.5 1261.3 1216.8 1261.3 1216.8 1262.6 1214.0 1262.6 1214.0 1261.7 1211.2 1261.7 1211.2 1261.4 1208.5 1261.4 1208.5 1266.4 1205.8 1266.4 1205.8 1264.2 1203.0 1264.2 1203.0 1262.3 1200.2 1262.3 1200.2 1261.0 1197.5 1261.0 1197.5 1260.6 1194.8 1260.6 1194.8 1260.7 1192.0 1260.7 1192.0 1260.4 1189.2 1260.4 1189.2 1261.5 1186.5 1261.5 1186.5 1259.8 1183.8 1259.8 1183.8 1260.1 1181.0 1260.1 1181.0 1259.6 1178.2 1259.6 1178.2 1260.0 1175.5 1260.0 1175.5 1260.2 1172.8 1260.2 1172.8 1260.7 1170.0 1260.7 1170.0 1261.7 1167.2 1261.7 1167.2 1261.6 1164.5 1261.6 1164.5 1260.3 1161.8 1260.3 1161.8 1261.2 1159.0 1261.2 1159.0 1259.7 1156.2 1259.7 1156.2 1258.0 1153.5 1258.0 1153.5 1257.6 1150.8 1257.6 1150.8 1257.8 1148.0 1257.8 1148.0 1257.0 1145.2 1257.0 1145.2 1256.9 1142.5 1256.9 1142.5 1256.8 1139.8 1256.8 1139.8 1259.6 1137.0 1259.6 1137.0 1256.4 1134.2 1256.4 1134.2 1259.0 1131.5 1259.0 1131.5 1258.5 1128.8 1258.5 1128.8 1259.1 1126.0 1259.1 1126.0 1259.4 1123.2 1259.4 1123.2 1258.2 1120.5 1258.2 1120.5 1256.0 1117.8 1256.0 1117.8 1256.6 1115.0 1256.6 1115.0 1257.6 1112.2 1257.6 1112.2 1258.6 1109.5 1258.6 1109.5 1258.6 1106.8 1258.6 1106.8 1257.4 1104.0 1257.4 1104.0 1259.2 1101.2 1259.2 1101.2 1256.4 1098.5 1256.4 1098.5 1257.0 1095.8 1257.0 1095.8 1256.7 1093.0 1256.7 1093.0 1256.8 1090.2 1256.8 1090.2 1255.9 1087.5 1255.9 1087.5 1257.2 1084.8 1257.2 1084.8 1257.3 1082.0 1257.3 1082.0 1254.3 1079.2 1254.3 1079.2 1253.0 1076.5 1253.0 1076.5 1255.0 1073.8 1255.0 1073.8 1254.8 1071.0 1254.8 1071.0 1253.7 1068.2 1253.7 1068.2 1254.8 1065.5 1254.8 1065.5 1252.8 1062.8 1252.8 1062.8 1255.4 1060.0 1255.4 1060.0 1257.3 1057.2 1257.3 1057.2 1254.0 1054.5 1254.0 1054.5 1255.5 1051.8 1255.5 1051.8 1254.1 1049.0 1254.1 1049.0 1253.8 1046.2 1253.8 1046.2 1254.0 1043.5 1254.0 1043.5 1251.8 1040.8 1251.8 1040.8 1254.9 1038.0 1254.9 1038.0 1253.0 1035.2 1253.0 1035.2 1255.0 1032.5 1255.0 1032.5 1254.6 1029.8 1254.6 1029.8 1256.2 1027.0 1256.2 1027.0 1253.8 1024.2 1253.8 1024.2 1254.1 1021.5 1254.1 1021.5 1255.0 1018.8 1255.0 1018.8 1252.8 1016.0 1252.8 1016.0 1250.0 1013.2 1250.0 1013.2 1253.6 1010.5 1253.6 1010.5 1252.7 1007.8 1252.7 1007.8 1254.4 1005.0 1254.4 1005.0 1256.1 1002.2 1256.1 1002.2 1253.2 999.5 1253.2 999.5 1254.1 996.8 1254.1 996.8 1254.1 994.0 1254.1 994.0 1252.3 991.2 1252.3 991.2 1254.5 988.5 1254.5 988.5 1253.6 985.8 1253.6 985.8 1253.2 983.0 1253.2 983.0 1251.1 980.2 1251.1 980.2 1251.2 977.5 1251.2 977.5 1249.0 974.8 1249.0 974.8 1250.3 972.0 1250.3 972.0 1248.0 969.2 1248.0 969.2 1247.9 966.5 1247.9 966.5 1250.1 963.8 1250.1 963.8 1249.0 961.0 1249.0 961.0 1248.4 958.2 1248.4 958.2 1248.2 955.5 1248.2 955.5 1248.1 952.8 1248.1 952.8 1252.5 950.0 1252.5 950.0 1248.6 947.2 1248.6 947.2 1246.0 944.5 1246.0 944.5 1247.7 941.8 1247.7 941.8 1248.2 939.0 1248.2 939.0 1249.7 936.2 1249.7 936.2 1248.3 933.5 1248.3 933.5 1249.8 930.8 1249.8 930.8 1251.0 928.0 1251.0 928.0 1249.2 925.2 1249.2 925.2 1249.0 922.5 1249.0 922.5 1248.7 919.8 1248.7 919.8 1248.6 917.0 1248.6 917.0 1249.0 914.2 1249.0 914.2 1253.2 911.5 1253.2 911.5 1248.3 908.8 1248.3 908.8 1245.8 906.0 1245.8 906.0 1248.0 903.2 1248.0 903.2 1245.9 900.5 1245.9 900.5 1244.8 897.8 1244.8 897.8 1245.8 895.0 1245.8 895.0 1246.4 892.2 1246.4 892.2 1246.9 889.5 1246.9 889.5 1247.8 886.8 1247.8 886.8 1244.6 884.0 1244.6 884.0 1245.6 881.2 1245.6 881.2 1243.0 878.5 1243.0 878.5 1243.9 875.8 1243.9 875.8 1243.2 873.0 1243.2 873.0 1244.3 870.2 1244.3 870.2 1241.6 867.5 1241.6 867.5 1241.6 864.8 1241.6 864.8 1242.5 862.0 1242.5 862.0 1246.4 859.2 1246.4 859.2 1244.4 856.5 1244.4 856.5 1238.9 853.8 1238.9 853.8 1239.9 851.0 1239.9 851.0 1240.2 848.2 1240.2 848.2 1240.9 845.5 1240.9 845.5 1243.3 842.8 1243.3 842.8 1239.9 840.0 1239.9 840.0 1242.1 837.2 1242.1 837.2 1237.3 834.5 1237.3 834.5 1240.3 831.8 1240.3 831.8 1237.2 829.0 1237.2 829.0 1239.5 826.2 1239.5 826.2 1237.1 823.5 1237.1 823.5 1236.0 820.8 1236.0 820.8 1234.4 818.0 1234.4 818.0 1234.4 815.2 1234.4 815.2 1232.9 812.5 1232.9 812.5 1232.3 809.8 1232.3 809.8 1232.3 807.0 1232.3 807.0 1231.9 804.2 1231.9 804.2 1231.7 801.5 1231.7 801.5 1230.8 798.8 1230.8 798.8 1229.1 796.0 1229.1 796.0 1224.8 793.2 1224.8 793.2 1224.0 790.5 1224.0 790.5 1224.6 787.8 1224.6 787.8 1222.3 785.0 1222.3 785.0 1216.3 782.2 1216.3 782.2 1216.0 779.5 1216.0 779.5 1212.9 776.8 1212.9 776.8 1210.7 774.0 1210.7 774.0 1207.6 771.2 1207.6 771.2 1206.3 768.5 1206.3 768.5 1203.3 765.8 1203.3 765.8 1205.9 763.0 1205.9 763.0 1201.0 760.2 1201.0 760.2 1203.2 757.5 1203.2 757.5 1201.4 754.8 1201.4 754.8 1202.9 752.0 1202.9 752.0 1200.7 749.2 1200.7 749.2 1203.0 746.5 1203.0 746.5 1202.1 743.8 1202.1 743.8 1200.8 741.0 1200.8 741.0 1204.5 738.2 1204.5 738.2 1209.0 735.5 1209.0 735.5 1211.9 732.8 1211.9 732.8 1210.3 730.0 1210.3 730.0 1210.1 727.2 1210.1 727.2 1207.4 724.5 1207.4 724.5 1211.0 721.8 1211.0 721.8 1213.1 719.0 1213.1 719.0 1213.0 716.2 1213.0 716.2 1214.3 713.5 1214.3 713.5 1214.9 710.8 1214.9 710.8 1209.0 708.0 1209.0 708.0 1206.6 705.2 1206.6 705.2 1212.5 702.5 1212.5 702.5 1211.2 699.8 1211.2 699.8 1212.7 697.0 1212.7 697.0 1211.5 694.2 1211.5 694.2 1211.5 691.5 1211.5 691.5 1208.9 688.8 1208.9 688.8 1211.8 686.0 1211.8 686.0 1210.6 683.2 1210.6 683.2 1209.9 680.5 1209.9 680.5 1211.5 677.8 1211.5 677.8 1214.1 675.0 1214.1 675.0 1212.8 672.2 1212.8 672.2 1213.3 669.5 1213.3 669.5 1213.2 666.8 1213.2 666.8 1212.5 664.0 1212.5 664.0 1213.8 661.2 1213.8 661.2 1214.7 658.5 1214.7 658.5 1212.1 655.8 1212.1 655.8 1209.4 653.0 1209.4 653.0 1208.4 650.2 1208.4 650.2 1209.9 647.5 1209.9 647.5 1210.7 644.8 1210.7 644.8 1212.7 642.0 1212.7 642.0 1210.5 639.2 1210.5 639.2 1209.9 636.5 1209.9 636.5 1208.6 633.8 1208.6 633.8 1204.7 631.0 1204.7 631.0 1209.5 628.2 1209.5 628.2 1208.0 625.5 1208.0 625.5 1207.8 622.8 1207.8 622.8 1208.3 620.0 1208.3 620.0 1206.2 617.2 1206.2 617.2 1203.8 614.5 1203.8 614.5 1205.0 611.8 1205.0 611.8 1202.7 609.0 1202.7 609.0 1205.7 606.2 1205.7 606.2 1201.3 603.5 1201.3 603.5 1202.3 600.8 1202.3 600.8 1202.3 598.0 1202.3 598.0 1200.3 595.2 1200.3 595.2 1202.0 592.5 1202.0 592.5 1200.6 589.8 1200.6 589.8 1198.7 587.0 1198.7 587.0 1199.3 584.2 1199.3 584.2 1199.3 581.5 1199.3 581.5 1196.7 578.8 1196.7 578.8 1196.8 576.0 1196.8 576.0 1194.1 573.2 1194.1 573.2 1191.3 570.5 1191.3 570.5 1190.2 567.8 1190.2 567.8 1188.7 565.0 1188.7 565.0 1188.9 562.2 1188.9 562.2 1186.6 559.5 1186.6 559.5 1182.4 556.8 1182.4 556.8 1185.2 554.0 1185.2 554.0 1185.3 551.2 1185.3 551.2 1188.0 548.5 1188.0 548.5 1186.0 545.8 1186.0 545.8 1180.5 543.0 1180.5 543.0 1176.9 540.2 1176.9 540.2 1177.8 537.5 1177.8 537.5 1177.9 534.8 1177.9 534.8 1176.5 532.0 1176.5 532.0 1179.6 529.2 1179.6 529.2 1180.4 526.5 1180.4 526.5 1183.3 523.8 1183.3 523.8 1180.1 521.0 1180.1 521.0 1180.0 518.2 1180.0 518.2 1175.6 515.5 1175.6 515.5 1177.8 512.8 1177.8 512.8 1177.6 510.0 1177.6 510.0 1178.7 507.2 1178.7 507.2 1180.8 504.5 1180.8 504.5 1176.4 501.8 1176.4 501.8 1174.2 499.0 1174.2 499.0 1172.2 496.2 1172.2 496.2 1172.1 493.5 1172.1 493.5 1175.7 490.8 1175.7 490.8 1170.8 488.0 1170.8 488.0 1167.9 485.2 1167.9 485.2 1165.7 482.5 1165.7 482.5 1164.8 479.8 1164.8 479.8 1163.9 477.0 1163.9 477.0 1160.7 474.2 1160.7 474.2 1157.3 471.5 1157.3 471.5 1151.1 468.8 1151.1 468.8 1140.9 466.0 1140.9 466.0 1131.9 463.2 1131.9 463.2 1121.5 460.5 1121.5 460.5 1108.2 457.8 1108.2 457.8 1095.7 455.0 1095.7 455.0 1080.7 452.2 1080.7 452.2 1061.6 449.5 1061.6 449.5 1039.4 446.8 1039.4 446.8 1005.1 444.0 1005.1 444.0 967.6 441.2 967.6 441.2 915.9 438.5 915.9 438.5 881.4 435.8 881.4 435.8 856.6 433.0 856.6 433.0 825.8 430.2 825.8 430.2 797.5 427.5 797.5 427.5 794.5 424.8 794.5 424.8 825.7 422.0 825.7 422.0 856.4 419.2 856.4 419.2 885.0 416.5 885.0 416.5 918.3 413.8 918.3 413.8 957.7 411.0 957.7 411.0 992.0 408.2 992.0 408.2 1015.3 405.5 1015.3 405.5 1038.3 402.8 1038.3 402.8 1057.9 400.0 1057.9 400.0 1079.0 397.2 1079.0 397.2 1092.6 394.5 1092.6 394.5 1106.6 391.8 1106.6 391.8 1121.8 389.0 1121.8 389.0 1133.5 386.2 1133.5 386.2 1144.4 383.5 1144.4 383.5 1153.3 380.8 1153.3 380.8 1163.6 378.0 1163.6 378.0 1171.0 375.2 1171.0 375.2 1175.9 372.5 1175.9 372.5 1178.5 369.8 1178.5 369.8 1183.6 367.0 1183.6 367.0 1185.7 364.2 1185.7 364.2 1189.4 361.5 1189.4 361.5 1195.6 358.8 1195.6 358.8 1198.2 356.0 1198.2 356.0 1202.7 353.2 1202.7 353.2 1206.3 350.5 1206.3 350.5 1206.1 347.8 1206.1 347.8 1210.1 345.0 1210.1 345.0 1211.8 342.2 1211.8 342.2 1211.0 339.5 1211.0 339.5 1212.2 336.8 1212.2 336.8 1216.1 334.0 1216.1 334.0 1219.2 331.2 1219.2 331.2 1217.8 328.5 1217.8 328.5 1225.3 325.8 1225.3 325.8 1223.8 323.0 1223.8 323.0 1224.2 320.2 1224.2 320.2 1222.8 317.5 1222.8 317.5 1223.4 314.8 1223.4 314.8 1225.8 312.0 1225.8 312.0 1226.9 309.2 1226.9 309.2 1229.7 306.5 1229.7 306.5 1231.0 303.8 1231.0 303.8 1232.6 301.0 1232.6 301.0 1232.7 298.2 1232.7 298.2 1229.8 295.5 1229.8 295.5 1233.8 292.8 1233.8 292.8 1233.3 290.0 1233.3 290.0 1235.4 287.2 1235.4 287.2 1235.4 284.5 1235.4 284.5 1237.5 281.8 1237.5 281.8 1240.6 279.0 1240.6 279.0 1238.3 276.2 1238.3 276.2 1238.6 273.5 1238.6 273.5 1238.1 270.8 1238.1 270.8 1236.9 268.0 1236.9 268.0 1239.1 265.2 1239.1 265.2 1239.2 262.5 1239.2 262.5 1239.3 259.8 1239.3 259.8 1239.9 257.0 1239.9 257.0 1243.9 254.2 1243.9 254.2 1241.3 251.5 1241.3 251.5 1242.5 248.8 1242.5 248.8 1244.4 246.0 1244.4 246.0 1244.7 243.2 1244.7 243.2 1243.8 240.5 1243.8 240.5 1242.3 237.8 1242.3 237.8 1243.8 235.0 1243.8 235.0 1247.0 232.2 1247.0 232.2 1246.3 229.5 1246.3 229.5 1245.8 226.8 1245.8 226.8 1248.0 224.0 1248.0 224.0 1245.7 221.2 1245.7 221.2 1242.9 218.5 1242.9Z"/>
<path fill="#000000" d="M218.5 1228.8 221.2 1228.8 221.2 1230.8 224.0 1230.8 224.0 1232.3 226.8 1232.3 226.8 1230.5 229.5 1230.5 229.5 1232.0 232.2 1232.0 232.2 1230.8 235.0 1230.8 235.0 1228.4 237.8 1228.4 237.8 1229.3 240.5 1229.3 240.5 1230.7 243.2 1230.7 243.2 1230.6 246.0 1230.6 246.0 1229.1 248.8 1229.1 248.8 1227.4 251.5 1227.4 251.5 1227.1 254.2 1227.1 254.2 1225.6 257.0 1225.6 257.0 1225.8 259.8 1225.8 259.8 1225.4 262.5 1225.4 262.5 1222.8 265.2 1222.8 265.2 1223.0 268.0 1223.0 268.0 1222.6 270.8 1222.6 270.8 1223.2 273.5 1223.2 273.5 1224.3 276.2 1224.3 276.2 1220.9 279.0 1220.9 279.0 1222.2 281.8 1222.2 281.8 1221.5 284.5 1221.5 284.5 1219.4 287.2 1219.4 287.2 1218.7 290.0 1218.7 290.0 1218.3 292.8 1218.3 292.8 1217.3 295.5 1217.3 295.5 1215.6 298.2 1215.6 298.2 1214.4 301.0 1214.4 301.0 1215.1 303.8 1215.1 303.8 1211.9 306.5 1211.9 306.5 1212.6 309.2 1212.6 309.2 1210.9 312.0 1210.9 312.0 1207.9 314.8 1207.9 314.8 1204.6 317.5 1204.6 317.5 1205.1 320.2 1205.1 320.2 1206.3 323.0 1206.3 323.0 1206.0 325.8 1206.0 325.8 1205.4 328.5 1205.4 328.5 1199.7 331.2 1199.7 331.2 1200.5 334.0 1200.5 334.0 1197.8 336.8 1197.8 336.8 1193.8 339.5 1193.8 339.5 1192.0 342.2 1192.0 342.2 1193.1 345.0 1193.1 345.0 1191.1 347.8 1191.1 347.8 1184.6 350.5 1184.6 350.5 1184.1 353.2 1184.1 353.2 1179.0 356.0 1179.0 356.0 1177.8 358.8 1177.8 358.8 1172.1 361.5 1172.1 361.5 1167.0 364.2 1167.0 364.2 1162.3 367.0 1162.3 367.0 1159.8 369.8 1159.8 369.8 1153.1 372.5 1153.1 372.5 1147.0 375.2 1147.0 375.2 1138.8 378.0 1138.8 378.0 1127.0 380.8 1127.0 380.8 1116.5 383.5 1116.5 383.5 1102.0 386.2 1102.0 386.2 1086.2 389.0 1086.2 389.0 1071.6 391.8 1071.6 391.8 1050.5 394.5 1050.5 394.5 1028.2 397.2 1028.2 397.2 1009.0 400.0 1009.0 400.0 983.3 402.8 983.3 402.8 949.1 405.5 949.1 405.5 909.1 408.2 909.1 408.2 877.3 411.0 877.3 411.0 849.2 413.8 849.2 413.8 814.9 416.5 814.9 416.5 786.8 419.2 786.8 419.2 759.9 422.0 759.9 422.0 743.6 424.8 743.6 424.8 742.6 427.5 742.6 427.5 742.6 430.2 742.6 430.2 745.7 433.0 745.7 433.0 770.7 435.8 770.7 435.8 791.4 438.5 791.4 438.5 816.3 441.2 816.3 441.2 849.1 444.0 849.1 444.0 875.0 446.8 875.0 446.8 904.6 449.5 904.6 449.5 958.3 452.2 958.3 452.2 993.2 455.0 993.2 455.0 1030.6 457.8 1030.6 457.8 1055.9 460.5 1055.9 460.5 1076.0 463.2 1076.0 463.2 1091.6 466.0 1091.6 466.0 1102.2 468.8 1102.2 468.8 1111.7 471.5 1111.7 471.5 1122.8 474.2 1122.8 474.2 1133.4 477.0 1133.4 477.0 1141.6 479.8 1141.6 479.8 1147.0 482.5 1147.0 482.5 1147.7 485.2 1147.7 485.2 1149.7 488.0 1149.7 488.0 1153.1 490.8 1153.1 490.8 1154.1 493.5 1154.1 493.5 1156.5 496.2 1156.5 496.2 1151.9 499.0 1151.9 499.0 1155.9 501.8 1155.9 501.8 1159.9 504.5 1159.9 504.5 1161.1 507.2 1161.1 507.2 1160.4 510.0 1160.4 510.0 1159.0 512.8 1159.0 512.8 1162.5 515.5 1162.5 515.5 1158.5 518.2 1158.5 518.2 1153.5 521.0 1153.5 521.0 1159.5 523.8 1159.5 523.8 1163.4 526.5 1163.4 526.5 1164.0 529.2 1164.0 529.2 1160.7 532.0 1160.7 532.0 1157.1 534.8 1157.1 534.8 1158.0 537.5 1158.0 537.5 1160.2 540.2 1160.2 540.2 1160.6 543.0 1160.6 543.0 1163.1 545.8 1163.1 545.8 1167.8 548.5 1167.8 548.5 1168.4 551.2 1168.4 551.2 1166.3 554.0 1166.3 554.0 1165.2 556.8 1165.2 556.8 1165.4 559.5 1165.4 559.5 1166.3 562.2 1166.3 562.2 1170.9 565.0 1170.9 565.0 1171.8 567.8 1171.8 567.8 1171.5 570.5 1171.5 570.5 1170.0 573.2 1170.0 573.2 1173.2 576.0 1173.2 576.0 1177.3 578.8 1177.3 578.8 1176.6 581.5 1176.6 581.5 1181.2 584.2 1181.2 584.2 1181.3 587.0 1181.3 587.0 1179.6 589.8 1179.6 589.8 1180.2 592.5 1180.2 592.5 1183.6 595.2 1183.6 595.2 1181.2 598.0 1181.2 598.0 1183.0 600.8 1183.0 600.8 1182.8 603.5 1182.8 603.5 1184.8 606.2 1184.8 606.2 1185.4 609.0 1185.4 609.0 1184.1 611.8 1184.1 611.8 1187.4 614.5 1187.4 614.5 1187.3 617.2 1187.3 617.2 1188.1 620.0 1188.1 620.0 1189.6 622.8 1189.6 622.8 1191.7 625.5 1191.7 625.5 1189.0 628.2 1189.0 628.2 1187.0 631.0 1187.0 631.0 1187.1 633.8 1187.1 633.8 1189.9 636.5 1189.9 636.5 1192.3 639.2 1192.3 639.2 1192.9 642.0 1192.9 642.0 1190.5 644.8 1190.5 644.8 1193.6 647.5 1193.6 647.5 1191.2 650.2 1191.2 650.2 1189.9 653.0 1189.9 653.0 1192.0 655.8 1192.0 655.8 1195.3 658.5 1195.3 658.5 1194.7 661.2 1194.7 661.2 1194.7 664.0 1194.7 664.0 1194.9 666.8 1194.9 666.8 1194.3 669.5 1194.3 669.5 1195.7 672.2 1195.7 672.2 1195.2 675.0 1195.2 675.0 1194.8 677.8 1194.8 677.8 1193.3 680.5 1193.3 680.5 1190.5 683.2 1190.5 683.2 1190.8 686.0 1190.8 686.0 1193.6 688.8 1193.6 688.8 1192.2 691.5 1192.2 691.5 1192.3 694.2 1192.3 694.2 1190.5 697.0 1190.5 697.0 1193.8 699.8 1193.8 699.8 1195.2 702.5 1195.2 702.5 1196.4 705.2 1196.4 705.2 1189.3 708.0 1189.3 708.0 1190.4 710.8 1190.4 710.8 1192.5 713.5 1192.5 713.5 1195.3 716.2 1195.3 716.2 1193.9 719.0 1193.9 719.0 1194.5 721.8 1194.5 721.8 1193.2 724.5 1193.2 724.5 1191.8 727.2 1191.8 727.2 1194.2 730.0 1194.2 730.0 1190.2 732.8 1190.2 732.8 1191.7 735.5 1191.7 735.5 1190.8 738.2 1190.8 738.2 1186.8 741.0 1186.8 741.0 1184.4 743.8 1184.4 743.8 1184.3 746.5 1184.3 746.5 1184.0 749.2 1184.0 749.2 1181.2 752.0 1181.2 752.0 1179.4 754.8 1179.4 754.8 1183.1 757.5 1183.1 757.5 1179.9 760.2 1179.9 760.2 1181.9 763.0 1181.9 763.0 1186.8 765.8 1186.8 765.8 1186.6 768.5 1186.6 768.5 1188.2 771.2 1188.2 771.2 1190.6 774.0 1190.6 774.0 1191.7 776.8 1191.7 776.8 1193.9 779.5 1193.9 779.5 1198.6 782.2 1198.6 782.2 1197.9 785.0 1197.9 785.0 1203.8 787.8 1203.8 787.8 1206.5 790.5 1206.5 790.5 1206.3 793.2 1206.3 793.2 1207.9 796.0 1207.9 796.0 1212.3 798.8 1212.3 798.8 1214.2 801.5 1214.2 801.5 1214.7 804.2 1214.7 804.2 1215.8 807.0 1215.8 807.0 1216.5 809.8 1216.5 809.8 1216.5 812.5 1216.5 812.5 1217.4 815.2 1217.4 815.2 1214.0 818.0 1214.0 818.0 1217.9 820.8 1217.9 820.8 1220.7 823.5 1220.7 823.5 1221.1 826.2 1221.1 826.2 1221.3 829.0 1221.3 829.0 1223.0 831.8 1223.0 831.8 1220.9 834.5 1220.9 834.5 1222.7 837.2 1222.7 837.2 1226.1 840.0 1226.1 840.0 1224.7 842.8 1224.7 842.8 1224.1 845.5 1224.1 845.5 1224.4 848.2 1224.4 848.2 1223.6 851.0 1223.6 851.0 1224.5 853.8 1224.5 853.8 1223.9 856.5 1223.9 856.5 1228.3 859.2 1228.3 859.2 1226.5 862.0 1226.5 862.0 1227.8 864.8 1227.8 864.8 1227.4 867.5 1227.4 867.5 1229.0 870.2 1229.0 870.2 1229.2 873.0 1229.2 873.0 1228.7 875.8 1228.7 875.8 1230.6 878.5 1230.6 878.5 1229.0 881.2 1229.0 881.2 1229.4 884.0 1229.4 884.0 1230.5 886.8 1230.5 886.8 1232.3 889.5 1232.3 889.5 1232.7 892.2 1232.7 892.2 1232.7 895.0 1232.7 895.0 1231.1 897.8 1231.1 897.8 1229.3 900.5 1229.3 900.5 1232.9 903.2 1232.9 903.2 1234.2 906.0 1234.2 906.0 1233.7 908.8 1233.7 908.8 1233.1 911.5 1233.1 911.5 1235.6 914.2 1235.6 914.2 1235.3 917.0 1235.3 917.0 1235.6 919.8 1235.6 919.8 1234.3 922.5 1234.3 922.5 1236.2 925.2 1236.2 925.2 1234.6 928.0 1234.6 928.0 1237.2 930.8 1237.2 930.8 1234.9 933.5 1234.9 933.5 1234.0 936.2 1234.0 936.2 1236.1 939.0 1236.1 939.0 1232.9 941.8 1232.9 941.8 1232.9 944.5 1232.9 944.5 1232.8 947.2 1232.8 947.2 1233.8 950.0 1233.8 950.0 1234.5 952.8 1234.5 952.8 1234.7 955.5 1234.7 955.5 1235.6 958.2 1235.6 958.2 1233.7 961.0 1233.7 961.0 1235.2 963.8 1235.2 963.8 1237.1 966.5 1237.1 966.5 1236.7 969.2 1236.7 969.2 1235.6 972.0 1235.6 972.0 1237.6 974.8 1237.6 974.8 1235.5 977.5 1235.5 977.5 1237.1 980.2 1237.1 980.2 1238.7 983.0 1238.7 983.0 1240.4 985.8 1240.4 985.8 1240.7 988.5 1240.7 988.5 1239.9 991.2 1239.9 991.2 1237.5 994.0 1237.5 994.0 1238.5 996.8 1238.5 996.8 1239.4 999.5 1239.4 999.5 1238.8 1002.2 1238.8 1002.2 1238.7 1005.0 1238.7 1005.0 1241.2 1007.8 1241.2 1007.8 1239.6 1010.5 1239.6 1010.5 1239.6 1013.2 1239.6 1013.2 1238.7 1016.0 1238.7 1016.0 1242.5 1018.8 1242.5 1018.8 1242.8 1021.5 1242.8 1021.5 1241.3 1024.2 1241.3 1024.2 1238.9 1027.0 1238.9 1027.0 1240.9 1029.8 1240.9 1029.8 1241.5 1032.5 1241.5 1032.5 1240.9 1035.2 1240.9 1035.2 1241.0 1038.0 1241.0 1038.0 1242.2 1040.8 1242.2 1040.8 1239.7 1043.5 1239.7 1043.5 1239.5 1046.2 1239.5 1046.2 1241.8 1049.0 1241.8 1049.0 1241.7 1051.8 1241.7 1051.8 1241.7 1054.5 1241.7 1054.5 1242.8 1057.2 1242.8 1057.2 1243.8 1060.0 1243.8 1060.0 1242.3 1062.8 1242.3 1062.8 1241.1 1065.5 1241.1 1065.5 1243.2 1068.2 1243.2 1068.2 1240.8 1071.0 1240.8 1071.0 1241.1 1073.8 1241.1 1073.8 1239.5 1076.5 1239.5 1076.5 1240.0 1079.2 1240.0 1079.2 1243.9 1082.0 1243.9 1082.0 1244.1 1084.8 1244.1 1084.8 1243.5 1087.5 1243.5 1087.5 1245.1 1090.2 1245.1 1090.2 1244.1 1093.0 1244.1 1093.0 1245.8 1095.8 1245.8 1095.8 1245.1 1098.5 1245.1 1098.5 1244.6 1101.2 1244.6 1101.2 1246.5 1104.0 1246.5 1104.0 1247.0 1106.8 1247.0 1106.8 1245.9 1109.5 1245.9 1109.5 1246.4 1112.2 1246.4 1112.2 1245.0 1115.0 1245.0 1115.0 1246.4 1117.8 1246.4 1117.8 1245.5 1120.5 1245.5 1120.5 1245.6 1123.2 1245.6 1123.2 1246.3 1126.0 1246.3 1126.0 1248.7 1128.8 1248.7 1128.8 1246.2 1131.5 1246.2 1131.5 1246.5 1134.2 1246.5 1134.2 1245.4 1137.0 1245.4 1137.0 1245.7 1139.8 1245.7 1139.8 1245.5 1142.5 1245.5 1142.5 1242.4 1145.2 1242.4 1145.2 1244.0 1148.0 1244.0 1148.0 1245.4 1150.8 1245.4 1150.8 1244.6 1153.5 1244.6 1153.5 1245.4 1156.2 1245.4 1156.2 1246.4 1159.0 1246.4 1159.0 1246.6 1161.8 1246.6 1161.8 1247.2 1164.5 1247.2 1164.5 1248.1 1167.2 1248.1 1167.2 1248.0 1170.0 1248.0 1170.0 1249.7 1172.8 1249.7 1172.8 1249.8 1175.5 1249.8 1175.5 1248.4 1178.2 1248.4 1178.2 1247.6 1181.0 1247.6 1181.0 1244.2 1183.8 1244.2 1183.8 1246.6 1186.5 1246.6 1186.5 1248.2 1189.2 1248.2 1189.2 1248.0 1192.0 1248.0 1192.0 1248.9 1194.8 1248.9 1194.8 1249.7 1197.5 1249.7 1197.5 1249.4 1200.2 1249.4 1200.2 1249.9 1203.0 1249.9 1203.0 1251.5 1205.8 1251.5 1205.8 1251.8 1208.5 1251.8 1208.5 1249.9 1211.2 1249.9 1211.2 1249.4 1214.0 1249.4 1214.0 1251.4 1216.8 1251.4 1216.8 1250.1 1219.5 1250.1 1219.5 1249.4 1222.2 1249.4 1222.2 1250.3 1225.0 1250.3 1225.0 1250.5 1227.8 1250.5 1227.8 1250.5 1230.5 1250.5 1230.5 1249.1 1233.2 1249.1 1233.2 1249.6 1236.0 1249.6 1236.0 1250.6 1238.8 1250.6 1238.8 1252.2 1241.5 1252.2 1241.5 1253.4 1244.2 1253.4 1244.2 1250.9 1247.0 1250.9 1247.0 1252.0 1249.8 1252.0 1249.8 1249.5 1252.5 1249.5 1252.5 1249.4 1255.2 1249.4 1255.2 1249.8 1258.0 1249.8 1258.0 1248.0 1260.8 1248.0 1260.8 1250.4 1263.5 1250.4 1263.5 1250.2 1266.2 1250.2 1266.2 1249.8 1269.0 1249.8 1269.0 1248.5 1271.8 1248.5 1271.8 1250.4 1274.5 1250.4 1274.5 1251.7 1277.2 1251.7 1277.2 1247.0 1280.0 1247.0 1280.0 1251.2 1282.8 1251.2 1282.8 1251.4 1285.5 1251.4 1285.5 1250.8 1288.2 1250.8 1288.2 1253.5 1291.0 1253.5 1291.0 1251.8 1293.8 1251.8 1293.8 1250.1 1296.5 1250.1 1296.5 1248.0 1299.2 1248.0 1299.2 1252.1 1302.0 1252.1 1302.0 1250.9 1304.8 1250.9 1304.8 1252.3 1307.5 1252.3 1307.5 1253.3 1310.2 1253.3 1310.2 1252.0 1313.0 1252.0 1313.0 1250.8 1315.8 1250.8 1315.8 1252.2 1318.5 1252.2 1318.5 1253.1 1321.2 1253.1 1321.2 1250.6 1324.0 1250.6 1324.0 1253.4 1326.8 1253.4 1326.8 1251.7 1329.5 1251.7 1329.5 1252.1 1332.2 1252.1 1332.2 1249.0 1335.0 1249.0 1335.0 1251.4 1337.8 1251.4 1337.8 1252.5 1340.5 1252.5 1340.5 1253.0 1343.2 1253.0 1343.2 1252.7 1346.0 1252.7 1346.0 1252.9 1348.8 1252.9 1348.8 1251.8 1351.5 1251.8 1351.5 1253.2 1354.2 1253.2 1354.2 1252.1 1357.0 1252.1 1357.0 1251.9 1359.8 1251.9 1359.8 1251.8 1362.5 1251.8 1362.5 1254.0 1365.2 1254.0 1365.2 1251.7 1368.0 1251.7 1368.0 1250.1 1370.8 1250.1 1370.8 1252.4 1373.5 1252.4 1373.5 1253.4 1376.2 1253.4 1376.2 1254.0 1379.0 1254.0 1379.0 1254.0 1381.8 1254.0 1381.8 1253.2 1384.5 1253.2 1384.5 1253.2 1387.2 1253.2 1387.2 1253.7 1390.0 1253.7 1390.0 1254.2 1392.8 1254.2 1392.8 1251.2 1395.5 1251.2 1395.5 1253.4 1398.2 1253.4 1398.2 1254.3 1401.0 1254.3 1401.0 1252.9 1403.8 1252.9 1403.8 1253.8 1406.5 1253.8 1406.5 1255.2 1409.2 1255.2 1409.2 1253.6 1412.0 1253.6 1412.0 1252.4 1414.8 1252.4 1414.8 1253.3 1417.5 1253.3 1417.5 1253.4 1420.2 1253.4 1420.2 1253.3 1423.0 1253.3 1423.0 1249.7 1425.8 1249.7 1425.8 1252.5 1428.5 1252.5 1428.5 1253.5 1431.2 1253.5 1431.2 1254.0 1434.0 1254.0 1434.0 1255.2 1436.8 1255.2 1436.8 1254.5 1439.5 1254.5 1439.5 1253.9 1442.2 1253.9 1442.2 1252.4 1445.0 1252.4 1445.0 1254.6 1447.8 1254.6 1447.8 1255.3 1450.5 1255.3 1450.5 1254.4 1453.2 1254.4 1453.2 1255.6 1456.0 1255.6 1456.0 1252.6 1458.8 1252.6 1458.8 1256.6 1461.5 1256.6 1461.5 1256.3 1464.2 1256.3 1464.2 1257.1 1467.0 1257.1 1467.0 1254.8 1469.8 1254.8 1469.8 1256.1 1472.5 1256.1 1472.5 1255.3 1475.2 1255.3 1475.2 1253.8 1478.0 1253.8 1478.0 1254.4 1480.8 1254.4 1480.8 1256.8 1483.5 1256.8 1483.5 1256.2 1486.2 1256.2 1486.2 1252.6 1489.0 1252.6 1489.0 1255.7 1491.8 1255.7 1491.8 1256.2 1494.5 1256.2 1494.5 1256.5 1497.2 1256.5 1497.2 1256.2 1500.0 1256.2 1500.0 1257.5 1502.8 1257.5 1502.8 1259.0 1505.5 1259.0 1505.5 1256.9 1508.2 1256.9 1508.2 1257.1 1511.0 1257.1 1511.0 1259.4 1513.8 1259.4 1513.8 1258.3 1516.5 1258.3 1516.5 1255.6 1519.2 1255.6 1519.2 1258.0 1522.0 1258.0 1522.0 1255.3 1524.8 1255.3 1524.8 1253.8 1527.5 1253.8 1527.5 1258.5 1530.2 1258.5 1530.2 1257.7 1533.0 1257.7 1533.0 1256.4 1535.8 1256.4 1535.8 1256.7 1538.5 1256.7 1538.5 1257.6 1541.2 1257.6 1541.2 1257.4 1544.0 1257.4 1544.0 1258.3 1546.8 1258.3 1546.8 1258.6 1549.5 1258.6 1549.5 1258.3 1552.2 1258.3 1552.2 1258.9 1555.0 1258.9 1555.0 1258.8 1557.8 1258.8 1557.8 1258.0 1560.5 1258.0 1560.5 1259.9 1563.2 1259.9 1563.2 1258.5 1566.0 1258.5 1566.0 1259.4 1568.8 1259.4 1568.8 1257.7 1571.5 1257.7 1571.5 1258.4 1574.2 1258.4 1574.2 1259.0 1577.0 1259.0 1577.0 1257.6 1579.8 1257.6 1579.8 1255.5 1582.5 1255.5 1582.5 1257.8 1585.2 1257.8 1585.2 1257.2 1588.0 1257.2 1588.0 1258.3 1590.8 1258.3 1590.8 1256.8 1593.5 1256.8 1593.5 1258.3 1596.2 1258.3 1596.2 1258.5 1599.0 1258.5 1599.0 1259.4 1601.8 1259.4 1601.8 1258.9 1604.5 1258.9 1604.5 1258.1 1607.2 1258.1 1607.2 1258.0 1610.0 1258.0 1610.0 1258.3 1612.8 1258.3 1612.8 1256.5 1615.5 1256.5 1615.5 1257.8 1618.2 1257.8 1618.2 1258.8 1621.0 1258.8 1621.0 1258.8 1623.8 1258.8 1623.8 1256.1 1626.5 1256.1 1626.5 1255.8 1629.2 1255.8 1629.2 1257.6 1632.0 1257.6 1632.0 1259.1 1634.8 1259.1 1634.8 1254.6 1637.5 1254.6 1637.5 1257.6 1640.2 1257.6 1640.2 1255.5 1643.0 1255.5 1643.0 1257.4 1645.8 1257.4 1645.8 1256.4 1648.5 1256.4 1648.5 1258.2 1651.2 1258.2 1651.2 1256.9 1654.0 1256.9 1654.0 1257.5 1656.8 1257.5 1656.8 1257.7 1659.5 1257.7 1659.5 1257.3 1662.2 1257.3 1662.2 1257.2 1665.0 1257.2 1665.0 1257.5 1667.8 1257.5 1667.8 1257.1 1670.5 1257.1 1670.5 1257.6 1673.2 1257.6 1673.2 1258.5 1676.0 1258.5 1676.0 1258.1 1678.8 1258.1 1678.8 1258.5 1681.5 1258.5 1681.5 1257.5 1684.2 1257.5 1684.2 1257.4 1687.0 1257.4 1687.0 1257.2 1689.8 1257.2 1689.8 1258.5 1692.5 1258.5 1692.5 1259.6 1695.2 1259.6 1695.2 1258.5 1698.0 1258.5 1698.0 1260.5 1700.8 1260.5 1700.8 1257.8 1703.5 1257.8 1703.5 1260.7 1706.2 1260.7 1706.2 1259.2 1709.0 1259.2 1709.0 1257.8 1711.8 1257.8 1711.8 1258.4 1714.5 1258.4 1714.5 1259.1 1717.2 1259.1 1717.2 1258.6 1720.0 1258.6 1720.0 1259.9 1722.8 1259.9 1722.8 1257.7 1725.5 1257.7 1725.5 1258.0 1728.2 1258.0 1728.2 1259.2 1731.0 1259.2 1731.0 1259.9 1733.8 1259.9 1733.8 1259.2 1736.5 1259.2 1736.5 1258.2 1739.2 1258.2 1739.2 1258.5 1742.0 1258.5 1742.0 1258.5 1744.8 1258.5 1744.8 1257.4 1747.5 1257.4 1747.5 1258.2 1750.2 1258.2 1750.2 1258.4 1753.0 1258.4 1753.0 1259.2 1755.8 1259.2 1755.8 1259.6 1758.5 1259.6 1758.5 1258.9 1761.2 1258.9 1761.2 1259.0 1764.0 1259.0 1764.0 1260.7 1766.8 1260.7 1766.8 1259.2 1769.5 1259.2 1769.5 1257.8 1772.2 1257.8 1772.2 1259.4 1775.0 1259.4 1775.0 1260.0 1777.8 1260.0 1777.8 1256.5 1780.5 1256.5 1780.5 1258.6 1783.2 1258.6 1783.2 1260.5 1786.0 1260.5 1786.0 1258.9 1788.8 1258.9 1788.8 1260.2 1791.5 1260.2 1791.5 1258.7 1794.2 1258.7 1794.2 1261.2 1797.0 1261.2 1797.0 1260.0 1799.8 1260.0 1799.8 1260.8 1802.5 1260.8 1802.5 1261.2 1805.2 1261.2 1805.2 1261.4 1808.0 1261.4 1808.0 1263.7 1810.8 1263.7 1810.8 1258.8 1813.5 1258.8 1813.5 1259.5 1816.2 1259.5 1816.2 1259.6 1819.0 1259.6 1819.0 1259.8 1821.8 1259.8 1821.8 1262.6 1824.5 1262.6 1824.5 1258.8 1827.2 1258.8 1827.2 1258.6 1830.0 1258.6 1830.0 1257.8 1832.8 1257.8 1832.8 1258.1 1835.5 1258.1 1835.5 1260.4 1838.2 1260.4 1838.2 1260.1 1841.0 1260.1 1841.0 1259.1 1843.8 1259.1 1843.8 1260.6 1846.5 1260.6 1846.5 1259.6 1849.2 1259.6 1849.2 1259.4 1852.0 1259.4 1852.0 1260.2 1854.8 1260.2 1854.8 1259.6 1857.5 1259.6 1857.5 1259.6 1860.2 1259.6 1860.2 1259.4 1863.0 1259.4 1863.0 1259.8 1865.8 1259.8 1865.8 1257.3 1868.5 1257.3 1868.5 1261.0 1871.2 1261.0 1871.2 1259.2 1874.0 1259.2 1874.0 1259.6 1876.8 1259.6 1876.8 1257.8 1879.5 1257.8 1879.5 1261.1 1882.2 1261.1 1882.2 1259.5 1885.0 1259.5 1885.0 1258.0 1887.8 1258.0 1887.8 1259.8 1890.5 1259.8 1890.5 1260.6 1893.2 1260.6 1893.2 1262.0 1896.0 1262.0 1896.0 1261.9 1898.8 1261.9 1898.8 1257.8 1901.5 1257.8 1901.5 1260.6 1904.2 1260.6 1904.2 1263.0 1907.0 1263.0 1907.0 1261.4 1909.8 1261.4 1909.8 1261.2 1912.5 1261.2 1912.5 1260.3 1915.2 1260.3 1915.2 1261.0 1918.0 1261.0 1918.0 1261.1 1920.8 1261.1 1920.8 1260.9 1923.5 1260.9 1923.5 1260.9 1926.2 1260.9 1926.2 1261.0 1929.0 1261.0 1929.0 1260.5 1931.8 1260.5 1931.8 1259.7 1934.5 1259.7 1934.5 1259.8 1937.2 1259.8 1937.2 1261.1 1940.0 1261.1 1940.0 1261.6 1942.8 1261.6 1942.8 1261.3 1945.5 1261.3 1945.5 1259.1 1948.2 1259.1 1948.2 1259.7 1951.0 1259.7 1951.0 1261.7 1953.8 1261.7 1953.8 1260.7 1956.5 1260.7 1956.5 1260.8 1959.2 1260.8 1959.2 1260.9 1962.0 1260.9 1962.0 1260.4 1964.8 1260.4 1964.8 1260.4 1967.5 1260.4 1967.5 1261.9 1970.2 1261.9 1970.2 1262.1 1973.0 1262.1 1973.0 1260.6 1975.8 1260.6 1975.8 1260.1 1978.5 1260.1 1978.5 1259.0 1981.2 1259.0 1981.2 1261.0 1984.0 1261.0 1984.0 1262.0 1986.8 1262.0 1986.8 1262.9 1989.5 1262.9 1989.5 1262.0 1992.2 1262.0 1992.2 1260.3 1995.0 1260.3 1995.0 1262.0 1997.8 1262.0 1997.8 1261.9 2000.5 1261.9 2000.5 1260.2 2003.2 1260.2 2003.2 1260.9 2006.0 1260.9 2006.0 1261.8 2008.8 1261.8 2008.8 1259.9 2011.5 1259.9 2011.5 1263.7 2014.2 1263.7 2014.2 1262.2 2017.0 1262.2 2017.0 1261.2 2019.8 1261.2 2019.8 1262.5 2022.5 1262.5 2022.5 1261.8 2025.2 1261.8 2025.2 1259.1 2028.0 1259.1 2028.0 1260.1 2030.8 1260.1 2030.8 1258.2 2033.5 1258.2 2033.5 1261.2 2036.2 1261.2 2036.2 1260.8 2039.0 1260.8 2039.0 1260.8 2041.8 1260.8 2041.8 1261.3 2044.5 1261.3 2044.5 1261.1 2047.2 1261.1 2047.2 1261.9 2050.0 1261.9 2050.0 1261.4 2052.8 1261.4 2052.8 1262.3 2055.5 1262.3 2055.5 1262.1 2058.2 1262.1 2058.2 1260.4 2061.0 1260.4 2061.0 1262.3 2063.8 1262.3 2063.8 1260.0 2066.5 1260.0 2066.5 1260.9 2069.2 1260.9 2069.2 1261.3 2072.0 1261.3 2072.0 1261.0 2074.8 1261.0 2074.8 1259.2 2077.5 1259.2 2077.5 1259.2 2080.2 1259.2 2080.2 1260.3 2083.0 1260.3 2083.0 1261.8 2085.8 1261.8 2085.8 1261.5 2088.5 1261.5 2088.5 1260.2 2091.2 1260.2 2091.2 1261.7 2094.0 1261.7 2094.0 1261.1 2096.8 1261.1 2096.8 1261.4 2099.5 1261.4 2099.5 1262.0 2102.2 1262.0 2102.2 1262.3 2105.0 1262.3 2105.0 1257.9 2107.8 1257.9 2107.8 1262.5 2110.5 1262.5 2110.5 1261.9 2113.2 1261.9 2113.2 1262.9 2116.0 1262.9 2116.0 1261.4 2118.8 1261.4 2118.8 1261.7 2121.5 1261.7 2121.5 1261.4 2124.2 1261.4 2124.2 1258.7 2127.0 1258.7 2127.0 1260.6 2129.8 1260.6 2129.8 1261.1 2132.5 1261.1 2132.5 1261.3 2135.2 1261.3 2135.2 1260.1 2138.0 1260.1 2138.0 1260.1 2140.8 1260.1 2140.8 1260.1 2143.5 1260.1 2143.5 1263.2 2146.2 1263.2 2146.2 1263.7 2149.0 1263.7 2149.0 1262.2 2151.8 1262.2 2151.8 1261.3 2154.5 1261.3 2154.5 1261.9 2157.2 1261.9 2157.2 1259.0 2160.0 1259.0 2160.0 1261.7 2162.8 1261.7 2162.8 1260.2 2165.5 1260.2 2165.5 1262.2 2168.2 1262.2 2168.2 1264.4 2171.0 1264.4 2171.0 1262.8 2173.8 1262.8 2173.8 1262.5 2176.5 1262.5 2176.5 1263.3 2179.2 1263.3 2179.2 1264.9 2182.0 1264.9 2182.0 1264.5 2184.8 1264.5 2184.8 1262.6 2187.5 1262.6 2187.5 1262.3 2190.2 1262.3 2190.2 1260.6 2193.0 1260.6 2193.0 1260.6 2195.8 1260.6 2195.8 1260.7 2198.5 1260.7 2198.5 1261.0 2201.2 1261.0 2201.2 1262.6 2203.7 1262.6 2203.7 1269.7 2201.2 1269.7 2201.2 1269.6 2198.5 1269.6 2198.5 1270.0 2195.8 1270.0 2195.8 1270.5 2193.0 1270.5 2193.0 1271.0 2190.2 1271.0 2190.2 1272.2 2187.5 1272.2 2187.5 1274.4 2184.8 1274.4 2184.8 1272.7 2182.0 1272.7 2182.0 1273.6 2179.2 1273.6 2179.2 1271.7 2176.5 1271.7 2176.5 1271.5 2173.8 1271.5 2173.8 1271.1 2171.0 1271.1 2171.0 1271.3 2168.2 1271.3 2168.2 1270.4 2165.5 1270.4 2165.5 1269.5 2162.8 1269.5 2162.8 1270.9 2160.0 1270.9 2160.0 1268.8 2157.2 1268.8 2157.2 1269.4 2154.5 1269.4 2154.5 1269.7 2151.8 1269.7 2151.8 1274.3 2149.0 1274.3 2149.0 1272.5 2146.2 1272.5 2146.2 1271.7 2143.5 1271.7 2143.5 1270.7 2140.8 1270.7 2140.8 1269.3 2138.0 1269.3 2138.0 1271.8 2135.2 1271.8 2135.2 1269.3 2132.5 1269.3 2132.5 1269.1 2129.8 1269.1 2129.8 1270.0 2127.0 1270.0 2127.0 1269.0 2124.2 1269.0 2124.2 1269.6 2121.5 1269.6 2121.5 1270.8 2118.8 1270.8 2118.8 1270.3 2116.0 1270.3 2116.0 1271.4 2113.2 1271.4 2113.2 1270.2 2110.5 1270.2 2110.5 1272.3 2107.8 1272.3 2107.8 1271.6 2105.0 1271.6 2105.0 1270.2 2102.2 1270.2 2102.2 1270.5 2099.5 1270.5 2099.5 1270.5 2096.8 1270.5 2096.8 1269.3 2094.0 1269.3 2094.0 1271.1 2091.2 1271.1 2091.2 1269.4 2088.5 1269.4 2088.5 1269.8 2085.8 1269.8 2085.8 1269.1 2083.0 1269.1 2083.0 1269.7 2080.2 1269.7 2080.2 1269.3 2077.5 1269.3 2077.5 1270.0 2074.8 1270.0 2074.8 1269.1 2072.0 1269.1 2072.0 1269.6 2069.2 1269.6 2069.2 1269.1 2066.5 1269.1 2066.5 1270.9 2063.8 1270.9 2063.8 1271.5 2061.0 1271.5 2061.0 1270.7 2058.2 1270.7 2058.2 1271.0 2055.5 1271.0 2055.5 1271.7 2052.8 1271.7 2052.8 1270.2 2050.0 1270.2 2050.0 1272.1 2047.2 1272.1 2047.2 1273.1 2044.5 1273.1 2044.5 1270.9 2041.8 1270.9 2041.8 1269.7 2039.0 1269.7 2039.0 1269.7 2036.2 1269.7 2036.2 1269.6 2033.5 1269.6 2033.5 1268.1 2030.8 1268.1 2030.8 1268.6 2028.0 1268.6 2028.0 1267.1 2025.2 1267.1 2025.2 1270.1 2022.5 1270.1 2022.5 1271.3 2019.8 1271.3 2019.8 1271.1 2017.0 1271.1 2017.0 1270.4 2014.2 1270.4 2014.2 1272.6 2011.5 1272.6 2011.5 1269.8 2008.8 1269.8 2008.8 1270.3 2006.0 1270.3 2006.0 1271.2 2003.2 1271.2 2003.2 1270.1 2000.5 1270.1 2000.5 1270.8 1997.8 1270.8 1997.8 1270.1 1995.0 1270.1 1995.0 1269.3 1992.2 1269.3 1992.2 1269.3 1989.5 1269.3 1989.5 1269.4 1986.8 1269.4 1986.8 1270.0 1984.0 1270.0 1984.0 1268.4 1981.2 1268.4 1981.2 1268.1 1978.5 1268.1 1978.5 1270.2 1975.8 1270.2 1975.8 1270.2 1973.0 1270.2 1973.0 1271.2 1970.2 1271.2 1970.2 1270.4 1967.5 1270.4 1967.5 1271.3 1964.8 1271.3 1964.8 1268.3 1962.0 1268.3 1962.0 1270.3 1959.2 1270.3 1959.2 1270.6 1956.5 1270.6 1956.5 1270.6 1953.8 1270.6 1953.8 1269.8 1951.0 1269.8 1951.0 1268.0 1948.2 1268.0 1948.2 1268.6 1945.5 1268.6 1945.5 1270.1 1942.8 1270.1 1942.8 1271.2 1940.0 1271.2 1940.0 1271.8 1937.2 1271.8 1937.2 1269.6 1934.5 1269.6 1934.5 1270.3 1931.8 1270.3 1931.8 1268.7 1929.0 1268.7 1929.0 1269.7 1926.2 1269.7 1926.2 1270.9 1923.5 1270.9 1923.5 1269.8 1920.8 1269.8 1920.8 1268.9 1918.0 1268.9 1918.0 1268.9 1915.2 1268.9 1915.2 1269.4 1912.5 1269.4 1912.5 1272.8 1909.8 1272.8 1909.8 1270.1 1907.0 1270.1 1907.0 1271.0 1904.2 1271.0 1904.2 1269.3 1901.5 1269.3 1901.5 1268.0 1898.8 1268.0 1898.8 1269.3 1896.0 1269.3 1896.0 1271.1 1893.2 1271.1 1893.2 1268.5 1890.5 1268.5 1890.5 1268.5 1887.8 1268.5 1887.8 1267.5 1885.0 1267.5 1885.0 1269.5 1882.2 1269.5 1882.2 1268.4 1879.5 1268.4 1879.5 1269.0 1876.8 1269.0 1876.8 1267.9 1874.0 1267.9 1874.0 1267.6 1871.2 1267.6 1871.2 1268.2 1868.5 1268.2 1868.5 1268.5 1865.8 1268.5 1865.8 1270.1 1863.0 1270.1 1863.0 1267.7 1860.2 1267.7 1860.2 1269.4 1857.5 1269.4 1857.5 1270.3 1854.8 1270.3 1854.8 1268.1 1852.0 1268.1 1852.0 1267.1 1849.2 1267.1 1849.2 1267.2 1846.5 1267.2 1846.5 1267.8 1843.8 1267.8 1843.8 1268.6 1841.0 1268.6 1841.0 1268.0 1838.2 1268.0 1838.2 1267.8 1835.5 1267.8 1835.5 1266.5 1832.8 1266.5 1832.8 1268.2 1830.0 1268.2 1830.0 1266.8 1827.2 1266.8 1827.2 1268.2 1824.5 1268.2 1824.5 1271.7 1821.8 1271.7 1821.8 1268.1 1819.0 1268.1 1819.0 1267.7 1816.2 1267.7 1816.2 1269.1 1813.5 1269.1 1813.5 1269.6 1810.8 1269.6 1810.8 1271.3 1808.0 1271.3 1808.0 1269.8 1805.2 1269.8 1805.2 1270.4 1802.5 1270.4 1802.5 1269.3 1799.8 1269.3 1799.8 1268.4 1797.0 1268.4 1797.0 1267.4 1794.2 1267.4 1794.2 1267.5 1791.5 1267.5 1791.5 1267.0 1788.8 1267.0 1788.8 1267.2 1786.0 1267.2 1786.0 1268.2 1783.2 1268.2 1783.2 1267.2 1780.5 1267.2 1780.5 1266.6 1777.8 1266.6 1777.8 1268.4 1775.0 1268.4 1775.0 1268.7 1772.2 1268.7 1772.2 1265.6 1769.5 1265.6 1769.5 1266.7 1766.8 1266.7 1766.8 1269.8 1764.0 1269.8 1764.0 1267.8 1761.2 1267.8 1761.2 1267.1 1758.5 1267.1 1758.5 1266.7 1755.8 1266.7 1755.8 1268.3 1753.0 1268.3 1753.0 1266.7 1750.2 1266.7 1750.2 1266.8 1747.5 1266.8 1747.5 1268.5 1744.8 1268.5 1744.8 1270.8 1742.0 1270.8 1742.0 1266.0 1739.2 1266.0 1739.2 1266.6 1736.5 1266.6 1736.5 1267.9 1733.8 1267.9 1733.8 1268.7 1731.0 1268.7 1731.0 1266.9 1728.2 1266.9 1728.2 1267.7 1725.5 1267.7 1725.5 1268.0 1722.8 1268.0 1722.8 1268.2 1720.0 1268.2 1720.0 1267.8 1717.2 1267.8 1717.2 1268.4 1714.5 1268.4 1714.5 1266.0 1711.8 1266.0 1711.8 1266.9 1709.0 1266.9 1709.0 1268.7 1706.2 1268.7 1706.2 1269.4 1703.5 1269.4 1703.5 1269.2 1700.8 1269.2 1700.8 1269.0 1698.0 1269.0 1698.0 1267.2 1695.2 1267.2 1695.2 1267.4 1692.5 1267.4 1692.5 1267.8 1689.8 1267.8 1689.8 1265.3 1687.0 1265.3 1687.0 1265.4 1684.2 1265.4 1684.2 1268.3 1681.5 1268.3 1681.5 1266.7 1678.8 1266.7 1678.8 1266.7 1676.0 1266.7 1676.0 1267.4 1673.2 1267.4 1673.2 1266.3 1670.5 1266.3 1670.5 1266.0 1667.8 1266.0 1667.8 1266.5 1665.0 1266.5 1665.0 1265.9 1662.2 1265.9 1662.2 1267.0 1659.5 1267.0 1659.5 1266.6 1656.8 1266.6 1656.8 1266.4 1654.0 1266.4 1654.0 1266.6 1651.2 1266.6 1651.2 1266.0 1648.5 1266.0 1648.5 1267.0 1645.8 1267.0 1645.8 1266.9 1643.0 1266.9 1643.0 1265.5 1640.2 1265.5 1640.2 1267.7 1637.5 1267.7 1637.5 1266.4 1634.8 1266.4 1634.8 1267.9 1632.0 1267.9 1632.0 1267.1 1629.2 1267.1 1629.2 1264.3 1626.5 1264.3 1626.5 1264.9 1623.8 1264.9 1623.8 1266.4 1621.0 1266.4 1621.0 1266.7 1618.2 1266.7 1618.2 1265.5 1615.5 1265.5 1615.5 1264.7 1612.8 1264.7 1612.8 1267.7 1610.0 1267.7 1610.0 1266.3 1607.2 1266.3 1607.2 1268.4 1604.5 1268.4 1604.5 1266.9 1601.8 1266.9 1601.8 1268.4 1599.0 1268.4 1599.0 1267.9 1596.2 1267.9 1596.2 1268.2 1593.5 1268.2 1593.5 1266.6 1590.8 1266.6 1590.8 1266.8 1588.0 1266.8 1588.0 1266.5 1585.2 1266.5 1585.2 1265.8 1582.5 1265.8 1582.5 1264.9 1579.8 1264.9 1579.8 1266.4 1577.0 1266.4 1577.0 1268.2 1574.2 1268.2 1574.2 1266.1 1571.5 1266.1 1571.5 1267.2 1568.8 1267.2 1568.8 1267.5 1566.0 1267.5 1566.0 1266.6 1563.2 1266.6 1563.2 1268.4 1560.5 1268.4 1560.5 1268.3 1557.8 1268.3 1557.8 1267.2 1555.0 1267.2 1555.0 1267.2 1552.2 1267.2 1552.2 1266.6 1549.5 1266.6 1549.5 1265.6 1546.8 1265.6 1546.8 1265.8 1544.0 1265.8 1544.0 1266.2 1541.2 1266.2 1541.2 1267.0 1538.5 1267.0 1538.5 1265.0 1535.8 1265.0 1535.8 1265.6 1533.0 1265.6 1533.0 1267.4 1530.2 1267.4 1530.2 1267.4 1527.5 1267.4 1527.5 1265.9 1524.8 1265.9 1524.8 1266.3 1522.0 1266.3 1522.0 1267.0 1519.2 1267.0 1519.2 1266.7 1516.5 1266.7 1516.5 1267.8 1513.8 1267.8 1513.8 1268.4 1511.0 1268.4 1511.0 1267.9 1508.2 1267.9 1508.2 1267.8 1505.5 1267.8 1505.5 1268.2 1502.8 1268.2 1502.8 1265.8 1500.0 1265.8 1500.0 1266.7 1497.2 1266.7 1497.2 1266.9 1494.5 1266.9 1494.5 1265.2 1491.8 1265.2 1491.8 1264.3 1489.0 1264.3 1489.0 1265.0 1486.2 1265.0 1486.2 1264.8 1483.5 1264.8 1483.5 1267.4 1480.8 1267.4 1480.8 1262.2 1478.0 1262.2 1478.0 1263.4 1475.2 1263.4 1475.2 1264.3 1472.5 1264.3 1472.5 1263.8 1469.8 1263.8 1469.8 1263.6 1467.0 1263.6 1467.0 1265.3 1464.2 1265.3 1464.2 1264.5 1461.5 1264.5 1461.5 1265.9 1458.8 1265.9 1458.8 1261.9 1456.0 1261.9 1456.0 1267.3 1453.2 1267.3 1453.2 1263.3 1450.5 1263.3 1450.5 1263.2 1447.8 1263.2 1447.8 1262.7 1445.0 1262.7 1445.0 1261.2 1442.2 1261.2 1442.2 1264.8 1439.5 1264.8 1439.5 1263.9 1436.8 1263.9 1436.8 1264.8 1434.0 1264.8 1434.0 1264.0 1431.2 1264.0 1431.2 1262.7 1428.5 1262.7 1428.5 1261.8 1425.8 1261.8 1425.8 1259.9 1423.0 1259.9 1423.0 1261.1 1420.2 1261.1 1420.2 1262.7 1417.5 1262.7 1417.5 1263.0 1414.8 1263.0 1414.8 1262.2 1412.0 1262.2 1412.0 1264.0 1409.2 1264.0 1409.2 1264.1 1406.5 1264.1 1406.5 1262.8 1403.8 1262.8 1403.8 1262.9 1401.0 1262.9 1401.0 1261.7 1398.2 1261.7 1398.2 1261.4 1395.5 1261.4 1395.5 1262.8 1392.8 1262.8 1392.8 1263.8 1390.0 1263.8 1390.0 1262.6 1387.2 1262.6 1387.2 1262.8 1384.5 1262.8 1384.5 1262.9 1381.8 1262.9 1381.8 1263.3 1379.0 1263.3 1379.0 1263.0 1376.2 1263.0 1376.2 1263.0 1373.5 1263.0 1373.5 1262.0 1370.8 1262.0 1370.8 1260.5 1368.0 1260.5 1368.0 1261.1 1365.2 1261.1 1365.2 1261.1 1362.5 1261.1 1362.5 1261.7 1359.8 1261.7 1359.8 1262.5 1357.0 1262.5 1357.0 1264.6 1354.2 1264.6 1354.2 1264.1 1351.5 1264.1 1351.5 1261.1 1348.8 1261.1 1348.8 1262.5 1346.0 1262.5 1346.0 1261.1 1343.2 1261.1 1343.2 1262.5 1340.5 1262.5 1340.5 1261.6 1337.8 1261.6 1337.8 1260.6 1335.0 1260.6 1335.0 1260.4 1332.2 1260.4 1332.2 1262.6 1329.5 1262.6 1329.5 1261.0 1326.8 1261.0 1326.8 1262.6 1324.0 1262.6 1324.0 1261.0 1321.2 1261.0 1321.2 1262.4 1318.5 1262.4 1318.5 1262.7 1315.8 1262.7 1315.8 1259.9 1313.0 1259.9 1313.0 1261.2 1310.2 1261.2 1310.2 1262.9 1307.5 1262.9 1307.5 1261.2 1304.8 1261.2 1304.8 1262.0 1302.0 1262.0 1302.0 1259.8 1299.2 1259.8 1299.2 1259.5 1296.5 1259.5 1296.5 1260.0 1293.8 1260.0 1293.8 1261.0 1291.0 1261.0 1291.0 1261.1 1288.2 1261.1 1288.2 1260.6 1285.5 1260.6 1285.5 1261.6 1282.8 1261.6 1282.8 1259.7 1280.0 1259.7 1280.0 1261.3 1277.2 1261.3 1277.2 1261.9 1274.5 1261.9 1274.5 1260.1 1271.8 1260.1 1271.8 1258.3 1269.0 1258.3 1269.0 1258.7 1266.2 1258.7 1266.2 1260.9 1263.5 1260.9 1263.5 1262.1 1260.8 1262.1 1260.8 1259.6 1258.0 1259.6 1258.0 1260.7 1255.2 1260.7 1255.2 1259.3 1252.5 1259.3 1252.5 1259.3 1249.8 1259.3 1249.8 1260.2 1247.0 1260.2 1247.0 1262.9 1244.2 1262.9 1244.2 1260.5 1241.5 1260.5 1241.5 1260.9 1238.8 1260.9 1238.8 1259.4 1236.0 1259.4 1236.0 1258.2 1233.2 1258.2 1233.2 1258.8 1230.5 1258.8 1230.5 1258.2 1227.8 1258.2 1227.8 1261.5 1225.0 1261.5 1225.0 1259.4 1222.2 1259.4 1222.2 1259.9 1219.5 1259.9 1219.5 1259.3 1216.8 1259.3 1216.8 1260.6 1214.0 1260.6 1214.0 1259.7 1211.2 1259.7 1211.2 1259.4 1208.5 1259.4 1208.5 1264.4 1205.8 1264.4 1205.8 1262.2 1203.0 1262.2 1203.0 1260.3 1200.2 1260.3 1200.2 1259.0 1197.5 1259.0 1197.5 1258.6 1194.8 1258.6 1194.8 1258.7 1192.0 1258.7 1192.0 1258.4 1189.2 1258.4 1189.2 1259.5 1186.5 1259.5 1186.5 1257.8 1183.8 1257.8 1183.8 1258.1 1181.0 1258.1 1181.0 1257.6 1178.2 1257.6 1178.2 1258.0 1175.5 1258.0 1175.5 1258.2 1172.8 1258.2 1172.8 1258.7 1170.0 1258.7 1170.0 1259.7 1167.2 1259.7 1167.2 1259.6 1164.5 1259.6 1164.5 1258.3 1161.8 1258.3 1161.8 1259.2 1159.0 1259.2 1159.0 1257.7 1156.2 1257.7 1156.2 1256.0 1153.5 1256.0 1153.5 1255.6 1150.8 1255.6 1150.8 1255.8 1148.0 1255.8 1148.0 1255.0 1145.2 1255.0 1145.2 1254.9 1142.5 1254.9 1142.5 1254.8 1139.8 1254.8 1139.8 1257.6 1137.0 1257.6 1137.0 1254.4 1134.2 1254.4 1134.2 1257.0 1131.5 1257.0 1131.5 1256.5 1128.8 1256.5 1128.8 1257.1 1126.0 1257.1 1126.0 1257.4 1123.2 1257.4 1123.2 1256.2 1120.5 1256.2 1120.5 1254.0 1117.8 1254.0 1117.8 1254.6 1115.0 1254.6 1115.0 1255.6 1112.2 1255.6 1112.2 1256.6 1109.5 1256.6 1109.5 1256.6 1106.8 1256.6 1106.8 1255.4 1104.0 1255.4 1104.0 1257.2 1101.2 1257.2 1101.2 1254.4 1098.5 1254.4 1098.5 1255.0 1095.8 1255.0 1095.8 1254.7 1093.0 1254.7 1093.0 1254.8 1090.2 1254.8 1090.2 1253.9 1087.5 1253.9 1087.5 1255.2 1084.8 1255.2 1084.8 1255.3 1082.0 1255.3 1082.0 1252.3 1079.2 1252.3 1079.2 1251.0 1076.5 1251.0 1076.5 1253.0 1073.8 1253.0 1073.8 1252.8 1071.0 1252.8 1071.0 1251.7 1068.2 1251.7 1068.2 1252.8 1065.5 1252.8 1065.5 1250.8 1062.8 1250.8 1062.8 1253.4 1060.0 1253.4 1060.0 1255.3 1057.2 1255.3 1057.2 1252.0 1054.5 1252.0 1054.5 1253.5 1051.8 1253.5 1051.8 1252.1 1049.0 1252.1 1049.0 1251.8 1046.2 1251.8 1046.2 1252.0 1043.5 1252.0 1043.5 1249.8 1040.8 1249.8 1040.8 1252.9 1038.0 1252.9 1038.0 1251.0 1035.2 1251.0 1035.2 1253.0 1032.5 1253.0 1032.5 1252.6 1029.8 1252.6 1029.8 1254.2 1027.0 1254.2 1027.0 1251.8 1024.2 1251.8 1024.2 1252.1 1021.5 1252.1 1021.5 1253.0 1018.8 1253.0 1018.8 1250.8 1016.0 1250.8 1016.0 1248.0 1013.2 1248.0 1013.2 1251.6 1010.5 1251.6 1010.5 1250.7 1007.8 1250.7 1007.8 1252.4 1005.0 1252.4 1005.0 1254.1 1002.2 1254.1 1002.2 1251.2 999.5 1251.2 999.5 1252.1 996.8 1252.1 996.8 1252.1 994.0 1252.1 994.0 1250.3 991.2 1250.3 991.2 1252.5 988.5 1252.5 988.5 1251.6 985.8 1251.6 985.8 1251.2 983.0 1251.2 983.0 1249.1 980.2 1249.1 980.2 1249.2 977.5 1249.2 977.5 1247.0 974.8 1247.0 974.8 1248.3 972.0 1248.3 972.0 1246.0 969.2 1246.0 969.2 1245.9 966.5 1245.9 966.5 1248.1 963.8 1248.1 963.8 1247.0 961.0 1247.0 961.0 1246.4 958.2 1246.4 958.2 1246.2 955.5 1246.2 955.5 1246.1 952.8 1246.1 952.8 1250.5 950.0 1250.5 950.0 1246.6 947.2 1246.6 947.2 1244.0 944.5 1244.0 944.5 1245.7 941.8 1245.7 941.8 1246.2 939.0 1246.2 939.0 1247.7 936.2 1247.7 936.2 1246.3 933.5 1246.3 933.5 1247.8 930.8 1247.8 930.8 1249.0 928.0 1249.0 928.0 1247.2 925.2 1247.2 925.2 1247.0 922.5 1247.0 922.5 1246.7 919.8 1246.7 919.8 1246.6 917.0 1246.6 917.0 1247.0 914.2 1247.0 914.2 1251.2 911.5 1251.2 911.5 1246.3 908.8 1246.3 908.8 1243.8 906.0 1243.8 906.0 1246.0 903.2 1246.0 903.2 1243.9 900.5 1243.9 900.5 1242.8 897.8 1242.8 897.8 1243.8 895.0 1243.8 895.0 1244.4 892.2 1244.4 892.2 1244.9 889.5 1244.9 889.5 1245.8 886.8 1245.8 886.8 1242.6 884.0 1242.6 884.0 1243.6 881.2 1243.6 881.2 1241.0 878.5 1241.0 878.5 1241.9 875.8 1241.9 875.8 1241.2 873.0 1241.2 873.0 1242.3 870.2 1242.3 870.2 1239.6 867.5 1239.6 867.5 1239.6 864.8 1239.6 864.8 1240.5 862.0 1240.5 862.0 1244.4 859.2 1244.4 859.2 1242.4 856.5 1242.4 856.5 1236.9 853.8 1236.9 853.8 1237.9 851.0 1237.9 851.0 1238.2 848.2 1238.2 848.2 1238.9 845.5 1238.9 845.5 1241.3 842.8 1241.3 842.8 1237.9 840.0 1237.9 840.0 1240.1 837.2 1240.1 837.2 1235.3 834.5 1235.3 834.5 1238.3 831.8 1238.3 831.8 1235.2 829.0 1235.2 829.0 1237.5 826.2 1237.5 826.2 1235.1 823.5 1235.1 823.5 1234.0 820.8 1234.0 820.8 1232.4 818.0 1232.4 818.0 1232.4 815.2 1232.4 815.2 1230.9 812.5 1230.9 812.5 1230.3 809.8 1230.3 809.8 1230.3 807.0 1230.3 807.0 1229.9 804.2 1229.9 804.2 1229.7 801.5 1229.7 801.5 1228.8 798.8 1228.8 798.8 1227.1 796.0 1227.1 796.0 1222.8 793.2 1222.8 793.2 1222.0 790.5 1222.0 790.5 1222.6 787.8 1222.6 787.8 1220.3 785.0 1220.3 785.0 1214.3 782.2 1214.3 782.2 1214.0 779.5 1214.0 779.5 1210.9 776.8 1210.9 776.8 1208.7 774.0 1208.7 774.0 1205.6 771.2 1205.6 771.2 1204.3 768.5 1204.3 768.5 1201.3 765.8 1201.3 765.8 1203.9 763.0 1203.9 763.0 1199.0 760.2 1199.0 760.2 1201.2 757.5 1201.2 757.5 1199.4 754.8 1199.4 754.8 1200.9 752.0 1200.9 752.0 1198.7 749.2 1198.7 749.2 1201.0 746.5 1201.0 746.5 1200.1 743.8 1200.1 743.8 1198.8 741.0 1198.8 741.0 1202.5 738.2 1202.5 738.2 1207.0 735.5 1207.0 735.5 1209.9 732.8 1209.9 732.8 1208.3 730.0 1208.3 730.0 1208.1 727.2 1208.1 727.2 1205.4 724.5 1205.4 724.5 1209.0 721.8 1209.0 721.8 1211.1 719.0 1211.1 719.0 1211.0 716.2 1211.0 716.2 1212.3 713.5 1212.3 713.5 1212.9 710.8 1212.9 710.8 1207.0 708.0 1207.0 708.0 1204.6 705.2 1204.6 705.2 1210.5 702.5 1210.5 702.5 1209.2 699.8 1209.2 699.8 1210.7 697.0 1210.7 697.0 1209.5 694.2 1209.5 694.2 1209.5 691.5 1209.5 691.5 1206.9 688.8 1206.9 688.8 1209.8 686.0 1209.8 686.0 1208.6 683.2 1208.6 683.2 1207.9 680.5 1207.9 680.5 1209.5 677.8 1209.5 677.8 1212.1 675.0 1212.1 675.0 1210.8 672.2 1210.8 672.2 1211.3 669.5 1211.3 669.5 1211.2 666.8 1211.2 666.8 1210.5 664.0 1210.5 664.0 1211.8 661.2 1211.8 661.2 1212.7 658.5 1212.7 658.5 1210.1 655.8 1210.1 655.8 1207.4 653.0 1207.4 653.0 1206.4 650.2 1206.4 650.2 1207.9 647.5 1207.9 647.5 1208.7 644.8 1208.7 644.8 1210.7 642.0 1210.7 642.0 1208.5 639.2 1208.5 639.2 1207.9 636.5 1207.9 636.5 1206.6 633.8 1206.6 633.8 1202.7 631.0 1202.7 631.0 1207.5 628.2 1207.5 628.2 1206.0 625.5 1206.0 625.5 1205.8 622.8 1205.8 622.8 1206.3 620.0 1206.3 620.0 1204.2 617.2 1204.2 617.2 1201.8 614.5 1201.8 614.5 1203.0 611.8 1203.0 611.8 1200.7 609.0 1200.7 609.0 1203.7 606.2 1203.7 606.2 1199.3 603.5 1199.3 603.5 1200.3 600.8 1200.3 600.8 1200.3 598.0 1200.3 598.0 1198.3 595.2 1198.3 595.2 1200.0 592.5 1200.0 592.5 1198.6 589.8 1198.6 589.8 1196.7 587.0 1196.7 587.0 1197.3 584.2 1197.3 584.2 1197.3 581.5 1197.3 581.5 1194.7 578.8 1194.7 578.8 1194.8 576.0 1194.8 576.0 1192.1 573.2 1192.1 573.2 1189.3 570.5 1189.3 570.5 1188.2 567.8 1188.2 567.8 1186.7 565.0 1186.7 565.0 1186.9 562.2 1186.9 562.2 1184.6 559.5 1184.6 559.5 1180.4 556.8 1180.4 556.8 1183.2 554.0 1183.2 554.0 1183.3 551.2 1183.3 551.2 1186.0 548.5 1186.0 548.5 1184.0 545.8 1184.0 545.8 1178.5 543.0 1178.5 543.0 1174.9 540.2 1174.9 540.2 1175.8 537.5 1175.8 537.5 1175.9 534.8 1175.9 534.8 1174.5 532.0 1174.5 532.0 1177.6 529.2 1177.6 529.2 1178.4 526.5 1178.4 526.5 1181.3 523.8 1181.3 523.8 1178.1 521.0 1178.1 521.0 1178.0 518.2 1178.0 518.2 1173.6 515.5 1173.6 515.5 1175.8 512.8 1175.8 512.8 1175.6 510.0 1175.6 510.0 1176.7 507.2 1176.7 507.2 1178.8 504.5 1178.8 504.5 1174.4 501.8 1174.4 501.8 1172.2 499.0 1172.2 499.0 1170.2 496.2 1170.2 496.2 1170.1 493.5 1170.1 493.5 1173.7 490.8 1173.7 490.8 1168.8 488.0 1168.8 488.0 1165.9 485.2 1165.9 485.2 1163.7 482.5 1163.7 482.5 1162.8 479.8 1162.8 479.8 1161.9 477.0 1161.9 477.0 1158.7 474.2 1158.7 474.2 1155.3 471.5 1155.3 471.5 1149.1 468.8 1149.1 468.8 1138.9 466.0 1138.9 466.0 1129.9 463.2 1129.9 463.2 1119.5 460.5 1119.5 460.5 1106.2 457.8 1106.2 457.8 1093.7 455.0 1093.7 455.0 1078.7 452.2 1078.7 452.2 1059.6 449.5 1059.6 449.5 1037.4 446.8 1037.4 446.8 1003.1 444.0 1003.1 444.0 965.6 441.2 965.6 441.2 913.9 438.5 913.9 438.5 879.4 435.8 879.4 435.8 854.6 433.0 854.6 433.0 823.8 430.2 823.8 430.2 795.5 427.5 795.5 427.5 792.5 424.8 792.5 424.8 823.7 422.0 823.7 422.0 854.4 419.2 854.4 419.2 883.0 416.5 883.0 416.5 916.3 413.8 916.3 413.8 955.7 411.0 955.7 411.0 990.0 408.2 990.0 408.2 1013.3 405.5 1013.3 405.5 1036.3 402.8 1036.3 402.8 1055.9 400.0 1055.9 400.0 1077.0 397.2 1077.0 397.2 1090.6 394.5 1090.6 394.5 1104.6 391.8 1104.6 391.8 1119.8 389.0 1119.8 389.0 1131.5 386.2 1131.5 386.2 1142.4 383.5 1142.4 383.5 1151.3 380.8 1151.3 380.8 1161.6 378.0 1161.6 378.0 1169.0 375.2 1169.0 375.2 1173.9 372.5 1173.9 372.5 1176.5 369.8 1176.5 369.8 1181.6 367.0 1181.6 367.0 1183.7 364.2 1183.7 364.2 1187.4 361.5 1187.4 361.5 1193.6 358.8 1193.6 358.8 1196.2 356.0 1196.2 356.0 1200.7 353.2 1200.7 353.2 1204.3 350.5 1204.3 350.5 1204.1 347.8 1204.1 347.8 1208.1 345.0 1208.1 345.0 1209.8 342.2 1209.8 342.2 1209.0 339.5 1209.0 339.5 1210.2 336.8 1210.2 336.8 1214.1 334.0 1214.1 334.0 1217.2 331.2 1217.2 331.2 1215.8 328.5 1215.8 328.5 1223.3 325.8 1223.3 325.8 1221.8 323.0 1221.8 323.0 1222.2 320.2 1222.2 320.2 1220.8 317.5 1220.8 317.5 1221.4 314.8 1221.4 314.8 1223.8 312.0 1223.8 312.0 1224.9 309.2 1224.9 309.2 1227.7 306.5 1227.7 306.5 1229.0 303.8 1229.0 303.8 1230.6 301.0 1230.6 301.0 1230.7 298.2 1230.7 298.2 1227.8 295.5 1227.8 295.5 1231.8 292.8 1231.8 292.8 1231.3 290.0 1231.3 290.0 1233.4 287.2 1233.4 287.2 1233.4 284.5 1233.4 284.5 1235.5 281.8 1235.5 281.8 1238.6 279.0 1238.6 279.0 1236.3 276.2 1236.3 276.2 1236.6 273.5 1236.6 273.5 1236.1 270.8 1236.1 270.8 1234.9 268.0 1234.9 268.0 1237.1 265.2 1237.1 265.2 1237.2 262.5 1237.2 262.5 1237.3 259.8 1237.3 259.8 1237.9 257.0 1237.9 257.0 1241.9 254.2 1241.9 254.2 1239.3 251.5 1239.3 251.5 1240.5 248.8 1240.5 248.8 1242.4 246.0 1242.4 246.0 1242.7 243.2 1242.7 243.2 1241.8 240.5 1241.8 240.5 1240.3 237.8 1240.3 237.8 1241.8 235.0 1241.8 235.0 1245.0 232.2 1245.0 232.2 1244.3 229.5 1244.3 229.5 1243.8 226.8 1243.8 226.8 1246.0 224.0 1246.0 224.0 1243.7 221.2 1243.7 221.2 1240.9 218.5 1240.9Z"/>
</g>
<g font-family="'Liberation Sans', sans-serif" font-size="92" fill="#000">
<text x="370.8" y="1603" text-anchor="middle">10</text>
<text x="675.8" y="1603" text-anchor="middle">20</text>
<text x="980.8" y="1603" text-anchor="middle">30</text>
<text x="1285.8" y="1603" text-anchor="middle">40</text>
<text x="1590.8" y="1603" text-anchor="middle">50</text>
<text x="1895.8" y="1603" text-anchor="middle">60</text>
<text x="2200.8" y="1603" text-anchor="middle">70</text>
</g>
<rect x="323" y="1594" width="20" height="11" fill="#fff"/><rect x="351" y="1594" width="17.4" height="11" fill="#fff"/>
<text transform="translate(85,770.6) rotate(-90)" font-family="'Liberation Sans', sans-serif" font-weight="bold" font-size="92" fill="#000" x="-6">Intensity (a.u.)</text>
<text x="1057.4" y="1719" font-family="'Liberation Sans', sans-serif" font-size="88" fill="#000"><tspan font-weight="bold">2</tspan><tspan font-size="85">θ</tspan><tspan font-weight="bold">(deg.)</tspan></text>
<g font-family="'Liberation Serif', serif" font-weight="bold" font-size="91.5" fill="#000">
<text x="1570" y="190">SG-PEI-rGH</text>
<text x="1570" y="448">SG-PEI</text>
<text x="1592" y="710">rGH</text>
<text x="1596" y="1102">GO</text>
</g>
</svg>
</body></html>
